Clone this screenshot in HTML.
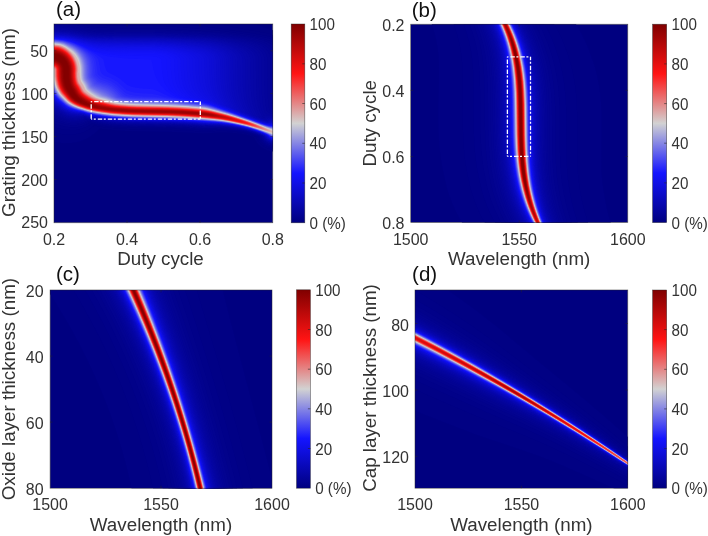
<!DOCTYPE html>
<html><head><meta charset="utf-8"><style>
html,body{margin:0;padding:0;background:#fff;}
body{width:708px;height:536px;overflow:hidden;}
svg{display:block;will-change:transform;font-family:"Liberation Sans", sans-serif;}
</style></head><body>
<svg width="708" height="536" viewBox="0 0 708 536">
<defs><clipPath id="clipa"><rect x="54.0" y="24.0" width="218.80" height="198.80"/></clipPath><linearGradient id="cga" x1="0" y1="1" x2="0" y2="0"><stop offset="0.0" stop-color="rgb(0, 0, 128)"/><stop offset="0.25" stop-color="rgb(20, 20, 255)"/><stop offset="0.5" stop-color="rgb(210, 210, 210)"/><stop offset="0.75" stop-color="rgb(255, 20, 20)"/><stop offset="1.0" stop-color="rgb(128, 0, 0)"/></linearGradient><clipPath id="clipb"><rect x="410.7" y="24.2" width="217.10" height="198.40"/></clipPath><linearGradient id="cgb" x1="0" y1="1" x2="0" y2="0"><stop offset="0.0" stop-color="rgb(0, 0, 128)"/><stop offset="0.25" stop-color="rgb(20, 20, 255)"/><stop offset="0.5" stop-color="rgb(210, 210, 210)"/><stop offset="0.75" stop-color="rgb(255, 20, 20)"/><stop offset="1.0" stop-color="rgb(128, 0, 0)"/></linearGradient><clipPath id="clipc"><rect x="50.1" y="290.0" width="221.90" height="198.20"/></clipPath><linearGradient id="cgc" x1="0" y1="1" x2="0" y2="0"><stop offset="0.0" stop-color="rgb(0, 0, 128)"/><stop offset="0.25" stop-color="rgb(20, 20, 255)"/><stop offset="0.5" stop-color="rgb(210, 210, 210)"/><stop offset="0.75" stop-color="rgb(255, 20, 20)"/><stop offset="1.0" stop-color="rgb(128, 0, 0)"/></linearGradient><clipPath id="clipd"><rect x="415.0" y="290.0" width="212.80" height="198.20"/></clipPath><linearGradient id="cgd" x1="0" y1="1" x2="0" y2="0"><stop offset="0.0" stop-color="rgb(0, 0, 128)"/><stop offset="0.25" stop-color="rgb(20, 20, 255)"/><stop offset="0.5" stop-color="rgb(210, 210, 210)"/><stop offset="0.75" stop-color="rgb(255, 20, 20)"/><stop offset="1.0" stop-color="rgb(128, 0, 0)"/></linearGradient></defs>
<g clip-path="url(#clipa)">
<rect x="54.0" y="24.0" width="218.80" height="198.80" fill="rgb(0, 0, 128)"/>
<path fill="rgb(1,1,132)" fill-rule="evenodd" d="M275.5 151.8 271.5 151.5 268.5 150.8 265.5 149.8 262.5 148.1 260 146.2 257.9 144 255.7 141 253.8 137.5 253.2 137 250.4 136 246.9 135 242 134 233.9 133 226.5 132.5 220 132.4 207.5 133.3 202.5 133.4 186.1 132.5 173.7 132 138 131.3 125.5 130.9 112 130.1 100 128.8 99.5 128.8 99.3 129 96.5 131.8 94 134 91.5 135.8 89.5 137.1 87 138.4 84 139.8 81 140.9 78 141.7 75 142.4 71.5 142.9 68 143.1 64.5 143.2 61 142.9 58 142.6 54.5 141.9 51 141.1 50.6 113 50.5 93.5 50.5 42 50.7 21 51 20.7 52 20.7 247.5 21 247.9 21.5 248.7 22 251 23 275.5 31 275.8 48.5 275.8 107.5 276 133 275.9 143.5 275.5 151.8Z"/><path fill="rgb(1,1,134)" fill-rule="evenodd" d="M275.5 149.7 271.5 149.3 269 148.7 266.5 147.8 264 146.5 261.5 144.6 259.5 142.5 257.7 140 256.1 137 255.3 136.5 254.1 136 249.7 134.5 245.9 133.5 243.6 133 237.1 132 230.5 131.3 226 131 220 130.8 207 131.5 203 131.5 185.7 130.5 173.5 130 138.5 129.3 127.5 129 116 128.3 108.5 127.7 101 126.8 94.5 125.5 94 125.6 91.5 127.6 89 129.3 85 131.4 82.5 132.4 80 133.2 77.5 133.7 75 134.2 72 134.5 69 134.5 66 134.5 63 134.2 60 133.7 57 133.1 54 132.2 51 131.2 50.7 110 50.5 89.5 50.5 41.5 50.8 21 51 20.8 52 20.8 208.7 21 209.5 21.5 210.8 22 216.9 23.5 238.1 28 264.5 32.8 270.5 34.2 275.5 35.6 275.8 50 275.8 107.5 276 133 275.9 143 275.5 149.7Z"/><path fill="rgb(1,1,137)" fill-rule="evenodd" d="M275.5 148.4 271.5 147.9 269 147.3 266.5 146.4 264.5 145.2 262.5 143.7 260.8 142 259.3 140 257.7 137 257.1 136.5 254.8 135.5 250.6 134 244.9 132.5 239.3 131.5 231.1 130.5 224.7 130 220 129.8 206.5 130.3 203 130.3 189.6 129.5 174.5 128.8 163.5 128.5 140 128.1 126.5 127.7 113.5 126.9 106.5 126.2 100 125.4 92.5 123.8 91.5 123.7 89 125.3 86.5 126.7 84 127.8 81.5 128.7 79 129.3 76 129.9 73 130.1 70.5 130.1 66.5 129.8 62.5 129.2 60 128.7 55.5 127.4 51 125.7 50.7 106.5 50.5 85 50.5 41 50.8 21 51 20.8 52 20.8 108.6 21 113.2 21.5 115.5 21.6 129.5 21.9 153 22 158.5 22.2 165.5 22.7 182 24.2 201 26.1 213.5 27.7 231.9 30.5 248 32.7 255 33.8 268 36.3 272 37.3 275.5 38.3 275.7 51.5 275.7 107.5 276 133 275.9 142.5 275.5 148.4Z"/><path fill="rgb(2,2,139)" fill-rule="evenodd" d="M275.5 147.5 271.5 146.9 269.5 146.5 267.5 145.8 265.5 144.7 263.5 143.3 261.7 141.5 260.2 139.5 258.8 137 258.4 136.5 255 135 250.7 133.5 245.1 132 239.7 131 232.3 130 227 129.5 220.5 129.1 203.5 129.5 187.3 128.5 176 128 163.5 127.6 138 127.2 124 126.7 112 125.9 105 125.2 99 124.2 90 122.4 89.5 122.5 87.5 123.6 85 124.8 82.5 125.8 80.5 126.3 78 126.9 75.5 127.2 71 127.3 68.5 127.1 66 126.7 60 125.3 55.5 123.9 51 121.9 50.6 99.5 50.5 62 50.6 38 50.9 21 52 20.9 78.7 21 80 21.5 83.7 22.5 91.3 24 98.5 24.9 106 25.5 120 25.8 152 26 161 26.2 177 27.1 203.5 29.3 227 31.8 241.5 33.7 249 34.8 260.5 36.7 266.5 37.9 271.5 39.3 273.4 40 275.5 41 275.7 54.5 275.7 108.5 276 133 275.9 141.5 275.5 147.5Z"/><path fill="rgb(2,2,142)" fill-rule="evenodd" d="M275.5 146.7 272 146.2 270 145.8 268 145.1 266 144.1 264 142.7 262.3 141 260.8 139 259.4 136.5 257.3 135.5 254.9 134.5 250.5 133 244.8 131.5 239.4 130.5 232.1 129.5 227.2 129 220.5 128.5 217.5 128.5 207.5 128.8 203.5 128.8 190.8 128 174.5 127.2 165.5 127 136 126.4 121.5 125.8 112 125.2 103 124.2 98 123.3 89 121.3 88.5 121.3 88 121.5 85.5 122.7 83 123.7 79.5 124.6 75.5 125.2 71.5 125.2 67 124.7 63 123.7 56 121.4 53.5 120.3 51 119 50.6 97.5 50.5 58 50.6 37.5 51 21 60.8 21 61.5 21.1 67 21.8 72 22.7 85.5 25.5 90.8 26.5 96 27.2 102 27.7 107.5 28 116.5 28.2 153 28.4 164.5 28.7 176.5 29.3 201.5 30.9 217 32.2 226 33.1 234 34.2 249.5 36.3 258 37.7 262.5 38.6 266 39.5 270 41 273.1 42.5 275.5 44 275.6 57 275.6 108 276 133 275.9 141.5 275.5 146.7Z"/><path fill="rgb(3,3,145)" fill-rule="evenodd" d="M275.5 146.1 272 145.6 270 145.2 268.5 144.7 266.5 143.7 264.5 142.3 262.7 140.5 261.2 138.5 260.1 136.5 258.2 135.5 255.9 134.5 251.7 133 246.4 131.5 241.6 130.5 235.3 129.5 226.5 128.5 220 128.1 203.5 128.2 189 127.3 174.5 126.7 165.5 126.4 136 125.9 120.5 125.2 110 124.4 102 123.4 95.5 122.2 87.5 120.4 83 122.2 79.5 123.1 75.5 123.6 71.5 123.6 67.5 123.1 63.5 122.1 57 119.7 52.5 117.6 51 116.7 50.7 104.5 50.6 87.5 50.5 45.5 50.6 34.5 51 23.1 60.5 23.2 66.5 23.7 73 24.8 83.5 27 89 28.1 95.5 28.9 102 29.5 117.5 29.9 153 30 164 30.2 177.5 30.8 201 32.1 214.5 33.1 224.5 34.2 244 36.7 254.5 38.3 259 39.3 262.5 40.3 266.5 41.8 270 43.4 271.7 44.5 273 45.5 275.5 47.8 275.6 107.5 276 133 275.9 141 275.5 146.1Z"/><path fill="rgb(3,3,147)" fill-rule="evenodd" d="M275.5 145.6 270.5 144.7 269 144.3 267 143.3 265 142 263.4 140.5 261.9 138.5 260.8 136.5 258.9 135.5 256.7 134.5 251.1 132.5 245.6 131 240.6 130 234.1 129 225.5 128.1 220 127.7 203.5 127.8 189 126.8 174.5 126.2 165.5 125.9 136 125.4 120 124.6 110 123.9 102 122.9 95.5 121.7 86.5 119.6 83 121 79.5 121.9 76 122.3 72 122.3 68 121.8 64 120.7 57 117.9 53.5 116.3 51 114.8 50.9 111.5 50.6 92 50.5 50.5 50.6 36.5 51 24.8 55 24.6 59.5 24.6 66 25.1 72.5 26.2 83.5 28.5 89 29.5 94 30.1 100 30.6 115 31 153 31.1 164.5 31.3 187 32.3 202.5 33.2 211 33.8 219.5 34.7 236.5 36.7 244.5 37.8 250 38.7 254.5 39.6 259.3 41 263.4 42.5 266.6 44 269.6 46 271 47.1 272.4 48.5 273.2 49.5 274.2 51 275.5 53.7 275.5 107.5 276 133 275.9 140.5 275.5 145.6Z"/><path fill="rgb(3,3,150)" fill-rule="evenodd" d="M275.5 145.1 270.5 144.2 269 143.8 267 142.8 265.2 141.5 263.6 140 262.5 138.5 261.3 136.5 259.6 135.5 256.2 134 250.3 132 244.6 130.5 239.3 129.5 232.6 128.5 226.5 127.8 220 127.3 204 127.4 190.7 126.5 176.5 125.8 165.5 125.5 134.5 124.9 119.5 124.2 109.5 123.4 101.5 122.4 93.5 120.8 86 119 82 120.3 79 120.9 75.5 121.3 72.5 121.2 68.5 120.7 64.5 119.6 61 118.2 54.5 115.3 51 113.1 50.6 94 50.5 56 50.6 38 51 26 55 25.8 59 25.8 65.5 26.3 71.5 27.2 82.5 29.5 87.5 30.4 92.3 31 98.8 31.5 115 31.9 153 32 165 32.2 187.5 33.2 201.5 34 209.5 34.6 230 36.8 240 38.1 245.7 39 250.5 40 255.8 41.5 260 43 263.2 44.5 265.7 46 267.5 47.3 268.8 48.5 270.1 50 271.4 52 272.4 54 272.9 56 273.4 58.5 273.4 60 273.5 87.5 273.8 98.5 274.3 106 274.7 107.5 275.5 109.1 275.9 125 276 133 275.9 140 275.5 145.1Z"/><path fill="rgb(4,4,152)" fill-rule="evenodd" d="M275.5 144.7 270.5 143.8 269 143.3 267.5 142.6 265.8 141.5 264.2 140 263 138.5 261.8 136.5 260.1 135.5 256.8 134 251.1 132 245.6 130.5 240.7 129.5 234.5 128.5 226.1 127.5 220 127 203.5 127 188.6 126 178.5 125.5 164 125.1 136 124.5 127.5 124.2 118 123.7 108.5 122.9 101 121.9 93 120.3 85.5 118.4 85 118.5 81 119.7 78.5 120.1 75.5 120.4 72.5 120.3 68.5 119.7 65 118.7 62 117.5 55.5 114.5 53.5 113.3 51 111.7 50.6 93.5 50.5 56 50.6 38.5 51 27 55 26.8 59 26.8 65.5 27.3 71.5 28.2 80.1 30 85.6 31 92 31.8 99 32.3 115 32.6 153 32.8 164 33 184.5 33.8 200.5 34.7 208.5 35.3 218.5 36.2 227.5 37.2 236 38.4 242.8 39.5 248 40.7 252.7 42 256.9 43.5 260 44.9 262 46.1 264.1 47.5 265.5 48.7 266.7 50 268.2 52 269 53.5 269.5 55 270.2 58 270.4 60 270.6 91.5 270.8 98.5 271.2 104 271.6 107.5 272.1 108.5 272.7 109.5 273.4 110.5 275.5 112.4 275.9 124.5 275.9 133 275.8 140 275.5 144.7Z"/><path fill="rgb(4,4,155)" fill-rule="evenodd" d="M275.5 144.3 270.5 143.4 269 142.9 267.5 142.2 266 141.2 264.5 139.8 263.1 138 262.2 136.5 261.6 136 259.6 135 256.1 133.5 251.8 132 246.5 130.5 239.1 129 232.6 128 225 127.1 220 126.7 204 126.6 187.5 125.6 176.5 125.1 165.5 124.7 134 124.1 124 123.7 112.5 122.9 106 122.2 99.5 121.3 92 119.7 85 117.9 84.5 118 80.5 119 77.5 119.5 74 119.5 70.5 119.2 67.5 118.6 64.5 117.6 61.5 116.3 56.5 113.8 53.5 112.1 51 110.4 50.6 92.5 50.5 56 50.6 38.5 51 27.9 55 27.7 59 27.7 65 28.1 70 28.9 81 31 86 31.8 92 32.5 99 33 115 33.3 153 33.5 165 33.7 185 34.6 203.5 35.7 211.5 36.3 220.5 37.1 227.5 37.9 234.6 39 240 40 245.5 41.3 249.8 42.5 254 44 257 45.4 259 46.5 261.2 48 262.9 49.5 264 50.7 265.3 52.5 266.1 54 266.6 55.5 267.2 58 267.4 60 267.6 90.5 267.8 97 268.2 102.5 268.8 107.5 269.1 109 269.3 109.5 270.1 110.5 271.1 111.5 272.6 112.5 275.5 114.2 275.9 124.5 275.9 133 275.8 139.5 275.5 144.3Z"/><path fill="rgb(5,5,157)" fill-rule="evenodd" d="M275.5 144 271 143.2 269.5 142.7 268 142 266.5 141.1 265 139.8 263.9 138.5 262.6 136.5 262 136 259.1 134.5 255.3 133 250.9 131.5 245.2 130 237.4 128.5 230.5 127.5 226.1 127 219.5 126.5 204 126.3 191.4 125.5 176.5 124.8 166 124.4 134 123.8 124.5 123.4 115.5 122.8 108.5 122.2 101 121.2 91.5 119.3 84.5 117.4 80.5 118.3 77.5 118.8 74.5 118.8 71.5 118.6 69 118.1 66.5 117.5 64 116.6 61.5 115.4 55 112 53 110.7 51 109.2 50.7 92 50.5 56 50.6 39 51 28.7 55 28.5 59 28.5 65 28.9 70.5 29.7 79.9 31.5 86 32.5 92 33.2 98.5 33.6 115 34 153 34.1 164 34.3 184 35.2 202.5 36.2 211 36.8 217.5 37.4 224.5 38.2 229.7 39 235.2 40 241.8 41.5 246.5 42.8 250.5 44.2 254 45.8 256.2 47 258.5 48.5 259.6 49.5 261 51 262.2 52.5 263.1 54 263.5 55 264.1 57.5 264.4 60 264.5 80.5 264.7 91.5 265 98.5 265.5 104 266.5 109.5 266.9 111 267.3 111.5 268.5 112.4 269.6 113 275.5 115.4 275.9 125 275.9 133 275.8 139.5 275.5 144Z"/><path fill="rgb(5,5,160)" fill-rule="evenodd" d="M275.5 143.7 270.5 142.7 268 141.7 266.5 140.7 265.2 139.5 263.9 138 263 136.5 262.4 136 259.5 134.5 255.8 133 251.4 131.5 246 130 238.5 128.5 232.1 127.5 223.5 126.5 219.5 126.2 204 126.1 187.7 125 171.5 124.3 131.5 123.4 121 122.9 113.5 122.4 107 121.7 100 120.7 91 118.9 84 117 80 117.8 77 118.2 74.5 118.2 71.5 117.9 69 117.4 66.5 116.7 64 115.8 62 114.8 55.5 111.3 53 109.7 51 108.1 50.7 91.5 50.5 56 50.6 39.5 51 29.4 55 29.2 59 29.2 65 29.6 70 30.3 85.5 33 92 33.8 98.5 34.2 115 34.6 152.5 34.7 162.5 34.9 184.5 35.8 202 36.7 210 37.3 217 38 223 38.7 228.1 39.5 233 40.5 239.4 42 244 43.3 247.5 44.5 251.5 46.3 253.6 47.5 255.5 48.8 256.9 50 258.3 51.5 259.5 53 260.1 54 260.5 55 261.2 57.5 261.6 60 261.6 81 261.8 92 262.2 99 263 105 264.1 110 265 113 265.4 113.5 267 114.2 272.5 115.4 275.5 116.3 275.8 125 275.9 133 275.8 139.5 275.5 143.7Z"/><path fill="rgb(5,5,162)" fill-rule="evenodd" d="M275.5 143.4 270.5 142.4 269 141.9 268 141.3 266.5 140.3 265.5 139.4 264.3 138 263.4 136.5 262.8 136 259.9 134.5 256.3 133 252 131.5 246.7 130 239.5 128.5 233.4 127.5 225.3 126.5 219.3 126 203.5 125.8 186 124.6 171 124 132.5 123.2 123 122.8 114 122.1 105.5 121.3 99.5 120.4 91.5 118.7 84 116.7 79 117.4 76.5 117.6 74 117.6 71.5 117.3 69 116.8 67 116.2 64.5 115.3 62.5 114.4 55.5 110.5 53.5 109.2 51 107.2 50.7 91 50.5 56 50.6 39.5 51 30 55 29.8 58.5 29.8 64.5 30.2 70 30.9 81.5 32.9 86.5 33.7 92.5 34.4 98.5 34.8 114.5 35.2 152.5 35.3 162.5 35.4 184 36.3 201 37.2 208.5 37.7 215 38.3 220.4 39 225.5 39.8 230.5 40.8 236 42.2 241 43.6 245 45 248.5 46.6 251 47.9 252.6 49 254 50.2 255.7 52 256.8 53.5 257.4 54.5 258.5 58 258.7 60 258.9 86.5 259.3 96.5 259.8 101.5 260.4 105.5 261.3 109 262.5 112.5 263.7 115.5 264 115.8 271 116.1 273.5 116.6 275.5 117.1 275.8 125 275.9 133 275.8 139 275.5 143.4Z"/><path fill="rgb(6,6,165)" fill-rule="evenodd" d="M275.5 143.1 271 142.3 269.5 141.8 268.5 141.3 267 140.4 266 139.5 264.6 138 263.7 136.5 263.1 136 260.3 134.5 255.4 132.5 250.9 131 245.3 129.5 237.6 128 231.1 127 222.1 126 218.5 125.8 204 125.6 188 124.5 173 123.8 131.5 122.9 121 122.4 113.5 121.9 107 121.2 100 120.2 91 118.3 84 116.4 82.5 116.5 79.5 116.9 76.5 117.1 74 117.1 71.5 116.8 67.5 115.8 65 114.9 63 114 55.5 109.7 53.5 108.3 51 106.3 50.7 90.5 50.5 56 50.6 40 51 30.5 55 30.3 58.5 30.4 64.5 30.7 71 31.6 81.7 33.5 86.5 34.2 93 35 98.5 35.3 114 35.7 152.5 35.8 163 35.9 184 36.7 200.5 37.6 207 38.1 213.5 38.7 219.3 39.5 224 40.3 229 41.4 234 42.6 238.6 44 242.5 45.4 246 47 247.9 48 249.5 49 251 50.3 252.8 52 253.9 53.5 254.5 54.5 255.7 58 255.9 60 256.1 86.5 256.6 96.5 257.1 101 257.8 105 258.9 109 260.1 112.5 262.3 117 262.7 117.5 263 117.7 263.5 117.8 264 117.8 267 117.2 270 117 273 117.2 275.5 117.8 275.8 125.5 275.9 133 275.8 139 275.5 143.1Z"/><path fill="rgb(6,6,167)" fill-rule="evenodd" d="M275.5 142.9 271 142 270 141.7 268.5 141 267 140 266 139.2 265 138 264 136.5 263.4 136 260.7 134.5 255.8 132.5 251.4 131 245.9 129.5 238.5 128 232.3 127 224 126 218.5 125.6 203.5 125.3 186 124.2 171.5 123.5 132 122.7 123 122.3 114 121.7 105.5 120.8 99.5 119.9 91.5 118.2 87.5 117.2 83.5 116.1 76.5 116.6 74.5 116.6 72 116.4 69.5 115.9 67.5 115.3 63.5 113.6 55.5 109 53 107.2 51 105.4 50.7 90 50.5 56 50.6 40 51 31 55 30.9 58.5 30.9 64.5 31.2 71 32.1 81.6 34 87.5 34.9 93 35.5 98 35.8 113.5 36.1 152.5 36.2 163.5 36.4 184 37.2 205.6 38.5 211.5 39.1 217 39.8 222.5 40.8 227.5 41.9 232 43 236.6 44.5 240.5 46 243.7 47.5 245.5 48.5 247 49.5 248.8 51 250.3 52.5 251.1 53.5 251.7 54.5 252.5 56.5 252.9 58 253.2 60 253.4 86 253.6 91.5 253.9 96 254.4 100.5 255.2 104.5 256.3 108.5 257.7 112 258.9 114.5 260.2 117 262.1 118 264 118.8 264.5 118.9 267.5 118.1 270.5 117.7 273 117.8 275.5 118.4 275.8 125.5 275.9 133 275.8 139 275.5 142.9Z"/><path fill="rgb(7,7,170)" fill-rule="evenodd" d="M275.5 142.7 271 141.8 269.5 141.2 268.5 140.7 267.3 140 266.2 139 265.3 138 264.3 136.5 263.7 136 262 135 259.9 134 254.8 132 250.1 130.5 244.3 129 236.5 127.5 229.8 126.5 219.5 125.4 204 125.1 188 124.1 177 123.5 164 123.1 134.5 122.5 125 122.1 113.5 121.4 107 120.7 100 119.7 90.5 117.7 83.5 115.8 76 116.2 74 116.1 72 115.9 70 115.5 68 114.9 66 114.2 64 113.3 62 112.3 55.5 108.3 53.1 106.5 51 104.6 50.7 89.5 50.5 56 50.6 40.5 51 31.5 55 31.3 58.5 31.3 64.5 31.7 71 32.6 86 35.2 91.5 35.8 97.5 36.2 113 36.5 152.5 36.6 163.5 36.8 183 37.6 204 38.9 210 39.5 214.5 40.1 220 41.1 225 42.1 229.5 43.3 233.3 44.5 237.2 46 240.6 47.5 242.5 48.5 244 49.5 245.9 51 247.4 52.5 248.3 53.5 248.9 54.5 249.7 56.5 250.3 58.5 250.5 60 250.6 83.5 251.1 93.5 251.5 98 252.2 102 253 105.5 254 108.5 255.5 112 257.6 116 258 116.5 260.8 118 263.2 119 265 119.6 265.5 119.6 268 118.7 270.5 118.4 273 118.4 275.5 118.9 275.8 126 275.9 133 275.8 138.5 275.5 142.7Z"/><path fill="rgb(7,7,172)" fill-rule="evenodd" d="M275.5 142.4 271.5 141.7 270 141.2 269 140.8 267.5 139.8 266.5 139 265.6 138 264.5 136.5 264 136 262.3 135 260.2 134 255.2 132 250.6 130.5 244.9 129 237.3 127.5 230.8 126.5 225 125.8 219.5 125.3 203.5 124.9 190.6 124 181.3 123.5 167.5 123 134 122.3 123 121.8 113.5 121.2 105.5 120.3 99 119.3 91 117.7 87.5 116.8 83.5 115.6 76 115.8 74 115.7 72 115.5 70 115 68 114.5 66 113.7 64 112.8 62 111.7 55.5 107.7 53 105.7 51 103.9 50.7 89.5 50.5 56 50.6 40.5 51 31.9 55 31.7 58.5 31.7 64.5 32.1 70.5 32.9 85.1 35.5 90.5 36.1 97 36.6 113 36.9 152.5 37 163.5 37.2 182 37.9 202 39.2 207.5 39.8 212.8 40.5 218 41.4 223 42.5 227 43.5 230.2 44.5 234.1 46 237.5 47.5 241.1 49.5 243 51 244.6 52.5 245.5 53.5 246.2 54.5 247 56.5 247.6 58.5 247.8 60 248 83 248.5 93 248.9 97.5 249.6 101.5 250.5 105 251.7 108.5 253.3 112 255.3 115.5 255.9 116 256.8 116.5 259.7 118 263.3 119.5 265.5 120.2 266 120.2 267.5 119.6 269 119.2 271 118.9 273 118.9 275.5 119.4 275.8 126 275.9 133 275.8 138.5 275.5 142.4Z"/><path fill="rgb(7,7,175)" fill-rule="evenodd" d="M275.5 142.2 271 141.3 269 140.5 267.5 139.6 266.5 138.7 264.3 136 262.6 135 260.5 134 255.5 132 251 130.5 245.4 129 238 127.5 231.8 126.5 223.8 125.5 219.5 125.1 204 124.7 193.5 124 182.5 123.4 167.5 122.8 134 122.1 123.5 121.7 113 120.9 106 120.2 99.5 119.2 90.5 117.3 86.5 116.3 83.5 115.4 75.5 115.4 72 115.1 68.5 114.2 66.5 113.5 64.5 112.6 62 111.2 56 107.4 53.5 105.5 51 103.2 50.7 89 50.5 56 50.6 41 51 32.2 59 32.1 64.5 32.5 70.5 33.3 81.5 35.3 85.5 36 90.5 36.5 97 36.9 113 37.3 152.5 37.4 162.5 37.5 180.5 38.3 198.9 39.5 204.3 40 210 40.7 215 41.5 219.8 42.5 223.8 43.5 227.2 44.5 231.2 46 234.6 47.5 236.5 48.5 238.5 49.7 240.8 51.5 242.3 53 243.1 54 243.7 55 244.6 57 245 58.5 245.2 60 245.4 82.5 245.6 88.5 245.9 93 246.5 97.5 247.3 101.5 248.2 105 249.6 108.5 251.5 112.5 252.7 114.5 253.1 115 256.7 117 259.9 118.5 263.7 120 266 120.6 266.5 120.6 269 119.7 271 119.4 273 119.3 275.5 119.8 275.8 126 275.9 133 275.8 138.5 275.5 142.2Z"/><path fill="rgb(8,8,178)" fill-rule="evenodd" d="M275.5 142 271.5 141.2 270 140.8 269 140.3 267 138.9 266 137.9 265 136.5 264.5 136 263.8 135.5 259.7 133.5 254.5 131.5 249.7 130 243.7 128.5 235.8 127 229.2 126 219.5 125 204 124.5 188.6 123.5 178.7 123 166 122.6 132.5 121.9 122.5 121.4 113.5 120.8 105 119.9 98.5 118.8 91 117.3 83 115.1 76 115.1 74 115 72 114.7 68.5 113.8 65 112.4 62 110.7 56 106.9 53.5 104.9 51 102.5 50.7 88.5 50.6 56 50.6 41 51 32.6 59 32.5 64.5 32.9 70.5 33.7 80.1 35.5 84.5 36.2 90.5 36.9 97 37.3 113.5 37.6 152 37.7 161 37.9 177 38.5 192.7 39.5 201 40.2 206 40.8 211.5 41.6 216.3 42.5 220.7 43.5 224.2 44.5 228.4 46 231.8 47.5 235.4 49.5 238 51.5 239.6 53 240.5 54 241.1 55 241.9 57 242.4 58.5 242.6 60 242.8 82.5 243 88 243.4 92.5 244 97 244.8 101 246 105 247.5 108.5 249 111.5 250.5 114 252 115 254.8 116.5 260.2 119 264.3 120.5 266.5 121.1 267 121 269 120.2 271 119.8 273.5 119.8 275.5 120.2 275.8 126.5 275.9 133 275.8 138 275.5 142Z"/><path fill="rgb(8,8,180)" fill-rule="evenodd" d="M275.5 141.8 272 141.1 270.5 140.7 269.5 140.3 268.1 139.5 267 138.6 266 137.5 265 136.2 264 135.5 260 133.5 254.8 131.5 250.1 130 244.2 128.5 236.5 127 230.1 126 225 125.4 219.5 124.8 203.5 124.4 191.5 123.5 182.5 123 168 122.4 134 121.8 123.5 121.3 113.5 120.6 105.5 119.8 99 118.7 90 116.8 83 114.9 76 114.8 72 114.3 69 113.6 65.5 112.2 62 110.3 56 106.4 53.5 104.3 51 101.9 50.7 88.5 50.6 56 50.6 41.5 51 32.9 59 32.9 64.5 33.2 70.5 34.1 78 35.5 84.2 36.5 90.5 37.2 97 37.7 114 38 152 38.1 160 38.2 175 38.8 189.5 39.7 204 41.1 209.5 41.9 214 42.7 218.5 43.8 222.5 44.9 226.9 46.5 230 47.9 232 49 233.5 50 235.4 51.5 237 53 237.9 54 238.5 55 239.3 57 239.8 58.5 240 60 240.1 73.5 240.3 82 240.5 87.5 240.9 92 241.5 96.5 242.4 100.5 243.7 104.5 245.2 108 247.7 112.5 248 113 248.5 113.5 253.9 116.5 259.4 119 263.4 120.5 265.1 121 267 121.4 269 120.7 271 120.2 273.5 120.2 275.5 120.5 275.8 126.5 275.9 133 275.8 138 275.5 141.8Z"/><path fill="rgb(9,9,183)" fill-rule="evenodd" d="M275.5 141.7 271.5 140.8 269.5 140.1 267.5 138.8 266.5 137.8 265 136 264.2 135.5 260.3 133.5 255.1 131.5 250.4 130 244.7 128.5 237.2 127 231 126 223.5 125.1 219.5 124.7 204 124.2 194.1 123.5 182.5 122.8 167.5 122.3 134 121.6 123.5 121.1 112.5 120.3 103.5 119.3 97 118.2 88.5 116.3 83 114.7 76 114.5 72.5 114.1 69 113.2 65.5 111.8 62.5 110.2 56 105.9 53.5 103.8 51 101.3 50.7 88 50.6 56 50.7 41.5 51 33.2 59.5 33.2 64.5 33.6 70 34.3 78.9 36 84.5 36.9 90.5 37.6 97 38 114 38.4 159 38.6 173 39.1 186.7 40 202.5 41.6 207.5 42.2 211.8 43 216.3 44 219.9 45 224.2 46.5 227.6 48 229.5 49 231 50 233 51.5 234.6 53 235.4 54 236 55 236.9 57 237.4 58.5 237.5 60 237.6 73 237.8 81.5 238 87 238.4 91.5 239.1 96 240.1 100 241.4 104 243 107.5 244.4 110 245.9 112.5 248.4 114 251.2 115.5 255.3 117.5 258.7 119 262.6 120.5 265 121.2 267 121.7 267.5 121.7 270 120.8 271.5 120.5 273.5 120.5 275.5 120.8 275.8 126.5 275.9 133 275.8 138 275.5 141.7Z"/><path fill="rgb(9,9,185)" fill-rule="evenodd" d="M275.5 141.5 271.5 140.6 269.5 139.9 268.5 139.3 267.5 138.6 266.5 137.6 265.2 136 264.5 135.5 260.5 133.5 255.4 131.5 250.8 130 245.1 128.5 237.8 127 231.5 126 224.1 125 219.5 124.6 204 124 190 123.1 180.5 122.6 166 122.1 132.5 121.4 121.5 120.8 113 120.2 103.5 119.1 96 117.8 89 116.3 83 114.5 76.5 114.2 72.5 113.8 69.5 113.1 66 111.7 62.5 109.8 56.5 105.8 53.7 103.5 51 100.7 50.7 88 50.6 56 50.6 42 51 33.5 59.5 33.5 64 33.9 69 34.5 79 36.3 84.5 37.2 91 37.9 97.5 38.4 114.5 38.7 158 38.9 171 39.4 183 40.2 201 42 209 43.1 213.1 44 217 45 221.5 46.5 225.1 48 227 49 228.6 50 230.6 51.5 232.2 53 233 54 233.6 55 234.9 58 235.2 60 235.3 73.5 235.5 82 235.7 87 236.2 91.5 236.9 96 237.9 100 239.4 104 241.1 107.5 243.5 111.5 244.1 112 246.6 113.5 250.4 115.5 254.6 117.5 259.3 119.5 263.4 121 265.1 121.5 267.5 122 270 121.1 271.5 120.9 273.5 120.8 275.5 121.1 275.8 126.5 275.9 133 275.8 138 275.5 141.5Z"/><path fill="rgb(9,9,188)" fill-rule="evenodd" d="M275.5 141.3 271.5 140.5 269.5 139.7 268.5 139.1 267.5 138.4 265.5 136 263.9 135 259.6 133 254.2 131 249.4 129.5 243.3 128 235.5 126.5 229.1 125.5 219.5 124.4 203.5 123.9 191.2 123 182.2 122.5 168 122 133 121.2 123 120.8 113.5 120.1 104.5 119.1 96.5 117.8 89.5 116.2 83 114.4 76 113.9 72.5 113.5 69.5 112.8 66 111.4 63 109.7 56.5 105.3 53.7 103 51 100.1 50.7 87.5 50.6 56 50.7 42 51 33.8 59.5 33.9 64 34.2 68.5 34.8 79 36.7 85 37.6 91 38.3 97.5 38.7 115 39.1 158 39.3 170 39.8 182 40.6 200 42.4 208 43.6 212 44.5 216.5 45.8 220.1 47 223.5 48.4 226.5 50.2 228.2 51.5 229.9 53 230.8 54 231.4 55 232.3 57 232.7 58.5 232.9 60 233 73 233.2 81 233.5 86.5 233.9 91 234.7 95.5 235.7 99.5 237.3 103.5 239 107 241.1 110.5 241.6 111 242.4 111.5 245.8 113.5 248.7 115 254 117.5 258.7 119.5 264.4 121.5 267.5 122.2 268 122.2 270.5 121.3 272 121.1 274 121.2 275.5 121.4 275.8 127 275.9 133 275.8 137.5 275.5 141.3Z"/><path fill="rgb(10,10,190)" fill-rule="evenodd" d="M275.5 141.2 272 140.4 270 139.8 269 139.3 268 138.6 266.9 137.5 265.7 136 264.1 135 259.9 133 254.5 131 249.7 129.5 243.8 128 236.1 126.5 229.8 125.5 219.5 124.3 204 123.8 193.5 123 182.5 122.4 168 121.8 133 121.1 123.5 120.6 112 119.8 103.5 118.8 97 117.7 88.5 115.8 83 114.2 76 113.7 72.5 113.2 69 112.3 66 111.1 63 109.4 56.5 104.9 53.7 102.5 51 99.5 50.7 87.5 50.6 56 50.7 42 51 34.1 59.5 34.2 64 34.5 69 35.2 79.2 37 85 37.9 91 38.6 97.5 39.1 114.5 39.5 157 39.7 168.5 40.1 180.5 41 195.6 42.5 202 43.3 206.2 44 210.5 44.9 214.4 46 218 47.2 221.1 48.5 223 49.5 224.5 50.5 226.5 52 227.6 53 228.5 54 229.1 55 230.4 58 230.7 60 230.8 73 231 81.5 231.3 86.5 231.8 91 232.6 95.5 233.8 99.5 235.4 103.5 237.3 107 239.2 110 242.3 112 246 114 249 115.5 254.6 118 259.4 120 264 121.6 266 122.1 268 122.5 270.5 121.7 272 121.4 273.5 121.4 275.5 121.7 275.8 127 275.9 133 275.8 137.5 275.5 141.2Z"/><path fill="rgb(10,10,193)" fill-rule="evenodd" d="M275.5 141 272 140.3 270 139.6 269 139.1 268 138.4 267.1 137.5 265.9 136 264.3 135 260.1 133 254.8 131 250 129.5 244.2 128 236.7 126.5 230.5 125.5 223.5 124.6 219.5 124.2 204 123.6 192 122.8 181 122.2 166 121.6 132.5 120.9 121.5 120.4 112.5 119.7 103.5 118.7 96 117.4 88.5 115.7 83 114.1 75.5 113.4 72 112.9 69 112 66 110.7 62.5 108.7 56.5 104.5 53.7 102 51 99 50.7 87 50.6 56 50.7 42.5 51 34.3 54 34.5 59.5 34.5 64 34.8 70 35.6 80 37.4 85.5 38.3 91 39 97.5 39.5 105 39.7 115 39.9 156.5 40.1 167.5 40.5 179 41.3 192.5 42.7 200.5 43.7 204.5 44.4 208.5 45.2 212.5 46.3 216.2 47.5 219 48.7 220.6 49.5 222.2 50.5 224.3 52 225.4 53 226.3 54 227 55 228.3 58 228.5 59 228.6 60 228.7 73 228.9 81.5 229.3 86.5 229.8 91 230.7 95.5 231.9 99.5 233.4 103 235.6 107 236.9 109 237.4 109.5 242.4 112.5 246.3 114.5 250.6 116.5 256.4 119 260.2 120.5 264.8 122 268 122.7 268.5 122.7 270.5 121.9 272 121.7 274 121.7 275.5 122 275.8 127 275.9 133 275.8 137.5 275.5 141Z"/><path fill="rgb(11,11,195)" fill-rule="evenodd" d="M275.5 140.9 272 140.1 270 139.4 269 138.9 268 138.2 266.1 136 264.5 135 260.3 133 255 131 250.3 129.5 244.6 128 237.2 126.5 231.2 125.5 223.7 124.5 219 124.1 203.5 123.5 190 122.5 181 122 166.9 121.5 132.5 120.8 121.5 120.2 112.5 119.6 104 118.6 96 117.2 89 115.7 83 113.9 76 113.2 72.5 112.7 69.5 111.9 66.5 110.7 63 108.7 56.5 104.1 53.6 101.5 51 98.5 50.8 86.5 50.6 56 50.7 42.5 51 34.6 59.5 34.7 65 35.2 69.5 35.8 81 37.9 86 38.7 91.5 39.4 97.5 39.9 105 40.1 115 40.3 156.5 40.5 167 40.9 178 41.7 190.4 43 197.9 44 203 44.8 207 45.7 211 46.7 214.5 47.9 217.2 49 219.1 50 221 51.3 222.6 52.5 223.7 53.5 224.8 55 225.8 57 226.3 58.5 226.5 60 226.6 72.5 226.8 80.5 227.2 86 227.7 90.5 228.6 95 229.9 99 231.4 102.5 233.7 106.5 235 108.5 237.3 110 240.8 112 244.7 114 249 116 254.7 118.5 259.8 120.5 264.2 122 266.1 122.5 268 122.9 268.5 122.9 270.5 122.2 272 121.9 273.5 121.9 275.5 122.2 275.8 127.5 275.9 133 275.8 137.5 275.5 140.9Z"/><path fill="rgb(11,11,198)" fill-rule="evenodd" d="M275.5 140.7 271.5 139.8 270 139.3 269 138.7 268 138 266.2 136 263.8 134.5 259.3 132.5 253.8 130.5 248.8 129 242.7 127.5 234.9 126 228.4 125 219.5 124 203.5 123.3 192.1 122.5 183 122 168 121.4 133 120.7 123 120.2 112 119.4 103 118.3 96.5 117.2 88.5 115.4 83 113.8 75.5 113 72 112.4 69.5 111.7 67 110.7 65 109.6 63 108.4 56.5 103.7 53.5 101 51 98 50.8 86.5 50.6 56 50.7 43 51 34.8 54.5 35 60 35 65 35.5 70 36.2 86.5 39.1 92 39.8 97.5 40.3 105 40.6 115 40.7 156 40.9 166 41.3 176.5 42.1 189.9 43.5 201.5 45.3 205.1 46 209.1 47 212.2 48 215 49.1 216.7 50 219 51.5 220.4 52.5 221.5 53.5 222.7 55 224.1 58 224.3 59 224.4 60 224.5 73 224.8 81 225.1 86 225.7 90.5 226.5 94.5 227.9 98.5 229.7 102.5 232.1 106.5 233.3 108 236.5 110 241.1 112.5 245.1 114.5 249.6 116.5 255.5 119 260.7 121 265.4 122.5 268.5 123.1 269 123 271 122.4 272 122.2 274 122.2 275.5 122.4 275.8 127.5 275.9 133 275.8 137.5 275.5 140.7Z"/><path fill="rgb(11,11,200)" fill-rule="evenodd" d="M275.5 140.6 272 139.8 270 139.1 269 138.6 268 137.8 266.4 136 264 134.5 259.5 132.5 254 130.5 249.1 129 243.1 127.5 235.4 126 229.1 125 219.5 123.9 204 123.2 194 122.5 183 121.9 168 121.3 134.5 120.6 124 120.1 112.5 119.3 103.5 118.3 95.5 116.9 88.5 115.3 83 113.6 75.5 112.8 72 112.1 69.5 111.4 67 110.4 65 109.3 63 108.1 56.6 103.5 53.9 101 51 97.5 50.8 86.5 50.6 56 50.7 43 51 35.1 60 35.3 65 35.7 71 36.6 82 38.7 87.5 39.6 92.5 40.2 98 40.7 105.5 41 115.5 41.2 156 41.3 166 41.8 176 42.5 182.5 43.2 189.2 44 201 45.9 204.5 46.6 207.8 47.5 210.9 48.5 213.2 49.5 216.7 51.5 218.2 52.5 219.3 53.5 220.5 55 221.6 57 222.1 58.5 222.3 60 222.4 72 222.7 80 223.1 85.5 223.7 90 224.7 94.5 226.1 98.5 227.8 102 230.3 106 231 107 232.4 108 235.7 110 240.5 112.5 248 116 255.1 119 260.2 121 264.8 122.5 266.9 123 268.5 123.2 269 123.2 271 122.6 272.5 122.4 274 122.4 275.5 122.7 275.8 127.5 275.9 133 275.8 137 275.5 140.6Z"/><path fill="rgb(12,12,203)" fill-rule="evenodd" d="M275.5 140.4 272 139.7 270 139 269 138.4 268 137.6 266.6 136 264.2 134.5 259.7 132.5 254.3 130.5 249.4 129 243.4 127.5 235.8 126 229.7 125 222 124 219 123.7 204 123.1 192 122.2 181 121.6 166 121.1 132.5 120.4 121.5 119.8 112.5 119.2 104 118.2 95.5 116.7 88.5 115.2 83 113.5 76 112.6 72 111.9 69.5 111.2 67 110.1 65 109.1 63 107.8 57 103.4 55.5 102.2 53.8 100.5 51 97 50.8 86.5 50.6 56 50.7 43.5 51 35.3 55 35.5 60 35.6 65 36 70.5 36.8 87.5 39.9 92.5 40.6 98 41.1 105.5 41.4 115.5 41.6 155.5 41.8 165 42.2 174.5 42.9 180.9 43.5 187.5 44.4 200 46.5 203.5 47.2 206.5 48 209 48.8 211 49.7 214.4 51.5 215.9 52.5 217.1 53.5 218.3 55 219.4 57 220 58.5 220.2 60 220.3 71.5 220.6 79.5 221 85 221.6 89.5 222.5 93.5 223.9 97.5 225.6 101 228.1 105 229.2 106.5 229.9 107 234.1 109.5 237.9 111.5 246.3 115.5 258.5 120.5 264.3 122.5 268 123.3 269 123.4 271 122.8 272.5 122.6 274 122.6 275.5 122.9 275.8 127.5 275.9 133 275.8 137 275.5 140.4Z"/><path fill="rgb(12,12,205)" fill-rule="evenodd" d="M275.5 140.3 271.5 139.4 270 138.8 268.5 137.8 266.8 136 264.4 134.5 260 132.5 254.5 130.5 249.7 129 243.7 127.5 236.3 126 230.3 125 222.7 124 218 123.6 203.5 123 190.1 122 181 121.5 167.1 121 132.5 120.3 122 119.8 112.5 119.1 104.5 118.1 96 116.7 89 115.2 83 113.4 75.5 112.4 72 111.7 70 111.1 67.5 110.1 65.5 109.1 63.5 107.9 57 103.1 55.5 101.8 54 100.3 52.5 98.5 51 96.6 50.8 86 50.6 56 50.7 43.5 51 35.5 60 35.8 66 36.3 72 37.3 88 40.4 93 41.1 98 41.5 105.5 41.8 115.5 42 155 42.2 164 42.5 173 43.2 184.3 44.5 196.3 46.5 203.5 48.1 206.6 49 209.1 50 212.8 52 214.2 53 215.4 54 216.2 55 216.8 56 217.5 57.5 217.9 58.5 218.1 60 218.3 72 218.5 79.5 218.9 84.5 219.5 89 220.6 93.5 222.1 97.5 223.9 101 226.6 105 227.4 106 229 107 233.4 109.5 238.3 112 247.1 116 259.5 121 263.9 122.5 268 123.5 269.5 123.6 271 123 272.5 122.8 274 122.8 275.5 123.1 275.8 127.5 275.9 133 275.8 137 275.5 140.3Z"/><path fill="rgb(13,13,208)" fill-rule="evenodd" d="M275.5 140.2 272 139.4 270.5 138.9 269.5 138.4 268.5 137.7 266.9 136 264.5 134.5 260.2 132.5 253.2 130 248.1 128.5 241.8 127 233.9 125.5 227.4 124.5 218.3 123.5 203.5 122.9 192 122 183 121.5 168 120.9 133 120.2 123 119.7 112 118.9 103 117.8 94.5 116.3 88 114.8 83 113.3 75.5 112.2 72 111.5 69.5 110.7 67.5 109.9 65.5 108.9 63.5 107.6 57 102.8 55.5 101.5 54 99.9 52.4 98 51 96.1 50.8 85.5 50.6 56 50.7 43.5 51 35.7 60.5 36.1 66 36.6 73 37.7 88 40.8 93 41.5 98 42 105.5 42.3 115.5 42.4 155 42.6 163.8 43 172.5 43.7 183.5 45 195 47 202.5 48.7 205 49.5 207.5 50.5 211 52.4 213.1 54 213.9 55 214.6 56 215.4 57.5 215.8 58.5 216 60 216.1 71.5 216.4 79 216.8 84 217.5 88.5 218.6 93 220.1 97 222 100.5 224.7 104.5 225.6 105.5 228.1 107 232.7 109.5 237.8 112 246.6 116 259.1 121 263.5 122.5 265.5 123.1 268 123.6 269.5 123.7 271.5 123.1 273 123 274.5 123.1 275.5 123.3 275.8 128 275.8 133 275.8 137 275.5 140.2Z"/><path fill="rgb(13,13,211)" fill-rule="evenodd" d="M275.5 140.1 272 139.3 270.5 138.8 269.5 138.3 268.5 137.5 267 135.9 264.7 134.5 260.3 132.5 253.4 130 248.4 128.5 242.1 127 234.4 125.5 228 124.5 219.5 123.5 204 122.8 193.6 122 183 121.4 168 120.8 133 120.1 123.5 119.6 112 118.8 103 117.7 94.5 116.2 88.5 114.8 82.5 113.1 76 112.1 72 111.3 70 110.7 67.5 109.7 65.5 108.6 63.5 107.4 57 102.5 55.5 101.1 54 99.5 52.3 97.5 51 95.6 50.8 85.5 50.6 56 50.7 43.5 51 35.9 60.5 36.3 66 36.8 72.5 37.9 88 41.1 93 41.9 98 42.4 105.5 42.7 115.5 42.9 155 43.1 163.5 43.5 171.5 44.1 182 45.4 193 47.3 201 49.2 203.3 50 206 51.1 208.7 52.5 210.7 54 211.6 55 212.3 56 213.2 57.5 213.6 58.5 213.9 60 214 71.5 214.3 79 214.7 84 215.4 88.5 216.5 92.5 218.1 96.5 220 100 222.9 104 223.8 105 226.4 106.5 231.1 109 237.2 112 246.2 116 258.8 121 264.7 123 268.5 123.8 269.5 123.9 271.5 123.3 273 123.2 274.5 123.3 275.5 123.5 275.8 128 275.8 133 275.7 137 275.5 140.1Z"/><path fill="rgb(13,13,213)" fill-rule="evenodd" d="M275.5 139.9 272 139.2 270.5 138.7 269.5 138.1 268.7 137.5 267 135.8 264.9 134.5 260.5 132.5 253.6 130 248.6 128.5 242.4 127 234.8 125.5 228.6 124.5 219 123.4 204 122.7 195.2 122 183 121.3 168 120.7 132.5 119.9 121.5 119.4 112.5 118.7 103.5 117.7 95 116.2 88.5 114.7 82.8 113 75.5 111.9 72.5 111.2 70.5 110.7 68 109.7 66 108.7 64 107.4 57 102.2 55.2 100.5 53.8 99 52.2 97 51 95.2 50.8 85.5 50.6 56 50.7 44 51 36.1 61.5 36.6 67 37.1 73.5 38.3 88 41.5 93 42.3 98 42.8 105.5 43.1 115.5 43.4 154.5 43.5 162.5 43.9 170.5 44.5 181 45.9 190.5 47.6 194.6 48.5 198.4 49.5 201.5 50.5 204.5 51.7 206.9 53 208.8 54.5 210.3 56.5 211.3 58.5 211.6 60 211.8 71 212.1 78.5 212.5 83.5 213.3 88 214.4 92 216 96 218.1 99.5 221 103.5 221.4 104 222.1 104.5 224.6 106 229.5 108.5 235.7 111.5 245.8 116 258.4 121 264.3 123 266.5 123.6 268.5 124 270 124 271.5 123.5 273 123.3 274 123.4 275.5 123.7 275.7 128 275.8 133 275.7 137 275.5 139.9Z"/><path fill="rgb(14,14,216)" fill-rule="evenodd" d="M275.5 139.8 272 139 270.5 138.5 269 137.6 267.4 136 266.8 135.5 264.1 134 259.5 132 253.8 130 248.9 128.5 242.8 127 235.2 125.5 229.1 124.5 222 123.6 218 123.2 204 122.6 190.5 121.6 181 121.1 166 120.5 132.5 119.8 121.5 119.3 112.5 118.6 102.5 117.4 93.5 115.7 87.5 114.3 83 112.9 75.5 111.7 72 110.9 69.5 110.1 67.5 109.3 65.5 108.2 63.5 106.9 57 101.9 55.5 100.5 53.7 98.5 52.2 96.5 51 94.8 50.8 85 50.6 56 50.7 44 51 36.3 61.5 36.8 67 37.4 73.5 38.6 84 41 88 41.9 93 42.7 98.5 43.3 106.5 43.6 116 43.8 154.5 44 162.5 44.4 169.7 45 180 46.3 189 48 195 49.5 199.5 51 202.5 52.2 205 53.5 206.3 54.5 207.9 56.5 209 58.5 209.3 60 209.5 71 209.8 78.5 210.3 83.5 211 87.5 212.2 91.5 212.9 93.5 213.9 95.5 216 99 219.1 103 221.2 104.5 223.8 106 228.8 108.5 236.3 112 245.5 116 259.5 121.5 263.9 123 266.5 123.7 268.5 124.1 270 124.2 271.5 123.7 273 123.5 274.5 123.6 275.5 123.8 275.7 128 275.8 133 275.7 137 275.5 139.8Z"/><path fill="rgb(14,14,218)" fill-rule="evenodd" d="M275.5 139.7 272 138.9 270.5 138.4 269 137.5 267.6 136 266.9 135.5 264.3 134 259.6 132 254 130 249.1 128.5 243.1 127 235.6 125.5 229.6 124.5 222.2 123.5 218 123.1 203.5 122.4 190.8 121.5 183 121.1 168 120.5 132.5 119.7 121.5 119.2 111.5 118.4 102.5 117.3 94 115.7 88 114.4 83 112.8 76 111.6 72.5 110.9 70.5 110.3 68 109.3 66 108.2 64 107 57 101.6 55.3 100 53.6 98 51 94.3 50.8 85 50.6 56 50.7 44 51 36.5 61.5 37 67.5 37.6 74.4 39 83.5 41.3 88 42.3 93 43.1 98.5 43.7 106.5 44.1 116 44.3 154 44.5 162 44.9 169.5 45.6 179.5 46.9 187.7 48.5 191.6 49.5 194 50.3 197.5 51.5 201 52.9 202.9 54 204.1 55 205.7 57 206.3 58 206.8 59 206.9 60 207 70.5 207.4 77.5 207.8 82.5 208.7 87 209.9 91 211.4 94.5 213.6 98 216.7 102 218.8 103.5 222.1 105.5 225 107 231.4 110 243.9 115.5 257.8 121 263.5 123 268 124.1 270 124.3 271.5 123.9 273 123.7 274.5 123.8 275.5 124 275.8 128.5 275.8 133 275.8 136.5 275.5 139.7Z"/><path fill="rgb(15,15,221)" fill-rule="evenodd" d="M275.5 139.6 272 138.8 270.5 138.3 269 137.3 267.7 136 267.1 135.5 264.4 134 262.3 133 258.5 131.5 252.7 129.5 247.5 128 241 126.5 233.2 125 227 124 222.8 123.5 218 123 204 122.4 192.4 121.5 183 121 168 120.4 133 119.6 123.5 119.2 112 118.4 103 117.3 94.5 115.7 88 114.3 82.5 112.6 78.5 112 73 110.8 70.5 110.1 68.5 109.3 66.5 108.3 64 106.8 57.2 101.5 55.5 99.9 53.9 98 52.4 96 51 93.9 50.8 84.5 50.6 56 50.7 44 51 36.6 54 36.7 57 37 62 37.2 67.5 37.9 73.5 39 83.5 41.6 88.5 42.8 93.5 43.6 98.5 44.2 106.5 44.6 116 44.8 154 45 161.5 45.4 169 46.1 178.5 47.4 186 48.9 189 49.7 192.5 50.9 197.9 53 199.9 54 201.2 55 203 57 203.7 58 204.2 59 204.3 60 204.5 70 204.8 77 205.3 82 206 86 207.3 90 208.8 93.5 211 97 214.3 101 215.6 102 218.7 104 221.4 105.5 224.3 107 241.2 114.5 257.5 121 263.2 123 266.5 123.9 268 124.2 270 124.5 272 124 273 123.9 274 123.9 275.5 124.2 275.7 128.5 275.8 133 275.7 136.5 275.5 139.6Z"/><path fill="rgb(15,15,223)" fill-rule="evenodd" d="M275.5 139.5 272 138.7 270.5 138.1 269 137.2 267.9 136 267.2 135.5 264.6 134 260 132 252.9 129.5 247.7 128 241.3 126.5 233.6 125 227.3 124 218.6 123 204 122.3 193.9 121.5 183 120.9 168 120.3 133 119.5 123.5 119.1 112 118.3 103 117.2 93 115.3 88 114.2 82.5 112.5 78.5 111.8 73.5 110.8 70.5 109.9 68.5 109.1 66.5 108.1 64 106.5 58.5 102.3 57 101 55.4 99.5 53.7 97.5 52.3 95.5 51 93.5 50.8 84.5 50.6 56 50.7 44.5 51 36.8 62 37.4 67.5 38.1 74.4 39.5 83.5 42 88.5 43.1 94 44.1 99 44.7 106.5 45.1 116.5 45.4 154 45.6 161 45.9 168 46.6 175.5 47.6 182.8 49 186.5 50 189.5 51 194.8 53 196.7 54 198 55 200.5 57.5 201.4 59 201.6 60 201.7 70 202.1 76.5 202.6 81.5 203.4 85.5 204.7 89.5 206.4 93 208.7 96.5 211.7 100 213 101 217.1 103.5 220.6 105.5 223.6 107 240.8 114.5 256 120.5 262.9 123 267.5 124.3 270 124.6 272 124.1 273 124 274.5 124.1 275.5 124.3 275.7 128.5 275.8 133 275.7 136.5 275.5 139.5Z"/><path fill="rgb(15,15,226)" fill-rule="evenodd" d="M275.5 139.4 271 138.3 269.5 137.4 267.4 135.5 264.7 134 260.2 132 253.1 129.5 248 128 241.6 126.5 234 125 227.7 124 222 123.3 218 122.9 204 122.2 195.2 121.5 183 120.8 168 120.2 132.5 119.4 121.5 118.9 112.5 118.2 103.5 117.1 93 115.2 87.5 113.9 82.9 112.5 78.5 111.7 73.5 110.6 70.5 109.8 68.5 109 66.5 107.9 64 106.3 57.2 101 55.5 99.3 53.6 97 52.2 95 51 93.1 50.6 56 50.7 44.5 51 37 62 37.6 67.5 38.3 73.4 39.5 84.5 42.6 89 43.7 94 44.6 99 45.2 106.5 45.7 116 45.9 153.5 46.1 160.5 46.5 167 47.1 174 48 181 49.4 186.5 51 191.6 53 193.6 54 195 55 197.4 57.5 198.3 59 198.5 60 198.7 69.5 199 76 199.5 80.5 200.3 84.5 201.6 88.5 203.3 92 205.4 95 208.4 98.5 209.4 99.5 212.7 101.5 219 105 223 107 240.5 114.5 254.4 120 262.6 123 267.5 124.4 270 124.7 273 124.2 274.5 124.3 275.5 124.5 275.7 128.5 275.8 133 275.7 136.5 275.5 139.4Z"/><path fill="rgb(16,16,228)" fill-rule="evenodd" d="M275.5 139.3 271 138.1 269.5 137.3 267.5 135.5 264.9 134 259 131.5 253.3 129.5 248.2 128 241.9 126.5 234.3 125 228.2 124 222 123.2 218 122.8 204 122.1 196 121.5 183 120.7 166 120 132.5 119.3 122 118.8 112.5 118.1 102.5 116.9 93.5 115.2 87.5 113.8 83 112.4 79 111.7 74 110.6 71 109.8 68.5 108.8 66.5 107.8 64 106.1 58.5 101.8 57 100.5 55.5 99 53.8 97 52.4 95 51 92.7 50.6 56 50.7 44.5 51 37.1 63 37.9 68.5 38.7 74 39.9 84 42.8 89 44.1 93.5 45 98 45.7 104 46.1 112.5 46.4 126.5 46.6 152 46.7 157 46.8 161.5 47.1 169.5 48 176.5 49.2 179.7 50 183.1 51 186.1 52 188.6 53 190.5 54 191.9 55 194.4 57.5 195.3 59 195.5 60 195.7 69.5 196 76 196.5 80.5 197.3 84.5 198.5 88 200 91 202.2 94 204.9 97 207 99 220.3 106 224.7 108 245.1 116.5 259.4 122 265.6 124 267.6 124.5 270 124.8 270.5 124.8 273 124.3 274 124.4 275.5 124.6 275.7 128.5 275.8 133 275.7 136.5 275.5 139.3Z"/><path fill="rgb(16,16,231)" fill-rule="evenodd" d="M275.5 139.2 271 138 269.5 137.2 267.7 135.5 265.1 134 260.5 132 253.4 129.5 248.4 128 242.2 126.5 234.7 125 228.7 124 221.1 123 218 122.7 203.5 122 190.5 121 183 120.6 168 120 132.5 119.2 122 118.7 111.5 117.9 102.5 116.8 93.5 115.2 88 113.9 82.5 112.2 79 111.6 73.5 110.4 71 109.6 69 108.9 66.5 107.6 64.5 106.3 57.2 100.5 55.3 98.5 53.7 96.5 52.3 94.5 51 92.2 50.6 56 50.7 44.5 51 37.3 54.5 37.4 57.5 37.7 63 38.1 68.5 38.9 74 40.2 84.5 43.3 89.5 44.6 94 45.6 98.5 46.2 104.5 46.7 113.5 47 127.5 47.2 151.5 47.2 160 47.6 167.5 48.4 173.9 49.5 180 51.1 182.8 52 185.5 53 187.5 54 188.9 55 191.4 57.5 192.4 59 192.6 60 192.7 69 193 75.5 193.5 80 194.2 83.5 195.2 87 196.6 90 197.5 91.5 198.6 93 200.9 95.5 204.3 98.5 209 100.7 219.6 106 224.1 108 244.8 116.5 259.2 122 265.5 124.1 267.5 124.6 270 124.9 270.5 125 273 124.5 274.5 124.6 275.5 124.8 275.7 128.5 275.8 133 275.7 136.5 275.5 139.2Z"/><path fill="rgb(17,17,233)" fill-rule="evenodd" d="M275.5 139.1 272.5 138.4 271 137.9 269.5 137 267.8 135.5 265.2 134 260.6 132 253.6 129.5 248.6 128 242.5 126.5 235 125 229 124 222 123 218 122.7 204 121.9 192.5 121 183.3 120.5 168 119.9 133 119.2 123.5 118.7 112 117.9 102.5 116.7 92.5 114.9 88 113.8 82.5 112.1 78.5 111.4 74 110.4 71 109.5 69 108.7 66.5 107.4 64.5 106.1 57.5 100.5 55.6 98.5 53.9 96.5 52.2 94 51 91.8 50.6 56 50.7 45 51 37.4 54.5 37.6 58 38 63 38.2 68.5 39.1 74 40.4 85 43.8 90 45.2 94 46.1 98.5 46.8 105 47.3 114 47.6 127.5 47.8 151.5 47.8 159.5 48.2 166.6 49 172.1 50 178.5 51.7 181 52.5 183.4 53.5 185.2 54.5 187 56 188.5 57.5 189.4 59 189.6 60 189.8 69 190.1 75.5 190.6 80 191.3 83.5 192.3 87 193.7 90 194.7 91.5 195.8 93 198.2 95.5 201.3 98 202.2 98.5 208 100.7 221.2 107 242 115.5 256.3 121 263.3 123.5 267.5 124.7 270.5 125.1 273 124.6 274.5 124.7 275.5 124.9 275.7 129 275.8 133 275.7 136.5 275.5 139.1Z"/><path fill="rgb(17,17,236)" fill-rule="evenodd" d="M275.5 139 272.5 138.3 271 137.8 269.6 137 268.5 136 267.2 135 264.3 133.5 259.5 131.5 252.2 129 246.9 127.5 240.4 126 232.6 124.5 226.2 123.5 221 122.9 216.9 122.5 204 121.8 184.9 120.5 168 119.8 133 119.1 123.5 118.6 112 117.8 103 116.7 92.5 114.8 88 113.7 82.5 112 78.5 111.3 74 110.2 71 109.3 69 108.5 66.5 107.2 64.5 105.9 58.9 101.5 57.2 100 55.4 98 53.8 96 52.1 93.5 51 91.4 50.6 56 50.7 45 51 37.6 54.5 37.7 58 38.1 63 38.4 68.5 39.3 71.5 40 75 41 86.5 44.6 90 45.7 94.5 46.7 99 47.4 105.5 47.9 115 48.2 128.5 48.4 151.5 48.5 158 48.8 164.6 49.5 170 50.5 176 52 180.2 53.5 182.1 54.5 184 56 185.5 57.5 186.5 59 186.7 60 186.9 69 187.2 75.5 187.7 80 188.4 83.5 189.5 87 190.9 90 191.9 91.5 193 93 195.5 95.5 198.7 98 207 100.8 223 108 243 116 258.7 122 264.6 124 268.5 125 270.5 125.2 272.5 124.8 273.5 124.7 275.5 125.1 275.7 129 275.8 133 275.7 136 275.5 139Z"/><path fill="rgb(17,17,238)" fill-rule="evenodd" d="M275.5 138.9 272.5 138.2 271 137.7 269.8 137 268.1 135.5 267.3 135 264.5 133.5 259.7 131.5 252.4 129 247.1 127.5 240.7 126 232.9 124.5 226.6 123.5 217.9 122.5 204 121.7 194.4 121 183 120.3 168 119.7 132.5 119 121.5 118.4 112.5 117.7 103.5 116.7 93 114.8 88 113.6 82.7 112 78.5 111.2 74.5 110.2 71 109.2 69 108.4 67 107.4 64.5 105.7 57.5 100 55.6 98 53.6 95.5 52.3 93.5 51 91 50.6 56 50.7 45 51 37.7 54.5 37.9 58.5 38.3 63 38.6 68.5 39.5 71.5 40.2 75 41.2 87 45.2 90.5 46.3 95 47.3 100 48.1 107 48.6 115.5 48.9 129 49.1 151 49.2 157.5 49.5 163 50.1 169 51.2 174 52.5 178 54 179.7 55 181.5 56.5 182.9 58 183.5 59 183.8 60 183.9 69 184.3 75.5 184.8 80 185.5 83.5 186.6 87 188.1 90 189.1 91.5 190.3 93 192.8 95.5 194.7 97 196.2 98 204 100.3 208 101.7 222.5 108 244 116.5 259.9 122.5 264.3 124 268.5 125.1 270.5 125.3 273.5 124.9 275.5 125.2 275.7 129 275.8 133 275.7 136 275.5 138.9Z"/><path fill="rgb(18,18,241)" fill-rule="evenodd" d="M275.5 138.8 272.5 138.1 271 137.6 269.9 137 268.2 135.5 267.5 135 264.6 133.5 258.5 131 252.6 129 247.3 127.5 240.9 126 233.2 124.5 227.1 123.5 218 122.4 204 121.7 194.5 120.9 183 120.2 168 119.6 132.5 118.9 122 118.4 112.5 117.7 102.5 116.4 93 114.7 87.5 113.4 83 112 79 111.2 74.5 110.1 71.5 109.2 69 108.2 66.5 106.9 64.4 105.5 59 101.1 57.2 99.5 55.4 97.5 53.9 95.5 52.3 93 51 90.6 50.6 56 50.7 45 51 37.9 55 38.1 58.5 38.5 63 38.8 66 39.2 69 39.8 72.5 40.7 76 41.8 87 45.6 90.5 46.7 95 47.9 100.5 48.8 108 49.4 117.5 49.7 130.5 49.9 151 50 155.5 50.2 161 50.7 166 51.6 170.5 52.6 174.5 54 176.4 55 178.3 56.5 179.9 58 180.5 59 180.7 60 180.9 69 181.2 75 181.8 79.5 182.6 83.5 183.8 87 185.3 90 186.3 91.5 187.6 93 190.2 95.5 192.8 97.5 193.9 98 197.3 99 204 100.7 208.5 102.2 222 108 243.7 116.5 261 123 265.8 124.5 269 125.2 271 125.4 272.5 125.1 273.5 125 274.5 125.1 275.5 125.4 275.7 129 275.8 133 275.7 136 275.5 138.8Z"/><path fill="rgb(18,18,244)" fill-rule="evenodd" d="M275.5 138.7 272 137.9 271 137.5 270 136.9 268.3 135.5 267.6 135 264.7 133.5 260 131.5 252.7 129 247.5 127.5 241.2 126 233.6 124.5 227.5 123.5 222 122.8 218 122.4 205 121.6 194.5 120.8 183 120.2 166 119.5 133 118.8 122 118.3 112.5 117.6 102.5 116.3 93.5 114.7 87.5 113.3 83 111.9 75 110.1 72 109.2 69.5 108.3 67 107 64.7 105.5 59.1 101 57.4 99.5 55.6 97.5 53.7 95 52.2 92.5 51 90.2 50.6 56 50.7 45 51 38 55 38.2 58.5 38.7 63 39 66 39.4 69 40 72.5 40.9 75.9 42 86.5 45.9 90.5 47.2 95.5 48.6 100.5 49.5 108 50.2 117.5 50.6 130.5 50.8 151 50.9 155 51 160 51.5 165 52.4 169.4 53.5 171.9 54.5 173.6 55.5 175.6 57 176.6 58 177.3 59 177.6 60 177.8 69 178.2 75.5 178.8 80 179.5 83.5 180.8 87 182.4 90 183.5 91.5 184.8 93 187.5 95.5 190.2 97.5 195.2 99 204 101.2 207.5 102.2 211.5 103.8 222.8 108.5 243.5 116.5 262.3 123.5 266.5 124.8 269.5 125.4 271 125.5 272.5 125.2 273.5 125.1 274.5 125.2 275.5 125.5 275.8 133 275.7 136 275.5 138.7Z"/><path fill="rgb(19,19,246)" fill-rule="evenodd" d="M275.5 138.6 272 137.8 271 137.4 270 136.8 268.5 135.5 267.7 135 264.9 133.5 260.1 131.5 252.9 129 247.7 127.5 241.4 126 233.9 124.5 227.9 123.5 222 122.7 218 122.3 205 121.6 192.5 120.6 183 120.1 168 119.5 132.5 118.7 122 118.2 111 117.3 102 116.2 96.5 115.2 91.5 114.2 87.5 113.2 82.5 111.7 78.5 110.9 74.5 109.9 72 109.1 69.5 108.2 67 106.9 64.5 105.2 59 100.7 57.5 99.4 55.8 97.5 53.9 95 52.4 92.5 51 89.8 50.6 56 50.7 45.5 51 38.2 55 38.4 59 38.9 63 39.2 66 39.6 69 40.2 73 41.3 76.6 42.5 86.5 46.3 91 47.9 96 49.3 101 50.4 108.5 51.1 117.5 51.5 130.5 51.7 150.5 51.8 154 51.9 158 52.3 162 52.9 164.8 53.5 167.9 54.5 170 55.6 172.1 57 173.2 58 174 59.1 174.3 60 174.4 68.5 174.8 75 175.4 79.5 176.4 83.5 177.7 87 179.5 90 180.6 91.5 182 93 184.8 95.5 186.8 97 187.7 97.5 195 99.5 204.5 101.7 208.5 102.9 222.4 108.5 244.6 117 262 123.5 266.5 124.9 269.5 125.5 271 125.6 273.5 125.3 274.5 125.4 275.5 125.6 275.8 133 275.7 136 275.5 138.6Z"/><path fill="rgb(19,19,249)" fill-rule="evenodd" d="M275.5 138.5 272.5 137.8 271 137.3 270 136.7 268.6 135.5 267.9 135 265 133.5 260.3 131.5 253 129 247.9 127.5 241.6 126 234.2 124.5 228.3 123.5 221 122.5 218 122.2 204 121.4 192.5 120.5 183.2 120 168 119.4 133 118.7 122 118.1 111.5 117.3 102.5 116.2 96.5 115.1 92 114.2 88 113.3 82.5 111.6 78.5 110.8 74.5 109.8 71.5 108.8 69.5 108 67 106.7 65 105.4 59 100.5 57.4 99 55.6 97 53.8 94.5 52.3 92 51 89.4 50.6 56 50.7 45.5 51 38.3 55 38.5 59 39 63 39.3 66.5 39.9 70 40.7 73 41.6 76.5 42.7 87.5 47.2 92 48.8 97 50.3 101.5 51.3 109 52 118 52.4 129 52.7 150.5 52.8 153.5 52.9 156.5 53.2 159.5 53.6 162.5 54.3 164.4 55 167 56.3 168.9 57.5 170 58.5 170.6 59.5 170.9 69 171.3 74.5 171.9 79 172.8 83 174.2 86.5 175.3 88.5 176.4 90 177.6 91.5 179 93 182 95.5 184.2 97 185.3 97.5 193 99.5 204 101.9 208.5 103.2 212.5 104.7 221.9 108.5 229.5 111.3 243 116.5 259 122.5 263.3 124 266.7 125 269.5 125.6 271 125.7 273.5 125.4 274.5 125.5 275.5 125.7 275.8 133 275.7 136 275.5 138.5Z"/><path fill="rgb(19,19,251)" fill-rule="evenodd" d="M275.5 138.4 272.5 137.7 271 137.2 270 136.6 268.7 135.5 267.1 134.5 262.9 132.5 257.7 130.5 251.6 128.5 246.2 127 239.5 125.5 231.7 124 225.5 123 221 122.5 216 122 204 121.3 193 120.5 184.7 120 168 119.3 133 118.6 123.5 118.1 112 117.3 103 116.2 97 115.2 92 114.2 88 113.2 82.5 111.5 78.5 110.7 74.5 109.6 71.5 108.7 69.5 107.9 67.5 106.9 65 105.2 59.2 100.5 57.5 98.9 55.4 96.5 53.6 94 52.2 91.5 51 88.9 50.6 56 50.7 45.5 51 38.4 55.5 38.7 59 39.2 63.5 39.6 67 40.2 70 40.9 74 42.1 77.5 43.4 88.5 48 94.5 50.3 98 51.4 102 52.3 110.5 53.2 120 53.7 130.5 53.9 152.5 54.2 155.7 54.5 158 55 160.5 55.7 162.4 56.5 164 57.3 165.1 58 166 58.8 166.4 59.5 166.6 60 166.9 69.5 167.3 75 168.2 80 168.8 82 169.5 84 171 87 173.1 90 175.4 92.5 178.4 95 181.4 97 182.9 97.5 190.9 99.5 204 102.2 209 103.6 221.5 108.5 229 111.2 257.5 122 263.1 124 266.5 125 269.5 125.7 271 125.8 273.5 125.5 274.5 125.6 275.5 125.9 275.8 133 275.5 138.4Z"/><path fill="rgb(20,20,254)" fill-rule="evenodd" d="M275.5 138.3 272.5 137.6 271 137.1 270 136.5 268.9 135.5 267.3 134.5 263 132.5 257.8 130.5 251.7 128.5 246.4 127 239.8 125.5 232 124 225.7 123 221 122.4 216.5 122 204 121.3 194.1 120.5 183 119.8 168 119.2 132.5 118.5 121.5 117.9 112.5 117.3 103.5 116.2 97.5 115.2 92.5 114.2 88 113.1 82.7 111.5 79 110.7 75 109.7 72 108.7 69.5 107.8 67 106.4 64.5 104.7 59 100.1 57.3 98.5 55.6 96.5 53.8 94 52.4 91.5 51 88.5 50.6 56 50.7 45.5 51 38.6 55.5 38.8 58.5 39.3 63 39.7 67.5 40.5 71 41.4 75 42.7 78.3 44 94 50.9 98 52.3 102.5 53.5 112 54.7 121.5 55.5 132 55.8 152 56.2 155.5 56.7 157.5 57.2 159 57.8 160.4 58.5 161 59 161.4 59.5 161.5 60 161.8 68 162.4 74 162.8 76.5 163.4 79 164 81 164.8 83 165.8 85 166.7 86.5 169 89.5 170.4 91 172.1 92.5 175.4 95 178.6 97 180.4 97.5 188.9 99.5 203.5 102.3 208.5 103.7 257.3 122 264.4 124.5 267.5 125.3 270 125.8 271.5 125.9 273.5 125.6 274.5 125.7 275.5 126 275.8 133 275.5 138.3Z"/><path fill="rgb(23,23,254)" fill-rule="evenodd" d="M275.5 138.2 272 137.4 271 137 270 136.4 269 135.5 267.4 134.5 263.2 132.5 258 130.5 251.9 128.5 246.6 127 240 125.5 232.3 124 226.1 123 217.4 122 183 119.8 168 119.2 132.5 118.4 122 117.9 112.5 117.2 102.5 115.9 92.5 114.1 87.5 112.9 82.9 111.5 79 110.6 75 109.6 72.5 108.8 70 107.9 67.5 106.6 65 104.9 59.5 100.4 57.5 98.5 55.4 96 53.7 93.5 52.3 91 51 88.1 50.6 56 50.7 45.5 51 38.7 55.5 39 58.5 39.4 63 39.8 67.5 40.7 71.5 41.8 75 43 78.8 44.5 92 50.8 95.5 52.3 103 55.1 106.5 55.9 110.5 56.7 114.5 57.3 124 58.2 133.5 58.8 150 59.4 151 59.6 151.7 60 152.2 63.5 152.9 67 153.7 70.5 154.6 73.5 156.1 77.5 157.9 81 159.2 83 160.6 85 162.3 87 163.7 88.5 167.1 91.5 171.3 94.5 174.6 96.5 175.8 97 184.4 99 191.9 100.5 203.5 102.6 207.5 103.6 212.5 105.4 220.7 108.5 230 111.8 262.7 124 266 125 269.5 125.8 271.5 126 273.5 125.7 274.5 125.8 275.5 126.1 275.8 133 275.5 138.2Z"/><path fill="rgb(29,29,253)" fill-rule="evenodd" d="M275.5 138.1 272 137.2 271 136.8 269.2 135.5 267.6 134.5 263.4 132.5 258.2 130.5 252.1 128.5 246.8 127 240.4 125.5 232.8 124 226.7 123 218 122 183 119.6 166.5 119 132.5 118.3 121.5 117.7 111 116.9 102 115.7 96 114.7 91.5 113.8 87.5 112.8 83 111.4 78.5 110.4 75 109.4 72.5 108.6 70 107.7 67.5 106.4 65 104.7 59.4 100 57.5 98.2 55.3 95.5 53.6 93 52.3 90.5 51 87.4 50.6 56 50.7 46 51 38.9 55.5 39.2 58.5 39.6 63 40.1 68.5 41.2 72.5 42.4 77 44.2 81.5 46.3 86.7 49 96.6 54.5 101.7 58 102.9 59 103.3 59.5 103.5 60 104.7 65.5 105.4 68 106.2 70 107.1 71.5 108.3 72.5 109.1 73 114.5 75.4 118.5 77.8 121.5 80 127 84.7 128 85.3 129 85.8 132.5 87 136.5 87.8 142.5 88.4 150.5 88.9 152.5 89.2 154.5 89.7 157 90.7 169.2 96.5 170.9 97 183.3 99.5 202 102.7 206.5 103.7 212.5 105.7 221.4 109 232 112.7 259.5 123 263.8 124.5 267.3 125.5 269.5 126 271.5 126.1 273 125.9 274 126 275.5 126.3 275.7 133 275.5 138.1Z"/><path fill="rgb(35,35,251)" fill-rule="evenodd" d="M275.5 138 271.5 136.9 270.5 136.4 269.4 135.5 267.8 134.5 264.8 133 258.4 130.5 252.4 128.5 247.1 127 240.7 125.5 233.2 124 227.3 123 222.5 122.3 218 121.9 183 119.5 168 118.9 133 118.2 122 117.6 111 116.8 102.5 115.7 96.5 114.7 91.5 113.7 87.5 112.7 82.5 111.2 78.5 110.2 75 109.3 72 108.3 70 107.5 67.5 106.2 65 104.5 59.5 99.8 57.5 97.9 55.2 95 53.6 92.5 52.1 89.5 51 86.6 50.6 56 50.7 46 51 39.1 54 39.2 63 40.3 67.5 41.3 71.5 42.4 75.6 44 80.8 46.5 85.4 49 91.6 53 93.7 54.5 95.9 56.5 97.3 58 98.3 59.5 98.9 62 100.4 70.5 101.1 72.5 101.3 73 101.7 73.5 105 76 111 78.3 113.5 79.5 116 81 117.5 82.1 119.5 83.7 125.1 89 126.5 90 127.5 90.6 131 91.8 135.5 92.7 141.5 93.3 151 93.8 154 94.2 158 95.1 162.4 96.5 182.7 100 203 103.3 205.5 103.8 209 104.8 230 112.2 263.5 124.5 266.9 125.5 269.5 126.1 271.5 126.3 274 126.1 275.5 126.5 275.7 133 275.5 138Z"/><path fill="rgb(41,41,250)" fill-rule="evenodd" d="M275.5 137.8 271.5 136.8 270.5 136.2 269.6 135.5 268 134.5 265 133 260 131 252.6 128.5 247.4 127 241.1 125.5 233.6 124 227.5 123 221 122.1 217.5 121.7 184.5 119.5 168 118.8 133 118.1 122.5 117.6 111.5 116.7 106.5 116.1 101 115.3 95 114.3 90.5 113.3 86.5 112.3 82.5 111 79 110.2 75.5 109.3 72.5 108.3 70 107.3 67.5 106 65 104.2 59.5 99.5 57.4 97.5 55.5 95 53.6 92 52.1 89 51 85.9 50.6 56 50.7 46 51 39.3 54 39.4 62.5 40.4 65 40.9 71 42.6 75 44.1 79.5 46.3 84.2 49 87.8 51.5 89.8 53 91.6 54.5 93.8 57 95.2 59 95.6 60 96.2 63 97.5 72.3 97.9 74 98.2 74.5 100.4 76.5 102.5 78.1 107 79.6 109.5 80.6 112 81.7 114.5 83.2 116.3 84.5 118 86 122 90 124 91.8 125.5 92.9 126.5 93.5 130 94.7 134.5 95.5 138.7 96 144 96.4 154.5 96.8 163.5 97.7 174.5 99.3 201 103.3 204.5 103.9 208 104.8 212.5 106.2 231 112.7 263.2 124.5 266.4 125.5 269.5 126.2 271.5 126.4 274 126.3 275.5 126.7 275.7 133 275.5 137.8Z"/><path fill="rgb(47,47,249)" fill-rule="evenodd" d="M275.5 137.7 271.5 136.6 268.2 134.5 266.3 133.5 262.8 132 257.4 130 251.2 128 245.7 126.5 239.1 125 231.3 123.5 225 122.5 221 122 216 121.5 183.5 119.3 168 118.7 132.5 117.9 122 117.4 112.5 116.7 107.5 116.2 101.5 115.3 95.5 114.3 91 113.3 87 112.3 82.8 111 77.5 109.7 74 108.6 70.5 107.3 68 106.1 65.5 104.4 59.8 99.5 57.7 97.5 55.7 95 53.8 92 52.4 89 51.1 85.5 51 85.1 50.9 71.5 50.6 59.5 50.7 47 51 39.5 54 39.6 62.5 40.6 65 41.2 70 42.6 74 44.1 78 46 82.3 48.5 85.2 50.5 88.4 53 90 54.5 91.9 57 93.1 59 93.6 60.5 94.2 63 94.6 66 95.4 73.5 95.7 75 96 75.4 98.5 77.9 100.5 79.6 106 81.4 108.5 82.4 111.5 83.8 114 85.4 117 87.8 121 91.9 122.7 93.5 124.5 94.9 126 95.8 126.6 96 129.2 96.5 133.7 97 140 97.3 154 97.8 159.5 98.1 165.5 98.8 177 100.2 199 103.3 204 104.1 207.5 104.9 212 106.3 229.5 112.3 260.1 123.5 264.4 125 267.9 126 270 126.4 271.5 126.6 274 126.5 275.5 126.8 275.7 133 275.5 137.7Z"/><path fill="rgb(53,53,247)" fill-rule="evenodd" d="M275.5 137.6 271.5 136.5 270.6 136 269.3 135 267.5 134 263 132 257.6 130 251.4 128 246 126.5 239.4 125 231.7 123.5 225.6 122.5 221 121.9 216.9 121.5 183.5 119.2 166.5 118.6 133 117.9 122 117.3 112.5 116.6 108 116.1 102 115.3 96 114.3 91 113.2 87 112.2 83 111 77.5 109.6 73.5 108.3 70.5 107.2 68 105.9 65.5 104.2 60 99.5 58 97.5 56 95 54.1 92 52.6 89 51.3 85.5 51 84.3 50.9 71.5 50.7 61.5 50.7 48 51 39.7 54 39.8 62 40.8 64.5 41.3 69.5 42.7 73 44 76.5 45.6 80.6 48 83.5 50 86.6 52.5 88.1 54 90.1 56.5 91.5 59 92.2 61.5 92.8 64.5 93.8 75 94 75.6 95 76.8 97.5 79.6 99 80.9 105 82.9 107.5 83.8 110.5 85.2 113 86.8 115.8 89 120.5 93.8 123.1 96 124.5 96.5 127 97 133 97.7 138 98 156 98.6 168.5 99.7 181.5 101.2 200 103.7 204 104.4 207.5 105.2 212.5 106.7 230.5 112.8 264.1 125 267.5 126 269.5 126.5 271.5 126.7 274 126.6 275.5 127 275.7 133 275.5 137.6Z"/><path fill="rgb(60,60,246)" fill-rule="evenodd" d="M275.5 137.5 271.5 136.4 269.5 135 267.7 134 263.2 132 257.8 130 251.6 128 246.2 126.5 239.7 125 232.1 123.5 226.1 122.5 217.5 121.5 193 119.7 183.5 119.1 168 118.5 133 117.8 122 117.2 111 116.4 102 115.2 96 114.2 91 113.1 87.5 112.3 82.5 110.7 78 109.6 74 108.4 71 107.2 68 105.7 65.5 104 59.8 99 58 97.2 56.2 95 54.3 92 52.8 89 51.7 86 51 83.5 50.9 71.5 50.7 64.5 50.7 49 51 39.9 54 40 62 41 64.5 41.5 69 42.9 72.5 44.2 76.4 46 79.8 48 82.6 50 85.5 52.5 87.4 54.5 89.2 57 90.2 59 91 62 91.6 65 92.3 74 92.5 75.6 92.6 76 92.9 76.5 95 79.1 97 81.4 97.7 82 106.5 85 109 86.1 111.5 87.6 113 88.6 114.7 90 119.5 94.8 121.4 96.5 126 97.5 129 98 133 98.4 139.5 98.7 156 99.2 163 99.7 170 100.3 182.5 101.8 198 103.7 204 104.6 207 105.3 212 106.7 230 112.8 264.5 125.2 267.1 126 269.5 126.6 271.5 126.8 274 126.8 275.5 127.2 275.7 133 275.5 137.5Z"/><path fill="rgb(66,66,244)" fill-rule="evenodd" d="M275.5 137.3 271.5 136.2 269.7 135 267.9 134 263.4 132 258 130 251.8 128 246.5 126.5 240 125 232.5 123.5 226.6 122.5 221 121.7 216.5 121.3 193 119.6 183.5 119 168 118.4 133 117.7 122.5 117.1 111.5 116.3 106.5 115.7 101 114.9 95 113.9 90 112.8 86.5 111.9 82.5 110.6 77.5 109.3 74 108.2 70.5 106.8 68 105.5 65.5 103.8 60 99 58 97 56.1 94.5 54.2 91.5 52.8 88.5 51.8 85.5 51 82.6 50.9 71.5 50.7 65 50.7 56 50.7 46.5 51 40.1 54 40.2 61.5 41.1 63.5 41.5 66 42.2 70.5 43.7 74.5 45.4 78.2 47.5 81.8 50 84.6 52.5 86 54 87.8 56.5 88.9 58.5 89.3 59.5 89.8 61.5 90.5 65 90.8 68.5 91.2 75 91.5 76.5 96 82.3 96.5 82.8 97 83.1 105.5 86.1 108 87.1 110 88.2 112 89.5 113.5 90.7 115.5 92.5 119 96.1 119.5 96.5 120 96.8 122.5 97.5 125 98 128.5 98.5 133 99 139.5 99.3 157.5 99.8 165.5 100.4 174.5 101.2 187.5 102.7 200 104.3 204 104.9 207.5 105.6 213 107.3 231 113.2 249 119.7 260.7 124 265.1 125.5 268.5 126.5 270 126.8 272 127 274 127 275.5 127.4 275.7 133 275.5 137.3Z"/><path fill="rgb(72,72,243)" fill-rule="evenodd" d="M275.5 137.2 272.5 136.5 271.5 136.1 269.9 135 268.1 134 265.9 133 262.3 131.5 256.7 129.5 250.4 127.5 244.7 126 238 124.5 230.1 123 224 122 219.5 121.5 214.5 121.1 192.9 119.5 183.5 118.9 168 118.3 133 117.6 122.5 117 111.5 116.2 106.5 115.6 101 114.8 95 113.8 90.5 112.8 87 111.9 82.5 110.5 77.5 109.2 74.5 108.3 71.5 107.1 68.5 105.6 66 104 60.3 99 58.3 97 56.3 94.5 54.7 92 53.2 89 52.1 86 51 81.7 50.9 71.5 50.7 65 50.7 56 50.7 46.5 51 40.3 54 40.4 60.5 41.1 63 41.6 65.5 42.2 70.5 44 74 45.5 78 47.8 79.7 49 81.5 50.4 83.7 52.5 85.5 54.5 87.1 57 88.1 59 88.9 61.5 89.5 65 89.9 68.5 90.2 75 90.5 76.6 90.6 77 95 83 95.5 83.6 96.5 84.1 105 87.2 107.5 88.3 109.5 89.3 111.5 90.7 113 91.8 118.4 97 120.5 97.6 123.5 98.3 129.5 99.1 137.5 99.7 157.5 100.3 170 101.2 181 102.2 194 103.8 203 104.9 207.5 105.9 212.5 107.3 230.5 113.2 264.8 125.5 268 126.4 270 126.9 272 127.1 274 127.1 275.5 127.5 275.7 133 275.5 137.2Z"/><path fill="rgb(78,78,241)" fill-rule="evenodd" d="M275.5 137.1 272 136.2 268.3 134 266.1 133 262.5 131.5 256.9 129.5 250.6 127.5 245 126 238.3 124.5 230.5 123 224.2 122 220.4 121.5 214.8 121 194.3 119.5 183.5 118.8 168 118.2 132.5 117.4 122 116.9 112 116.1 107 115.6 101.5 114.8 95.5 113.8 91 112.8 88 112.1 82.8 110.5 78 109.3 74.5 108.1 71.5 107 68.5 105.5 66 103.8 60.5 98.9 58.5 97 56.5 94.5 54.7 91.5 53.4 89 52.3 86 51 80.7 51 71.5 50.7 65 50.7 56 50.7 47 51 40.5 54 40.6 60.5 41.3 63 41.8 65 42.3 70.5 44.3 74 45.9 77.6 48 80.3 50 83 52.5 84.7 54.5 86.3 57 87.3 59 88.2 62.5 88.8 65.5 89 68.5 89.3 75 89.7 77 89.9 77.5 94.4 84 95 84.4 96.5 85.1 104.5 88.1 108.5 90 112 92.4 114 94.1 116.9 97 117.5 97.3 119 97.8 122.1 98.5 125 99 129.5 99.6 137 100.1 159 100.8 172 101.7 187 103.2 200 104.7 204 105.3 208 106.2 213.5 107.8 231.5 113.6 249 119.8 264.5 125.5 267.8 126.5 270 127 272 127.3 274 127.3 275.5 127.7 275.7 133 275.5 137.1Z"/><path fill="rgb(84,84,240)" fill-rule="evenodd" d="M275.5 137 272 136.1 268.5 134 266.3 133 262.7 131.5 257.1 129.5 250.8 127.5 245.2 126 238.6 124.5 231 123 224.7 122 221 121.5 215.9 121 195 119.5 183.5 118.7 166.5 118.1 133 117.4 122 116.8 112 116.1 102 114.8 96 113.8 91 112.7 87.5 111.9 83 110.5 78 109.1 74 107.8 71.5 106.8 68.5 105.3 66 103.6 60.5 98.7 58.7 97 56.8 94.5 55.2 92 53.6 89 52.5 86 51.6 82.5 51 79.6 51 71.5 50.7 65 50.7 56 50.7 47 51 40.6 54 40.8 60 41.4 62.5 41.8 65 42.5 70.5 44.6 73.5 46 77 48 80 50.3 82.3 52.5 84 54.5 85.2 56.5 86.5 59 87.4 62 88 65.5 88.3 68.5 88.6 75 89 77.5 91.4 81 93.6 84.5 94.3 85 96.3 86 104.5 89.2 108 90.9 111.1 93 113 94.5 115.6 97 116.6 97.5 118.5 98.2 122.3 99 125.3 99.5 129.5 100 137.2 100.5 159 101.2 170 101.8 180.5 102.8 194 104.2 203 105.4 207.5 106.3 213 107.8 231.5 113.8 248.5 119.7 260 124 265.8 126 270.5 127.2 272 127.4 274 127.4 275.5 127.9 275.7 133 275.5 137Z"/><path fill="rgb(90,90,238)" fill-rule="evenodd" d="M275.5 136.8 272 135.9 269.6 134.5 267.6 133.5 262.8 131.5 257.3 129.5 251 127.5 245.5 126 238.9 124.5 231.3 123 225.2 122 221 121.4 216 120.9 196.5 119.5 183.5 118.7 166.5 118 133 117.3 122 116.7 111.5 115.9 102 114.7 96 113.7 91 112.7 87.5 111.8 83 110.4 78.5 109.2 74.5 107.9 72 106.9 69 105.4 66.5 103.8 64.4 102 59 97 57.3 95 55.4 92 53.8 89 52.7 86 51.7 82 51 78.2 51 71.5 50.7 65 50.7 56 50.7 47 51 40.8 54 40.9 60.5 41.7 63 42.1 65 42.7 70.8 45 73.5 46.3 77.1 48.5 79.6 50.5 81.6 52.5 83.3 54.5 84.8 57 85.8 59 86.7 62 87.3 65.5 87.6 68.5 87.9 75 88.3 77.5 88.5 78 90.8 81.5 92.9 85 94 85.7 96 86.8 103.5 89.8 107.5 91.8 110.9 94 114.5 97 116.5 98 118.5 98.6 122.5 99.4 129.5 100.4 139 100.9 159.5 101.5 171.5 102.3 182.5 103.2 193 104.3 203 105.6 207 106.3 212.5 107.8 231 113.7 248.5 119.8 261.1 124.5 265.5 126 268.5 126.9 270.5 127.3 272 127.5 274 127.6 275.5 128 275.7 133 275.5 136.8Z"/><path fill="rgb(96,96,237)" fill-rule="evenodd" d="M275.5 136.7 272 135.8 269.8 134.5 267.8 133.5 263 131.5 257.5 129.5 251.2 127.5 245.7 126 239.2 124.5 231.7 123 225.7 122 221 121.4 216 120.9 193 119.1 183.5 118.6 168.5 118 133 117.2 122.5 116.7 111.5 115.8 106.5 115.2 100.5 114.3 94.5 113.3 90 112.3 77.5 108.8 72 106.8 69 105.3 66.5 103.6 64.6 102 59.2 97 57.2 94.5 55.3 91.5 53.8 88.5 52.9 86 51.6 81 51.2 78.5 51 76.3 51 71.5 50.7 64 50.7 56 50.7 47 51 41 54.5 41.2 60 41.8 62.5 42.2 64.5 42.8 70 45 72.5 46.1 75.7 48 78.5 50.1 80.5 52 82.7 54.5 84.2 57 85.1 59 86.1 62 86.7 65.5 87 68.5 87.3 75.5 87.7 78 90.4 82 92.4 85.5 93.9 86.5 95.8 87.5 103.5 90.8 106.5 92.2 110 94.4 112.6 96.5 115.5 98 118 98.9 120.7 99.5 124.5 100.1 129 100.6 137 101.2 159.5 101.8 173.5 102.7 185 103.7 195.5 104.8 203 105.7 207.5 106.6 213.5 108.3 231 113.8 248 119.7 260.9 124.5 265.5 126.1 268.5 127 270.5 127.4 272 127.6 274 127.7 275.5 128.2 275.7 133 275.5 136.7Z"/><path fill="rgb(102,102,236)" fill-rule="evenodd" d="M275.5 136.6 272 135.7 270 134.5 268 133.5 263.2 131.5 257.6 129.5 251.4 127.5 245.9 126 239.5 124.5 232 123 226 122 221 121.3 216 120.8 193 119 183.5 118.5 168.5 117.9 133 117.1 122.5 116.6 111.5 115.7 106.5 115.1 101 114.3 95 113.3 90.5 112.4 88 111.7 82.5 110 78 108.8 72.5 106.8 69.5 105.4 66.6 103.5 64.8 102 59.4 97 57.7 95 55.7 92 54.2 89 53.3 86.5 52.4 83.5 51.7 80.5 51.3 78 51.1 75 50.8 66 50.7 59 50.7 48 51 41.1 54.5 41.3 60 41.9 62 42.3 64.5 43 70.5 45.5 73 46.7 75.9 48.5 78.4 50.5 80.4 52.5 82.1 54.5 83.6 57 84.7 59.5 85.6 62.5 86.2 65.5 86.4 68.5 86.7 75.5 87.1 78 87.3 78.5 89.7 82 91.9 86 93.5 87 95.5 88.1 103 91.4 106 92.9 109 94.7 111.5 96.5 115.5 98.5 118 99.3 121.5 100 124.8 100.5 129.5 101 137.8 101.5 161 102.2 172 102.8 182.5 103.7 193.5 104.8 202.5 105.9 207.5 106.8 213 108.3 230.5 113.7 248 119.8 262.1 125 266.5 126.5 270.5 127.5 272 127.8 274 127.9 275.5 128.3 275.7 133 275.5 136.6Z"/><path fill="rgb(108,108,234)" fill-rule="evenodd" d="M275.5 136.5 272 135.6 270.2 134.5 268.2 133.5 262.1 131 256.3 129 249.8 127 244.1 125.5 237.4 124 229.6 122.5 223.2 121.5 219.5 121 214.5 120.6 193.6 119 183.5 118.4 168.5 117.8 133.5 117 122 116.4 112 115.7 107 115.1 101.5 114.3 95.5 113.3 90.5 112.3 87 111.4 82.7 110 78 108.7 72.5 106.7 69.5 105.3 66.8 103.5 64.5 101.6 59.5 96.9 57.6 94.5 55.6 91.5 54.2 88.5 53.3 86 52.3 82.5 51.6 79 51.3 75.5 51.2 71.5 51 71.3 50.9 70 50.7 63.5 50.7 53.5 50.8 46.5 51 41.3 54.5 41.5 60 42.1 62 42.5 64.5 43.2 70.5 45.7 73 47 75.5 48.6 77.9 50.5 79.9 52.5 81.5 54.5 83 57 84.2 59.5 85.1 62.5 85.6 65.5 85.9 68.5 86.2 75.5 86.7 78.5 88.7 81.5 91.5 86.4 93 87.4 94.9 88.5 105 93.2 107 94.3 110.5 96.5 114.6 98.5 117 99.4 119.7 100 124 100.7 129 101.2 137 101.7 161 102.5 174 103.2 185 104.1 195.5 105.2 203 106.1 207 106.8 214 108.7 230.5 113.8 249 120.2 261.9 125 266.5 126.6 270.5 127.6 272.5 127.9 274 128 275 128.3 275.5 128.5 275.5 129 275.7 133 275.5 136.5Z"/><path fill="rgb(114,114,233)" fill-rule="evenodd" d="M275.5 136.4 272 135.4 268.4 133.5 262.2 131 256.5 129 250 127 244.4 125.5 237.7 124 229.9 122.5 223.7 121.5 219.8 121 214.5 120.5 195 119 183.5 118.3 166.5 117.6 133 116.9 122 116.4 112 115.6 102 114.3 96 113.3 91 112.3 87 111.3 83 110 78.5 108.8 73 106.8 69.5 105.1 67 103.5 65 101.8 59.8 97 58.1 95 56.1 92 54.8 89.5 53.6 86.5 52.6 83 51.9 79.5 51.5 76 51.4 71.5 51 71.1 50.7 64.5 50.7 56 50.8 47.5 51 41.5 54.5 41.7 59.5 42.2 62 42.6 64 43.2 65.5 43.8 72 46.8 74.8 48.5 77.5 50.6 79.4 52.5 81 54.5 82.8 57.5 83.7 59.5 84.6 62.5 85.2 66 85.5 69 85.7 75.5 86.2 78.5 88.7 82.5 90.8 86.5 92.9 88 95.5 89.5 104.5 93.8 108.4 96 114.8 99 117.5 99.9 120.5 100.5 124.2 101 128.8 101.5 137 102 161.5 102.7 173.5 103.4 184.5 104.3 195 105.3 203 106.3 207.5 107.1 213.5 108.7 231.5 114.3 249 120.3 261.6 125 266.5 126.7 270.5 127.7 272.5 128.1 274 128.1 275 128.4 275.5 128.6 275.5 129 275.6 133 275.5 136.4Z"/><path fill="rgb(120,120,231)" fill-rule="evenodd" d="M275.5 136.3 272 135.3 268.6 133.5 262.4 131 256.7 129 250.2 127 244.6 125.5 238 124 230.3 122.5 224.2 121.5 220 121 214.5 120.4 195 118.9 183.5 118.2 166.5 117.5 133 116.8 122 116.3 111.5 115.5 102 114.2 96 113.2 91 112.2 87.5 111.3 83 109.9 78.5 108.7 73 106.7 69.5 105 67 103.3 64.8 101.5 59.6 96.5 57.9 94.5 56.3 92 54.8 89 53.8 86.5 52.7 82.5 52 79 51.7 75.5 51.5 71 51 70.9 50.8 64.5 50.7 56 50.8 47.5 51 41.6 54.5 41.8 59.5 42.4 61.5 42.7 64 43.4 70 46.1 72.5 47.4 75 49 77.4 51 79.4 53 80.5 54.5 82.1 57 83.2 59.5 84.1 62.5 84.8 66 85 69 85.2 75.5 85.7 78.5 85.9 79 88.4 83 90.5 86.9 92.7 88.5 95.5 90.1 103 93.7 107.2 96 113.9 99 116.5 99.9 119 100.5 123.5 101.2 128.5 101.7 137 102.2 161 102.9 174.5 103.7 186.5 104.7 197 105.7 203 106.4 207.5 107.3 213.5 108.9 231 114.2 248.5 120.2 261.4 125 266.5 126.8 270.5 127.9 272.5 128.2 274 128.3 275 128.6 275.5 128.8 275.6 133 275.5 136.3Z"/><path fill="rgb(126,126,230)" fill-rule="evenodd" d="M275.5 136.1 272 135.2 268.8 133.5 262.6 131 256.9 129 250.4 127 244.8 125.5 238.2 124 230.6 122.5 224.5 121.5 220 120.9 214.5 120.4 197 119 183.5 118.1 168.5 117.5 133 116.8 122.5 116.2 111.5 115.4 102.5 114.2 96.5 113.2 91.5 112.2 87.5 111.3 83 109.8 79 108.7 73.5 106.8 70 105.1 67.5 103.5 65 101.5 60.3 97 58.5 95 56.8 92.5 55.2 89.5 54.1 87 53 83 52.2 79 51.8 75.5 51.7 71 51.5 70.8 51 70.7 50.8 64.5 50.7 56 50.8 47.5 51 41.8 54 41.9 60 42.6 62 43 64 43.6 70 46.3 72.5 47.6 75 49.3 77 51 78.5 52.5 80.1 54.5 81.6 57 82.8 59.5 83.8 63 84.3 66 84.6 69 84.8 75.5 85.4 79 87.9 83 90 87.1 91 87.9 92.5 89 97 91.5 106 96 108 96.7 113.1 99 115.7 100 118 100.6 123.5 101.4 128.5 102 137 102.5 161 103.2 173.5 103.8 184.5 104.7 195 105.7 203 106.6 207 107.3 214 109.1 226 112.7 232 114.6 248.5 120.3 262.5 125.5 267 127 270.5 128 272.5 128.3 274 128.4 275 128.7 275.5 129 275.6 133 275.5 136.1Z"/><path fill="rgb(132,132,228)" fill-rule="evenodd" d="M275.5 136 272.5 135.3 267.9 133 261.4 130.5 255.5 128.5 250.6 127 245 125.5 238.5 124 231 122.5 224.5 121.4 219.5 120.8 214.5 120.3 197 118.9 183.5 118.1 168.5 117.4 133 116.7 122.5 116.1 112 115.3 102.5 114.1 96.5 113.1 91.5 112.2 87.5 111.2 79 108.6 73.5 106.7 70 105 67.5 103.4 65.2 101.5 60 96.5 58.3 94.5 56.7 92 55.3 89.5 54.1 86.5 53.1 83 52.3 79 52 75.5 51.9 71 51.5 70.6 51 70.6 50.8 64.5 50.7 56 50.8 47.5 51 41.9 54 42.1 59.5 42.7 61.5 43 64 43.8 65.7 44.5 67.5 45.5 70 46.6 72.5 47.9 75 49.7 77.5 51.9 78.9 53.5 80.3 55.5 81.7 58 82.7 60.5 83.4 63 83.9 66 84.2 69 84.4 75.5 85 79 87.7 83.5 89.5 87.1 89.8 87.5 90.5 88.1 93.5 90.1 97.5 92.3 104.8 96 107 96.7 113.5 99.5 116 100.4 118.9 101 125 101.8 130 102.3 135 102.6 161 103.4 176 104.2 188.5 105.2 199 106.3 204 106.9 208 107.7 214 109.3 226 112.8 232 114.7 249.5 120.7 261 125 266.5 126.9 270.5 128.1 272.5 128.4 274 128.6 275 128.9 275.5 129.1 275.6 133 275.5 136Z"/><path fill="rgb(139,139,227)" fill-rule="evenodd" d="M275.5 135.9 272.5 135.1 268.1 133 261.6 130.5 255.7 128.5 249 126.5 243.2 125 236.4 123.5 228.5 122 223 121.1 218 120.5 212.5 120.1 195 118.7 183.5 118 168.5 117.4 133 116.6 122.5 116.1 112 115.3 103 114.1 96.5 113.1 91.5 112.1 87.5 111.1 78.5 108.4 74 106.8 70 104.9 67.5 103.3 65.4 101.5 60.5 96.8 58.9 95 56.8 92 55.3 89 54.3 86.5 53.2 82.5 52.5 79 52.1 75.5 52 70.5 51 70.4 50.8 64.5 50.7 56 50.8 48 51 42.1 54 42.2 59.5 42.8 61.5 43.2 64 44 70 46.9 72.1 48 74.5 49.6 77.1 52 78.9 54 80.2 56 81.3 58 82.3 60.5 83.1 63.5 83.5 66 83.8 69 84 75.5 84.5 79 84.7 79.5 87.3 83.5 89.2 87.5 91 89 93.5 90.6 97 92.6 103.6 96 107 97.1 112.7 99.5 115.5 100.5 118 101.1 124.4 102 129.7 102.5 135 102.8 161.5 103.6 176 104.3 186.5 105.2 197.5 106.2 203.5 106.9 208 107.8 215 109.7 225.5 112.8 232 114.8 249.5 120.8 266.5 127 270.5 128.2 272.5 128.6 274 128.7 274.9 129 275.5 129.3 275.6 133 275.5 135.9Z"/><path fill="rgb(145,145,225)" fill-rule="evenodd" d="M275.5 135.8 272.5 135 268.3 133 261.8 130.5 255.8 128.5 249.2 126.5 243.4 125 236.5 123.5 228.8 122 222.5 121 218 120.5 212.6 120 195 118.6 185.5 118 168.5 117.3 141.5 116.8 131.5 116.4 120.5 115.9 112 115.2 107 114.6 101 113.7 95 112.7 90.5 111.8 87 110.9 78.5 108.3 74 106.7 70 104.7 67.5 103.1 65.5 101.4 60.5 96.6 59.1 95 57.3 92.5 55.9 90 54.6 87 53.4 83 52.6 79 52.3 75.5 52.2 70.5 52 70.3 51 70.3 50.8 64 50.7 56 50.8 48 51 42.3 54 42.4 59.5 43 61.5 43.4 64 44.1 70.5 47.4 72 48.2 74.5 50 77 52.3 78.5 54 79.8 56 81.1 58.5 81.9 60.5 82.6 63 83.2 66 83.4 69 83.6 75.5 84.2 79 84.5 79.8 87.1 84 89 87.9 91 89.5 93.5 91.1 97 93.1 102.6 96 106.5 97.3 113.3 100 115.5 100.7 118.5 101.4 123.5 102.1 128.5 102.6 135 103 161.5 103.8 178 104.7 186.5 105.3 197 106.3 203.5 107.1 207.5 107.8 213 109.2 230 114.2 248 120.3 266.5 127.1 270.5 128.3 274.6 129 275.5 129.4 275.6 133 275.5 135.8Z"/><path fill="rgb(151,151,224)" fill-rule="evenodd" d="M275.5 135.7 272.5 134.9 268.5 133 261.9 130.5 256 128.5 249.4 126.5 243.6 125 236.5 123.4 229.2 122 222.9 121 213.4 120 195 118.5 183.5 117.8 166.5 117.1 133 116.4 122.5 115.9 112 115.1 102 113.8 95.5 112.7 91 111.8 87 110.8 79 108.4 74 106.5 70 104.6 67.6 103 65.5 101.3 60.5 96.5 58.8 94.5 57.2 92 55.8 89.5 54.8 87 53.6 83 52.8 79 52.5 75.5 52.3 70.5 52 70.2 51 70.1 50.8 64 50.7 56 50.8 48 51 42.4 54.5 42.6 59.5 43.1 62 43.7 64 44.3 70.3 47.5 72 48.5 74.7 50.5 76.8 52.5 78.1 54 79.4 56 80.8 58.5 81.5 60.5 82.3 63 82.8 66 83.1 69 83.3 75.5 83.8 79 84.2 80 86.7 84 88.6 88 90.5 89.6 93.3 91.5 97 93.6 102 96.2 106.5 97.6 112.5 100 115.5 101 118 101.5 125 102.5 135 103.2 161 103.9 177.5 104.8 189 105.7 200.5 106.8 204.5 107.4 208.5 108.2 214.5 109.8 230 114.3 249 120.7 266.5 127.2 270.5 128.4 274.5 129.1 275.5 129.6 275.6 133 275.5 135.7Z"/><path fill="rgb(157,157,223)" fill-rule="evenodd" d="M275.5 135.5 272.5 134.8 268.7 133 262 130.5 256 128.4 249.6 126.5 243.8 125 236.5 123.4 229.5 122 223 121 214.3 120 195.6 118.5 183.5 117.7 166.5 117.1 133 116.4 122.5 115.8 112.5 115.1 102.5 113.8 96 112.7 91 111.7 87 110.7 79 108.3 74.5 106.6 70.5 104.8 68 103.2 65.5 101.1 61 96.8 59.4 95 57.6 92.5 56.2 90 54.9 87 53.8 83 53 79 52.6 75.5 52.5 70.5 52 70 51 69.9 50.8 64 50.7 56 50.8 48 51 42.6 54.5 42.7 59.5 43.3 61.5 43.7 63.5 44.3 65.5 45.2 71.6 48.5 74 50.2 76.4 52.5 78.1 54.5 79.6 57 80.6 59 81.4 61 82.2 64 82.5 66 82.8 69 83 75.5 83.5 79.1 83.8 80 85.4 82.5 86.6 84.5 88.2 88 88.6 88.5 89.5 89.3 92.5 91.4 96.5 93.8 101.6 96.5 106 97.8 111.8 100 115 101.1 118 101.8 123.5 102.5 128.7 103 135 103.4 163 104.2 176 104.8 188 105.8 198.5 106.8 203.5 107.3 208 108.2 214 109.7 231 114.7 249 120.8 266.5 127.3 270.5 128.5 274.5 129.3 275.5 129.7 275.6 133 275.5 135.5Z"/><path fill="rgb(163,163,221)" fill-rule="evenodd" d="M275.5 135.4 272.5 134.6 267.7 132.5 260.5 129.9 254.5 127.9 248 126 241.9 124.5 235 123 229.8 122 223 120.9 214.5 120 197 118.5 183.5 117.7 166.5 117 133 116.3 122.5 115.7 112 114.9 102.5 113.7 96.5 112.8 91 111.7 87.5 110.8 79 108.2 74 106.3 70.5 104.6 67.9 103 65.5 101 60.9 96.5 59.2 94.5 57.8 92.5 56.4 90 55.1 87 53.9 83 53.1 79 52.8 75.5 52.6 70 52.5 69.9 51 69.8 50.8 64 50.7 56 50.8 48 51 42.7 53.5 42.8 59.5 43.4 61.5 43.9 63.5 44.5 65.5 45.4 71.5 48.7 73.9 50.5 76.1 52.5 77.7 54.5 79 56.5 80.1 58.5 81 61 81.8 64 82.2 66 82.4 69 82.7 75.5 83.3 79.5 83.5 80.1 85.1 82.5 86.2 84.5 88 88.3 89.2 89.5 92 91.5 96.5 94.2 100.7 96.5 106 98.1 112.5 100.5 115.5 101.4 118 102 123 102.6 128 103.1 135 103.6 163 104.3 178 105.1 190.5 106.1 201 107.2 204.5 107.6 208 108.3 214 109.8 226 113.3 231 114.8 249 120.8 267.5 127.7 270.5 128.6 274.5 129.4 275.5 129.9 275.6 133 275.5 135.4Z"/><path fill="rgb(169,169,220)" fill-rule="evenodd" d="M275.5 135.3 272.5 134.5 267.9 132.5 260.5 129.8 254.5 127.9 248.1 126 242 124.5 235 122.9 230 122 223 120.8 216 120 199 118.6 182 117.5 168.5 117 133 116.2 122.5 115.7 112 114.9 102.5 113.6 96.5 112.7 91 111.6 87.5 110.7 79 108.1 74.5 106.4 71 104.8 68 102.9 65.7 101 61.1 96.5 59.3 94.5 57.6 92 56.3 89.5 55.2 87 54.2 83.5 53.3 79 52.9 75.5 52.8 70 52.5 69.7 51 69.6 50.8 64 50.7 56 50.8 48.5 51 42.8 53.5 42.9 59.5 43.6 61.5 44 63.5 44.7 65.3 45.5 71.5 49 74.2 51 76.2 53 77.7 55 79 57 80 59 80.7 61 81.4 63.5 81.9 66 82.1 69 82.4 76 83 79.5 83.4 80.5 85.9 84.5 87.8 88.5 88.2 89 89.4 90 92 91.9 96.2 94.5 100 96.5 105.5 98.2 111.8 100.5 114.9 101.5 118 102.1 124.5 103 130 103.4 135 103.7 161 104.4 177.5 105.2 186 105.9 196.5 106.8 203.5 107.6 207.5 108.3 215 110.2 226 113.3 231 114.9 249 120.9 267.5 127.8 270.5 128.7 274.5 129.6 275.5 130.1 275.6 133 275.5 135.3Z"/><path fill="rgb(178,178,218)" fill-rule="evenodd" d="M275.5 135.1 272.5 134.4 268 132.5 259.5 129.4 253.5 127.5 248.3 126 242.3 124.5 235.5 123 230 121.9 223 120.8 216.4 120 199 118.5 183.5 117.5 168.5 116.9 133 116.1 122.5 115.6 112 114.8 107 114.2 101 113.3 95 112.3 90.5 111.4 87.5 110.6 79.5 108.2 74.5 106.4 71 104.7 68 102.8 65.9 101 61.3 96.5 59.5 94.5 57.8 92 56.4 89.5 55.4 87 54.2 83 53.4 79 53.1 75.5 52.9 70 52.5 69.6 51 69.5 50.8 63.5 50.7 56 50.8 48.5 51 43 53.5 43.1 59.5 43.7 61.5 44.2 63.5 44.8 65 45.6 71.5 49.2 73.8 51 75.9 53 77.1 54.5 78.4 56.5 79.7 59 80.4 61 81.2 64 81.7 66.5 81.9 69.5 82.1 75.5 82.7 79.5 83 80.5 84.7 83 85.8 85 87.4 88.5 87.8 89 88.9 90 91.6 92 96.4 95 100 96.9 105 98.3 114.5 101.6 117.5 102.3 123.2 103 129.5 103.6 136.5 104 163 104.7 177.5 105.4 188.5 106.2 199 107.2 203.5 107.7 207.5 108.4 214.5 110.2 225.5 113.3 232 115.3 248.5 120.8 267.5 127.9 270.5 128.8 274.5 129.8 275.5 130.2 275.5 135.1Z"/><path fill="rgb(189,189,215)" fill-rule="evenodd" d="M275.5 134.9 273 134.3 266.5 131.7 258 128.8 252 127 246.8 125.5 240.5 124 233.5 122.5 228 121.5 221.8 120.5 214.5 119.7 200.1 118.5 184 117.4 168.5 116.8 133 116 122.5 115.5 112.5 114.7 107.5 114.1 101.5 113.3 95.5 112.3 91 111.4 87 110.3 79 107.9 75 106.4 72.5 105.3 69.5 103.6 67.3 102 65.1 100 61.1 96 59.4 94 57.2 90.5 55.8 87.5 54.7 84 53.7 79 53.3 75.5 53.2 70 53 69.5 52.5 69.3 51 69.2 50.8 63.5 50.7 56 50.8 48.5 51 43.2 53.5 43.3 59 43.9 61 44.3 63 45 66.5 46.7 71 49.4 73.5 51.3 75.5 53.3 77.2 55.5 78.6 58 79.7 60.5 80.6 63.5 81 65.5 81.2 67.5 81.6 76.5 82 79 82.5 80.5 84.7 84 85.7 86 86.8 88.5 87.5 89.5 89.5 91.2 92 93 96 95.5 98.7 97 105 98.8 111.4 101 114.7 102 117.5 102.6 124 103.4 129.5 103.9 135 104.2 163 104.9 178 105.7 188 106.4 198.5 107.4 203.5 107.9 207.5 108.6 212 109.7 223.5 112.9 233 115.7 249.5 121.3 267.5 128 271.5 129.3 274.3 130 275.5 130.6 275.5 134.9Z"/><path fill="rgb(200,200,212)" fill-rule="evenodd" d="M275.5 134.6 273 134 267 131.8 256.5 128.2 247 125.5 240.5 123.9 234 122.5 228.5 121.4 222.6 120.5 214.5 119.6 200.5 118.4 184 117.3 168.5 116.6 133 115.9 122.5 115.3 112.5 114.6 102.5 113.3 96 112.2 91 111.2 87.5 110.4 79.5 107.9 75 106.2 72 104.8 69.5 103.4 67.5 101.9 65.4 100 61.4 96 59.7 94 57.8 91 56.1 87.5 54.9 83.5 53.9 79 53.6 75.5 53.5 70 53.3 69.5 53 69.2 51 68.9 50.8 63.5 50.7 56 50.8 48.5 51 43.5 53.5 43.6 59 44.2 61.5 44.7 63 45.3 66.5 47.1 68.5 48.4 69.5 48.9 71 49.8 73.1 51.5 75.1 53.5 76.6 55.5 78.4 58.5 79.2 60.5 80.1 63.5 80.5 65.5 80.8 68 81.2 76.5 81.6 79.5 82.2 81 84.4 84.5 86.5 89 87 89.7 89 91.4 91.1 93 95.5 95.8 98 97.2 105 99.2 114 102.2 117.5 102.9 122.5 103.5 129.5 104.1 136.2 104.5 163 105.2 177.5 105.9 188 106.6 196.5 107.4 203.5 108.1 207.5 108.8 213.5 110.3 224 113.2 234 116.2 250 121.6 269 128.7 274 130.2 275.5 130.9 275.5 134.6Z"/><path fill="rgb(210,208,208)" fill-rule="evenodd" d="M275.5 134.3 273 133.7 258.5 128.8 252 126.8 247 125.4 240.5 123.8 233.5 122.3 226.5 121 221.5 120.2 214.5 119.5 199 118.1 182 117 168.5 116.5 133.5 115.7 123 115.2 112.5 114.4 103 113.2 97 112.3 92 111.3 87.5 110.2 79.5 107.7 77 106.9 73.5 105.4 70.5 103.8 68.5 102.4 66.5 100.8 61.7 96 60 94 58.1 91 56.6 88 55.4 84.5 54.3 79.5 53.9 76 53.7 70.5 53.6 69.5 53 68.9 51 68.7 50.8 63.5 50.8 56 50.8 49 51 43.7 53.5 43.8 58.5 44.4 60.5 44.7 62.5 45.4 64 46.1 66.5 47.4 70 50 70.5 50 71 50.3 73 51.9 74.6 53.5 76.1 55.5 77.6 58 78.7 60.5 79.6 63.5 80.1 65.5 80.4 68 80.7 76.5 81.2 79.5 81.7 81 83.9 84.5 84.9 86.5 86 89 86.6 90 88.5 91.6 91 93.5 95.5 96.4 97.5 97.5 105 99.6 114.1 102.5 117 103.1 122.5 103.8 129 104.4 134.5 104.7 163 105.4 179.5 106.2 188 106.8 198.5 107.8 203.5 108.3 208 109.1 213 110.3 225.5 113.7 235.5 116.8 250 121.7 268.5 128.8 274 130.6 275.5 131.3 275.5 134.3Z"/><path fill="rgb(213,197,197)" fill-rule="evenodd" d="M275.5 133.8 273 133.4 255 127.6 245.5 124.9 239 123.4 232 121.9 221.5 120.1 214.5 119.4 199 118 184 117 168.5 116.4 133.5 115.6 123 115.1 112.5 114.3 103.5 113.2 97 112.2 92 111.2 86.5 109.8 77 106.7 73.5 105.2 70.5 103.6 68.5 102.2 66.5 100.5 61.6 95.5 60.3 94 58.3 91 56.8 88 55.6 84.5 54.5 79.5 54.1 76 53.9 69.5 53.6 69 53 68.6 51 68.4 50.8 63 50.8 56 50.8 49 51 44 53.5 44.1 58.5 44.6 61 45.1 62.5 45.7 66.5 47.8 68.9 49.5 71 51.2 71.5 51.6 72 51.5 73.1 52.5 74.5 54 76.3 56.5 77.7 59 78.6 61.5 79.3 64 79.7 65.5 79.9 68 80.3 76.5 80.8 79.5 81.2 81 83.4 84.5 84.4 86.5 85.8 89.5 86.5 90.5 88.2 92 90.5 93.7 96.5 97.5 113.5 102.7 117 103.4 122.1 104 129 104.6 136.4 105 163 105.7 177.5 106.3 186 106.9 196.5 107.8 203 108.5 207.5 109.2 214 110.8 228.5 114.7 237 117.4 250 121.8 268 128.8 274 131 275.5 131.9 275.5 133.8Z"/><path fill="rgb(216,185,185)" fill-rule="evenodd" d="M275 133 273.5 133 271 132.4 253.5 127 244 124.4 232 121.8 221.5 120 214.5 119.3 200.2 118 184 116.9 168.5 116.2 133 115.5 123 115 113 114.2 104 113.1 97.5 112.1 92.5 111.2 87 109.8 77.5 106.7 74 105.3 71 103.7 69 102.4 67 100.7 62 95.7 60.6 94 58.6 91 57.1 88 55.9 84.5 54.8 79.5 54.4 76 54.2 69.5 53.9 69 53.5 68.6 53 68.3 51 68.2 50.8 63 50.8 56 50.8 49 51 44.2 53.5 44.3 58.5 44.9 60.5 45.3 62.5 46 66 47.8 68.5 49.5 70.7 51.5 72.2 53 73 54 74 54 74.3 54.5 75.5 56 77 58.6 78 61 78.8 63.5 79.3 65.5 79.5 68 80 77 80.5 80 81 81.5 83.2 85 85.3 89.5 86 90.5 87.6 92 90.2 94 94.7 97 96 97.7 99 98.7 113.7 103 117 103.6 122 104.2 127.5 104.7 134.5 105.1 163 105.9 179.5 106.6 188 107.2 198.5 108.2 203.5 108.7 207 109.3 213 110.7 226.5 114.3 235 116.9 248 121.2 255.6 124 271.7 130.5 273.8 131.5 274.5 132 275 132.5 275.1 133 275 133Z"/><path fill="rgb(219,174,174)" fill-rule="evenodd" d="M272.5 132 272 132.1 271 132.1 268.5 131.5 252 126.5 242.5 124 232 121.7 221.5 119.9 214.5 119.1 201 117.9 184 116.8 168.5 116.1 133.5 115.4 123 114.8 113 114.1 103 112.8 96 111.7 91.5 110.8 87 109.7 77.5 106.6 74 105.1 71.5 103.8 69 102.1 67 100.5 62.1 95.5 60.8 94 58.8 91 57.3 88 56.1 84.5 55 79.5 54.6 76 54.4 69.5 54 68.7 53.5 68.3 53 68.1 51 67.9 50.8 63 50.8 56 50.8 49.5 51 44.4 53.5 44.6 58.5 45.1 60.5 45.5 62 46.1 65.5 47.8 68 49.5 70.3 51.5 72 53.3 73.6 55.5 75.2 58 76.4 60.5 76.5 61.2 76.8 61.5 77 62.9 77.3 63.5 77.5 64.9 77.8 65.5 77.9 66 78 69.5 78.3 70 78.3 70.5 78.3 71 78 71.6 78 72.9 79 71.9 79.2 75.5 79.5 76.3 79.7 79 80 79.6 80.3 81 83 85.4 84 87.5 84.8 89.5 85.9 91 87.6 92.5 90.2 94.5 94 97.1 95.5 97.8 99 99 112.6 103 117 103.9 122 104.5 129 105.1 136 105.4 164.5 106.1 177.5 106.7 186 107.3 196 108.1 202.5 108.8 206.5 109.4 212.5 110.7 226.5 114.4 235.5 117.1 248 121.3 256 124.3 267.5 129 271.7 131 272.4 131.5 272.6 132 272.5 132Z"/><path fill="rgb(221,162,162)" fill-rule="evenodd" d="M270 131.3 268 131.1 265.6 130.5 250.5 126 242.5 123.9 230.5 121.3 225 120.4 220 119.6 199.5 117.7 182 116.5 168.5 116 133.5 115.2 123 114.7 112.5 113.9 103.5 112.8 96 111.6 91.5 110.7 86.5 109.4 77.5 106.4 74.5 105.2 71.5 103.6 69.5 102.3 67.3 100.5 62.4 95.5 61 93.9 59.1 91 57.6 88 56.4 84.5 55.3 79.5 54.9 76 54.7 69.5 54.5 69 54.1 68.5 53.5 68 53 67.8 51 67.7 50.8 62.5 50.8 56 50.8 49.5 51 44.7 53.5 44.8 58.5 45.3 60.5 45.8 62 46.3 65.5 48.1 68 49.9 70.4 52 72 53.8 73.9 56.5 75.2 59 76.3 61.5 77.1 64.5 77.6 67.5 77.7 70 77.7 72 77.4 73.5 77.5 76.7 78 79.8 78.9 82.5 81.2 86 83 89.4 84.5 91.5 87 93.5 87.5 93.7 88.4 94.5 89 94.6 90 95.5 90.5 95.5 90.9 96 91.5 96.1 91.8 96.5 92.5 96.7 92.7 97 93.5 97.3 94 97.6 99.5 99.5 111.6 103 115.5 103.9 120.2 104.5 127 105.1 134.5 105.6 165 106.4 179.5 107 190 107.8 200 108.7 204 109.1 207.5 109.7 214 111.2 227.5 114.8 237 117.7 248 121.4 257.5 125 265.9 128.5 269.8 130.5 270.4 131 270 131.3Z"/><path fill="rgb(224,151,151)" fill-rule="evenodd" d="M268 130.6 266.5 130.5 264.5 130 249 125.5 240.5 123.4 230.5 121.2 225 120.3 220 119.5 199.5 117.6 184 116.5 168.5 115.9 133.5 115.1 123 114.6 112.5 113.8 103.5 112.7 96.5 111.6 92 110.7 86.5 109.3 77.5 106.3 74.5 105 72 103.7 69.5 102.1 67.6 100.5 62.5 95.3 61 93.5 59.3 91 57.8 88 56.6 84.5 55.5 79.5 55.2 76.5 55 70 54.8 69 54.5 68.5 54 68 53.5 67.7 53 67.6 51 67.4 50.8 62.5 50.8 56 50.8 49.5 51 44.9 53.5 45 58.5 45.6 60.5 46.1 62 46.6 65 48.1 67.7 50 70 52 71.8 54 73.2 56 74.7 58.5 75.8 61 76.7 64 77.2 66.5 77.4 68.5 77.4 71 77.2 73.5 77.3 77 77.8 80 78.6 82.5 80.8 86 83 90 84.5 91.9 87.2 94 90.2 96 92 97 94.5 98.1 99.5 99.8 112.6 103.5 116.5 104.3 121.5 104.9 129 105.5 134.5 105.8 165 106.6 179.5 107.2 188 107.8 198 108.6 203 109.2 207 109.8 213.5 111.2 226.5 114.7 235 117.2 246.5 121 255.5 124.3 264.3 128 268.1 130 268.5 130.5 268 130.6Z"/><path fill="rgb(227,140,140)" fill-rule="evenodd" d="M266.5 130 265.5 130 263.4 129.5 249 125.4 239 122.9 228.5 120.8 220 119.4 199.5 117.5 184 116.4 168.5 115.8 133.5 115 123 114.5 113 113.7 104 112.6 96 111.4 92 110.6 87 109.3 78 106.4 75 105.1 72.5 103.8 70 102.2 67.8 100.5 62.5 95 61.2 93.5 59.6 91 58.1 88 56.8 84.5 55.7 79.5 55.4 76.5 55.2 70 55 69 54.3 68 53.5 67.5 53 67.3 51 67.2 50.8 62.5 50.8 56 51 45.1 53.5 45.3 58 45.7 60 46.2 62 46.9 65 48.4 67.3 50 69.6 52 71.4 54 72.9 56 74.3 58.5 75.7 61.5 76.4 64 77 67 77.2 69.5 77.2 71 76.9 73.5 77 77 77.5 80 78.3 82.5 80.5 86 83 90.5 84.2 92 86.5 93.8 89.7 96 91.5 97 94.5 98.4 99.2 100 111.6 103.5 115.5 104.3 120.9 105 127 105.5 136 106 164.5 106.7 177.5 107.3 186 107.8 196 108.6 202.5 109.3 206.5 109.9 213 111.3 226.5 114.8 235 117.3 246 120.9 254 123.8 261.6 127 265.7 129 266.5 129.5 266.5 130Z"/><path fill="rgb(229,128,128)" fill-rule="evenodd" d="M264.5 129.3 262.2 129 247.5 124.9 237.5 122.5 228.5 120.7 220 119.3 199.5 117.3 184 116.3 168.5 115.6 133.5 114.9 123 114.3 113 113.6 103.5 112.4 96.5 111.3 92 110.5 87 109.2 78 106.2 75 104.9 72.5 103.6 70 102 68 100.4 62.8 95 61.5 93.5 59.8 91 58.3 88 57.1 84.5 56 79.5 55.6 76.5 55.4 70 55.3 69 54.6 68 54 67.5 53 67.1 51 67 50.8 56 51 45.4 53.5 45.5 58 46 60 46.4 62 47.2 64.6 48.5 67 50.1 69.5 52.3 71.5 54.5 73.2 57 74.3 59 75.4 61.5 76.3 64.5 76.7 67 76.9 69.5 76.9 71 76.7 73.5 76.8 77 77.4 80.5 78.2 83 80.2 86 82.6 90.5 84 92.2 86.3 94 89.5 96.2 91.5 97.3 94 98.5 99.9 100.5 110.6 103.5 115.2 104.5 119.5 105.1 127 105.7 134.5 106.2 165 106.9 179.5 107.6 196 108.8 202.5 109.4 207 110.1 214 111.7 226 114.8 234.5 117.3 245.9 121 254 123.9 261.2 127 263.2 128 264.9 129 264.5 129.3Z"/><path fill="rgb(232,117,117)" fill-rule="evenodd" d="M263 128.7 261 128.5 247.5 124.8 237.5 122.4 229 120.7 220 119.2 199.5 117.2 184 116.2 168.5 115.5 133.5 114.7 123 114.2 113 113.5 104 112.4 96.5 111.2 92 110.3 87 109.1 78 106.1 75 104.8 72.5 103.5 70 101.8 68 100.2 61.7 93.5 60.1 91 58.8 88.5 57.9 86.5 57.3 84.5 56.2 79.5 55.8 76 55.7 70 55.5 69 55 68 54 67.2 53 66.9 51 66.7 50.8 56 51 45.6 53.5 45.7 58 46.2 60 46.7 61.5 47.2 64.5 48.7 67 50.4 69.4 52.5 71.1 54.5 72.9 57 74 59 75.1 61.5 76 64.5 76.4 67 76.6 69.5 76.4 73.5 76.5 77 77.1 80.5 77.9 83 79.9 86 82.3 90.5 83 91.5 83.9 92.5 86.5 94.5 89.5 96.5 92 97.9 94.5 99 100 100.8 111.7 104 116 104.8 121.5 105.5 128.5 106 136 106.4 165 107.1 179 107.7 187.5 108.3 198 109.1 203 109.6 207 110.2 213.5 111.7 226 114.9 233 116.9 242.6 120 249.9 122.5 256.3 125 261.7 127.5 263.3 128.5 263 128.7Z"/><path fill="rgb(235,105,105)" fill-rule="evenodd" d="M261.5 128.2 259.8 128 246 124.3 236 122 227 120.2 218.5 118.9 199.5 117.1 182 115.9 166.5 115.3 133.5 114.6 123 114.1 113 113.4 104 112.2 96.5 111.1 92 110.2 87 109 78.2 106 75 104.6 72.5 103.3 70 101.7 68 100 62 93.5 60.6 91.5 59 88.5 58.2 86.5 57.5 84.5 56.4 79.5 56.1 76 55.9 70 55.7 69 55.5 68.4 55 67.7 54 66.9 53 66.6 51 66.5 50.8 56 51 45.8 53.5 45.9 58 46.4 60 46.9 61.5 47.5 64.5 49 66.7 50.5 69 52.5 70.8 54.5 72.3 56.5 73.7 59 75 62 75.7 64.5 76.2 67 76.4 69.5 76.2 73 76.3 77 76.8 80.5 77.7 83 79.9 86.5 82 90.5 83.5 92.5 86.1 94.5 89.5 96.8 91.7 98 94.5 99.2 99.7 101 110.8 104 115 104.9 120.1 105.5 127 106.1 134 106.5 165 107.3 179 107.9 187.5 108.4 197.5 109.2 202.5 109.7 206.5 110.3 213 111.7 224 114.5 231 116.4 239.2 119 248.5 122.1 254.7 124.5 260.3 127 261.8 128 261.5 128.2Z"/><path fill="rgb(237,94,94)" fill-rule="evenodd" d="M260 127.6 258.5 127.5 246 124.2 236 121.9 227 120.1 218.5 118.8 199.5 117 184 115.9 168.5 115.3 133.5 114.5 123 114 113 113.2 104 112.1 96.5 111 92 110.1 87 108.8 78.5 106 75.5 104.7 73 103.4 70.5 101.8 68.5 100.2 66.8 98.5 62.3 93.5 60.8 91.5 59.2 88.5 58.4 86.5 57.8 84.5 56.7 79.5 56.3 76 56.1 70 56 69 55.5 68 55.1 67.5 54 66.7 53 66.4 51 66.3 50.8 56 51 46 53.5 46.2 57.5 46.6 59.5 47 61 47.5 64 49 66.3 50.5 68.6 52.5 70.5 54.5 71.9 56.5 73.2 58.5 74.6 61.5 75.2 63.5 75.9 66.5 76.1 69 76.1 70.5 75.9 73 76 77 76.6 80.5 77.5 83.3 79.6 86.5 82 91 83.5 92.8 86 94.8 89.4 97 92 98.4 94.5 99.5 99.5 101.2 109.9 104 114.5 105 119.5 105.6 126.5 106.2 134 106.7 165 107.4 179.5 108.1 196 109.3 202 109.8 206.5 110.5 213 111.8 224 114.6 230.9 116.5 237.3 118.5 247 121.7 253.2 124 258.8 126.5 260.3 127.5 260 127.6Z"/><path fill="rgb(240,83,83)" fill-rule="evenodd" d="M258.5 127.1 257.2 127 244.5 123.7 234 121.4 225.5 119.8 218.5 118.7 199.5 116.9 182.5 115.7 167 115.1 133.5 114.4 123 113.9 113 113.1 104.5 112.1 96.5 110.8 92.5 110.1 87 108.7 78.5 105.9 75.4 104.5 73 103.2 70.5 101.6 68.5 100 66.6 98 62.1 93 60.8 91 59.5 88.5 58.1 85 57 80 56.5 76 56.3 69.5 56.1 68.5 55.4 67.5 54.9 67 54.1 66.5 53 66.2 51 66.1 50.8 56 51 46.3 53.5 46.4 57.5 46.8 59.5 47.3 61 47.8 63.5 49 66 50.6 68.5 52.7 70.5 54.9 72 57 73.1 59 74.5 62 75 63.5 75.6 66.5 75.8 69 75.9 70.5 75.7 73 75.7 76 75.8 77.5 76.5 81 77.3 83.5 79.3 86.5 81.7 91 82.4 92 83.3 93 85.9 95 89 97 91.5 98.4 94.5 99.8 100 101.6 110.5 104.4 115 105.3 121 106 128.5 106.5 136 106.9 165 107.6 179 108.2 195.5 109.4 202 110 206.5 110.6 213 112 223.5 114.6 230.5 116.5 237 118.5 246.1 121.5 251.6 123.5 257.3 126 258.2 126.5 258.7 127 258.5 127.1Z"/><path fill="rgb(243,71,71)" fill-rule="evenodd" d="M257 126.5 255.9 126.5 245 123.8 232.5 121 225.5 119.7 218.5 118.6 199.5 116.8 182.5 115.6 167 115 133.5 114.3 123 113.8 113 113 104.5 112 96.5 110.7 92.5 110 87 108.6 78.5 105.7 75.5 104.4 73 103.1 70.6 101.5 68.8 100 66.8 98 62.4 93 61 91 59.7 88.5 58.4 85 57.2 80 56.7 76 56.5 69.5 56.3 68.5 55.5 67.2 54.5 66.4 53.5 66 51 65.8 50.8 56 51 46.5 53.5 46.6 57.5 47.1 59.5 47.5 61 48.1 63.5 49.3 66 50.9 68.4 53 70.2 55 71.7 57 72.8 59 74.2 62 74.8 64 75.3 66.5 75.6 69 75.6 70.5 75.4 73 75.5 76 75.6 77.5 76.2 81 77 83.5 79 86.6 81.4 91 83 93 85.5 95 89 97.3 91.5 98.7 94.5 100 100 101.9 110.1 104.5 114.5 105.4 119.5 106 126.5 106.6 134 107 165 107.8 179 108.4 195.5 109.5 202 110.1 206 110.7 212.5 112 223.5 114.7 228.5 116 235 118 244 120.9 250 123 255.8 125.5 256.7 126 257.1 126.5 257 126.5Z"/><path fill="rgb(246,60,60)" fill-rule="evenodd" d="M255 126 252.4 125.5 241.5 122.8 232.5 120.9 224 119.3 217 118.4 199.5 116.7 182.5 115.5 167 114.9 133.5 114.2 123 113.6 113 112.9 104.5 111.8 97 110.7 92.5 109.9 87.5 108.6 79 105.8 76 104.5 73.5 103.2 70.9 101.5 69 100 67 98 62.6 93 61.2 91 59.9 88.5 59.1 86.5 58.5 84.7 57.4 80 57 77 56.8 70 56.5 68.5 56 67.5 55.6 67 54.5 66.2 53.5 65.8 51 65.6 50.8 56 51 46.7 53.5 46.9 57.5 47.3 59 47.6 60.5 48.1 63.4 49.5 65.7 51 68.1 53 69.9 55 71.4 57 72.6 59 74 62.1 74.6 64 75.1 66.5 75.4 69 75.2 73.5 75.4 77.5 76 81 76.8 83.5 79 87 81.1 91 82 92.3 83 93.4 85.5 95.3 89 97.6 91.6 99 94.5 100.3 100 102.1 110 104.7 114.5 105.6 121 106.3 128.5 106.9 136 107.2 164.5 107.9 177 108.4 185.5 108.9 195.5 109.7 202 110.3 206 110.8 212.5 112.1 222 114.4 227 115.7 234 117.8 243.9 121 249.6 123 253.2 124.5 255.2 125.5 255.4 126 255 126Z"/><path fill="rgb(248,48,48)" fill-rule="evenodd" d="M253.5 125.4 251 125 243.5 123.2 234.5 121.2 224 119.2 217 118.3 201.5 116.7 188 115.7 174.5 115 163 114.7 140 114.2 129.5 113.9 119 113.2 110.5 112.5 98.5 110.8 92 109.6 87 108.4 79 105.6 76 104.3 73.5 103 71.1 101.5 69.2 100 67.3 98 62.9 93 61.5 91 60.2 88.5 59.3 86.5 58.7 84.5 57.6 79.5 57.2 76 57 69.5 56.8 68.5 56.5 67.8 55.9 67 55.4 66.5 54.5 65.9 53.5 65.6 51 65.4 50.9 56 51 47 53.5 47.1 57.5 47.5 59 47.9 60.5 48.4 63 49.6 65.5 51.2 67.7 53 69.6 55 71.1 57 72.3 59 73.9 62.5 74.3 64 74.8 66.5 75.1 69 75 73.5 75.1 77.5 75.7 81 76.2 82.5 76.8 84 78.7 87 81 91.3 81.8 92.5 82.8 93.5 85.4 95.5 89 97.9 91.5 99.2 94.5 100.5 97.2 101.5 100.5 102.5 110 104.9 114.5 105.7 121 106.5 128.5 107 136 107.4 164.5 108.1 179 108.7 195.5 109.8 202 110.4 206 110.9 210.5 111.8 216 113.1 225 115.3 232.5 117.5 240.6 120 247.9 122.5 252.7 124.5 253.6 125 253.5 125.4Z"/><path fill="rgb(251,37,37)" fill-rule="evenodd" d="M252 124.5 251.5 124.8 249.6 124.5 233 120.8 222.5 118.9 215 117.9 199.5 116.4 188 115.6 174.5 114.9 163 114.6 140 114.1 129.5 113.8 119 113.1 111 112.4 106.5 111.9 97.5 110.5 92 109.5 86.5 108.1 79 105.5 76 104.2 73.7 103 71.4 101.5 69.5 100 67.5 98 63.1 93 61.7 91 60.5 88.7 59 85 57.9 80 57.4 76 57.2 69.5 56.8 68 56 66.7 55.5 66.3 54.5 65.7 53.5 65.3 51 65.1 50.9 56 51 47.2 54 47.4 57.5 47.8 59 48.1 60.5 48.7 63 49.9 65.5 51.5 67.5 53.1 69.5 55.3 70.8 57 72 59 73.6 62.5 74.1 64 74.6 66.5 74.9 69 74.7 73.5 74.9 77.5 75.5 81 76.5 84 78.4 87 80.8 91.5 82.5 93.6 85 95.5 88.8 98 91.5 99.5 94.5 100.8 99.5 102.4 108 104.6 114 105.8 119 106.5 126.5 107.1 134 107.5 164.5 108.2 179 108.8 195 109.9 201.5 110.5 205.5 111 210 111.8 214.5 112.8 223.3 115 230.5 117 238.7 119.5 246.1 122 249.9 123.5 252 124.5Z"/><path fill="rgb(254,26,26)" fill-rule="evenodd" d="M250 124.1 248.2 124 233 120.7 222.5 118.8 215 117.8 200 116.3 186.5 115.4 174.5 114.8 163 114.4 140 114 129.5 113.6 119 113 111 112.3 98.5 110.6 92.5 109.5 87 108.1 79.3 105.5 77 104.5 74 103 71.7 101.5 69.7 100 67.7 98 63.4 93 62 91.1 60.9 89 60 87 59.3 85 58.1 80 57.7 76 57.5 69.5 57.1 68 56.5 67 56.1 66.5 54.7 65.5 53.5 65.1 51 64.9 50.9 56 51 47.4 54 47.6 57.4 48 59 48.4 60.5 48.9 62.7 50 65.1 51.5 67.5 53.5 69.4 55.5 70.8 57.5 72 59.5 73.3 62.5 73.8 64 74.4 66.5 74.6 69 74.5 73.5 74.6 77.5 75.2 81 76.2 84 78.1 87 80.5 91.5 81.5 92.9 82.5 93.9 85.3 96 89 98.4 91.5 99.7 94.5 101 100 102.8 108 104.8 114 106 119 106.6 126.5 107.2 134 107.6 164.5 108.4 179 109 195 110.1 201.5 110.6 205.5 111.1 210 112 214.5 113 224.8 115.5 230.2 117 238.3 119.5 245.6 122 248.2 123 250.3 124 250 124.1Z"/><path fill="rgb(251,19,19)" fill-rule="evenodd" d="M248 123.6 246.9 123.5 231.5 120.2 222.5 118.7 215 117.7 200 116.2 186.5 115.3 174.5 114.7 163 114.3 140 113.9 129.5 113.5 119.5 112.9 111 112.2 98.9 110.5 92.5 109.4 87 108 79.7 105.5 77.3 104.5 74.3 103 71.9 101.5 70 100 68 98 63.5 92.8 62.2 91 61.1 89 60.2 87 59.5 85 58.5 80.5 57.9 76.5 57.7 69.5 57.4 68 56.4 66.5 55 65.4 53.5 64.8 51 64.7 50.9 56 51 47.7 53.5 47.8 57 48.2 58.5 48.5 60 49 62.5 50.2 65 51.7 67.2 53.5 69 55.5 70.5 57.5 71.7 59.5 73.3 63 73.7 64.5 74.1 66.5 74.4 69 74.3 74 74.4 77.5 75.1 81.5 76 84.2 78 87.4 80.2 91.5 81 92.6 82.2 94 84.8 96 88.7 98.5 91.5 100 94.5 101.3 100 103.1 109 105.3 114 106.2 120.5 106.9 128 107.5 136 107.9 164.5 108.5 177 109 193 110 201.5 110.8 205.5 111.3 210 112.1 214 113 224.3 115.5 229.7 117 236.3 119 243.7 121.5 247.6 123 248 123.4 248.4 123.5 248 123.6Z"/><path fill="rgb(244,18,18)" fill-rule="evenodd" d="M245.5 122.8 242.9 122.5 229.5 119.7 221 118.3 211.5 117.3 196 115.8 182.5 114.9 172.5 114.5 131.5 113.5 121.5 112.9 111 112.1 97.5 110.2 91.5 109 87 107.9 80 105.5 77.6 104.5 74.6 103 72.2 101.5 70 99.8 67.8 97.5 63.5 92.5 62.4 91 61.3 89 60.4 87 59.7 85 58.6 80 58.2 76.5 58 69.5 57.6 68 57.1 67 56.5 66.2 55.6 65.5 55 65.1 53.5 64.6 51 64.4 50.9 56 51 47.9 54 48.1 57.5 48.5 59.3 49 61.5 49.9 64 51.4 65.5 52.4 67.3 54 69 55.9 70.5 58 71.9 60.5 73 63 73.4 64.5 73.9 66.5 74.1 69 74 74 74.2 77.5 74.8 81.5 75.3 83 75.9 84.5 77.8 87.5 80.2 92 82 94.1 84.4 96 88.3 98.5 91 100 94 101.3 99.5 103.2 107.5 105.1 114 106.4 120.5 107.1 128 107.6 136 108 164.5 108.7 179 109.3 195 110.3 201.5 110.9 205.5 111.4 209.5 112.1 213.6 113 227.5 116.5 234.3 118.5 240.3 120.5 245.6 122.5 245.5 122.8Z"/><path fill="rgb(236,17,17)" fill-rule="evenodd" d="M243.5 122 243 122.1 241.4 122 230 119.7 221 118.2 203.5 116.3 196 115.7 184.5 114.9 172.5 114.3 140 113.6 131.5 113.4 121.5 112.8 111.5 112 107 111.5 97.5 110 91.9 109 87 107.7 80 105.3 77.5 104.3 74.5 102.8 72 101.2 70 99.6 68 97.5 63.7 92.5 62.7 91 61.6 89 60.7 87 60 85 58.9 80.5 58.4 76.5 58.2 69 57.7 67.5 57 66.5 56.5 65.9 55 64.8 53.5 64.4 51 64.2 50.9 56 51 48.2 54 48.3 57.5 48.8 59 49.2 61 50 62.5 50.7 65 52.4 66.9 54 68.8 56 70.2 58 71.4 60 72.3 62 73.2 64.5 73.6 66.5 73.9 69 73.8 74 73.9 77.5 74.6 81.5 75.6 84.5 77.5 87.5 79.9 92 81 93.4 82 94.5 84.5 96.4 88.5 98.9 91.5 100.5 94.5 101.7 99.5 103.4 104 104.5 109 105.7 115 106.7 120.5 107.3 128 107.8 135.5 108.2 164.5 108.8 177 109.3 193 110.3 201 111 205 111.5 208.1 112 212.5 112.9 226.5 116.4 236.8 119.5 241.2 121 242.5 121.5 243 121.9 243.5 122Z"/><path fill="rgb(228,16,16)" fill-rule="evenodd" d="M240 121.4 228 119.2 221 118.1 203.5 116.2 194 115.4 182.5 114.7 171 114.2 140 113.5 132 113.3 121.5 112.7 113 112 104.7 111 97.5 109.9 92.5 109 89.5 108.3 86.7 107.5 79.5 105 77.2 104 74.3 102.5 72 101 70.2 99.5 68.2 97.5 64 92.5 62.9 91 62 89.3 61.1 87.5 60.4 85.5 59.8 83.5 59.2 80.5 58.7 76.5 58.4 69 57.9 67.5 57.3 66.5 56.5 65.6 55 64.6 53.5 64.1 51 63.9 50.9 56 51 48.4 54 48.6 57.4 49 59 49.4 61 50.3 62.5 51.1 64.7 52.5 66.6 54 68.5 56.1 69.9 58 71.1 60 72 61.9 72.9 64.5 73.3 66.5 73.6 69 73.5 74 73.7 77.5 74.3 81.5 75.3 84.5 77.5 88 79.6 92 80.7 93.5 81.7 94.5 84 96.3 88 98.9 91 100.5 94 101.8 99.5 103.6 107 105.4 113.5 106.7 120.5 107.4 128 108 135.5 108.3 164.5 109 177 109.5 193 110.5 204 111.5 207.5 112 212 112.9 226.5 116.5 231.6 118 237.8 120 239.1 120.5 239.5 120.8 240.3 121 240 121.4Z M240.5 121.5 240.3 121.5 240.5 121.4 240.7 121.5 240.5 121.5Z"/><path fill="rgb(221,15,15)" fill-rule="evenodd" d="M237.5 120.6 236 120.5 226.5 118.8 219 117.7 201.5 115.9 192.5 115.2 180.5 114.4 171 114 132 113.1 121.5 112.6 113.5 111.9 105.5 111 97.5 109.8 93.1 109 89.5 108.2 87.1 107.5 79.9 105 77.5 104 74.6 102.5 72.3 101 70.4 99.5 68.5 97.5 64.3 92.5 63.2 91 62.3 89.5 61.4 87.5 60.6 85.5 60.1 83.5 59.5 80.9 58.9 76.5 58.7 69 58.2 67.5 57.7 66.5 57 65.7 55.5 64.5 54.5 64.1 53.5 63.8 51 63.7 50.9 56 51 48.7 54 48.8 57 49.2 58.5 49.6 61 50.6 63.6 52 65.5 53.4 67.2 55 68.5 56.5 69.9 58.5 71 60.4 71.8 62 72.7 64.5 73.1 66.5 73.4 69 73.3 74 73.4 77.5 74.2 82 74.8 84 75.3 85 77 87.7 79.3 92 80.4 93.5 81.5 94.7 84 96.6 88 99.2 91 100.8 94 102 99 103.7 107 105.7 113.5 106.8 120.5 107.6 128 108.1 135.5 108.5 164.5 109.1 176.5 109.6 191 110.5 203.5 111.6 207.5 112.2 211.7 113 224.1 116 229.5 117.5 234.2 119 237 120 237.9 120.5 237.5 120.6Z"/><path fill="rgb(213,13,13)" fill-rule="evenodd" d="M234.5 119.6 234 119.8 233.5 119.7 231.4 119.5 224.5 118.3 215.5 117.2 200 115.6 188.5 114.8 178.5 114.2 169 113.8 132 113 123.5 112.6 113.5 111.8 106.6 111 93.8 109 90 108.2 87.6 107.5 80.3 105 77.9 104 74.9 102.5 72.6 101 70.7 99.5 68.7 97.5 64.6 92.5 63.5 91 62.5 89.3 61.5 87.1 60.9 85.5 60.3 83.5 59.7 80.5 59.2 76.5 58.9 69 58.5 67.5 58 66.5 57.2 65.5 56.5 64.9 55.5 64.2 54.5 63.8 53.5 63.6 51 63.4 50.9 56 51 48.9 54 49.1 57.1 49.5 58.9 50 61 50.9 63.5 52.3 65.2 53.5 66.5 54.7 68.2 56.5 69.6 58.5 70.8 60.5 71.5 62 72.5 65 72.9 67 73.1 69 73 74 73.1 77.5 73.8 81.5 74.4 83.5 75 85 76.8 88 79.3 92.5 80.5 94 81.5 95 84 96.9 88 99.5 91 101 94 102.3 99 104 106.5 105.8 113.5 107 120.5 107.8 128 108.3 135.5 108.7 164.5 109.3 176.5 109.7 189 110.5 203.5 111.7 207.5 112.3 211.1 113 223.5 116 232 118.5 234.5 119.5 234.5 119.6Z M235 120 234.9 120 235.1 120 235 120Z"/><path fill="rgb(205,12,12)" fill-rule="evenodd" d="M232 119.1 229.9 119 221 117.7 202 115.7 188.5 114.6 180.5 114.2 169 113.7 134 112.9 124 112.4 113.5 111.7 104.2 110.5 97.5 109.5 92.1 108.5 88 107.5 80.7 105 78.2 104 75.3 102.5 72.9 101 71 99.5 69 97.5 64.9 92.5 63.8 91 63 89.7 62 87.7 61.2 85.5 60.6 83.5 60 81 59.4 76.5 59.2 69 59 68 58.6 67 57.5 65.4 56.5 64.5 55.5 63.9 54.5 63.5 53.5 63.3 51 63.1 50.9 56 51 49.2 54 49.4 57 49.8 58.5 50.2 60.6 51 63 52.3 65 53.7 66.5 55.1 68.2 57 69.6 59 71 61.5 72 64 72.2 65 72.6 67 72.8 69 72.7 74 72.9 77.5 73.6 82 74.7 85 76.5 88 78.9 92.5 80 93.9 81.1 95 83.5 96.9 87.5 99.5 90.5 101.1 93.5 102.4 99 104.2 105 105.7 113 107.1 118.5 107.8 126 108.3 135.5 108.8 164.5 109.5 178.5 110 193 110.9 203 111.8 209.5 112.8 216.9 114.5 226.4 117 231 118.5 231.5 118.8 232.1 119 232 119.1Z"/><path fill="rgb(198,11,11)" fill-rule="evenodd" d="M228.5 118 228 118.3 226 118.1 219.5 117.3 200 115.3 184.5 114.2 169 113.6 134 112.8 123.5 112.3 113.5 111.5 105.1 110.5 98 109.4 92.8 108.5 90.5 108 87 107 79.8 104.5 77.5 103.5 74.7 102 72.5 100.5 71 99.3 69 97.2 65 92.3 64 90.9 63.2 89.5 62.2 87.5 61.4 85.5 60.9 83.5 60.3 81 59.7 76.5 59.5 69 59.3 68 58.9 67 58.3 66 57.5 65 56 63.9 55 63.4 54 63.1 51 62.9 51 49.5 54 49.7 57 50.1 58.5 50.5 61 51.5 63 52.6 64.9 54 66.5 55.5 67.8 57 69.3 59 70.4 61 71.1 62.5 71.9 65 72.5 69 72.5 75 72.7 78 73.3 82 74.1 84.5 74.6 85.5 76.2 88 78.6 92.5 79.7 94 81 95.3 83.5 97.2 87.5 99.8 90.5 101.3 93.5 102.6 98.5 104.3 106 106.1 113 107.3 120 108.1 128 108.6 137.5 109.1 162.5 109.6 174.9 110 191 110.9 203 112 209 112.9 214.1 114 223.9 116.5 227.1 117.5 227.5 117.7 228.5 118Z"/><path fill="rgb(190,10,10)" fill-rule="evenodd" d="M225 117.6 222.6 117.5 200 115.2 184.5 114.1 167 113.3 144 112.9 132 112.6 121.7 112 115.1 111.5 106.3 110.5 93.5 108.5 90 107.7 87.4 107 80.3 104.5 77.9 103.5 75.1 102 72.8 100.5 71 99 69.1 97 65.1 92 63.4 89.5 62.5 87.5 61.6 85 60.5 80.5 60 76.5 59.8 69 59.2 67 58.7 66 57.9 65 57 64.2 56 63.5 55 63.1 54 62.8 51 62.6 51 49.8 54 50 57 50.4 58.5 50.8 60.2 51.5 62.5 52.7 64.4 54 66.1 55.5 67.5 57 68.9 59 70 60.8 70.8 62.5 71.6 65 72 67 72.2 69 72.2 75 72.4 78 73.2 82.5 73.8 84.5 74.2 85.5 76 88.3 78.2 92.5 79.3 94 80.8 95.5 83 97.2 87 99.8 90 101.4 93 102.7 98.5 104.6 105.5 106.2 113 107.5 120 108.3 128 108.8 135.5 109.2 164.5 109.8 176.5 110.3 189 111 202.5 112.1 208.7 113 213.4 114 222.9 116.5 224.5 117 225.5 117.5 225 117.6Z"/><path fill="rgb(183,9,9)" fill-rule="evenodd" d="M222 117 220.5 117 214.5 116.5 196.5 114.7 182.5 113.8 167 113.2 134 112.5 124 112 114 111.2 107.5 110.5 103.9 110 97.3 109 92 108 88 107 80.7 104.5 78.3 103.5 75.5 102 73.9 101 71.9 99.5 70.3 98 69 96.5 65 91.5 64 89.9 63 88 62 85.5 61 81.4 60.4 77 60.1 69 59.7 67.5 59.3 66.5 58.7 65.5 58 64.7 57 63.8 56 63.2 55 62.8 54 62.5 51 62.2 51 50.1 54 50.3 57 50.7 58.1 51 60.5 52 62.5 53.1 64.5 54.5 66.1 56 67.5 57.5 68.9 59.5 70 61.5 70.8 63.5 71.4 65.5 71.9 69 71.9 75 72.1 78 72.7 82 73.3 84 73.9 85.5 75.5 88.1 78.2 93 79.4 94.5 80.3 95.5 82.5 97.2 86.5 99.8 89 101.2 92.5 102.8 96.5 104.3 102 105.7 109 107.1 114.5 107.9 122 108.6 131.5 109.2 143.5 109.6 164.5 110 174.5 110.3 186.8 111 198.5 111.9 204.5 112.5 210.5 113.5 214.7 114.5 220.2 116 221.7 116.5 222 117Z"/><path fill="rgb(175,7,7)" fill-rule="evenodd" d="M219 116.5 217 116.5 211 116 198.5 114.7 183 113.7 169 113.1 134 112.3 126 111.9 113.5 111 105.2 110 98.4 109 92.8 108 90.5 107.5 86.9 106.5 79.9 104 77.7 103 75 101.5 73.5 100.5 71.5 98.9 70.2 97.5 68.9 96 65.4 91.5 64.1 89.5 62.5 85.9 61.4 82 61 79.5 60.7 77 60.4 69 60.1 67.5 59.7 66.5 59.1 65.5 58.3 64.5 57.1 63.5 56 62.8 54 62.2 51 61.9 51 50.5 54 50.6 56.8 51 58 51.3 60 52.1 62 53.2 64 54.5 66 56.3 67.4 58 68.5 59.5 69.5 61.3 70.1 62.5 71 65 71.6 69 71.6 75 71.7 78 72.5 82.5 73.3 85 73.8 86 75.5 88.8 77.8 93 78.9 94.5 80.4 96 82.5 97.6 86.5 100.2 89.5 101.8 92.5 103.1 97.5 104.9 102.5 106.1 109 107.4 114.5 108.2 122 108.8 131.5 109.4 141.5 109.7 172.5 110.5 184.5 111.1 196.5 111.9 202.8 112.5 206.6 113 209.4 113.5 213.8 114.5 217.4 115.5 218.8 116 219.1 116.5 219 116.5Z"/><path fill="rgb(167,6,6)" fill-rule="evenodd" d="M216 116 213.5 116 209 115.6 200.5 114.7 194.5 114.2 179 113.2 167 112.8 146 112.4 132 112 122.4 111.5 115.6 111 106.6 110 93.8 108 91 107.4 87.6 106.5 80.5 104 78.2 103 75.4 101.5 73.9 100.5 72 99 70.9 98 69.6 96.5 65.5 91.2 64.5 89.6 63.5 87.6 62.7 85.5 62 83 61.6 81 61 76.5 60.8 69 60.5 67.5 60.1 66.5 59.5 65.5 58.5 64.2 57.5 63.3 56.5 62.7 55.5 62.2 54 61.8 51 61.6 51 50.8 54 51 56.5 51.3 57.5 51.6 60 52.5 62 53.6 64 55 65.7 56.5 67 58 68.1 59.5 69.2 61.5 70 63.2 70.7 65.5 71.2 69 71.2 75 71.4 78 72.2 82.5 72.7 84.5 73.4 86 75 88.7 77.7 93.5 78.9 95 80 96.1 83 98.4 87 100.8 90 102.4 93 103.7 97.5 105.2 103.5 106.7 110.5 107.9 116 108.6 125.5 109.3 133.5 109.7 168.5 110.5 180.5 111 194.5 112 200.7 112.5 208.4 113.5 210.8 114 214.6 115 216.1 115.5 216.2 116 216 116Z"/><path fill="rgb(160,5,5)" fill-rule="evenodd" d="M213.5 115.5 211 115.5 198.5 114.3 183 113.2 169 112.6 138 112 126.3 111.5 114 110.6 104.9 109.5 98 108.5 92.4 107.5 90.2 107 86.7 106 81.1 104 78.7 103 75.8 101.5 74.3 100.5 72.4 99 71.3 98 70 96.5 66 91.3 65 89.8 64 87.8 63.1 85.5 62.5 83.4 62 81.1 61.4 77 61.2 69 60.7 67 60.3 66 59.3 64.5 58.3 63.5 57 62.5 55.5 61.8 54 61.4 51 61.1 51 51.3 54 51.4 56.5 51.7 57.5 52 60 53 61.9 54 64 55.5 65.5 56.9 66.9 58.5 68 60.1 69 61.9 69.9 64 70.5 66 70.8 68.5 70.9 76 71.1 78.5 71.9 83 72.7 85.5 73.2 86.5 74.5 88.6 77.2 93.5 78.4 95 79.9 96.5 82 98.1 86 100.7 89 102.3 92.5 103.9 98 105.7 103 106.9 110.5 108.2 116 108.9 121.5 109.3 131.5 109.9 141.5 110.2 156.5 110.5 172.5 110.9 184 111.5 190.5 111.9 202.5 112.9 206.9 113.5 211.6 114.5 213.1 115 213.8 115.5 213.5 115.5Z"/><path fill="rgb(152,4,4)" fill-rule="evenodd" d="M210 115 209 115 208.5 114.9 203.9 114.5 202.5 114.3 197 113.8 181 112.7 167 112.2 134 111.5 124 111 116.4 110.5 107.2 109.5 93.9 107.5 91.4 107 87.5 106 80.5 103.5 78.2 102.5 75.5 101 73.4 99.5 72.3 98.5 70 96 66 90.6 65.3 89.5 64.5 88 63.5 85.4 62.5 81.4 61.9 77 61.6 69 61.2 67 60.8 66 59.9 64.5 59 63.5 57.5 62.3 56.5 61.7 55 61.2 54 60.9 51 60.7 51 51.7 54 51.9 56.5 52.2 59.5 53.2 61.5 54.3 63.3 55.5 65 57 66.5 58.7 67.5 60.1 68.5 61.9 69.4 64 70 65.9 70.4 68.5 70.5 76 70.7 78.5 71.4 83 72.2 85.5 72.7 86.5 74.5 89.5 76.7 93.5 78 95.2 79.5 96.7 82 98.6 86 101.1 89 102.8 92.5 104.3 98 106.2 102.5 107.3 108 108.3 115.5 109.2 123.5 109.8 131.5 110.3 145.5 110.7 164.1 111 178 111.5 186.5 112 199.5 113 204.4 113.5 207.7 114 209.8 114.5 210.1 115 210 115Z"/><path fill="rgb(145,3,3)" fill-rule="evenodd" d="M99 107.5 96.8 107.5 93.3 107 90.8 106.5 87 105.5 81.3 103.5 77.9 102 75.3 100.5 72.8 98.5 71.3 97 70 95.4 66 89.8 65 87.9 64 85.4 63.2 82.5 62.6 78.5 62.3 75.5 62.2 69 61.9 67.5 61.4 66 60.8 65 59.7 63.5 58.7 62.5 57.5 61.7 56.5 61.1 55 60.6 54 60.4 51 60.2 51 52.2 54 52.4 56.5 52.7 58.8 53.5 60.9 54.5 63 55.9 64.8 57.5 66.1 59 67.5 61.1 68.7 63.5 69.6 66.5 69.9 69 70.1 77.5 70.7 82 71.2 84 71.9 86 72.4 87 74 89.6 76.1 93.5 77.6 95.5 79 96.9 80.5 98.2 83 99.9 87 102.3 89.5 103.6 92 104.8 97 106.7 98 107 98.5 107.4 99.2 107.5 99 107.5Z"/><path fill="rgb(137,1,1)" fill-rule="evenodd" d="M89.5 105.2 89 105.3 87.5 105 85.5 104.5 82.5 103.5 78.8 102 76 100.5 74.6 99.5 72.5 97.7 71 95.9 66.5 89.5 65.5 87.6 64.5 84.9 63.6 81 63.1 77.5 62.8 68.5 62.4 67 61.9 65.5 61 64 60 62.8 59 61.9 57.5 60.9 56 60.2 54.5 59.8 51 59.5 51 52.9 54 53 56 53.3 58.3 54 59.4 54.5 61.3 55.5 63 56.7 64.5 58.1 66 59.9 67 61.5 68 63.4 69 66.5 69.3 68.5 69.4 76.5 69.6 79 70.3 83 71.2 86 71.7 87 75.7 94 76.8 95.5 78 96.8 79.5 98.2 81.5 99.6 89.1 104.5 89.7 105 89.5 105.2Z"/><path fill="rgb(131,0,0)" fill-rule="evenodd" d="M82 102 80.9 102 78.2 101 76.4 100 74.4 98.5 72.8 97 71.5 95.5 67.5 89.6 66.9 88.5 66 86.4 65 83 64.5 80.4 64.1 77 63.8 68.5 63.4 66.5 62.8 65 61.9 63.5 60.5 61.9 59 60.6 57.5 59.7 56 59.1 54.5 58.8 51 58.5 51 53.8 54 54 55.5 54.2 58 54.9 59.3 55.5 61.1 56.5 63 57.9 64.5 59.5 66 61.5 67.5 64.5 68.2 67 68.4 68.5 68.5 76 68.7 78.5 69.3 82.5 69.8 84.5 70.4 86.5 70.9 87.5 74.3 93.5 75.3 95 77.5 97.5 81.9 101.5 82 102Z"/>
</g>
<rect x="54.0" y="24.0" width="218.80" height="198.80" fill="none" stroke="#262626" stroke-width="0.6" stroke-opacity="0.8"/>
<rect x="291.2" y="24.0" width="13.60" height="198.80" fill="url(#cga)" stroke="#262626" stroke-width="0.6" stroke-opacity="0.7"/>
<text transform="translate(309.6,228.9) scale(1,1.07)" text-anchor="start" font-size="15.2" fill="#333333">0 (%)</text>
<text transform="translate(309.6,189.2) scale(1,1.07)" text-anchor="start" font-size="15.2" fill="#333333">20</text>
<line x1="302.3" y1="183.0" x2="304.8" y2="183.0" stroke="#262626" stroke-width="0.6"/>
<text transform="translate(309.6,149.4) scale(1,1.07)" text-anchor="start" font-size="15.2" fill="#333333">40</text>
<line x1="302.3" y1="143.3" x2="304.8" y2="143.3" stroke="#262626" stroke-width="0.6"/>
<text transform="translate(309.6,109.6) scale(1,1.07)" text-anchor="start" font-size="15.2" fill="#333333">60</text>
<line x1="302.3" y1="103.5" x2="304.8" y2="103.5" stroke="#262626" stroke-width="0.6"/>
<text transform="translate(309.6,69.9) scale(1,1.07)" text-anchor="start" font-size="15.2" fill="#333333">80</text>
<line x1="302.3" y1="63.8" x2="304.8" y2="63.8" stroke="#262626" stroke-width="0.6"/>
<text transform="translate(309.6,30.1) scale(1,1.07)" text-anchor="start" font-size="15.2" fill="#333333">100</text>
<g clip-path="url(#clipb)">
<rect x="410.7" y="24.2" width="217.10" height="198.40" fill="rgb(0, 0, 128)"/>
<path fill="rgb(1,1,132)" fill-rule="evenodd" d="M611.2 225.2 539.2 225.7 463.4 225.2 459.4 218.2 455.5 210.7 452.4 203.7 449.5 196.2 447.4 189.7 445.5 182.2 442.7 169.2 441.3 161.7 440.2 153.7 439.3 145.2 438.7 136.2 438.3 125.7 438.2 116.7 438.2 108.7 438.8 81.7 438.9 72.2 438.8 63.2 438.5 56.2 438.1 52.2 437.6 47.7 436.8 43.2 435.9 38.7 433.7 30.2 432.2 25.7 430.7 21.2 503.7 20.7 574.2 21.2 578.3 27.7 581.9 34.2 585.5 41.7 588.9 49.7 592.3 59.2 594.8 66.7 596.9 74.7 598.5 82.7 599.6 89.2 600.5 96.2 601.1 103.2 601.5 110.7 601.6 121.2 601.4 162.2 601.5 171.7 602 178.2 602.5 183.2 603.3 188.7 605.7 203 606.9 208.7 608.2 214.2 609.8 219.7 611.6 225.2 611.2 225.2Z"/><path fill="rgb(1,1,134)" fill-rule="evenodd" d="M588.7 225.2 539.2 225.7 486.1 225.2 482.5 218.7 479.1 211.7 476.1 204.7 473.5 197.7 471.4 191.2 469.5 183.7 467.8 175.7 466 165.7 464.9 158.7 464.1 151.2 463.5 143.2 463.1 134.7 462.6 115.2 462.8 87.7 462.7 77.7 462.4 67.7 461.8 58.7 461.3 54.2 460.6 49.7 459.7 44.8 458.7 40.2 457.3 35.2 455.9 30.7 454.2 25.7 452.4 21.2 503.7 20.7 552.6 21.2 556.1 27.2 559.5 33.7 562.4 40.2 565.4 47.7 568 55.2 570.6 63.7 572.5 71.2 574 78.7 575 85.2 575.9 92.2 576.5 99.2 576.9 106.7 577.2 118.2 577.2 145.7 577.3 157.7 577.7 170.2 578.2 177.2 578.9 182.7 579.7 188.7 581 195.7 582.4 202.7 584.9 212.7 586.7 218.8 588.9 225.2 588.7 225.2Z"/><path fill="rgb(1,1,137)" fill-rule="evenodd" d="M578.7 225.2 539.2 225.7 496.4 225.2 492.9 218.7 489.5 211.7 486.6 204.7 484 197.7 482 191.2 480.4 184.7 478.8 177.2 477 167.7 476 160.7 475.1 153.2 474.5 145.7 474.1 137.7 473.8 129.2 473.6 117.7 473.6 90.7 473.4 80.2 473 69.7 472.2 59.7 471.6 54.7 470.8 49.7 469.8 44.7 468.7 40.1 467.2 34.8 465.7 30.2 464.2 26.1 462.2 21.2 503.7 20.7 542.8 21.2 544.9 24.7 547.9 30.2 551 36.7 553.5 42.7 556 49.7 558.4 57.2 560.4 64.2 562 71.2 563.3 78.2 564.3 84.7 565 91.2 565.6 97.7 566 105.2 566.3 117.2 566.4 143.7 566.5 156.2 567 168.7 567.6 177.2 568.4 183.2 569.4 189.7 570.7 196.7 572.2 203.7 573.7 209.7 575.2 214.9 576.7 219.6 578.7 225.2Z"/><path fill="rgb(2,2,139)" fill-rule="evenodd" d="M572.2 225.2 539.2 225.7 502.6 225.2 499.4 219.2 496.5 213.2 493.9 207.2 491.4 200.7 489.6 195.2 487.9 189.2 486.3 182.7 484.9 175.7 483.4 167.2 482.5 160.7 481.8 154.2 481.2 146.7 480.7 139.2 480.4 130.7 480.2 119.7 480.1 92.2 479.9 82.2 479.5 71.2 478.7 61.5 478.1 56.2 477.2 50.8 476.2 45.9 475.1 41.2 473.7 36.3 472.2 31.6 470.2 26.1 468.2 21.2 503.7 20.7 537 21.2 539.3 25.2 541.5 29.2 544.1 34.7 546.5 40.2 548.9 46.7 550.9 52.7 553 59.7 554.5 65.7 555.9 72.2 556.9 78.2 557.9 84.7 558.5 90.7 559 97.2 559.5 104.7 559.8 116.7 559.9 142.7 560 155.2 560.5 167.7 561.2 176.5 561.8 181.7 562.7 187.7 563.9 194.2 565.4 201.2 566.8 207.2 568.7 213.9 570.7 220.1 572.6 225.2 572.2 225.2Z"/><path fill="rgb(2,2,142)" fill-rule="evenodd" d="M568.2 225.2 539.2 225.7 506.9 225.2 504 219.7 501.5 214.7 499.1 209.2 496.9 203.7 495 198.2 493.4 193.2 491.9 187.7 490.4 181.2 489 173.7 487.8 166.7 487 160.7 486.3 154.2 485.7 146.7 485.3 139.7 484.8 121.2 484.6 93.7 484.4 83.2 483.9 72.2 483.1 62.2 482.4 56.7 481.6 51.7 480.6 46.7 479.2 40.9 477.7 35.7 476.2 31.2 474.2 25.8 472.3 21.2 503.7 20.7 533 21.2 536.1 26.7 538.9 32.2 541.1 37.2 543.3 42.7 545.3 48.2 547 53.7 548.9 60.2 550.3 66.2 551.5 71.7 552.6 78.2 553.4 84.2 554.1 90.2 554.6 96.7 555 104.2 555.3 116.2 555.4 142.2 555.6 154.2 556.1 167.2 556.8 176.2 557.6 182.7 558.6 188.7 559.7 194.9 561.2 201.9 562.7 207.9 564.2 213.2 566.2 219.5 568.3 225.2 568.2 225.2Z"/><path fill="rgb(3,3,145)" fill-rule="evenodd" d="M564.7 225.2 539.2 225.7 510.2 225.2 506.5 218.2 503.5 211.7 501.4 206.7 499.3 201.2 497.5 195.7 496 190.7 494.6 185.2 493.4 179.7 492 172.2 491 165.7 490.1 159.2 489.5 153.2 489 146.2 488.6 139.2 488.1 121.7 488 94.7 487.8 84.2 487.2 72.7 486.4 62.7 485.7 57.2 484.8 51.7 483.7 46.4 482.6 41.7 481.1 36.7 479.2 30.9 477.2 25.6 475.3 21.2 503.7 20.7 530.1 21.2 533.9 28.2 537.4 35.7 539.5 40.7 541.5 46.2 543.3 51.7 544.9 57.2 546.3 62.7 547.5 67.7 548.5 73.2 549.5 79.2 550.3 85.2 550.9 91.2 551.7 103.7 552 115.7 552.1 141.7 552.3 153.7 552.8 166.2 553.6 176.2 554.2 181.7 555.2 188 556.2 193.5 557.7 200.6 559.2 206.8 561.1 213.7 563.2 220 565.1 225.2 564.7 225.2Z"/><path fill="rgb(3,3,147)" fill-rule="evenodd" d="M562.2 225.2 539.2 225.7 512.8 225.2 508.4 216.7 504.6 208.2 502.4 202.7 500.5 197.2 498.9 191.7 497.5 186.2 495.9 179.2 494.5 171.2 493.4 164.7 492.6 157.7 491.6 146.2 491 133.7 490.7 118.7 490.5 92.2 490.2 79.8 489.4 67.7 488.2 57.2 486.6 48.2 485.5 43.7 484.2 38.8 482.7 34 481.2 29.7 477.7 21.2 503.7 20.7 527.7 21.2 530 25.2 532.1 29.2 534 33.2 535.9 37.7 537.9 42.7 539.5 47.2 541.3 53.2 542.9 58.7 545.1 68.2 546 73.2 547 79.2 547.8 85.7 548.3 91.2 549.1 103.2 549.4 115.7 549.5 141.2 549.7 153.2 550.2 165.2 551 175.7 551.7 181.6 552.7 188.1 553.7 193.5 555.2 200.7 556.7 206.8 558.7 213.9 560.7 220 562.6 225.2 562.2 225.2Z"/><path fill="rgb(3,3,150)" fill-rule="evenodd" d="M560.2 225.2 539.2 225.7 514.9 225.2 512.5 220.7 510 215.7 507.9 211.2 505.9 206.2 503.8 200.7 502 195.2 500.5 189.7 499 183.7 497.6 176.7 496.3 169.7 495.4 163.2 494.6 156.7 493.8 146.2 493.2 133.2 492.9 118.7 492.7 93.2 492.3 80.7 491.6 69.2 491.1 63.7 490.4 58.2 489.7 53.7 488.7 48.6 487.7 44.2 486.2 38.8 484.7 34 483.2 29.8 481.7 25.9 479.7 21.2 503.7 20.7 525.9 21.2 528.4 25.7 530.4 29.7 532.5 34.2 534.6 39.2 536.5 44.2 538 48.7 539.5 53.7 541 59.2 542.4 64.7 543.3 69.2 544.9 79.2 545.6 84.7 546.3 91.2 547 103.2 547.3 115.2 547.5 141.2 547.7 153.7 548.2 166.1 549 175.7 549.7 181.8 550.7 188.3 551.7 193.7 553.2 200.8 554.7 206.9 556.7 214 558.7 220.1 560.6 225.2 560.2 225.2Z"/><path fill="rgb(4,4,152)" fill-rule="evenodd" d="M558.7 225.2 539.2 225.7 516.7 225.2 514 220.2 511.5 215.2 509.1 209.7 506.9 204.2 505.1 199.2 503.5 194.2 502 188.7 500.5 182.7 499.3 176.7 497.9 168.7 497.1 162.7 496.4 156.7 495.5 145.7 495 133.7 494.7 119.2 494.5 93.7 494.1 81.7 493.4 69.7 492.2 58.9 490.6 49.7 489.6 45.2 488.2 39.9 486.7 35 485.2 30.7 483.2 25.6 481.3 21.2 503.7 20.7 524.3 21.2 526.8 25.7 529.3 30.7 531.6 35.7 533.6 40.7 535.4 45.7 537.3 51.7 539 57.7 540.4 63.2 541.5 68.7 542.5 74.2 543.4 80.2 544.1 86.2 544.9 96.7 545.4 108.2 545.6 117.7 545.8 144.2 546.2 159.2 546.8 171.2 547.9 181.2 549.7 192.1 552.2 203.7 554.7 212.9 556.7 219.2 558.9 225.2 558.7 225.2Z"/><path fill="rgb(4,4,155)" fill-rule="evenodd" d="M557.2 225.2 539.2 225.7 518.3 225.2 515.3 219.7 512.6 214.2 510 208.2 507.8 202.7 506.1 197.7 504.6 192.7 503.3 188.2 501.9 182.2 500.6 175.2 499.4 168.7 498.5 162.2 497.8 156.2 497 145.7 496.5 133.7 496.2 119.7 496 94.2 495.7 82.2 494.9 70.2 493.7 59.2 492.2 50.2 491.2 45.7 489.7 40.2 488.2 35.3 486.7 30.9 484.7 25.8 482.7 21.2 503.7 20.7 523 21.2 526 26.7 528.5 31.7 530.9 37.2 533 42.7 534.9 48.2 536.5 53.7 538 59.2 539.4 65.2 540.5 70.7 541.4 76.2 542.1 81.2 542.8 87.7 543.5 97.7 544 108.7 544.3 143.7 544.7 158.2 545.4 170.7 546.4 180.7 547.2 186 548.2 191.7 550.7 203.4 553.2 212.7 555.2 219 557.4 225.2 557.2 225.2Z"/><path fill="rgb(5,5,157)" fill-rule="evenodd" d="M555.7 225.2 539.2 225.7 519.6 225.2 516.4 219.2 513.5 213.2 510.9 207.2 508.4 200.7 506.9 196.2 505.4 191.2 504 185.7 502.8 180.2 501.5 173.2 500.5 167.2 499.8 161.7 499.1 155.2 498.3 145.2 497.8 133.2 497.5 119.2 497.3 94.7 497 82.7 496.2 70.3 495.1 60.2 494.2 54.4 493.2 49.2 492.2 44.9 490.8 39.7 489.2 34.6 487.7 30.4 485.7 25.3 483.9 21.2 503.7 20.7 521.9 21.2 524.9 26.7 527.5 32.2 529.9 37.7 532.3 44.2 534 49.2 535.5 54.2 536.9 59.7 538.1 64.7 539.1 69.7 540 75.2 540.8 81.2 541.5 87.2 542.3 97.7 542.7 108.7 543 143.7 543.4 157.7 544.2 171.2 545.2 180.7 546.7 190.3 547.7 195.5 549.2 202.3 550.7 208.2 552.2 213.5 554.2 219.7 556.2 225.2 555.7 225.2Z"/><path fill="rgb(5,5,160)" fill-rule="evenodd" d="M554.7 225.2 539.2 225.7 520.8 225.2 517.5 219.2 514.4 212.7 511.4 205.7 509 199.2 507.5 194.2 506.1 189.2 504.8 184.2 503.6 178.2 501.5 166.2 500.8 160.7 500.1 154.2 499.4 144.2 498.9 132.7 498.7 119.2 498.5 95.7 498.1 83.7 497.4 71.2 496.2 60.2 495.5 55.7 494.6 50.7 493.6 46.2 492.2 40.7 490.7 35.9 488.7 30.2 486.7 25.1 485 21.2 503.7 20.7 520.9 21.2 523.9 26.7 526.5 32.2 529.1 38.2 531.5 44.7 533.4 50.7 534.9 55.7 536.4 61.7 537.4 66.2 539.1 76.2 539.9 82.2 540.5 87.7 541.2 97.2 541.6 108.2 541.9 143.2 542.3 157.2 543 170.7 544 180.2 545.7 190.7 548.2 202.6 549.7 208.5 551.2 213.7 553.2 219.9 555.1 225.2 554.7 225.2Z"/><path fill="rgb(5,5,162)" fill-rule="evenodd" d="M553.7 225.2 539.2 225.7 521.9 225.2 518.3 218.7 515.4 212.7 512.5 205.7 509.9 198.7 508.5 194.2 507 188.7 505.5 182.7 504.5 177.7 502.5 165.7 501.1 154.2 500.4 144.2 499.9 132.7 499.7 120.2 499.5 95.7 499.2 83.7 498.4 71.2 497.2 60.3 495.7 51.2 494.7 46.7 493.2 41 491.7 36 490.2 31.7 488.2 26.5 485.9 21.2 503.7 20.7 520 21.2 523 26.7 525.9 32.7 528.4 38.7 530.9 45.7 532.5 50.7 534 55.7 535.3 61.2 536.4 66.2 537.4 71.7 538.3 77.2 539.5 87.7 540.2 97.7 540.6 108.2 541 143.2 541.3 156.7 542.1 170.2 543 179.7 544.7 190.4 545.7 195.6 547.2 202.4 548.7 208.3 550.2 213.5 552.2 219.8 554.1 225.2 553.7 225.2Z"/><path fill="rgb(6,6,165)" fill-rule="evenodd" d="M553.2 225.2 539.2 225.7 522.8 225.2 519 218.2 515.9 211.7 513 204.7 510.5 197.7 507.9 188.7 506.5 183.2 505.4 177.7 503.4 166.2 502.6 159.7 502 154.2 501.4 144.7 500.9 133.2 500.6 119.7 500.4 95.7 500.1 84.2 499.3 71.7 498.2 61.3 497.5 56.7 496.6 51.7 495.7 47.2 494.1 41.2 492.7 36.5 490.7 30.7 488.7 25.6 486.8 21.2 503.7 20.7 509.7 20.8 519.3 21.2 522.5 27.2 525.5 33.7 528 39.7 530.5 46.7 532 51.7 533.4 56.7 535.6 66.2 536.5 71.2 537.4 76.7 538.6 87.7 539.4 97.7 539.8 108.2 540.1 143.2 540.4 156.7 541.2 170.2 542.2 179.8 543.2 186.7 544.2 192.3 546.7 203.8 548.2 209.5 549.7 214.6 551.2 219.3 553.3 225.2 553.2 225.2Z"/><path fill="rgb(6,6,167)" fill-rule="evenodd" d="M552.2 225.2 539.2 225.7 523.7 225.2 519.9 218.2 516.5 211.2 513.5 203.7 511 196.7 508.4 187.7 507 181.7 506 176.7 504.1 165.2 502.9 154.2 502.2 144.2 501.7 133.7 501.5 120.7 501.2 95.7 500.9 83.7 500.2 72.2 499 61.2 498.2 56 497.2 50.7 496.2 46.2 494.7 40.6 493.2 35.7 491.7 31.4 489.7 26.2 487.5 21.2 503.7 20.7 509.7 20.9 518.6 21.2 522 27.7 525.1 34.2 527.9 41.2 530.1 47.7 531.4 52.2 532.9 57.7 535.1 67.2 536 72.7 536.8 78.2 538 88.7 538.6 97.7 539 108.7 539.3 142.2 539.7 156.2 540.3 168.2 541.2 178.2 542.7 188.2 543.7 193.6 545.2 200.6 546.7 206.8 548.7 213.8 550.7 220 552.5 225.2 552.2 225.2Z"/><path fill="rgb(7,7,170)" fill-rule="evenodd" d="M551.7 225.2 539.2 225.6 524.5 225.2 520.4 217.7 517.1 210.7 514 203.2 511.4 195.7 510 190.7 508.8 186.2 507.6 180.7 506.5 175.2 504.8 164.7 503.5 153.2 502.9 143.7 502.4 132.7 502 96.7 501.6 84.7 500.9 72.2 499.7 61.2 498.7 54.8 497.7 49.7 496.7 45.4 495.2 39.9 493.7 35.1 492.2 30.9 490.2 25.8 488.2 21.2 503.7 20.7 509.2 20.8 518 21.2 521.4 27.7 524.4 34.2 527 40.7 529.6 48.2 530.9 52.7 532.4 58.2 534.5 67.7 536.1 77.7 537.3 89.2 537.9 98.7 538.3 108.7 538.6 142.7 538.9 155.7 539.7 169.5 540.7 179.4 541.7 186.3 542.7 192 545.2 203.5 547.7 212.8 549.7 219.1 551.9 225.2 551.7 225.2Z"/><path fill="rgb(7,7,172)" fill-rule="evenodd" d="M551.2 225.2 539.2 225.6 525.2 225.2 521.4 218.2 517.6 210.2 514.5 202.7 512 195.2 509.5 186.2 507.4 176.2 505.5 164.7 504.3 153.7 503.5 143.7 503.1 132.7 502.6 96.7 502.3 84.2 501.6 72.7 500.4 61.7 499.7 56.8 498.7 51.4 497.7 46.9 496.2 41.1 494.7 36.2 492.7 30.5 490.7 25.5 488.8 21.2 503.7 20.8 509.2 20.9 517.4 21.2 520.8 27.7 524.1 34.7 527 42.2 529.5 49.7 531.9 58.7 534 68.2 535.5 78.2 536.6 88.7 537.3 98.2 537.6 108.2 538 142.2 538.3 155.2 539 168.7 540 178.7 540.7 183.9 541.7 189.9 542.7 195.1 544.2 201.9 545.7 207.9 547.2 213.1 548.7 217.9 551.2 225.2Z"/><path fill="rgb(7,7,175)" fill-rule="evenodd" d="M550.2 225.2 539.2 225.6 525.9 225.2 521.5 217.2 518 209.7 514.6 201.2 512 193.2 509.5 183.7 507.5 173.7 506 163.7 504.8 152.7 504.1 143.2 503.8 133.2 503.5 121.2 503.3 96.7 502.9 85.2 502.2 72.8 501.1 62.7 500.2 56.3 499.2 51 498.2 46.5 496.7 40.8 495.2 36 493.2 30.3 491.2 25.3 489.4 21.2 498.2 20.8 503.7 20.8 509.2 20.9 516.9 21.2 520.3 27.7 523.5 34.7 526.5 42.2 528.9 49.7 531.5 59.2 533.5 68.7 535 78.2 536.1 88.7 536.6 97.2 537.1 108.2 537.4 141.7 537.7 155 538.3 166.7 539.2 177.2 540.7 187.4 541.7 192.9 543.2 200 544.7 206.2 546.7 213.3 548.7 219.6 550.7 225.2 550.2 225.2Z"/><path fill="rgb(8,8,178)" fill-rule="evenodd" d="M549.7 225.2 539.2 225.6 526.5 225.2 522.4 217.7 520.4 213.7 518.4 209.2 515 200.7 512.4 192.7 510 183.2 508 173.2 506.5 163.2 505.4 152.7 504.8 143.7 504.3 132.7 503.8 97.2 503.5 85.7 502.8 73.2 501.7 62.7 500.7 56 499.7 50.8 498.7 46.4 497.2 40.7 495.7 35.9 493.7 30.2 491.7 25.3 489.9 21.2 498.2 20.9 503.7 20.8 508.7 20.9 516.4 21.2 520.1 28.2 523.5 35.7 526.5 43.7 528.9 51.2 531.3 60.7 533.1 69.2 534.5 78.7 535.6 89.2 536.1 97.7 536.5 108.2 536.8 141.7 537.2 155.2 537.8 166.7 538.7 177 540.2 187.5 541.2 193 542.7 200.1 544.2 206.3 546.2 213.4 548.2 219.6 550.2 225.2 549.7 225.2Z"/><path fill="rgb(8,8,180)" fill-rule="evenodd" d="M549.7 225.2 539.2 225.6 527 225.2 522.9 217.7 520.9 213.7 518.9 209.2 515.5 200.7 513 192.7 510.5 183.2 508.5 173.2 507 163.2 505.9 152.7 505.3 143.7 504.8 132.7 504.4 97.2 504.1 85.7 503.3 73.2 502.2 62.6 501.2 56 500.2 50.8 499.2 46.4 497.7 40.7 496.2 35.9 494.2 30.3 492.2 25.3 490.4 21.2 498.7 20.8 503.7 20.8 508.7 20.9 516 21.2 519.9 28.7 523 35.7 525.9 43.2 528.4 51.2 530.9 60.7 532.5 68.7 534 78.7 535.1 89.2 535.6 97.7 536 108.2 536.4 141.7 536.7 155.2 537.3 167.2 538.3 177.7 539.2 184.3 540.2 190.3 541.2 195.4 542.7 202.1 544.2 208 545.7 213.3 547.7 219.5 549.7 225.2Z"/><path fill="rgb(9,9,183)" fill-rule="evenodd" d="M549.2 225.2 539.2 225.6 527.6 225.2 523.4 217.7 521.4 213.7 519.4 209.2 516 200.7 513.5 192.7 511 183.2 509 173.2 507.5 163.2 506.4 152.7 505.8 143.7 505.4 133.2 504.9 97.2 504.5 85.7 503.8 73.2 502.7 62.8 501.7 56.2 500.7 50.9 499.7 46.5 498.2 40.9 496.7 36 494.7 30.4 492.7 25.4 490.8 21.2 498.7 20.9 503.7 20.8 508.7 20.9 515.6 21.2 519 27.7 522.4 35.2 525.4 43.2 528 51.2 530.4 60.7 532.1 68.7 533.5 78.2 534.6 89.2 535.2 97.7 535.6 108.2 535.9 141.2 536.2 154.5 536.9 167.2 537.9 177.7 538.7 183.9 539.7 189.9 540.7 195.1 542.2 201.9 543.7 207.8 545.2 213 547.2 219.3 549.3 225.2 549.2 225.2Z"/><path fill="rgb(9,9,185)" fill-rule="evenodd" d="M548.7 225.2 539.2 225.6 528 225.2 525.5 220.7 523.4 216.7 521.4 212.7 519.4 208.2 517.4 203.2 516 199.2 513.5 191.2 511.4 182.7 509.4 172.7 507.9 162.7 506.8 152.2 506.2 143.7 505.8 132.7 505.3 97.7 505 86.2 504.3 73.7 503.2 63.3 502.2 56.5 501.2 51.2 500.2 46.8 498.7 41.1 497.2 36.3 495.2 30.6 493.2 25.6 491.2 21.2 498.7 20.9 503.7 20.8 508.7 20.9 515.2 21.2 518.9 28.2 522.4 36.2 525.4 44.2 527.9 52.2 530.4 62.2 532 70.7 533.4 80.7 534.3 90.7 534.8 99.7 535.1 108.7 535.5 140.7 535.7 153.7 536.4 166.7 537.4 177.7 538.2 183.4 539.2 189.4 540.2 194.6 541.7 201.5 543.2 207.4 544.7 212.7 546.7 219 548.9 225.2 548.7 225.2Z"/><path fill="rgb(9,9,188)" fill-rule="evenodd" d="M548.2 225.2 539.2 225.6 528.5 225.2 526.5 221.7 524.1 217.2 521.9 212.7 520.1 208.7 518.4 204.7 516.6 199.7 513.9 191.2 511.9 183.2 509.9 173.2 508.4 163.2 507.3 152.7 506.6 143.2 506.3 133.2 505.8 97.7 505.4 86.2 504.7 73.7 503.7 63.7 502.7 57.1 501.7 51.7 500.7 47.2 499.2 41.5 497.7 36.6 495.7 30.9 493.7 25.9 491.6 21.2 498.7 20.9 503.7 20.8 508.2 20.9 514.9 21.2 518.5 28.2 521.9 35.7 524.9 43.7 527.5 52.2 529.9 61.7 531.5 70.2 532.9 80.2 533.9 90.2 534.4 99.2 534.7 109.2 535.1 141.2 535.4 154.2 536.1 168.2 537.1 178.2 538.7 188.8 539.7 194.1 541.2 201 542.7 206.9 544.7 213.9 546.7 220.1 548.5 225.2 548.2 225.2Z"/><path fill="rgb(10,10,190)" fill-rule="evenodd" d="M547.7 225.2 539.2 225.6 528.9 225.2 526.9 221.7 524.5 217.2 522.5 213.2 520.5 208.7 518.5 203.7 517 199.7 515.5 195.2 514 190.2 511.9 181.2 510 171.2 508.5 161.2 507.6 151.2 507 141.7 506.6 131.7 506.2 98.7 505.8 86.2 505.2 75.1 504 63.7 503.2 57.8 502.2 52.3 501.2 47.7 499.7 41.9 498.2 37 496.2 31.2 494.2 26.2 492 21.2 499.2 20.9 503.7 20.8 508.2 20.9 514.5 21.2 518.4 28.7 521.9 36.7 524.9 44.7 527.4 53.2 529.5 61.7 531.3 71.2 532.6 80.2 533.5 90.2 534 98.7 534.4 108.7 534.7 141.7 535 154.2 535.7 167.3 536.7 177.8 538.2 188 539.2 193.3 540.7 200.3 542.2 206.4 544.2 213.4 546.2 219.6 548.2 225.2 547.7 225.2Z"/><path fill="rgb(10,10,193)" fill-rule="evenodd" d="M547.7 225.2 539.2 225.6 529.3 225.2 527 221.2 524.9 217.2 522.9 213.2 520.9 208.7 519 204.2 517.4 199.7 515.9 195.2 514.4 190.2 512.3 181.7 510.4 171.7 509 161.7 508 151.7 507.4 142.7 507 132.2 506.5 98.2 506.2 85.8 505.4 73.2 504.2 62.2 503.2 55.7 502.2 50.6 501.2 46.3 499.7 40.7 498.2 35.9 496.2 30.3 494.2 25.4 492.3 21.2 499.2 20.9 503.7 20.8 508.2 20.9 514.2 21.2 517.9 28.2 521.4 36.2 524.4 44.2 527 52.7 529.1 61.2 530.9 70.7 532.1 79.2 533.1 89.2 533.6 97.7 534 108.2 534.3 140.7 534.7 154.2 535.2 165.7 536.2 176.7 537.2 183.9 538.2 189.8 539.2 195 540.7 201.7 542.2 207.6 543.7 212.8 545.7 219.1 547.9 225.2 547.7 225.2Z"/><path fill="rgb(11,11,195)" fill-rule="evenodd" d="M547.2 225.2 539.2 225.6 529.7 225.2 527.3 221.2 525 216.7 523 212.7 521 208.2 519 203.2 517.4 198.7 515.9 194.2 514.5 189.2 512.4 180.2 510.5 170.2 509.3 161.7 508.3 151.7 507.8 143.2 507.4 132.7 506.9 98.2 506.6 86.7 505.8 73.7 504.7 63.3 503.7 56.7 502.7 51.4 501.7 47 500.2 41.3 498.7 36.5 496.7 30.8 494.7 25.8 492.6 21.2 499.2 20.9 503.7 20.8 508.2 20.9 514 21.2 516.1 25.2 518.1 29.2 521.5 37.2 524.4 45.2 526.9 53.7 529 62.2 530.6 70.7 531.9 80.2 532.9 90.7 533.4 99.2 533.7 108.2 534 140.2 534.3 152.7 534.9 165.7 535.9 176.7 536.7 182.6 537.7 188.8 538.7 194 540.2 200.9 541.7 206.9 543.7 213.8 545.7 219.9 547.6 225.2 547.2 225.2Z"/><path fill="rgb(11,11,198)" fill-rule="evenodd" d="M547.2 225.2 539.2 225.6 530 225.2 528 221.7 525.5 217.2 523.3 212.7 521.3 208.2 519.5 203.7 517.9 199.2 516.4 194.7 515 189.7 512.9 181.2 510.9 170.7 509.5 160.7 508.6 150.7 508 141.7 507.7 132.7 507.2 98.2 506.9 87.2 506.2 74.7 505.2 64.7 504.2 57.7 503.2 52.3 502.2 47.8 500.7 42 499.2 37.1 497.2 31.3 495.2 26.3 492.9 21.2 499.2 20.9 503.7 20.8 508.2 20.9 513.7 21.2 517.6 28.7 521.1 36.7 524 44.7 526.5 53.2 528.6 61.7 530.4 71.2 531.5 79.7 532.5 89.7 533 98.2 533.4 108.2 533.7 141.2 534 153.7 534.7 166.8 535.7 177.4 536.7 184.6 537.7 190.4 538.7 195.5 540.2 202.1 541.7 207.9 543.2 213.1 545.2 219.3 547.3 225.2 547.2 225.2Z"/><path fill="rgb(11,11,200)" fill-rule="evenodd" d="M546.7 225.2 539.2 225.6 530.3 225.2 528 221.2 525.3 216.2 523.4 212.2 521.4 207.7 519.5 202.7 517.8 198.2 516.4 193.7 515 188.7 512.9 179.7 511 169.2 509.9 160.7 508.9 151.2 508.4 142.2 508 132.2 507.6 98.7 507.2 85.9 506.4 73.7 505.2 62.7 504.2 56 503.2 50.9 502.2 46.6 500.7 41 499.2 36.2 497.2 30.6 495.2 25.6 493.2 21.2 499.2 20.9 503.7 20.8 507.7 20.9 513.4 21.2 515.6 25.2 517.5 29.2 521 37.2 524 45.7 526.5 54.2 528.5 62.7 530.1 71.2 531.4 81.2 532.3 91.2 532.8 100.2 533.1 108.7 533.4 140.2 533.7 153.2 534.3 164.7 535.2 175.7 536.7 186.3 537.7 191.9 539.2 199 540.7 205.2 542.7 212.3 544.7 218.5 547.1 225.2 546.7 225.2Z"/><path fill="rgb(12,12,203)" fill-rule="evenodd" d="M546.7 225.2 539.2 225.6 530.6 225.2 528 220.7 525.9 216.7 523.9 212.7 521.9 208.2 519.9 203.2 518.5 199.2 516.9 194.2 515.4 189.2 513.4 180.7 511.5 170.2 510.3 162.2 509.3 152.2 508.8 143.7 508.3 133.2 507.9 98.7 507.5 87.2 506.8 74.2 505.7 64 504.7 57.3 503.7 52 502.7 47.5 501.2 41.8 499.7 36.9 497.7 31.2 495.7 26.2 493.5 21.2 499.7 20.9 503.7 20.8 507.7 20.9 513.2 21.2 515.3 25.2 517.5 29.7 520.9 37.7 523.9 46.2 526.4 54.7 528.4 63.2 529.9 71.7 531 80.2 532 90.2 532.5 99.2 532.8 108.7 533.1 140.7 533.4 153.7 534.2 167.6 535.2 177.8 536.2 184.8 537.2 190.6 538.2 195.6 539.7 202.2 541.2 208 542.7 213.1 544.7 219.3 546.9 225.2 546.7 225.2Z"/><path fill="rgb(12,12,205)" fill-rule="evenodd" d="M546.2 225.2 539.2 225.6 530.9 225.2 528 220.2 525.9 216.2 524 212.2 522 207.7 520 202.7 518.4 198.2 517 193.7 515.5 188.2 513.4 179.2 511.5 168.7 510.4 160.2 509.5 150.7 508.9 141.7 508.6 132.2 508.2 99.2 507.8 86.7 507.2 75.7 506.7 70.4 506 64.2 505.2 58.7 504.2 53.1 503.2 48.5 501.7 42.6 500.2 37.6 498.2 31.8 496.2 26.8 493.7 21.2 499.7 20.9 503.7 20.8 507.7 20.9 513 21.2 515.4 25.7 517.1 29.2 520.5 37.2 523.4 45.2 526 54.2 528 62.7 529.6 71.2 530.9 81.2 531.8 91.2 532.3 100.2 532.5 108.7 532.8 139.7 533.2 153.2 533.7 164.2 534.7 175.7 536.2 186.4 537.2 191.9 538.7 199 540.2 205.1 542.2 212.2 544.2 218.5 546.6 225.2 546.2 225.2Z"/><path fill="rgb(13,13,208)" fill-rule="evenodd" d="M546.2 225.2 539.2 225.6 531.1 225.2 528.5 220.7 525.9 215.7 524 211.7 521.9 206.7 519.9 201.7 518.4 197.2 517 192.7 515.5 187.2 513.5 178.2 511.9 169.7 510.8 161.7 509.8 151.2 509.3 143.2 508.9 132.7 508.4 99.2 508.1 87.7 507.3 74.7 506.2 63.8 505.2 57.1 504.2 51.9 503.2 47.4 501.7 41.8 500.2 36.9 498.2 31.2 496.2 26.2 494 21.2 499.7 20.9 503.7 20.8 507.7 20.9 512.8 21.2 514.9 25.2 516.8 29.2 518.9 33.7 520.5 37.7 523.5 46.2 525.9 54.7 527.9 63.2 529.4 71.7 530.5 80.2 531.5 90.2 532 99.2 532.3 108.7 532.6 140.7 532.9 153.2 533.7 167.5 534.7 177.7 535.7 184.8 536.7 190.5 537.7 195.5 539.2 202.1 541.7 211.3 543.7 217.6 546.4 225.2 546.2 225.2Z"/><path fill="rgb(13,13,211)" fill-rule="evenodd" d="M546.2 225.2 539.2 225.6 531.3 225.2 528.5 220.2 526.4 216.2 524.5 212.2 522.5 207.7 520.5 202.7 518.9 198.2 517.4 193.2 515.8 187.7 513.9 179.2 512 168.7 510.9 160.2 510 150.7 509.5 141.7 509.1 131.7 508.7 99.5 508.4 87.2 507.7 75.9 506.6 64.7 505.7 58.7 504.7 53.1 503.7 48.5 502.2 42.7 500.7 37.7 498.7 31.9 496.7 26.9 494.2 21.2 499.7 20.9 503.7 20.8 507.7 20.9 512.6 21.2 514.9 25.7 516.9 29.7 518.9 34.2 520.5 38.2 523.4 46.7 525.9 55.7 528 64.7 529.4 73.2 530.5 81.7 531.3 91.7 531.8 100.2 532 108.7 532.3 139.7 532.7 152.7 533.2 164.2 534.2 175.7 535.2 183 536.2 189 537.2 194.2 538.7 200.9 540.2 206.8 542.2 213.6 544.2 219.7 546.2 225.2Z"/><path fill="rgb(13,13,213)" fill-rule="evenodd" d="M545.7 225.2 539.2 225.6 531.6 225.2 529 220.7 526.9 216.7 524.5 211.7 522.5 207.2 521 203.2 519 197.7 517.4 192.7 516 187.2 513.9 178.2 512.4 169.7 511.3 161.7 510.3 151.2 509.8 143.2 509.4 132.7 508.9 99.7 508.6 87.7 507.8 74.7 506.7 63.9 505.7 57.3 504.7 52 503.7 47.6 502.2 41.9 500.7 37 498.7 31.3 496.7 26.3 494.4 21.2 499.7 20.9 503.7 20.8 507.7 20.9 512.4 21.2 514.5 25.2 516.4 29.2 519.9 37.2 522.9 45.7 525.5 54.7 527.4 63.2 529 71.7 530.1 80.2 531 90.2 531.5 98.7 531.8 108.7 532.1 140.2 532.4 152.7 533.2 166.9 534.2 177.2 535.2 184.4 536.2 190.2 537.2 195.2 538.7 201.8 540.2 207.5 542.2 214.3 544.2 220.2 546 225.2 545.7 225.2Z"/><path fill="rgb(14,14,216)" fill-rule="evenodd" d="M545.7 225.2 539.2 225.6 531.8 225.2 529.5 221.2 526.9 216.2 524.5 211.2 522.6 206.7 520.4 201.2 518.9 196.7 517.4 191.7 516.1 186.7 514.1 177.7 512.5 168.7 511.4 160.2 510.5 150.2 509.9 141.2 509.6 131.7 509.2 100.2 508.8 87.7 508.2 76.3 507.1 65.2 506.2 59 505.2 53.4 504.2 48.8 502.7 42.9 501.2 37.9 499.2 32.1 497.2 27 494.6 21.2 499.7 20.9 503.7 20.8 507.2 20.9 512.2 21.2 514.6 25.7 516.5 29.7 519.9 37.7 522.9 46.2 525.4 55.2 527.4 64.2 528.9 72.7 530 81.2 530.8 91.2 531.3 99.7 531.6 108.2 531.9 139.7 532.2 152.4 532.8 164.7 533.9 176.2 534.7 182.4 535.7 188.5 536.7 193.7 538.2 200.5 539.7 206.4 541.2 211.6 543.2 217.9 545.9 225.2 545.7 225.2Z"/><path fill="rgb(14,14,218)" fill-rule="evenodd" d="M545.2 225.2 539.2 225.6 532 225.2 529.4 220.7 527.1 216.2 524.9 211.7 523 207.2 521 202.2 519.4 197.7 517.9 192.7 516.4 187.2 514.5 178.7 512.9 169.7 511.6 160.2 510.8 151.7 510.3 143.7 509.9 133.2 509.4 99.7 509.1 88.2 508.3 75.2 507.2 64.4 506.2 57.7 505.2 52.4 504.2 47.9 502.7 42.2 501.2 37.3 499.2 31.6 497.2 26.6 494.8 21.2 499.7 20.9 503.7 20.8 507.2 20.9 512 21.2 513.9 24.7 516.1 29.2 518.1 33.7 519.9 38.2 521.5 42.7 523 47.2 525.5 56.2 527 63.2 528.6 71.7 529.8 81.2 530.6 90.2 531 98.2 531.4 108.2 531.7 140.2 532 152.7 532.7 165.7 533.7 176.4 535.2 186.8 536.2 192.2 537.7 199.2 539.2 205.2 541.2 212.2 543.2 218.4 545.7 225.2 545.2 225.2Z"/><path fill="rgb(15,15,221)" fill-rule="evenodd" d="M545.2 225.2 539.2 225.6 532.2 225.2 529.3 220.2 527 215.7 524.9 211.2 523 206.7 521 201.7 519.5 197.2 517.9 192.2 516.5 186.7 514.5 177.7 512.9 168.7 511.9 160.7 510.9 150.7 510.4 142.2 510.1 132.2 509.6 100.2 509.3 87.2 508.6 75.7 507.4 64.2 506.2 56.7 505.2 51.5 504.2 47.1 502.7 41.5 501.2 36.7 499.2 31.1 497.2 26.1 495 21.2 500.2 20.9 503.7 20.8 507.2 20.9 511.8 21.2 514 25.2 515.9 29.2 517.9 33.7 519.5 37.7 522.5 46.2 524 51.2 525.4 56.7 527.1 64.2 528.5 72.7 529.6 81.2 530.4 91.2 530.9 99.2 531.1 107.7 531.5 139.7 531.8 151.7 532.5 165.2 533.6 176.7 534.2 181.6 535.2 187.8 536.2 193.1 537.7 200 539.2 205.9 541.2 212.8 543.2 218.8 545.6 225.2 545.2 225.2Z"/><path fill="rgb(15,15,223)" fill-rule="evenodd" d="M545.2 225.2 539.2 225.6 532.3 225.2 529.5 220.2 527.4 216.2 524.9 210.7 523 206.2 521 201.2 519.4 196.2 517.9 191.2 516.4 185.7 514.5 176.7 513 167.7 511.9 159.2 511.1 149.7 510.6 141.2 510.3 132.7 509.8 99.7 509.5 88.7 508.8 75.7 507.7 65.2 506.7 58.4 505.7 53 504.7 48.4 503.2 42.6 501.7 37.7 499.7 31.9 497.7 26.9 495.2 21.2 500.2 20.9 503.7 20.8 507.2 20.9 511.7 21.2 514 25.7 516 29.7 519.3 37.7 521 42.2 522.5 46.7 525 55.7 526.9 64.2 528.1 71.2 529.3 80.7 530.1 89.7 530.6 97.7 531 107.7 531.3 139.2 531.6 152.7 532.2 164 533.2 175.3 534.2 182.8 535.2 188.8 536.2 194 537.7 200.7 539.2 206.5 540.7 211.7 543.2 219.3 545.4 225.2 545.2 225.2Z"/><path fill="rgb(15,15,226)" fill-rule="evenodd" d="M545.2 225.2 539.2 225.6 532.5 225.2 529.9 220.7 527.4 215.7 525.5 211.7 523.3 206.7 521.4 201.7 519.9 197.2 518.3 192.2 516.9 186.7 515 178.2 513.4 169.2 512.3 161.2 511.4 151.2 510.8 142.7 510.5 132.7 510 100.2 509.7 88 508.9 75.2 507.7 63.8 506.7 57.3 505.7 52.1 504.7 47.7 503.2 42 501.7 37.1 499.7 31.5 497.7 26.5 495.3 21.2 500.2 20.9 503.7 20.8 507.2 20.9 511.5 21.2 513.4 24.7 515.6 29.2 517.6 33.7 519.4 38.2 521 42.7 522.5 47.2 524.9 56.2 526.5 63.2 528 71.7 529.1 79.7 530 90.2 530.5 98.7 530.8 108.2 531.1 139.7 531.4 152.2 532.2 166.4 533.2 176.8 534.2 183.9 535.2 189.8 536.2 194.8 537.7 201.3 539.2 207.1 540.7 212.2 542.7 218.3 545.2 225.2Z"/><path fill="rgb(16,16,228)" fill-rule="evenodd" d="M544.7 225.2 539.2 225.6 532.7 225.2 529.8 220.2 527.5 215.7 525.4 211.2 523.5 206.7 521.4 201.2 519.9 196.7 518.4 191.7 516.9 186.2 515 177.2 513.4 168.2 512.3 159.7 511.5 150.2 511 141.2 510.7 131.7 510.2 99.7 509.9 88.7 509.2 76.3 508.2 66.2 507.2 59.2 506.2 53.7 505.2 49 503.7 43.2 502.2 38.2 500.2 32.4 497.7 26.1 495.5 21.2 500.2 20.9 503.7 20.8 507.2 20.9 511.4 21.2 513.5 25.2 515.4 29.2 517.4 33.7 519 37.7 522 46.2 523.5 51.2 524.9 56.7 526.5 64.2 528 72.7 529 81.2 529.9 91.2 530.3 99.7 530.6 108.2 530.9 138.7 531.2 151 531.8 163.7 532.3 169.2 532.9 175.7 533.7 181.7 534.7 187.9 535.7 193.1 537.2 199.9 538.7 205.8 540.7 212.7 542.7 218.7 545.1 225.2 544.7 225.2Z"/><path fill="rgb(16,16,231)" fill-rule="evenodd" d="M544.7 225.2 539.2 225.6 532.8 225.2 530 220.2 527.9 216.2 525.4 210.7 523.5 206.2 521.4 200.7 519.9 196.2 518.4 191.2 517 185.7 515.1 176.7 513.5 167.7 512.5 159.2 511.6 149.7 511.2 141.2 510.9 132.7 510.4 100.2 510.1 88.7 509.3 75.7 508.2 64.9 507.2 58.2 506.2 52.8 505.2 48.3 503.7 42.6 502.2 37.7 500.2 31.9 498.2 26.9 495.6 21.2 500.2 20.9 503.7 20.8 507.2 20.9 511.2 21.2 513.3 25.2 515.5 29.7 517.5 34.2 519.1 38.2 522 46.7 523.5 51.7 524.9 57.2 526.5 64.7 528 73.7 529 82.2 529.7 91.7 530.1 98.7 530.4 108.2 530.7 138.7 531.1 151.7 531.7 164.2 532.7 175.3 533.7 182.8 534.7 188.8 535.7 193.9 537.2 200.5 538.7 206.3 540.2 211.5 542.7 219.1 545 225.2 544.7 225.2Z"/><path fill="rgb(17,17,233)" fill-rule="evenodd" d="M544.7 225.2 539.2 225.6 532.9 225.2 530.4 220.7 527.8 215.7 525.5 210.7 523.4 205.7 521.4 200.2 519.9 195.7 518.4 190.7 517 185.2 515.4 177.7 513.9 168.7 512.8 160.7 511.9 150.7 511.4 142.2 511 132.7 510.6 100.2 510.2 87 509.4 74.7 508.2 63.7 507.2 57.2 506.2 52.1 505.2 47.7 503.7 42.1 502.2 37.2 500.2 31.5 498.2 26.6 495.8 21.2 500.2 20.9 503.7 20.8 507.2 20.9 511.1 21.2 513.5 25.7 515.4 29.7 517.3 34.2 518.9 38.2 520.6 42.7 522 47.2 524.5 56.2 526 63.2 527.5 71.7 528.6 79.7 529.5 90.2 530 98.7 530.3 108.2 530.6 139.7 530.9 152.2 531.7 166.3 532.7 176.6 533.7 183.8 534.7 189.6 535.7 194.6 537.2 201.1 538.7 206.9 540.2 211.9 542.2 218 544.9 225.2 544.7 225.2Z"/><path fill="rgb(17,17,236)" fill-rule="evenodd" d="M544.7 225.2 539.2 225.6 533.1 225.2 530.6 220.7 528 215.7 525.9 211.2 524 206.7 521.9 201.2 520.4 196.7 518.9 191.7 517.4 186.2 515.5 177.2 513.9 168.2 512.9 159.7 512 150.2 511.5 141.7 511.2 133.2 510.7 99.7 510.4 88.7 509.7 76.2 508.7 66.2 507.7 59.3 506.7 53.8 505.7 49.1 504.2 43.3 502.7 38.3 500.7 32.5 498.2 26.2 495.9 21.2 500.2 20.9 503.7 20.8 507.2 20.9 511 21.2 513.3 25.7 515.5 30.2 517.4 34.7 519 38.7 520.4 42.7 522 47.7 524.5 56.7 526.1 64.2 527.5 72.7 528.5 80.7 529.4 90.7 529.8 99.2 530.1 107.7 530.4 138.7 530.7 151.7 531.5 166.2 532.7 177.7 533.7 184.7 534.7 190.3 535.7 195.2 537.2 201.7 538.7 207.3 540.7 213.9 544.7 225.2Z"/><path fill="rgb(17,17,238)" fill-rule="evenodd" d="M544.2 225.2 539.2 225.6 533.2 225.2 531 221.2 528.4 216.2 526 211.2 523.9 206.2 522 201.2 520.4 196.2 518.9 191.2 517.5 185.7 515.5 176.7 514 167.7 513 159.2 512.2 151.2 511.8 143.7 511.4 133.2 510.9 100.2 510.6 88.7 509.8 75.7 508.7 65.1 507.7 58.4 506.7 53 505.7 48.5 504.2 42.8 502.7 37.8 500.7 32.1 498.7 27.1 496.1 21.2 500.2 20.9 503.7 20.8 506.7 20.9 510.8 21.2 512.9 25.2 514.9 29.2 516.9 33.7 518.5 37.7 520.4 43.2 521.9 47.7 524.4 57.2 526 64.7 527.4 73.2 528.5 82.2 529.3 91.7 529.6 98.7 530 108.2 530.3 138.2 530.6 151.7 531.2 163.5 532.2 174.8 533.2 182.4 534.2 188.4 535.2 193.5 536.7 200.2 538.2 206 540.2 212.8 542.2 218.7 544.6 225.2 544.2 225.2Z"/><path fill="rgb(18,18,241)" fill-rule="evenodd" d="M544.2 225.2 539.2 225.6 533.3 225.2 530.6 220.2 528 215.2 526 210.7 523.9 205.7 522 200.7 520.3 195.7 518.9 190.7 517.5 185.2 515.9 177.7 514.3 168.7 513.3 160.7 512.4 150.7 511.9 142.7 511.5 132.7 511.1 100.7 510.7 87.4 509.9 75.2 508.7 64.2 507.7 57.5 506.7 52.3 505.7 47.9 504.2 42.3 502.7 37.4 500.7 31.7 498.7 26.7 496.2 21.2 500.2 20.9 503.7 20.8 506.7 20.9 510.7 21.2 512.8 25.2 515 29.7 516.9 34.2 518.5 38.2 520.5 43.7 521.9 48.2 524.4 57.7 526 65.2 527.4 73.7 528.4 82.2 529.1 90.7 529.5 98.7 529.8 108.2 530.1 139.7 530.5 151.7 531.2 165.5 532.2 176 533.2 183.3 534.2 189.1 535.2 194.2 536.7 200.7 538.2 206.5 540.2 213.1 542.2 219 544.5 225.2 544.2 225.2Z"/><path fill="rgb(18,18,244)" fill-rule="evenodd" d="M544.2 225.2 539.2 225.6 533.5 225.2 530.9 220.7 528.4 215.7 525.9 210.2 524 205.7 522 200.2 520.5 195.7 518.9 190.2 517.5 184.7 515.9 177.2 514.4 168.2 513.4 160.2 512.5 150.2 512 141.2 511.7 131.7 511.2 100.2 510.9 89.2 510.2 76.7 509.2 66.7 508.2 59.7 507.2 54.1 506.2 49.5 504.7 43.6 503.2 38.5 501.2 32.7 498.7 26.4 496.3 21.2 500.2 20.9 503.7 20.8 506.7 20.9 510.6 21.2 513 25.7 514.9 29.7 516.4 33.2 518.4 38.2 520 42.7 521.5 47.2 522.9 52.2 524 56.7 525.6 63.7 527 72.2 528.1 80.7 528.9 90.7 529.4 98.7 529.6 107.2 530 139.2 530.3 151.7 530.7 160.1 531.1 166.2 532.2 177.1 533.2 184.1 534.2 189.8 535.2 194.7 536.7 201.2 538.2 206.9 539.7 211.9 542.2 219.3 544.4 225.2 544.2 225.2Z"/><path fill="rgb(19,19,246)" fill-rule="evenodd" d="M544.2 225.2 539.2 225.6 533.6 225.2 531.1 220.7 528.5 215.7 526 210.2 523.9 205.2 521.9 199.7 520.5 195.2 518.9 189.7 517.5 184.2 515.9 176.2 514.4 167.2 513.4 158.7 512.6 149.2 512.1 140.7 511.8 132.7 511.4 100.7 511.1 89.7 510.7 81.8 510.3 76.2 509.2 65.6 508.2 58.8 507.2 53.4 506.2 48.9 504.7 43.1 503.2 38.1 501.2 32.4 498.7 26.2 496.4 21.2 500.7 20.9 503.7 20.8 506.7 20.9 510.5 21.2 512.8 25.7 515 30.2 516.9 34.7 518.5 38.7 519.9 42.7 521.5 47.7 524 57.2 525.5 64.2 527 73.2 528 81.7 528.8 91.2 529.3 99.7 529.5 107.7 529.9 138.7 530.2 152.2 530.8 164.2 531.9 175.7 532.7 181.7 533.7 187.8 535.2 195.3 536.7 201.7 538.2 207.3 539.7 212.3 541.7 218.2 544.3 225.2 544.2 225.2Z"/><path fill="rgb(19,19,249)" fill-rule="evenodd" d="M544.2 225.2 539.2 225.6 533.7 225.2 531.4 221.2 528.9 216.2 526.6 211.2 524.5 206.2 522.4 200.7 520.9 196.2 519.4 191.2 517.9 185.2 516.4 178.2 514.8 169.2 513.6 159.7 512.8 151.2 512.4 143.2 512 133.2 511.5 101.2 511.2 88.9 510.4 75.7 509.2 64.6 508.2 58.1 507.2 52.8 506.2 48.4 504.7 42.7 503.2 37.7 501.2 32.1 499.2 27 496.6 21.2 500.7 20.9 503.7 20.8 506.7 20.9 510.4 21.2 512.5 25.2 514.4 29.2 516.4 33.7 518.4 38.7 520 43.2 521.4 47.7 523.9 57.2 525.5 64.7 526.9 73.2 527.9 81.7 528.6 89.7 529 97.7 529.4 107.2 529.7 138.2 530 151.7 530.7 164.1 531.7 175 532.7 182.5 533.7 188.4 534.7 193.5 536.2 200.2 537.7 205.9 539.7 212.6 541.7 218.5 544.2 225.2Z"/><path fill="rgb(19,19,251)" fill-rule="evenodd" d="M543.7 225.2 540.7 225.5 538.7 225.6 533.8 225.2 531 220.2 528.5 215.2 526.5 210.7 524.4 205.7 522.5 200.7 520.9 195.7 519.4 190.7 517.9 184.7 516.4 177.7 514.9 168.7 513.8 160.7 512.9 150.2 512.4 141.7 512.1 132.2 511.7 101.7 511.3 88.7 510.7 77.7 510.2 72.1 509.5 66.2 508.7 60.3 507.7 54.7 506.2 47.8 504.7 42.2 503.2 37.4 501.2 31.7 499.2 26.8 496.7 21.2 500.7 20.9 503.7 20.8 506.7 20.9 510.3 21.2 512.4 25.2 514.5 29.7 516.5 34.2 518.4 39.2 520 43.7 521.4 48.2 523.9 57.7 525.5 65.2 526.8 73.7 527.8 82.2 528.5 90.2 529 98.7 529.3 108.2 529.6 139.2 529.9 151.2 530.2 158.1 530.7 165.7 531.7 176 532.7 183.2 533.7 189.1 534.7 194.1 536.2 200.6 537.7 206.3 539.7 212.9 541.7 218.8 544.1 225.2 543.7 225.2Z"/><path fill="rgb(20,20,254)" fill-rule="evenodd" d="M543.7 225.2 539.2 225.6 533.9 225.2 531.4 220.7 528.9 215.7 526.6 210.7 524.5 205.7 522.5 200.2 521 195.7 519.4 190.2 517.9 184.2 516.4 176.7 514.9 167.7 513.9 159.7 513 149.7 512.5 141.2 512.3 133.2 511.8 100.7 511.5 89.7 511.2 83.4 510.7 76.2 509.7 66.5 508.7 59.5 507.7 54 506.7 49.4 505.2 43.6 503.7 38.6 501.7 32.8 499.2 26.5 496.8 21.2 500.7 20.9 503.7 20.8 506.7 20.9 510.2 21.2 512.5 25.7 514.4 29.7 516.4 34.2 518 38.2 519.4 42.2 521 47.2 522.4 52.2 523.9 58.2 525.5 65.7 526.6 72.7 527.6 80.7 528.4 90.7 528.9 99.2 529.1 107.2 529.5 138.2 529.8 150.7 530.5 165.2 531.7 176.7 532.7 183.9 533.7 189.7 534.7 194.6 536.2 201 537.7 206.7 539.7 213.3 541.7 219.1 544.1 225.2 543.7 225.2Z"/><path fill="rgb(23,23,254)" fill-rule="evenodd" d="M543.7 225.2 539.2 225.6 534 225.2 531.5 220.7 529 215.7 526.5 210.2 524.4 205.2 522.4 199.7 521 195.2 519.4 189.7 517.9 183.7 516.4 176.2 514.9 167.2 513.9 158.7 513.1 149.2 512.6 140.7 512.4 132.7 511.9 101.2 511.6 89.7 511.2 81.7 510.8 76.2 509.7 65.5 508.7 58.8 507.7 53.5 506.7 48.9 505.2 43.2 503.7 38.2 501.7 32.5 499.2 26.2 496.9 21.2 500.7 20.9 503.7 20.8 506.7 20.9 510.1 21.2 512.4 25.7 514.5 30.2 516.5 34.7 518 38.7 520 44.2 521.3 48.7 522.5 52.7 523.9 58.7 525.4 66.2 526.6 73.7 527.6 81.7 528.4 91.7 528.8 100.2 529 107.7 529.3 138.2 529.7 151.2 530.2 162.2 531.3 174.2 532.2 181.4 533.2 187.5 534.2 192.7 535.7 199.4 537.2 205.2 538.7 210.4 541.2 217.9 544 225.2 543.7 225.2Z"/><path fill="rgb(29,29,253)" fill-rule="evenodd" d="M543.7 225.2 539.2 225.5 534.1 225.2 531.9 221.2 529.4 216.2 527.1 211.2 525 206.2 522.9 200.7 521.4 196.2 519.8 190.7 518.3 184.7 516.9 177.7 515.3 168.7 514.3 160.7 513.4 150.7 512.9 142.2 512.6 132.7 512.1 101.2 511.7 87.7 510.9 75.2 509.7 64.2 508.7 57.8 507.7 52.6 506.7 48.2 505.2 42.6 503.7 37.7 501.7 32 499.7 27 497.1 21.2 500.7 20.9 503.7 20.8 509.9 21.2 512 25.2 514.4 30.2 515.9 33.7 517.9 38.7 519.5 43.2 520.9 47.7 522.4 53.2 523.5 57.7 525.1 65.2 526.4 73.7 527.4 82.2 528.1 90.2 528.5 98.2 528.8 107.7 529.2 139.2 529.5 151.2 530.2 164.6 531.2 175.2 532.2 182.6 533.2 188.5 534.2 193.5 535.7 200.1 537.2 205.8 539.2 212.5 541.7 219.7 543.8 225.2 543.7 225.2Z"/><path fill="rgb(35,35,251)" fill-rule="evenodd" d="M543.7 225.2 539.2 225.5 534.3 225.2 531.5 220.2 529.5 216.2 527 210.7 524.9 205.7 522.9 200.2 521.5 195.7 519.9 190.2 518.4 184.2 516.8 176.7 515.4 167.7 514.4 159.7 513.5 149.7 513 141.2 512.8 133.2 512.3 101.2 512 90.2 511.7 83.3 511.2 76.7 510.2 66.6 509.2 59.7 508.2 54.2 507.2 49.6 505.7 43.7 503.7 37.2 501.7 31.6 499.7 26.6 497.2 21.2 500.7 20.9 503.7 20.8 509.8 21.2 511.9 25.2 514 29.7 516 34.2 517.9 39.2 519.5 43.7 521 48.7 523.5 58.2 525 65.7 526.3 74.2 527.3 83.2 527.9 90.7 528.4 99.2 528.6 107.2 529 138.2 529.3 150.7 529.7 159.7 530.1 165.2 531.2 176.6 532.2 183.6 533.2 189.3 534.7 196.5 536.2 202.7 537.7 208.1 539.7 214.4 541.7 220.1 543.7 225.2Z"/><path fill="rgb(41,41,250)" fill-rule="evenodd" d="M543.2 225.2 540.7 225.5 538.7 225.5 534.4 225.2 531.9 220.7 529.4 215.7 526.9 210.2 524.9 205.2 522.9 199.7 521.5 195.2 519.9 189.7 518.5 183.7 516.9 176.2 515.5 167.2 514.5 159.2 513.8 151.2 513.3 143.2 513 133.2 512.5 101.7 512.2 89.7 511.4 76.7 510.2 65.3 509.2 58.7 508.2 53.4 506.7 46.9 505.2 41.4 503.7 36.7 501.7 31.2 499.7 26.3 497.4 21.2 500.7 20.9 503.7 20.9 509.6 21.2 512 25.7 514.1 30.2 516 34.7 517.9 39.7 519.5 44.2 521 49.2 523.4 58.7 524.9 66.2 526.1 73.7 527 81.7 527.8 91.7 528.5 107.7 528.8 137.7 529.1 150.7 529.7 162.3 530.7 173.7 531.7 181.4 532.7 187.4 533.7 192.6 535.2 199.3 536.7 205.1 538.7 211.8 541.2 219.1 543.6 225.2 543.2 225.2Z"/><path fill="rgb(47,47,249)" fill-rule="evenodd" d="M543.2 225.2 539.2 225.5 534.5 225.2 531.5 219.7 529.3 215.2 526.9 209.7 524.9 204.7 522.9 199.2 521.5 194.7 519.9 189.2 518.5 183.2 516.9 175.2 515.6 166.7 514.6 158.2 513.9 150.2 513.4 141.7 513.1 132.2 512.7 101.9 512.4 89.7 511.7 78.1 510.7 67.7 509.7 60.7 508.7 55.1 507.2 48.3 505.7 42.6 504.2 37.8 502.2 32.1 500.2 27.1 497.5 21.2 500.7 20.9 503.7 20.9 509.5 21.2 511.8 25.7 513.9 30.2 515.9 34.7 517.4 38.7 519 43.2 520.9 49.2 522.1 53.7 523.4 59.2 524.9 67.2 526 74.2 526.9 82.2 527.6 90.7 528 98.7 528.3 107.7 528.6 138.7 528.9 150.7 529.7 164.5 530.7 175 531.7 182.3 532.7 188.2 533.7 193.3 535.2 199.8 536.7 205.5 538.2 210.6 540.7 218 543.5 225.2 543.2 225.2Z"/><path fill="rgb(53,53,247)" fill-rule="evenodd" d="M543.2 225.2 539.2 225.5 534.6 225.2 531.9 220.2 529.5 215.2 527.4 210.7 525.4 205.7 523.4 200.2 521.9 195.7 520.4 190.2 518.9 184.2 517.3 176.7 515.9 167.7 514.9 159.7 514 149.7 513.6 141.2 513.3 133.2 512.9 101.7 512.5 90.2 512.2 83.1 511.7 76.7 510.7 66.6 509.7 59.8 508.7 54.3 507.2 47.7 505.7 42.1 504.2 37.3 502.2 31.7 500.2 26.8 497.7 21.2 500.7 20.9 503.7 20.9 509.4 21.2 511.4 25.2 513.6 29.7 515.5 34.2 517.5 39.2 519 43.7 520.4 48.2 521.9 53.7 523 58.2 524.5 65.7 525.9 74.2 526.8 82.7 527.4 90.7 527.9 98.7 528.1 106.7 528.5 137.7 528.8 150.2 529.2 159.2 529.6 164.7 530.7 176.2 531.7 183.2 532.7 189 533.7 193.9 535.2 200.4 536.7 206 538.7 212.6 541.2 219.7 543.4 225.2 543.2 225.2Z"/><path fill="rgb(60,60,246)" fill-rule="evenodd" d="M543.2 225.2 539.2 225.5 534.8 225.2 532 220.2 529.8 215.7 527.3 210.2 525.3 205.2 523.5 200.2 521.9 195.2 520.4 189.7 518.9 183.7 517.4 176.2 516 167.7 515 159.2 514.3 151.2 513.8 143.2 513.5 133.2 513 102.2 512.7 90 511.9 76.7 510.7 65.5 509.7 58.9 508.7 53.6 507.2 47.1 505.7 41.6 504.2 36.9 502.2 31.4 500.2 26.5 497.8 21.2 501.2 20.9 503.7 20.9 509.2 21.2 511.6 25.7 513.5 29.7 515.4 34.2 517.3 39.2 518.9 43.7 520.4 48.7 521.9 54.2 523 58.7 524.5 66.2 525.6 73.2 526.5 81.2 527.3 91.2 528 107.2 528.3 138.2 528.7 152.3 529.5 166.2 530.7 177.2 531.7 184.1 532.7 189.7 534.2 196.8 535.7 202.8 537.2 208.1 539.2 214.4 543.2 225.2Z"/><path fill="rgb(66,66,244)" fill-rule="evenodd" d="M542.7 225.3 538.7 225.5 534.9 225.2 532.4 220.7 529.9 215.7 527.5 210.2 525.5 205.2 523.5 199.7 521.9 194.7 520.4 189.2 518.9 183.2 517.4 175.7 516 166.7 515 158.2 514.4 150.2 513.9 142.2 513.6 132.7 513.2 102.7 512.8 89.7 512.2 78.6 511.1 67.2 510.2 61.1 509.2 55.4 507.7 48.6 506.2 42.9 504.7 38 502.7 32.3 500.2 26.2 497.9 21.2 501.2 20.9 503.7 20.9 509.1 21.2 511.4 25.7 513.6 30.2 515.5 34.7 517.4 39.7 518.9 44.2 520.5 49.2 521.9 54.7 523 59.2 524.4 66.7 525.5 73.7 526.4 81.7 527.1 90.2 527.5 97.7 527.8 107.2 528.2 138.7 528.5 150.2 529.2 163.6 530.2 174.3 531.2 181.8 532.2 187.7 533.2 192.8 534.7 199.4 536.2 205.1 538.2 211.7 540.7 218.9 543.2 225.2 542.7 225.3Z"/><path fill="rgb(72,72,243)" fill-rule="evenodd" d="M542.7 225.2 538.7 225.5 535 225.2 534.4 224.2 532 219.7 529.4 214.2 527.4 209.7 525.4 204.7 523.4 199.2 521.9 194.2 520.4 188.7 519 182.7 517.4 174.7 516 165.7 515.1 157.2 514.5 149.7 514.1 141.7 513.8 133.7 513.3 101.7 513 90.7 512.7 83.9 512.2 77.2 511.2 67.2 510.2 60.3 509.2 54.7 507.7 48 506.2 42.5 504.7 37.6 502.7 32 500.7 27.1 498 21.2 501.2 20.9 503.7 20.9 509 21.2 511.3 25.7 513.4 30.2 515.6 35.2 517.5 40.2 519 44.7 520.5 49.7 521.9 55.2 522.9 59.7 524.4 67.2 525.4 74.2 526.4 82.7 527 90.7 527.4 98.2 527.6 106.2 528 138.2 528.3 150.2 528.7 158 529.2 164.7 530.2 175.4 531.2 182.6 532.2 188.4 533.2 193.4 534.7 199.9 536.2 205.5 538.2 212.1 540.7 219.2 543.1 225.2 542.7 225.2Z"/><path fill="rgb(78,78,241)" fill-rule="evenodd" d="M542.7 225.2 539.2 225.5 535.1 225.2 534.5 224.2 531.9 219.2 529.5 214.2 526.9 208.2 525 203.2 522.9 197.2 521.4 192.2 520 186.7 519 182.2 517.4 174.2 516.4 167.2 515.4 158.7 514.6 149.2 514.2 140.7 513.9 132.7 513.5 102.7 513.2 90.7 512.4 77.2 511.2 66.1 510.2 59.5 509.2 54.1 507.7 47.5 506.2 42 504.7 37.3 502.7 31.7 500.7 26.8 498.1 21.2 501.2 20.9 503.7 20.9 508.9 21.2 511 25.2 513.3 30.2 515.4 35.2 517 39.2 518.5 43.7 519.9 48.2 521.4 53.7 522.5 58.2 524 65.7 525.3 74.2 526.1 81.2 526.9 90.7 527.3 99.2 527.5 106.7 527.9 137.2 528.2 150.2 529 164.2 529.7 171.7 530.2 176.4 531.2 183.3 532.2 189 533.2 193.9 534.7 200.3 536.2 205.9 537.7 210.8 540.2 218.1 543 225.2 542.7 225.2Z"/><path fill="rgb(84,84,240)" fill-rule="evenodd" d="M542.7 225.2 540.2 225.5 537.7 225.5 535.2 225.2 534.9 224.7 532.5 220.2 530 215.2 527.4 209.2 525.4 204.2 523.5 198.7 522 193.7 520.5 188.2 519.4 183.7 517.9 176.2 516.5 167.2 515.5 158.7 514.9 151.2 514.4 143.2 514.1 133.7 513.6 102.2 513.2 88.3 512.4 75.7 511.2 65.2 510.2 58.7 509.2 53.5 507.7 47 506.2 41.6 504.7 36.9 502.7 31.4 500.7 26.5 498.3 21.2 501.2 21 503.7 20.9 508.8 21.2 510.9 25.2 513 29.7 514.9 34.2 516.9 39.2 518.4 43.7 520 48.7 521.4 54.2 522.5 58.7 524 66.2 525 73.2 526 81.7 526.8 91.7 527.4 107.7 527.7 136.7 528.1 150.2 528.7 162.1 529.8 173.7 530.7 180.9 531.7 186.9 533.2 194.4 534.7 200.7 536.2 206.3 538.2 212.7 540.7 219.7 542.9 225.2 542.7 225.2Z"/><path fill="rgb(90,90,238)" fill-rule="evenodd" d="M542.7 225.2 540.2 225.5 537.7 225.5 535.2 225.2 535 224.7 532.3 219.7 529.9 214.7 527.9 210.2 525.9 205.2 524 199.7 522.4 194.7 520.9 189.2 519.4 183.2 517.9 175.2 516.6 166.7 515.6 158.2 514.9 150.2 514.5 141.7 514.2 132.7 513.7 101.7 513.4 90.7 512.7 78 511.7 68.1 510.7 61 509.7 55.4 508.2 48.6 506.7 42.9 505.2 38.1 503.2 32.4 500.7 26.2 498.4 21.2 501.2 21 503.7 20.9 508.7 21.2 511 25.7 512.9 29.7 515 34.7 516.9 39.7 518.5 44.2 520 49.2 521.4 54.7 522.5 59.2 523.9 66.7 525 73.7 525.9 81.7 526.6 90.2 527 98.2 527.3 107.2 527.6 138.2 527.9 149.7 528.7 163.7 529.7 174.2 530.7 181.6 531.7 187.6 533.2 194.9 534.7 201.2 536.2 206.6 538.2 213 540.2 218.6 542.8 225.2 542.7 225.2Z"/><path fill="rgb(96,96,237)" fill-rule="evenodd" d="M542.7 225.2 539.2 225.5 535.3 225.2 534.5 223.7 531.9 218.7 529.5 213.7 527.4 208.7 525.5 203.7 523.4 197.7 521.9 192.7 520.5 187.2 519.5 182.7 517.9 174.7 516.5 165.7 515.6 157.2 515 149.7 514.6 141.7 514.3 133.7 513.9 102.2 513.6 91.2 513.2 83.4 512.8 77.7 511.7 67.1 510.7 60.3 509.7 54.8 508.2 48.1 506.7 42.5 505.2 37.7 503.2 32.1 501.2 27.2 498.5 21.2 503.7 20.9 508.6 21.2 510.9 25.7 513 30.2 514.9 34.7 517 40.2 518.5 44.7 520 49.7 521.5 55.2 522.5 59.7 523.9 67.2 524.9 74.2 525.9 82.7 526.5 90.7 526.9 98.2 527.1 106.2 527.5 137.7 527.8 149.7 528.2 158 528.6 164.2 529.7 175.2 530.7 182.3 531.7 188.1 533.2 195.4 534.7 201.5 536.2 206.9 538.2 213.3 540.2 218.9 542.7 225.2Z"/><path fill="rgb(102,102,236)" fill-rule="evenodd" d="M542.2 225.3 538.7 225.5 535.4 225.2 533.5 221.7 531 216.7 529 212.2 526.9 207.2 525.4 203.2 523.5 197.7 522 192.7 520.5 186.7 519.5 182.2 518 174.7 516.9 167.2 515.9 158.7 515.1 149.2 514.4 133.2 514 103.2 513.7 91.1 512.9 77.7 511.7 66.2 510.7 59.6 509.7 54.2 508.2 47.7 506.7 42.2 505.2 37.4 503.2 31.8 500.7 25.8 498.6 21.2 503.7 20.9 508.5 21.2 510.5 25.2 512.9 30.2 515 35.2 516.5 39.2 518.4 44.7 519.9 49.7 521.3 55.2 522.4 59.7 523.9 67.7 524.9 74.7 525.8 83.2 526.4 90.7 526.8 99.2 527 106.7 527.4 136.7 527.7 149.9 528.5 164.2 529.7 176.1 530.7 183 531.7 188.7 532.7 193.6 534.2 200 536.2 207.3 538.2 213.5 540.2 219.1 542.6 225.2 542.2 225.3Z"/><path fill="rgb(108,108,234)" fill-rule="evenodd" d="M542.2 225.3 538.7 225.5 535.5 225.2 533.9 222.2 531.4 217.2 529.5 213.2 527.4 208.2 525.5 203.2 523.5 197.2 522 192.2 520.5 186.2 519.5 181.7 518 173.7 516.9 166.7 516 158.7 515.3 150.7 514.9 142.7 514.6 133.7 514.1 102.2 513.7 88.7 512.9 76.2 511.7 65.4 510.7 59 509.7 53.7 508.2 47.3 506.7 41.8 505.2 37.1 503.2 31.6 501.2 26.7 498.7 21.2 503.7 20.9 508.4 21.2 510.5 25.2 512.6 29.7 514.5 34.2 516.4 39.2 518.5 45.2 519.9 50.2 521.4 55.7 522.4 60.2 523.8 68.2 524.9 75.7 525.8 84.2 526.3 91.7 526.9 107.2 527.2 136.2 527.6 149.2 528.2 161.5 529.2 172.7 530.2 180.4 531.2 186.5 532.2 191.7 533.7 198.4 535.2 204.1 536.7 209.2 539.2 216.6 542.6 225.2 542.2 225.3Z"/><path fill="rgb(114,114,233)" fill-rule="evenodd" d="M542.2 225.2 539.2 225.5 535.6 225.2 534.5 223.2 532.4 219.2 530 214.2 527.9 209.2 526 204.2 524.1 198.7 522.5 193.7 521.1 188.2 519.9 183.2 518.4 175.7 517 166.7 516.1 158.2 515.4 150.7 515 142.2 514.7 132.7 514.2 101.7 513.9 90.7 513.2 78.4 512.2 68.2 511.2 61.3 510.2 55.7 508.7 48.8 507.2 43.2 505.2 36.8 503.2 31.3 501.2 26.5 498.8 21.2 503.7 20.9 508.3 21.2 510.8 26.2 512.9 30.7 515 35.7 516.5 39.7 517.9 43.7 519.4 48.7 520.9 54.2 522 59.2 523.4 66.2 524.5 73.2 525.4 81.2 526.1 89.7 526.5 97.7 526.8 106.7 527.2 137.7 527.5 149.7 528.2 163 529.2 173.6 530.2 181.1 531.2 187.1 532.2 192.2 533.7 198.7 535.2 204.4 537.2 211 539.7 218.2 542.5 225.2 542.2 225.2Z"/><path fill="rgb(120,120,231)" fill-rule="evenodd" d="M542.2 225.2 539.2 225.5 535.6 225.2 534 222.2 531.5 217.2 529.5 212.7 527.4 207.7 525.5 202.7 524 198.2 522.5 193.2 521 187.7 519.9 182.7 518.4 175.2 517.1 166.2 516.1 157.7 515.5 150.2 515.1 142.2 514.8 134.2 514.4 102.2 514 91.2 513.7 84 513.3 77.7 512.2 67.5 511.2 60.7 510.2 55.2 508.7 48.4 507.2 42.8 505.7 38 503.7 32.4 501.2 26.2 498.9 21.2 503.7 20.9 508.2 21.2 510.5 25.7 512.4 29.7 514.5 34.7 516.4 39.7 518 44.2 519.5 49.2 520.9 54.7 522 59.2 523.4 66.7 524.4 73.7 525.4 82.2 526 90.2 526.4 97.7 526.7 105.7 527 137.2 527.3 149.2 527.7 157 528.2 163.7 529.2 174.5 530.2 181.7 531.2 187.6 532.7 194.9 534.2 201.1 535.7 206.5 537.2 211.3 539.7 218.4 542.4 225.2 542.2 225.2Z"/><path fill="rgb(126,126,230)" fill-rule="evenodd" d="M542.2 225.2 539.2 225.5 535.7 225.2 534.4 222.7 531.8 217.7 530 213.7 527.9 208.7 526 203.7 523.9 197.7 522.4 192.7 521 187.2 520 182.7 518.5 175.2 517.4 167.7 516.4 159.2 515.6 149.7 515.2 141.2 514.9 133.2 514.5 103.7 514.2 91.7 513.4 78.2 512.2 66.7 511.2 60.1 510.2 54.7 508.7 48 507.2 42.5 505.7 37.7 503.7 32.1 501.7 27.2 498.9 21.2 503.7 20.9 508.1 21.2 510.4 25.7 512.5 30.2 514.4 34.7 516.3 39.7 518 44.7 519.5 49.7 520.9 55.2 522 59.7 523.4 67.2 524.5 74.7 525.4 83.2 525.9 90.7 526.6 106.2 526.9 136.7 527.2 149.2 528.1 163.7 529.2 175.3 530.2 182.3 531.2 188.1 532.7 195.3 534.2 201.4 535.7 206.7 537.7 213 539.7 218.6 542.4 225.2 542.2 225.2Z"/><path fill="rgb(132,132,228)" fill-rule="evenodd" d="M542.2 225.2 539.2 225.5 535.8 225.2 533.9 221.7 531.4 216.7 529.4 212.2 527.4 207.2 525.5 202.2 523.9 197.2 522.4 192.2 521 186.7 520 182.2 518.5 174.2 517.4 167.2 516.5 159.2 515.8 151.2 515.3 143.2 515 133.7 514.6 102.7 514.2 89.6 513.4 76.7 512.2 66 511.2 59.5 510.2 54.2 508.7 47.7 507.2 42.2 505.7 37.4 503.7 31.9 501.2 25.8 499 21.2 503.7 20.9 508 21.2 510.3 25.7 512.4 30.2 514.6 35.2 516.4 40.2 517.9 44.7 519.4 49.7 520.9 55.2 522 60.2 523.4 68.2 524.4 75.2 525.3 83.7 525.8 90.7 526.5 106.7 526.8 136.7 527.2 150.8 528 164.7 529.2 176 530.2 182.9 531.2 188.6 532.7 195.7 534.2 201.7 535.7 207 537.7 213.3 539.7 218.8 542.3 225.2 542.2 225.2Z"/><path fill="rgb(139,139,227)" fill-rule="evenodd" d="M542.2 225.2 539.2 225.5 535.9 225.2 533.5 220.7 531.1 215.7 529.1 211.2 527.4 207.2 525.4 201.7 523.9 197.2 522.5 192.2 521 186.2 520 181.7 518.5 173.7 517.4 166.7 516.5 158.7 515.9 150.7 515.4 142.7 515.1 133.2 514.7 103.1 514.3 90.7 513.7 79.4 512.6 68.2 511.7 61.9 510.7 56.2 509.2 49.3 507.7 43.6 505.7 37.2 503.7 31.7 501.7 26.8 499.1 21.2 503.7 20.9 507.9 21.2 510 25.2 512.4 30.2 514.5 35.2 516 39.2 517.9 44.7 519.3 49.7 520.5 54.2 521.9 60.2 523 66.2 524.1 73.2 524.9 80.7 525.6 89.2 526 96.7 526.4 106.2 526.7 137.2 527.1 151.7 527.9 164.7 529.2 176.7 530.2 183.4 531.2 189 532.7 196 534.2 202 535.7 207.3 537.7 213.5 539.7 219 542.2 225.2Z"/><path fill="rgb(145,145,225)" fill-rule="evenodd" d="M541.7 225.3 538.7 225.5 535.9 225.2 533 219.7 530.9 215.2 528.9 210.7 526.9 205.7 525.3 201.2 523.9 196.7 522.4 191.7 521 186.2 519.9 181.2 518.5 173.2 517.5 166.2 516.5 157.7 515.9 149.7 515.5 142.2 515.2 134.2 514.8 102.7 514.5 91.7 513.7 78.2 512.7 68.4 511.7 61.4 510.7 55.8 509.2 49 507.7 43.3 506.2 38.4 504.2 32.7 501.7 26.6 499.2 21.2 503.7 20.9 507.9 21.2 510.4 26.2 512.5 30.7 514.4 35.2 516.4 40.7 517.9 45.2 519.4 50.2 520.9 56.2 521.9 60.7 523 66.7 524 73.7 524.9 81.7 525.6 90.2 526 98.2 526.3 107.2 526.6 137.2 527 149.2 527.7 162.9 528.7 173.4 529.7 180.8 530.7 186.8 531.7 191.9 533.2 198.5 535.2 205.9 537.2 212.2 539.7 219.2 542.2 225.2 541.7 225.3Z"/><path fill="rgb(151,151,224)" fill-rule="evenodd" d="M541.7 225.3 538.7 225.5 536 225.2 532.9 219.2 529 210.7 527 205.7 525.4 201.2 524 196.7 522.4 191.2 521 185.7 520 181.2 518.5 172.7 517.5 165.7 516.6 157.2 516 149.7 515.6 141.7 515.3 133.7 514.9 103.2 514.6 91.7 514.2 83.8 513.8 78.2 512.7 67.6 511.7 60.8 510.7 55.3 509.2 48.6 507.7 43 505.7 36.7 503.7 31.2 501.7 26.4 499.3 21.2 503.7 20.9 507.8 21.2 510.3 26.2 512.4 30.7 514.5 35.7 516 39.7 517.5 44.2 519 49.2 520.5 54.7 521.5 59.2 522.9 66.7 524 73.7 524.9 82.2 525.5 90.2 525.9 97.7 526.1 105.7 526.5 136.7 526.8 148.7 527.2 156.7 527.6 163.2 528.7 174.1 529.7 181.4 530.7 187.3 531.7 192.3 533.2 198.8 535.2 206.1 537.2 212.4 539.7 219.3 542.1 225.2 541.7 225.3Z"/><path fill="rgb(157,157,223)" fill-rule="evenodd" d="M541.7 225.3 538.7 225.5 536 225.2 533.4 220.2 531 215.2 528.9 210.2 526.9 205.2 525.5 201.2 523.9 196.2 522.5 191.2 520.3 182.2 519 175.2 517.8 167.7 516.9 159.2 516.1 149.7 515.4 133.7 515 103.7 514.7 91.7 513.9 78.2 512.7 66.9 511.7 60.3 510.7 54.9 509.2 48.3 507.7 42.7 506.2 37.9 504.2 32.3 501.7 26.2 499.4 21.2 503.7 20.9 507.7 21.2 510 25.7 511.9 29.7 514 34.7 515.9 39.7 517.4 44.2 518.9 49.2 520.4 54.7 521.5 59.7 522.9 67.2 523.9 74.2 524.9 82.7 525.4 90.2 525.8 98.2 526.1 106.2 526.4 136.2 526.7 148.7 527.6 163.2 528.7 174.8 529.7 181.9 530.7 187.7 531.7 192.7 533.2 199.1 534.7 204.7 536.7 211.1 539.2 218.2 542 225.2 541.7 225.3Z"/><path fill="rgb(163,163,221)" fill-rule="evenodd" d="M541.7 225.2 539.2 225.5 536.1 225.2 533.5 220.2 531.3 215.7 529.4 211.2 525.9 202.2 524.4 197.7 523 192.7 521.5 187.2 520.4 182.2 519 174.7 517.9 167.7 517 159.7 516.3 151.7 515.9 143.7 515.5 134.2 515.1 103.2 514.7 89.8 513.9 77.2 512.7 66.3 511.7 59.8 510.7 54.5 509.2 47.9 507.7 42.4 506.2 37.7 504.2 32.1 502.2 27.2 499.4 21.2 503.7 20.9 507.6 21.2 509.9 25.7 512 30.2 513.9 34.7 515.8 39.7 517.5 44.7 519 49.7 520.4 55.2 521.4 59.7 522.9 67.7 523.9 74.7 524.8 83.2 525.4 90.7 526 106.2 526.3 136.2 526.7 150 527.5 163.7 528.7 175.5 529.7 182.4 530.7 188.1 532.2 195.3 533.7 201.3 535.2 206.6 536.7 211.4 539.2 218.4 542 225.2 541.7 225.2Z"/><path fill="rgb(169,169,220)" fill-rule="evenodd" d="M541.7 225.2 539.2 225.4 536.2 225.2 533.1 219.2 531 214.7 529 210.2 527.4 206.2 525.5 200.7 523.9 195.7 522.5 190.7 520.4 181.7 519 174.2 517.9 167.2 517 158.7 516.3 150.7 515.9 142.7 515.6 133.7 515.2 103.7 514.8 90.2 514.1 78.7 513.7 73.7 512.8 66.7 511.7 59.3 510.7 54.1 509.2 47.6 507.7 42.2 506.2 37.4 504.2 31.9 501.7 25.9 499.5 21.2 503.7 20.9 507.6 21.2 509.9 25.7 512 30.2 514.1 35.2 515.9 40.2 517.4 44.7 518.9 49.7 520.3 55.2 521.5 60.2 522.9 68.2 523.9 75.2 524.6 81.7 525.3 90.7 525.9 106.2 526.3 136.7 526.7 151.2 527.5 164.7 528.7 176.1 529.7 182.9 530.7 188.5 532.2 195.6 533.7 201.6 535.2 206.8 536.7 211.6 539.2 218.5 541.9 225.2 541.7 225.2Z"/><path fill="rgb(178,178,218)" fill-rule="evenodd" d="M541.7 225.2 539.2 225.4 536.2 225.2 532.9 218.7 531 214.7 528.9 209.7 527 204.7 525.4 200.2 522.8 191.7 521.5 186.2 520.5 181.7 519 173.7 518 166.7 517 158.2 516.4 150.2 516 142.7 515.7 134.7 515.3 102.7 515 91.7 514.2 78.7 513.2 68.8 512.2 61.8 511.2 56.2 509.7 49.3 508.2 43.6 506.2 37.2 504.2 31.7 501.7 25.7 499.6 21.2 503.7 20.9 507.5 21.2 509.5 25.2 511.9 30.2 514 35.2 515.9 40.2 517.5 45.2 519 50.2 520.4 55.7 521.4 60.2 522.5 66.2 523.5 73.2 524.5 81.2 525.1 89.7 525.5 97.2 525.8 106.7 526.2 137.2 526.5 148.7 527.2 161.9 528.2 172.7 529.2 180.2 530.2 186.2 531.7 193.7 533.2 199.9 534.7 205.4 536.7 211.8 539.2 218.7 541.9 225.2 541.7 225.2Z"/><path fill="rgb(189,189,215)" fill-rule="evenodd" d="M541.7 225.2 539.2 225.4 536.3 225.2 533 218.7 530.9 214.2 529 209.7 527.5 205.7 525.5 200.2 522.8 191.2 521.5 185.7 520.5 181.2 519 172.7 518 165.7 517.1 157.2 516.5 149.7 515.9 133.7 515.4 103.7 515.1 92.2 514.3 78.7 513.2 67.6 512.2 60.9 511.2 55.4 509.7 48.7 508.2 43.1 506.2 36.8 504.2 31.3 502.2 26.5 499.7 21.2 503.7 21 507.4 21.2 509.9 26.2 512 30.7 513.9 35.2 515.6 39.7 517.4 45.2 518.8 50.2 520 54.7 521.3 60.7 522.5 67.2 523.5 74.2 524.4 82.2 525 90.2 525.4 97.7 525.6 105.7 526 136.2 526.3 148.2 526.7 156.7 527.1 162.7 528.2 173.9 529.2 181.1 530.2 187 531.7 194.3 533.2 200.4 534.7 205.8 536.7 212.1 538.7 217.7 541.7 225.2Z"/><path fill="rgb(200,200,212)" fill-rule="evenodd" d="M541.2 225.3 538.7 225.4 536.4 225.2 534.3 221.2 531.9 216.2 528.5 208.2 525.5 199.7 522.8 190.7 521.5 185.2 520.5 180.7 519.4 174.7 518.3 167.2 517.4 159.2 516.8 151.2 516.4 143.7 516 134.2 515.6 103.7 515.2 89.9 514.4 77.2 513.2 66.5 512.2 60 511.2 54.7 509.7 48.2 508.2 42.7 506.7 37.9 504.7 32.3 502.2 26.2 499.9 21.2 503.7 21 507.2 21.2 509.5 25.7 511.4 29.7 513.5 34.7 515.4 39.7 516.9 44.2 518.4 49.2 519.9 54.7 521 59.7 522.4 67.2 523.4 74.2 524.3 82.7 524.8 90.2 525.5 105.7 525.9 136.2 526.2 149.4 527 163.2 528.2 175 529.2 182 530.2 187.7 531.2 192.6 532.7 199 534.7 206.2 536.7 212.4 539.2 219.2 541.7 225.2 541.2 225.3Z"/><path fill="rgb(210,208,208)" fill-rule="evenodd" d="M541.2 225.3 538.7 225.4 536.5 225.2 532.5 217.2 529 209.2 525.9 200.7 524.4 195.7 523 190.7 520.9 181.7 519.5 174.2 518.5 167.2 517.5 158.7 516.9 150.7 516.4 142.2 516.2 133.2 515.7 103.2 515.4 92.2 514.7 79.3 513.7 69.2 512.7 62.2 511.7 56.5 510.2 49.7 508.7 43.9 506.7 37.5 504.7 32 502.7 27.1 500 21.2 502.7 21 505.2 21 507.1 21.2 507.4 21.7 509.9 26.7 511.9 31.2 514 36.2 515.5 40.2 517 44.7 518.4 49.7 519.9 55.2 521 60.2 522.4 68.2 523.3 74.7 524 81.2 524.6 89.2 525 96.7 525.3 105.7 525.7 136.2 526.1 150.2 526.8 162.2 527.2 167.2 528 174.7 529.2 182.8 530.2 188.4 531.2 193.2 532.7 199.5 534.7 206.6 536.7 212.8 539.2 219.5 541.6 225.2 541.2 225.3Z"/><path fill="rgb(213,197,197)" fill-rule="evenodd" d="M541.2 225.2 538.7 225.4 536.6 225.2 532.4 216.7 529 208.7 525.9 200.2 524.5 195.7 523 190.2 520.9 181.2 519.5 173.2 518.5 166.2 517.6 157.7 517 150.2 516.6 142.2 516.3 134.2 515.9 103.7 515.6 92.2 515.2 84.4 514.8 78.7 513.7 68.2 512.7 61.4 511.7 55.9 510.2 49.1 508.7 43.5 506.7 37.1 504.7 31.6 502.7 26.8 500.1 21.2 503.7 21 507 21.2 507.5 22.2 510 27.2 512 31.7 513.9 36.2 515.5 40.7 517 45.2 518.5 50.2 519.8 55.7 520.9 60.7 522 66.7 523 73.7 523.9 81.7 524.6 90.2 525.2 105.2 525.6 136.2 525.9 148.2 526.7 162.2 527.7 173 528.7 180.4 529.7 186.4 531.2 193.7 532.7 199.9 534.2 205.3 536.2 211.6 538.7 218.5 541.5 225.2 541.2 225.2Z"/><path fill="rgb(216,185,185)" fill-rule="evenodd" d="M541.2 225.2 539.2 225.4 536.7 225.2 534.4 220.7 532 215.7 528.5 207.2 525.5 198.7 523 189.7 520.9 180.7 519.5 172.7 518.5 165.2 517.8 158.7 517.1 149.7 516.5 133.7 516.1 104.2 515.7 91.5 514.9 78.2 513.7 67.2 512.7 60.6 511.7 55.3 510.2 48.6 508.7 43.1 506.7 36.8 504.7 31.3 502.7 26.5 500.2 21.2 503.7 21 506.9 21.2 507.9 23.2 509.9 27.2 511.9 31.7 513.9 36.7 515.4 40.7 517 45.7 518.5 50.7 519.8 56.2 520.9 61.2 522 67.2 523 74.7 523.9 82.7 524.4 90.2 525 105.7 525.4 135.2 525.7 147.7 526.5 161.7 527.7 174 528.7 181.2 529.7 187 531.2 194.2 532.7 200.3 534.2 205.7 536.2 211.9 538.7 218.7 541.4 225.2 541.2 225.2Z"/><path fill="rgb(219,174,174)" fill-rule="evenodd" d="M541.2 225.2 539.2 225.4 536.8 225.2 534.5 220.7 532.4 216.2 529 208.2 526 199.7 523.3 190.7 522 185.2 521.1 180.7 519.9 174.2 518.9 167.2 518 159.2 517.3 151.2 516.9 143.2 516.6 134.2 516.2 104.2 515.8 91.2 515.1 79.7 514.7 74.7 513.9 67.7 512.7 59.9 511.7 54.7 510.2 48.1 508.7 42.7 506.7 36.4 504.7 31 502.7 26.3 500.3 21.2 503.7 21 506.8 21.2 507.6 22.7 510 27.7 512 32.2 513.8 36.7 515.5 41.2 516.9 45.7 518.4 50.7 519.5 55.2 520.6 60.2 521.9 67.7 522.9 74.7 523.8 83.2 524.3 90.2 524.9 105.7 525.3 136.2 525.7 150.2 526.5 163.7 527.7 175 528.7 181.9 529.7 187.6 531.2 194.7 532.7 200.7 534.2 206 536.2 212.2 538.7 219 541.3 225.2 541.2 225.2Z"/><path fill="rgb(221,162,162)" fill-rule="evenodd" d="M541.2 225.2 539.2 225.4 536.9 225.2 534.6 220.7 532.4 216.2 528.9 207.7 525.9 199.2 523.5 190.7 521.4 181.7 520 174.2 518.9 166.7 518.1 158.7 517.4 150.7 516.8 135.2 516.3 103.7 516 92.7 515.2 79.2 514.2 69.1 513.2 62.1 512.2 56.6 510.7 49.7 509.2 44 507.2 37.6 505.2 32 503.2 27.1 500.4 21.2 503.7 21 506.7 21.2 507.4 22.7 509.4 26.7 511.5 31.2 513.3 35.7 515 40.2 516.5 44.7 518 49.7 519.4 55.2 520.5 60.2 521.6 66.2 522.6 73.2 523.4 80.7 524.1 88.7 524.5 96.2 524.8 105.2 525.2 137.2 525.6 150.2 526.3 162.7 526.9 168.7 527.7 175.7 528.7 182.6 529.7 188.2 531.2 195.2 532.7 201.1 534.7 208 536.7 213.9 538.7 219.2 541.2 225.2Z"/><path fill="rgb(224,151,151)" fill-rule="evenodd" d="M540.7 225.3 538.7 225.4 537 225.2 534.4 220.2 531.9 214.7 528.4 206.2 525.9 198.7 523.4 190.2 521.4 181.2 520 173.7 519 166.2 518.1 157.7 517.5 150.2 516.9 134.2 516.5 104.7 516.1 92.7 515.3 79.2 514.2 68.2 513.2 61.4 512.2 56 510.7 49.2 509.2 43.6 507.2 37.2 505.2 31.7 502.7 25.8 500.6 21.2 503.7 21 506.5 21.2 507.9 23.7 510 28.2 512 32.7 514 37.7 515.4 41.7 517 46.7 518.4 51.7 520.4 60.7 521.5 66.7 522.5 73.7 523.4 81.7 524 89.7 524.4 97.2 524.6 105.2 525 135.7 525.3 147.7 526.1 161.7 527.2 172.8 528.2 180.1 529.2 186.1 530.7 193.5 532.2 199.6 534.2 206.7 536.2 212.7 538.7 219.4 541.1 225.2 540.7 225.3Z"/><path fill="rgb(227,140,140)" fill-rule="evenodd" d="M540.7 225.3 538.7 225.4 537.1 225.2 534 219.2 531.5 213.7 528.3 205.7 525.5 197.2 523.4 189.7 521.4 180.7 520 172.7 519 165.7 518.3 158.7 517.6 149.7 517 134.2 516.6 104.2 516.2 91.2 515.4 78.2 514.2 67.3 513.2 60.8 512.2 55.4 510.7 48.8 509.2 43.2 507.2 36.9 505.2 31.5 503.2 26.7 500.7 21.2 503.7 21 506.4 21.2 508.5 25.2 510.4 29.2 512.3 33.7 515.5 42.2 517 47.2 518.4 52.2 520.4 61.2 521.5 67.2 522.6 74.7 523.4 82.7 523.9 90.2 524.5 105.7 524.9 135.2 525.2 147.7 526 161.7 527.2 173.7 528.2 180.8 529.2 186.7 530.7 193.9 532.2 200 534.2 207 536.2 213 538.7 219.6 541.1 225.2 540.7 225.3Z"/><path fill="rgb(229,128,128)" fill-rule="evenodd" d="M540.7 225.2 538.7 225.4 537.1 225.2 534.4 219.7 531.4 213.2 528.4 205.7 525.4 196.7 523.4 189.2 521.4 180.2 520.3 174.2 519.3 167.2 518.5 159.2 517.8 151.2 517.4 143.2 517.1 134.2 516.7 103.9 516.3 91.7 515.7 80.2 515.2 74.9 514.4 68.2 513.2 60.2 512.2 54.9 510.7 48.4 509.2 42.9 507.2 36.6 505.2 31.2 503.2 26.4 500.8 21.2 503.7 21 506.3 21.2 508.9 26.2 512.4 34.2 514.3 39.2 515.9 43.7 518.4 52.7 520.4 61.7 521.5 68.2 522.5 75.2 523.3 83.2 523.8 90.7 524.4 105.7 524.8 135.2 525.2 149.2 526 162.7 527.2 174.5 528.2 181.5 529.2 187.2 530.7 194.4 532.2 200.4 533.7 205.7 535.7 211.8 538.2 218.6 541 225.2 540.7 225.2Z"/><path fill="rgb(232,117,117)" fill-rule="evenodd" d="M540.7 225.2 539.2 225.3 537.2 225.2 534.4 219.7 531.5 213.2 528.4 205.2 525.6 196.7 523.4 188.7 521.5 180.2 520.4 173.7 519.4 166.7 518.5 158.7 517.9 150.7 517.3 135.2 516.8 104.2 516.5 92.7 515.7 79.7 514.7 69.4 513.7 62.4 512.7 56.8 511.2 50 509.7 44.2 507.7 37.8 505.7 32.2 503.2 26.2 500.9 21.2 503.7 21 506.2 21.2 509 26.7 511.1 31.2 512.9 35.7 515.9 44.2 518.5 53.2 520.3 61.7 521.4 68.2 522.4 75.2 523.1 81.7 523.6 89.2 524 96.7 524.3 105.2 524.7 136.7 525.1 149.2 525.8 161.7 526.3 167.7 527.1 174.7 528.2 182.1 529.2 187.7 530.7 194.8 532.2 200.7 533.7 206 535.7 212.1 538.2 218.8 540.9 225.2 540.7 225.2Z"/><path fill="rgb(235,105,105)" fill-rule="evenodd" d="M540.7 225.2 539.2 225.3 537.3 225.2 534 218.7 531.4 212.7 528.4 205.2 525.5 196.2 523.4 188.2 521.5 179.7 520.4 173.2 519.4 166.2 518.6 157.7 518 150.2 517.4 134.7 516.9 104.7 516.6 93.2 515.9 79.7 514.7 68.5 513.7 61.8 512.7 56.3 511.2 49.5 509.7 43.9 507.7 37.5 505.7 32 503.7 27.1 501 21.2 503.7 21 506.1 21.2 508.4 25.7 512 33.7 513.9 38.7 515.3 42.7 516.9 47.7 518 51.7 520 60.7 521.1 66.7 522.1 73.7 522.9 81.7 523.5 89.7 524.1 104.7 524.6 135.7 524.9 147.7 525.7 161.7 526.8 173.2 527.7 179.6 528.7 185.6 530.2 193 531.7 199.2 533.7 206.3 535.7 212.3 538.2 219 540.8 225.2 540.7 225.2Z"/><path fill="rgb(237,94,94)" fill-rule="evenodd" d="M540.7 225.2 539.2 225.3 537.4 225.2 534.4 219.2 531.5 212.7 528.5 205.2 525.9 197.2 523.6 188.7 521.8 180.7 520.5 173.2 519.5 166.2 518.8 159.2 518.1 150.2 517.5 134.7 517.1 104.7 516.7 91.8 515.9 78.7 514.7 67.7 513.7 61.2 512.7 55.8 511.2 49.1 509.7 43.5 507.7 37.2 505.7 31.7 503.2 25.7 501.1 21.2 503.7 21 506 21.2 508.8 26.7 512.3 34.7 515.4 43.2 518 52.2 520 61.2 521.1 67.2 522 74.2 522.9 82.2 523.4 89.7 524 105.2 524.4 134.7 524.7 147.2 525.5 161.2 526.7 173 527.7 180.2 528.7 186.1 530.2 193.5 531.7 199.6 533.7 206.5 535.7 212.6 537.7 217.9 540.7 225.2Z"/><path fill="rgb(240,83,83)" fill-rule="evenodd" d="M540.2 225.3 538.7 225.3 537.4 225.2 534 218.2 530.9 211.2 527.9 203.2 525.5 195.7 523.4 187.7 521.8 180.2 520.5 172.7 519.6 165.7 518.9 158.7 518.3 151.2 517.9 143.7 517.6 134.7 517.2 104.7 516.8 91.7 516.1 79.7 514.9 68.2 513.7 60.7 512.7 55.3 511.2 48.7 509.7 43.2 507.7 36.9 505.7 31.5 503.7 26.6 501.2 21.2 503.7 21.1 506 21.2 509 27.2 512.4 35.2 515.5 43.7 517.9 52.2 519.9 61.2 521 67.7 522 74.7 522.8 82.7 523.4 90.2 523.9 105.2 524.3 135.2 524.7 148.7 525.5 162.2 526.7 173.8 527.7 180.9 528.7 186.6 530.2 193.9 531.6 199.7 533.7 206.7 535.7 212.7 538.1 219.2 540.7 225.2 540.2 225.3Z"/><path fill="rgb(243,71,71)" fill-rule="evenodd" d="M540.2 225.3 538.7 225.3 537.5 225.2 534.1 218.2 531 211.2 528.4 204.2 525.9 196.7 523.9 189.2 521.9 180.2 520.9 174.2 519.8 166.7 519 158.7 518.4 150.7 517.7 135.2 517.3 104.2 517 92.7 516.2 79.9 515.1 69.2 514.2 62.7 512.7 54.8 511.2 48.3 509.8 43.2 508.2 38.1 506.2 32.5 503.7 26.4 501.3 21.2 503.7 21.1 505.9 21.2 509.3 28.2 512.5 35.7 515.5 44.2 517.9 52.7 519.9 61.7 521 68.2 522 75.2 522.7 82.2 523.2 90.2 523.8 105.2 524.2 135.2 524.6 148.7 525.4 161.7 526.7 174.2 527.7 181.5 528.7 187.1 530.2 194.2 531.7 200.2 533.7 207.1 535.7 213.1 538 219.2 540.6 225.2 540.2 225.3Z"/><path fill="rgb(246,60,60)" fill-rule="evenodd" d="M540.2 225.2 538.7 225.3 537.6 225.2 534.1 218.2 530.9 210.7 527.9 202.7 525.6 195.2 523.5 187.2 521.9 179.7 520.9 173.7 519.8 166.2 519.1 158.7 518.5 150.7 517.8 135.2 517.4 104.7 517.1 93.2 516.3 80.2 515.2 69.2 514.2 62.3 513.2 56.8 511.7 50 510.2 44.3 508.2 37.8 506.2 32.3 503.7 26.2 501.4 21.2 503.7 21.1 505.8 21.2 509.5 28.7 512.8 36.7 515.4 44.2 517.8 52.7 519.8 61.7 520.9 68.2 521.9 75.2 522.6 82.2 523.1 89.7 523.7 105.2 524.1 135.7 524.5 148.2 525.2 160.9 525.7 166.7 526.5 173.7 527.6 181.2 528.7 187.6 530.2 194.7 531.6 200.2 533.2 205.7 535.1 211.7 537.6 218.2 540.5 225.2 540.2 225.2Z"/><path fill="rgb(248,48,48)" fill-rule="evenodd" d="M540.2 225.2 538.7 225.3 537.7 225.2 534 217.7 531 210.7 528.4 203.7 526 196.2 523.8 188.2 522 179.7 520.9 173.2 519.9 166.2 519.1 158.2 518.6 150.7 517.9 135.2 517.5 105.2 517.2 93.2 516.4 80.2 515.2 68.7 514.2 61.7 513.2 56.3 511.7 49.7 510.2 43.9 508.3 37.7 506.3 32.2 503.8 26.2 501.4 21.2 503.7 21.1 505.7 21.2 508 25.7 509.8 29.7 512.9 37.2 515.8 45.7 518 53.7 519.8 62.2 520.9 68.7 521.8 75.7 522.5 82.2 523 89.7 523.6 104.7 524 134.7 524.3 147.2 525.1 160.7 526.3 172.7 527.2 179.5 528.2 185.7 529.7 192.7 531.2 199.1 532.7 204.4 534.7 210.7 537.5 218.2 540.5 225.2 540.2 225.2Z"/><path fill="rgb(251,37,37)" fill-rule="evenodd" d="M540.2 225.2 539.2 225.3 537.8 225.2 534.1 217.7 530.7 209.7 527.9 202.2 525.6 194.7 523.6 186.7 522 179.2 520.9 172.7 520 165.7 519.3 158.7 518.6 150.2 518 134.7 517.6 105.2 517.3 92.7 516.5 80.2 515.3 68.7 514.3 61.7 513.2 55.8 511.7 49.2 510.2 43.6 508.4 37.7 506.4 32.2 503.9 26.2 501.5 21.2 503.7 21.1 505.6 21.2 507.9 25.7 509.7 29.7 512.8 37.2 515.4 44.7 517.8 53.2 519.5 61.2 520.6 67.2 521.5 74.2 522.3 81.7 522.9 89.7 523.5 104.7 523.9 134.7 524.2 147.2 525 160.7 526.2 172.9 527.1 179.7 528.2 186 529.7 193.2 531.2 199.4 533 205.7 535 211.7 537.6 218.7 540.4 225.2 540.2 225.2Z"/><path fill="rgb(254,26,26)" fill-rule="evenodd" d="M540.2 225.2 537.8 225.2 534.2 217.7 530.7 209.5 528 202.2 525.6 194.2 523.6 186.2 522.1 179.2 521 172.7 520.1 165.7 519.4 158.7 518.8 150.7 518.4 143.2 518.1 134.7 517.7 104.7 517.4 92.7 516.7 80.7 515.5 69.2 514.5 62.2 513.3 55.7 511.8 49.2 510.3 43.7 508.4 37.7 506.5 32.2 504.2 26.7 501.6 21.2 503.7 21.1 505.5 21.2 507.8 25.7 509.9 30.2 512.9 37.7 515.5 45.2 517.5 52.7 519.4 61.2 520.5 67.7 521.5 74.7 522.3 82.2 522.8 89.7 523.4 104.7 523.8 134.7 524.2 148.2 525 161.7 526.2 173.6 527.2 180.6 528.5 188.2 529.9 194.7 531.5 200.7 533.1 206.2 535.1 212.2 537.1 217.7 540.3 225.2 540.2 225.2Z"/><path fill="rgb(251,19,19)" fill-rule="evenodd" d="M540.2 225.2 537.9 225.2 534.2 217.6 531 210.2 528.6 203.7 526.1 195.7 524 187.7 522.3 179.7 521.1 172.7 520.2 166.2 519.5 158.7 518.9 150.7 518.3 135.2 517.8 105.2 517.5 93.2 516.7 80.2 515.6 69.2 514.7 62.7 513.4 55.7 511.9 49.2 510.4 43.7 508.4 37.2 506.4 31.7 504.3 26.7 501.7 21.2 503.7 21.1 505.4 21.2 507.7 25.7 510.2 31.2 513 38.2 515.5 45.7 517.7 53.7 519.4 61.7 520.4 67.7 521.4 74.7 522.1 81.7 522.7 89.7 523.3 104.7 523.7 135.2 524.1 148.2 524.9 161.7 526.1 173.7 527.2 181.2 528.4 188.2 530 195.2 531.5 201.2 533.5 207.7 535.5 213.7 537.4 218.7 540.2 225.2Z"/><path fill="rgb(244,18,18)" fill-rule="evenodd" d="M539.7 225.2 538 225.2 535.7 220.6 533.7 216.3 530.2 207.8 527.7 200.6 525.6 193.7 523.9 186.7 522.3 179.2 521.2 172.7 520.3 166.2 519.6 158.7 519 150.7 518.4 135.2 517.9 105.2 517.6 93.2 516.8 80.2 515.7 69.2 514.7 62.7 513.5 55.7 512 49.2 510.4 43.2 508.5 37.2 506.5 31.7 504.4 26.7 501.8 21.2 503.7 21.1 505.3 21.2 507.7 25.9 510.2 31.4 513.3 39.2 515.7 46.7 517.7 54.2 519.4 62.2 520.4 68.2 521.4 75.2 522 82.2 522.6 89.7 523.2 104.7 523.6 134.7 523.9 147.2 524.7 160.7 525.9 172.7 527 180.2 528.1 186.7 529.4 193.2 530.9 199.2 532.9 206.2 535.1 212.7 537.6 219.2 540.1 225.2 539.7 225.2Z"/><path fill="rgb(236,17,17)" fill-rule="evenodd" d="M539.7 225.2 538.1 225.2 535.7 220.5 533.7 216.1 530.2 207.6 527.7 200.4 525.7 193.6 523.9 186.7 522.4 179.2 521.3 172.7 520.4 166.2 519.7 158.7 519.1 150.7 518.5 135.2 518.1 105.2 517.7 93.2 516.9 80.2 515.8 69.2 514.8 62.2 513.5 55.7 512.1 49.2 510.5 43.2 508.6 37.2 506.6 31.7 504.5 26.7 501.9 21.2 503.7 21.1 505.2 21.2 507.7 26.2 510.2 31.7 513.2 39.3 515.7 46.9 517.8 54.7 519.3 62.2 520.3 68.2 521.3 75.2 521.9 82.2 522.5 89.7 523.1 104.7 523.5 134.7 523.8 147.2 524.6 160.7 525.8 172.7 526.8 179.7 528 186.7 529.4 193.7 530.9 199.7 532.5 205.2 534.5 211.2 537.1 218.2 540.1 225.2 539.7 225.2Z"/><path fill="rgb(228,16,16)" fill-rule="evenodd" d="M539.7 225.2 538.2 225.2 535.7 220.3 533.7 215.9 530.2 207.3 527.7 200.1 525.7 193.3 524 186.7 522.5 179.2 521.5 173.2 520.5 166.2 519.7 158.2 519.2 150.7 518.6 135.2 518.2 105.2 517.8 93.2 517 80.2 515.9 69.2 514.9 62.7 513.8 56.7 512.4 50.2 510.8 44.2 509 38.2 506.8 32.2 504.4 26.2 502 21.2 505.1 21.2 508.2 27.4 510.7 33 513.3 39.7 515.7 47.2 517.7 54.9 519.2 62.2 520.3 68.7 521.2 75.6 521.8 82.2 522.4 89.7 523 104.7 523.4 134.7 523.7 147.2 524.5 160.7 525.7 172.7 526.8 180.2 528 187.2 529.5 194.2 531 200.2 532.6 205.7 534.5 211.7 537 218.2 540 225.2 539.7 225.2Z"/><path fill="rgb(221,15,15)" fill-rule="evenodd" d="M539.7 225.2 538.7 225.2 538.2 225.1 535.7 220.1 533.7 215.7 530.2 207.1 527.7 199.8 525.7 193 524.1 186.7 522.6 179.2 521.5 173.2 520.6 166.2 519.9 158.7 519.3 150.7 518.7 135.2 518.3 105.7 517.9 93.2 517.1 80.2 516 69.2 515 62.2 513.8 56.2 512.4 49.7 510.8 43.7 508.9 37.7 506.9 32.2 504.5 26.2 502.1 21.2 505 21.2 508.2 27.6 510.7 33.3 513.2 39.8 515.7 47.6 517.7 55.3 519.2 62.6 520.2 68.7 521.1 75.7 521.7 82.2 522.3 89.7 522.9 104.7 523.3 134.7 523.6 147.2 524.4 160.7 525.6 172.7 526.6 179.7 528 187.7 529.5 194.7 530.9 200.2 532.5 205.7 534.4 211.7 536.9 218.2 539.9 225.2 539.7 225.2Z"/><path fill="rgb(213,13,13)" fill-rule="evenodd" d="M539.7 225.2 538.4 225.2 538.2 224.9 534.2 216.6 532.2 212 530.2 206.8 527.7 199.5 525.7 192.6 524.2 186.6 522.7 179.2 521.6 173.2 520.7 166.1 520 159.2 519.4 151.2 518.8 135.2 518.4 105.7 518 93.2 517.3 80.7 516.1 69.2 515 62.2 513.9 56.2 512.5 49.7 510.9 43.7 508.9 37.2 506.9 31.7 504.4 25.7 502.2 21.2 504.9 21.2 508.2 27.8 511.2 34.7 513.7 41.5 515.7 47.9 517.7 55.7 519.2 63.1 520.2 69.3 521.1 76.2 521.7 82.8 522.2 90.1 522.8 104.7 523.1 134.2 523.5 147.2 524.3 160.7 525.5 172.7 526.5 179.7 527.6 186.2 528.9 192.7 530.5 199.2 532.5 206.2 534.5 212.2 537 218.7 539.8 225.2 539.7 225.2Z"/><path fill="rgb(205,12,12)" fill-rule="evenodd" d="M539.2 225.2 538.5 225.2 535.7 219.7 532.2 211.7 529.7 205.2 527.7 199.2 525.7 192.3 524.2 186.2 522.7 178.7 521.7 172.7 520.7 165.2 520.1 158.7 519.5 150.7 518.9 135.2 518.5 105.7 518.2 93.7 517.4 81.2 516.3 70.2 515.3 63.2 514 56.2 512.5 49.2 511 43.7 509 37.2 507 31.7 504.9 26.7 502.4 21.2 504.8 21.2 508.2 28 511.2 35 513.7 41.8 515.7 48.2 517.7 56.1 519.2 63.7 520.2 70 521 76.2 521.7 83.7 522.1 90.2 522.7 105.2 523 134.2 523.4 147.2 524.1 159.7 524.7 165.7 525.4 172.7 526.4 179.7 527.5 186.2 528.9 193.2 530.4 199.2 532.4 206.2 534.4 212.2 537.5 220.2 539.7 225.2 539.2 225.2Z"/><path fill="rgb(198,11,11)" fill-rule="evenodd" d="M539.2 225.2 538.6 225.2 535.2 218.4 532.2 211.5 529.7 204.9 527.7 198.8 525.7 191.9 524.2 185.8 522.7 178.4 521.7 172.2 520.7 164.7 520.2 158.7 519.6 151.2 519 135.7 518.6 105.7 518.3 94.2 517.5 80.7 516.4 69.7 515.3 62.7 514 55.7 512.4 48.7 510.9 43.2 508.9 36.7 506.9 31.2 505 26.7 502.5 21.2 504.7 21.2 508.2 28.3 511.2 35.2 513.7 42.1 515.7 48.6 517.2 54.3 518.7 61.7 519.7 67.3 520.7 74.8 521.3 81.2 521.9 88.7 522.3 95.7 522.5 104.2 522.9 134.7 523.3 147.7 524.1 160.7 525.4 173.2 526.5 180.7 527.5 186.7 529 193.7 530.4 199.7 532 205.2 534 211.2 537 219.2 539.5 225.2 539.2 225.2Z"/><path fill="rgb(190,10,10)" fill-rule="evenodd" d="M539.2 225.2 538.7 225.2 535.2 218.1 532.2 211.2 529.7 204.6 527.7 198.5 525.7 191.5 524.2 185.4 522.7 177.9 521.7 171.6 520.9 165.2 520.2 157.9 519.7 150.6 519.1 135.7 518.7 106.7 518.4 93.7 517.6 80.2 516.5 69.7 515.4 62.7 514.3 56.7 512.9 50.2 511.3 44.2 509.5 38.2 507.4 32.2 504.9 26.2 502.6 21.2 504.5 21.2 508.2 28.5 511.2 35.5 513.7 42.4 515.7 48.9 517.2 54.8 518.7 62 519.7 68 520.7 75.7 521.3 81.7 521.8 89.2 522.4 104.2 522.8 134.2 523.1 145.7 523.9 159.7 525.1 171.2 526 178.2 527 184.7 528.4 191.7 529.9 198.2 531.5 203.7 533.5 210.2 536.4 218.2 538.5 223.2 539.2 224.7 539.3 225.2 539.2 225.2Z"/><path fill="rgb(183,9,9)" fill-rule="evenodd" d="M537.7 222.8 537.5 222.2 537.2 221.9 535.2 217.8 532.7 212.1 530.7 207 528.7 201.3 526.7 194.8 525.2 189.2 523.7 182.6 522.7 177.4 521.7 170.9 520.7 162.3 519.7 149.2 519.2 134.3 518.8 106.2 518.5 93.2 517.8 81.7 517.3 76.2 516.5 69.2 515.5 62.2 514.4 56.7 513 50.2 511.4 44.2 509.4 37.7 507.5 32.2 505.5 27.2 502.7 21.2 504.4 21.2 504.7 21.7 508.2 28.8 510.2 33.3 511.7 37.1 513.7 42.7 515.7 49.3 517.2 55.2 518.7 62.5 519.7 68.7 520.7 76.7 521.7 88.8 522.3 103.7 522.7 132.2 523 145.7 523.8 159.7 524.9 170.7 526 178.7 526.9 184.7 528 190.2 529.5 196.7 531.1 202.7 533 209.2 535.5 216.2 537.4 221.2 537.7 221.7 538 222.7 537.7 222.8Z M538.2 223.8 538.1 223.2 538.2 222.9 538.3 223.7 538.2 223.8Z M538.7 224.6 538.7 224.1 538.7 224.6Z"/><path fill="rgb(175,7,7)" fill-rule="evenodd" d="M535.7 218.4 535.5 217.7 535.2 217.4 535 216.7 534.2 215.2 531.7 209.3 529.7 203.9 528.2 199.4 526.7 194.4 525.2 188.7 523.7 182.1 522.7 176.8 521.7 170.2 521.1 165.2 520.4 157.2 519.9 149.7 519.3 134.7 518.9 105.7 518.6 93.7 517.9 81.7 516.9 71.2 515.9 64.2 514.4 56.2 513 49.7 511.4 43.7 509.4 37.2 507.4 31.7 505.4 26.7 502.9 21.2 504.2 21.2 504.7 22 506.7 25.9 508.7 30.2 510.7 34.8 512.2 38.7 514.2 44.6 516.2 51.5 517.7 57.9 519.2 66.1 520.2 73.2 520.7 77.7 521.2 83.3 521.7 90.8 522.2 104.4 522.6 132.2 522.9 144.7 523.5 156.7 524.5 167.7 525.4 175.7 526.4 182.2 527.5 188.2 528.5 193.2 530 199.2 531.5 204.7 533.9 212.2 535.2 215.7 535.5 216.7 535.7 217.1 535.9 218.2 535.7 218.4Z M536.2 219.3 536.1 218.7 536.2 218.5 536.3 219.2 536.2 219.3Z M536.7 220.2 536.7 220.1 536.7 220.2Z"/><path fill="rgb(167,6,6)" fill-rule="evenodd" d="M533.7 213.5 533.4 212.7 533.2 212.4 531.7 208.8 529.7 203.5 527.7 197.4 526.2 192.2 524.7 186.2 523.7 181.6 522.7 176.2 521.7 169.2 520.5 157.7 519.7 143.5 519.4 131.2 519 102.2 518.5 88.2 518 81.2 517.4 75.2 516.9 70.2 515.9 63.7 513.9 53.2 512.5 47.2 510.9 41.7 509.4 36.7 507.4 31.2 504.9 25.2 503.1 21.2 504 21.2 504.2 21.5 506.7 26.2 509.7 32.7 512.7 40.4 514.7 46.5 516.7 54 518.2 61 519.2 66.8 520.2 74.2 520.7 78.9 521.2 84.8 521.7 93.2 522.1 107.7 522.6 141.2 523.1 152.2 524 164.7 525.5 176.7 526.5 183.2 527.5 188.7 528.5 193.7 530 199.7 531.9 206.7 533.5 211.7 533.7 212.1 533.9 213.2 533.7 213.5Z M534.2 214.6 534 213.7 534.2 213.6 534.3 214.2 534.2 214.6Z"/><path fill="rgb(160,5,5)" fill-rule="evenodd" d="M503.7 21.8 503.7 21.2 503.8 21.7 503.7 21.8Z M504.2 23 504 22.2 504.2 22 504.5 22.7 504.2 23Z M532.2 209.4 532 208.7 531.7 208.2 530.7 205.7 528.7 200 526.7 193.5 525.2 187.8 523.7 181 522.7 175.5 521.7 168.5 521.2 164 520.2 151.4 519.7 139.8 519.1 103.7 518.8 92.2 518.4 85.2 517.9 78.7 517.3 73.2 516.4 66.2 515.4 60.2 514.5 55.2 513.5 50.7 511.9 44.7 510.5 39.7 508.5 33.7 506.4 28.2 504.3 23.2 504.7 22.9 507.2 27.6 509.7 33.1 511.7 38.1 513.7 43.7 515.2 48.7 516.7 54.4 518.2 61.6 519.2 67.6 520.2 75.2 520.7 80.2 521.2 86.5 521.6 93.7 522 106.7 522.5 142.2 523 153.2 523.9 164.2 525.4 177.2 527 186.7 527.9 191.7 529.4 198.2 531.4 205.7 531.7 206.4 532 207.7 532.2 208.1 532.3 209.2 532.2 209.4Z M532.7 210.3 532.7 210.1 532.7 210.3Z"/><path fill="rgb(152,4,4)" fill-rule="evenodd" d="M506.2 27 506.2 26.5 506.2 27Z M530.2 203.6 530 202.7 529.7 202.3 528.7 199.4 527.2 194.7 525.7 189.3 524.7 185.1 523.7 180.4 522.7 174.8 521.7 167.5 521.2 162.8 520.7 157 520.2 149.2 519.9 140.7 519.7 131.7 519.3 105.7 518.9 92.2 518.5 84.7 518 78.7 517 69.2 515.4 59.2 514.4 54.2 513 48.2 511.5 42.7 510 37.7 508 31.7 506.7 28.4 506.5 27.7 506.7 27.3 506.8 27.7 507.2 28.2 508.7 31.3 511.2 37.2 513.2 42.6 514.7 47.4 516.2 52.9 517.7 59.6 518.7 65.2 519.7 72.1 520.7 81.6 521.2 88.6 521.5 95.7 521.8 106.2 522.4 141.2 522.8 152.2 523.4 160.2 524.5 170.7 526 181.7 528 192.7 529.5 199.2 530.2 201.9 530.4 203.2 530.2 203.6Z M530.7 204.8 530.7 204 530.7 204.8Z"/><path fill="rgb(145,3,3)" fill-rule="evenodd" d="M508.2 31.3 508.2 31.2 508.2 31.3Z M528.2 197.1 526.7 192.3 525.7 188.7 523.7 179.8 522.2 170.5 521.2 161.4 520.6 153.7 520 141.7 519.7 128.2 519.5 104.7 519.1 92.2 518.4 81.7 517.4 71.7 516 61.7 514.4 53.7 511.9 43.7 509 33.7 508.7 33.2 508.6 32.2 508.7 32 508.9 32.7 509.2 33 509.4 33.7 510.2 35.2 512.2 40.2 514.2 46.2 515.7 51.4 516.7 55.5 517.7 60.3 518.7 66 519.7 73.2 520.7 83.3 521.4 94.7 521.7 105.5 522.1 136.7 522.4 147.2 523 156.2 523.9 167.2 525 175.7 526.5 185.7 528.5 196.2 528.7 196.7 528.2 197.1Z M528.7 198.5 528.5 197.7 528.3 197.2 528.7 196.8 528.8 198.2 528.7 198.5Z"/><path fill="rgb(137,1,1)" fill-rule="evenodd" d="M510.2 36.8 510.2 36.2 510.2 36.8Z M527.2 193.1 527 192.2 526.7 191.5 526.2 189.8 525.2 186 524.2 181.6 523.2 176.3 522.2 169.5 521.2 159.8 520.7 152.9 520.2 142.1 519.6 104.7 519.4 95.7 518.9 85.7 517.9 74.7 516.9 66.7 515.5 58.2 513.4 48.7 510.9 39.2 510.7 38.7 510.6 37.7 510.7 37.2 510.8 37.7 511.2 38.3 512.2 40.8 513.7 45.1 515.2 50.1 516.2 54 517.2 58.5 518.2 63.8 519.7 74.5 520.7 85.4 521.2 94.4 521.6 109.7 522 137.2 522.5 152.2 523 159.2 524 168.7 525.5 180.2 527.2 190.4 527.4 192.7 527.2 193.1Z M527.7 194.2 527.7 193.5 527.7 194.2Z"/><path fill="rgb(131,0,0)" fill-rule="evenodd" d="M512.2 43 512.2 41.9 512.3 42.7 512.2 43Z M526.2 188.7 526 187.7 525.7 187 524.7 183 523.2 175.4 522.2 168.2 521.2 157.8 520.7 149.8 520.2 135.3 519.9 108.7 519.6 95.2 519 84.7 518.4 77.7 517.5 69.2 516.5 62.7 514.4 52.2 512.9 45.7 512.7 45.1 512.4 43.2 512.7 43 512.9 43.7 513.7 45.8 515.2 50.8 516.2 54.7 517.2 59.3 518.7 68.1 519.7 76.1 520.2 81.3 520.7 88.2 521.2 99.5 521.8 138.2 522.4 152.7 523.5 165.7 525 177.7 526.2 185.9 526.4 188.2 526.2 188.7Z"/>
</g>
<rect x="410.7" y="24.2" width="217.10" height="198.40" fill="none" stroke="#262626" stroke-width="0.6" stroke-opacity="0.8"/>
<rect x="652.6" y="24.2" width="14.10" height="198.40" fill="url(#cgb)" stroke="#262626" stroke-width="0.6" stroke-opacity="0.7"/>
<text transform="translate(671.5,228.7) scale(1,1.07)" text-anchor="start" font-size="15.2" fill="#333333">0 (%)</text>
<text transform="translate(671.5,189.0) scale(1,1.07)" text-anchor="start" font-size="15.2" fill="#333333">20</text>
<line x1="664.2" y1="182.9" x2="666.7" y2="182.9" stroke="#262626" stroke-width="0.6"/>
<text transform="translate(671.5,149.4) scale(1,1.07)" text-anchor="start" font-size="15.2" fill="#333333">40</text>
<line x1="664.2" y1="143.2" x2="666.7" y2="143.2" stroke="#262626" stroke-width="0.6"/>
<text transform="translate(671.5,109.7) scale(1,1.07)" text-anchor="start" font-size="15.2" fill="#333333">60</text>
<line x1="664.2" y1="103.6" x2="666.7" y2="103.6" stroke="#262626" stroke-width="0.6"/>
<text transform="translate(671.5,70.0) scale(1,1.07)" text-anchor="start" font-size="15.2" fill="#333333">80</text>
<line x1="664.2" y1="63.9" x2="666.7" y2="63.9" stroke="#262626" stroke-width="0.6"/>
<text transform="translate(671.5,30.3) scale(1,1.07)" text-anchor="start" font-size="15.2" fill="#333333">100</text>
<g clip-path="url(#clipc)">
<rect x="50.1" y="290.0" width="221.90" height="198.20" fill="rgb(0, 0, 128)"/>
<path fill="rgb(1,1,132)" fill-rule="evenodd" d="M274.6 491 200.6 491.5 132 491 129.1 477.6 126.1 465.3 122.6 452.3 119.1 440.5 115.1 428 110.6 415 106.1 403 101.1 390.6 96.1 378.9 91.1 367.9 85.6 356.4 79.6 344.6 72.1 330.7 64.1 316.8 55.6 302.8 47.1 289.6 47.1 287 132.1 286.5 222.1 287 228.1 311.3 235.1 338.7 258.4 426.5 267.9 463 274.6 489.4 274.6 491Z"/><path fill="rgb(1,1,134)" fill-rule="evenodd" d="M253.1 491 200.6 491.5 153.6 491 150.6 477.6 147.6 465.3 144.1 452.3 140.1 438.6 136.1 426 131.6 412.8 127.1 400.4 122.1 387.6 116.6 374.3 111.1 361.7 105.1 348.8 99.1 336.6 92.6 324 86.1 312 79.1 299.6 71.6 287 132.1 286.5 195.8 287 217.3 359 224.3 383 230.9 406 237.4 429.5 243.9 454 251.8 485 253.3 491 253.1 491Z"/><path fill="rgb(1,1,137)" fill-rule="evenodd" d="M243.1 491 200.6 491.5 163.2 491 160.1 477.1 157.1 465 153.6 451.9 150.1 439.8 146.1 427 141.6 413.5 137.1 400.9 132.1 387.8 127.1 375.3 121.6 362.4 116.1 350.2 110.1 337.4 103.6 324.3 97.1 311.9 90.1 299 83.3 287 132.1 286.5 184 287 194.4 319 203.8 349 212.4 377 219.9 402.5 227.4 429 234.4 455 238.9 472.5 243.5 491 243.1 491Z"/><path fill="rgb(2,2,139)" fill-rule="evenodd" d="M237.1 491 200.6 491.5 169 491 166.1 478.2 163.1 465.9 159.6 452.8 155.6 438.9 151.6 426.1 147.6 414 143.1 401.2 138.1 387.9 133.1 375.3 127.6 362.2 122.1 349.7 116.1 336.8 110.1 324.4 103.6 311.6 97.1 299.4 90.2 287 132.1 286.5 150.6 286.6 176.9 287 186.9 316.5 196.3 345.5 204.8 372.5 212.8 399 220.9 427 228.4 454.5 232.9 472 237.6 491 237.1 491Z"/><path fill="rgb(2,2,142)" fill-rule="evenodd" d="M233.1 491 200.6 491.5 172.9 491 170.1 478.4 166.6 464.2 163.1 451.2 159.6 439.1 155.6 426.1 151.6 414 147.1 401.1 142.1 387.7 137.1 375 132.1 362.9 126.6 350.2 120.6 337.1 114.6 324.6 108.1 311.6 101.6 299.1 95 287 117.6 286.6 132.1 286.5 149.6 286.6 172.1 287 181.9 315.5 191.3 343.5 199.8 370 207.9 396.5 215.9 424 222.9 449.5 227.4 466.5 231.4 482.5 233.4 491 233.1 491Z"/><path fill="rgb(3,3,145)" fill-rule="evenodd" d="M230.1 491 200.6 491.5 175.9 491 173.1 478.7 169.6 464.5 166.1 451.5 162.6 439.3 158.6 426.3 154.6 414.1 150.1 401.2 145.6 389 140.6 376.1 135.6 363.9 130.1 351.1 124.1 337.7 118.1 325 111.6 311.9 105.1 299.2 98.5 287 118.6 286.6 132.1 286.5 148.6 286.7 168.5 287 178.3 315 187.8 343 196.4 369.5 204.3 395 211.9 421 219.3 447.5 226.9 477 230.3 491 230.1 491Z"/><path fill="rgb(3,3,147)" fill-rule="evenodd" d="M227.6 491 200.6 491.5 178.1 491 175.1 477.6 172.1 465.4 168.6 452.3 165.1 440.1 161.1 427 157.1 414.7 152.6 401.7 147.6 388.1 142.6 375.2 137.6 362.9 132.1 350 126.6 337.8 120.6 324.9 114.6 312.6 108.1 299.9 101.3 287 119.6 286.6 132.1 286.5 147.6 286.7 165.6 287 175.8 315.5 184.9 342 193.4 368 201.4 393.5 209.3 420.5 216.8 447.5 220.9 463 224.8 478.5 227.9 491 227.6 491Z"/><path fill="rgb(3,3,150)" fill-rule="evenodd" d="M225.6 491 200.6 491.5 180 491 177.1 478.3 173.6 464.1 170.1 451.1 166.6 438.9 162.6 425.9 158.6 413.7 154.1 400.7 149.6 388.4 144.6 375.4 139.6 363.1 134.1 350.1 128.6 337.7 122.6 324.8 116.6 312.4 110.1 299.5 103.5 287 120.1 286.6 132.1 286.5 146.6 286.7 163.3 287 172.9 313.5 182.4 341 191.3 368 199.3 393.5 207.3 420.5 214.8 447.5 218.9 463 222.8 478.5 225.9 491 225.6 491Z"/><path fill="rgb(4,4,152)" fill-rule="evenodd" d="M224.1 491 200.6 491.5 181.5 491 178.6 478.2 175.6 466 172.1 452.8 168.6 440.6 164.6 427.4 160.6 415.1 156.1 401.9 151.6 389.5 146.6 376.5 141.6 364 136.1 351 130.6 338.5 124.6 325.5 118.6 313 112.1 300 105.4 287 121.1 286.6 132.1 286.5 145.6 286.7 161.4 287 170.9 313 180.3 340 188.9 366 196.8 391 204.3 416 211.8 442.5 218.9 469.5 222.9 485.5 224.2 491 224.1 491Z"/><path fill="rgb(4,4,155)" fill-rule="evenodd" d="M222.6 491 200.6 491.5 182.8 491 179.6 477 176.6 464.9 173.1 451.8 169.6 439.6 165.6 426.5 161.6 414.2 157.1 401.1 152.6 388.7 147.6 375.6 142.6 363.1 137.1 350.1 131.6 337.6 125.6 324.5 119.6 312 113.1 298.9 106.9 287 121.6 286.6 132.1 286.5 145.1 286.7 159.7 287 169.3 313 178.4 339 187.3 365.5 195.4 391 202.9 416 210.3 442.5 217.8 471 222.7 491 222.6 491Z"/><path fill="rgb(5,5,157)" fill-rule="evenodd" d="M221.1 491 200.6 491.5 183.9 491 181.1 478.8 178.1 466.5 174.6 453.3 171.1 441 167.1 427.8 163.1 415.3 158.6 402.2 154.1 389.7 149.1 376.5 144.1 364 139.1 352 133.1 338.2 127.1 325.1 121.1 312.5 114.6 299.3 108.3 287 122.1 286.6 132.1 286.5 144.1 286.7 158.3 287 167.9 313 177.4 340 186.3 366.5 194.4 392 202.9 420.5 210.3 447 214.9 464.5 218.9 480.5 221.5 491 221.1 491Z"/><path fill="rgb(5,5,160)" fill-rule="evenodd" d="M220.1 491 200.6 491.5 184.8 491 182.1 479 179.1 466.7 175.6 453.5 172.1 441.1 168.1 427.9 164.1 415.5 159.6 402.2 155.1 389.7 150.1 376.5 145.1 363.9 139.6 350.7 134.1 338.1 128.1 324.9 122.1 312.2 116.1 300 109.4 287 122.6 286.6 132.1 286.5 143.6 286.7 157 287 166.9 313.5 175.9 339 184.8 365.5 192.9 391 200.9 417.5 208.3 444 212.3 459 216.3 474.5 220.3 491 220.1 491Z"/><path fill="rgb(5,5,162)" fill-rule="evenodd" d="M219.1 491 200.6 491.5 185.7 491 182.6 477.5 179.6 465.4 176.1 452.3 172.6 440 168.6 426.8 164.6 414.4 160.1 401.2 155.6 388.7 150.6 375.5 145.6 363 140.6 350.9 135.1 338.3 129.1 325 123.1 312.3 117.1 300 110.5 287 122.6 286.7 132.1 286.5 143.1 286.7 155.9 287 165.8 313.5 174.9 339 183.8 365.5 191.9 391 199.9 417.5 207.3 444 211.3 459 215.3 474.5 219.3 491 219.1 491Z"/><path fill="rgb(6,6,165)" fill-rule="evenodd" d="M218.1 491 200.6 491.5 186.4 491 183.6 478.6 180.6 466.4 177.1 453.2 173.6 440.9 169.6 427.6 165.6 415.2 161.1 401.9 156.6 389.4 151.6 376.1 146.6 363.5 141.1 350.2 135.6 337.5 129.6 324.3 123.6 311.5 117.6 299.3 111.4 287 123.1 286.6 132.1 286.5 142.6 286.7 154.9 287 164.9 313.5 174.3 340 182.9 365.5 191.3 392 199.4 419 206.8 445.5 211.3 462.5 215.4 478.5 218.4 491 218.1 491Z"/><path fill="rgb(6,6,167)" fill-rule="evenodd" d="M217.6 491 201.1 491.5 196.1 491.4 187.1 491 184.1 478 181.1 465.8 177.6 452.6 174.1 440.3 170.1 427.1 166.1 414.6 161.6 401.4 157.1 388.8 152.1 375.6 147.1 363 142.1 350.9 136.6 338.1 131.1 325.9 125.1 313 118.6 299.6 112.2 287 123.6 286.6 132.1 286.5 142.1 286.7 154 287 163.4 312 172.4 337 181.4 363.5 189.4 388.5 196.8 413 204.4 439.5 211.3 465.5 217.6 491Z"/><path fill="rgb(7,7,170)" fill-rule="evenodd" d="M216.6 491 200.6 491.5 187.7 491 184.6 477.6 181.6 465.5 178.1 452.3 174.6 440 170.6 426.8 166.6 414.3 162.1 401.1 157.6 388.5 152.6 375.3 147.6 362.6 142.6 350.5 137.1 337.7 131.6 325.5 125.6 312.6 119.6 300.2 113 287 123.6 286.7 132.1 286.5 141.6 286.7 153.2 287 162.8 312.5 172.3 339 180.8 364 189.3 390.5 197.4 417.5 204.9 444 208.9 459 212.8 474.5 216.9 491 216.6 491Z"/><path fill="rgb(7,7,172)" fill-rule="evenodd" d="M216.1 491 200.6 491.5 188.2 491 185.1 477.4 182.1 465.3 178.6 452.2 175.1 439.9 171.1 426.6 167.1 414.2 163.1 402.4 158.6 389.7 153.6 376.4 148.6 363.6 143.6 351.5 138.1 338.6 132.6 326.3 126.6 313.4 120.1 299.9 113.6 287 124.1 286.7 132.1 286.5 141.1 286.7 152.5 287 161.9 312 170.9 337 179.4 362 187.8 388 195.8 414.5 203.4 441 210.4 467.5 214.4 483.5 216.1 491Z"/><path fill="rgb(7,7,175)" fill-rule="evenodd" d="M215.1 491 200.6 491.4 188.7 491 185.6 477.5 182.6 465.4 179.1 452.2 175.6 439.9 171.6 426.7 167.6 414.2 163.6 402.4 159.1 389.7 154.1 376.3 149.1 363.6 144.1 351.4 138.6 338.5 132.6 325 126.6 312.1 120.6 299.7 114.3 287 124.1 286.7 132.1 286.5 140.6 286.7 151.8 287 161.8 313.5 171.3 340 179.9 365.5 188.4 392 196.8 420 204.3 447 208.8 464 213.4 482 215.5 491 215.1 491Z"/><path fill="rgb(8,8,178)" fill-rule="evenodd" d="M214.6 491 200.6 491.4 189.1 491 186.1 477.7 183.1 465.6 179.6 452.4 176.1 440.1 172.1 426.8 168.1 414.3 164.1 402.5 159.6 389.8 154.6 376.4 149.6 363.6 144.6 351.4 139.1 338.5 133.1 325 127.1 312 121.1 299.5 114.8 287 124.6 286.7 132.1 286.6 140.6 286.7 151.1 287 160.8 312.5 170.3 339 178.8 364 187.4 390.5 195.3 417 203.4 445.5 207.9 462.5 211.9 478.5 214.9 491 214.6 491Z"/><path fill="rgb(8,8,180)" fill-rule="evenodd" d="M214.1 491 200.6 491.4 189.6 491 186.6 478.1 183.6 465.9 180.1 452.7 176.6 440.4 172.6 427.1 168.6 414.6 164.6 402.7 160.1 390 155.6 377.9 150.6 365 145.1 351.5 139.6 338.5 133.6 325 127.6 312 121.6 299.5 115.4 287 124.6 286.7 132.1 286.6 140.1 286.7 150.5 287 160.4 313 169.4 338 178.3 364 186.3 389 194.4 415.5 202.4 444 206.8 460.5 210.9 476.5 214.4 491 214.1 491Z"/><path fill="rgb(9,9,183)" fill-rule="evenodd" d="M213.6 491 200.6 491.4 189.9 491 187.1 478.6 183.6 464.5 180.1 451.4 176.6 439.1 172.6 425.9 168.6 413.4 164.6 401.6 160.1 388.9 155.1 375.5 150.6 364 145.1 350.5 139.6 337.5 133.6 324 128.1 312.1 122.1 299.6 115.9 287 125.1 286.7 132.1 286.6 140.1 286.7 150 287 159.9 313 168.9 338 177.8 364 185.8 389 193.8 415.5 201.9 444 206.3 460.5 210.4 476.5 213.9 491 213.6 491Z"/><path fill="rgb(9,9,185)" fill-rule="evenodd" d="M213.1 491 200.6 491.4 190.3 491 187.1 477.1 184.1 465.1 180.6 451.9 177.1 439.6 173.1 426.3 169.1 413.8 165.1 402 160.6 389.2 156.1 377.1 151.1 364.2 146.1 351.9 140.6 338.9 135.1 326.4 129.1 313.3 122.6 299.7 116.3 287 125.1 286.7 132.1 286.6 139.6 286.7 149.4 287 159.4 313 168.4 338 177.3 364 185.3 389 193.8 417 201.4 444 205.8 460.5 209.9 476.5 213.4 491 213.1 491Z"/><path fill="rgb(9,9,188)" fill-rule="evenodd" d="M212.6 491 200.6 491.4 190.6 491 187.6 477.9 184.6 465.8 181.1 452.5 177.6 440.2 173.6 426.9 169.6 414.3 165.6 402.4 161.1 389.7 156.6 377.5 151.6 364.6 146.1 351 140.6 338.1 135.1 325.6 129.1 312.5 123.1 299.9 116.8 287 125.1 286.7 132.1 286.6 139.6 286.7 149 287 158.9 313 168.3 339 176.8 364 185.4 390.5 193.4 417 201.4 445.5 205.9 462.5 210.3 480 213 491 212.6 491Z"/><path fill="rgb(10,10,190)" fill-rule="evenodd" d="M212.1 491 200.6 491.4 190.9 491 188.1 478.7 184.6 464.6 181.1 451.5 177.6 439.1 173.6 425.9 169.6 413.4 165.6 401.5 161.1 388.8 156.1 375.3 151.1 362.5 146.1 350.2 141.1 338.4 135.6 325.9 129.6 312.8 123.6 300.1 117.2 287 125.6 286.7 132.1 286.6 139.1 286.7 148.5 287 157.9 311.5 167.3 337.5 176.4 364 184.8 390 193.4 418.5 201.4 447 206.4 466 210.9 484 212.6 491 212.1 491Z"/><path fill="rgb(10,10,193)" fill-rule="evenodd" d="M212.1 491 200.6 491.4 191.2 491 188.1 477.5 185.1 465.4 181.6 452.2 178.1 439.9 174.1 426.6 170.1 414 166.1 402.1 161.6 389.4 156.6 375.9 151.6 363 146.6 350.6 141.1 337.6 135.1 324 129.6 312 123.6 299.3 117.5 287 125.6 286.7 132.1 286.6 139.1 286.7 148.1 287 157.8 312.5 166.9 337.5 175.4 362 183.8 388 191.8 414.5 199.4 441 206.4 467.5 210.4 483.5 212.1 491Z"/><path fill="rgb(11,11,195)" fill-rule="evenodd" d="M211.6 491 200.6 491.4 191.5 491 188.6 478.5 185.6 466.4 182.1 453.1 178.6 440.7 174.6 427.3 170.6 414.7 166.6 402.8 162.1 390 157.1 376.4 152.1 363.5 147.1 351.1 141.6 338.1 136.1 325.5 130.1 312.4 124.1 299.7 117.9 287 125.6 286.7 132.1 286.6 138.6 286.7 147.6 287 157.8 313.5 166.9 338.5 175.8 364.5 183.9 389.5 191.9 416 199.4 442.5 203.4 457.5 207.4 473 211.8 491 211.6 491Z"/><path fill="rgb(11,11,198)" fill-rule="evenodd" d="M211.1 491 200.6 491.4 191.7 491 188.6 477.5 185.6 465.4 182.1 452.2 178.6 439.8 174.6 426.5 170.6 414 166.6 402 162.1 389.2 157.6 377 152.6 364.1 147.6 351.7 142.1 338.6 136.6 326 130.6 312.8 124.6 300 118.2 287 125.6 286.7 132.1 286.6 138.6 286.7 147.3 287 156.9 312 166.4 338 175.3 364 183.8 390.5 191.9 417 199.9 445.5 204.4 462.5 208.8 480 211.5 491 211.1 491Z"/><path fill="rgb(11,11,200)" fill-rule="evenodd" d="M211.1 491 200.6 491.4 191.9 491 189.1 478.6 186.1 466.4 182.6 453.2 179.1 440.8 175.1 427.4 171.1 414.8 167.1 402.8 162.6 389.9 158.1 377.7 153.1 364.7 147.6 351 142.6 339.1 137.1 326.5 131.1 313.2 125.1 300.4 118.5 287 126.1 286.7 132.1 286.6 138.6 286.7 146.9 287 156.4 311.5 165.8 337.5 174.8 363.5 182.9 388.5 190.8 414.5 198.3 441 205.4 467.5 208.9 481.5 211.1 491Z"/><path fill="rgb(12,12,203)" fill-rule="evenodd" d="M210.6 491 200.6 491.4 192.2 491 189.1 477.7 186.1 465.6 182.6 452.4 179.1 440 175.1 426.7 171.1 414.1 167.1 402.1 162.6 389.3 158.1 377 153.1 364 148.1 351.6 142.6 338.5 137.1 325.9 131.1 312.6 125.1 299.8 118.8 287 126.1 286.7 132.1 286.6 138.1 286.7 146.5 287 156.4 312.5 165.9 338.5 174.8 364.5 182.9 389.5 191.4 417.5 198.9 444 202.9 459 206.8 474.5 210.8 491 210.6 491Z"/><path fill="rgb(12,12,205)" fill-rule="evenodd" d="M210.1 491 200.6 491.4 192.4 491 189.6 478.9 186.6 466.7 183.1 453.5 179.6 441 175.6 427.6 171.6 415 167.6 402.9 163.1 390.1 158.1 376.4 153.6 364.7 148.1 351 143.1 339.1 137.6 326.4 131.6 313.1 125.6 300.3 119.1 287 126.1 286.7 132.1 286.6 138.1 286.7 146.2 287 155.9 312 165.4 338 174.3 364 182.9 390.5 191.4 418.5 199.4 447 204.4 466 208.9 484 210.6 491 210.1 491Z"/><path fill="rgb(13,13,208)" fill-rule="evenodd" d="M210.1 491 200.6 491.4 192.6 491 189.6 478.1 186.6 466 183.1 452.7 179.6 440.3 175.6 427 171.6 414.3 167.6 402.3 163.1 389.5 158.6 377.2 153.6 364.2 148.1 350.5 143.1 338.5 137.6 325.9 131.6 312.6 125.6 299.8 119.4 287 126.1 286.7 132.1 286.6 138.1 286.7 145.9 287 155.4 311.5 164.9 337.5 173.4 362 181.9 388 190.4 416 197.9 442.5 201.9 457.5 205.9 473 210.3 491 210.1 491Z"/><path fill="rgb(13,13,211)" fill-rule="evenodd" d="M209.6 491 200.6 491.4 192.8 491 190.1 479.4 186.6 465.2 183.1 452.1 179.6 439.7 175.6 426.3 171.6 413.7 167.6 401.8 163.1 388.9 158.6 376.7 153.6 363.6 148.6 351.2 143.1 338 137.6 325.3 131.6 312 125.6 299.2 119.7 287 126.6 286.7 132.1 286.6 138.1 286.7 145.6 287 155.3 312 164.8 338 173.8 364 182.4 390.5 190.9 418.5 198.9 447 203.4 464 207.9 482 210 491 209.6 491Z"/><path fill="rgb(13,13,213)" fill-rule="evenodd" d="M209.6 491 200.6 491.4 192.9 491 190.1 478.7 187.1 466.5 183.6 453.2 180.1 440.8 176.1 427.4 172.1 414.7 168.1 402.7 163.6 389.8 159.1 377.5 153.6 363.1 148.6 350.7 143.1 337.5 137.6 324.8 131.6 311.5 125.6 298.7 119.9 287 126.6 286.7 132.1 286.6 137.6 286.7 145.3 287 154.8 311.5 164.4 337.5 172.9 362 181.3 388 189.9 416 197.4 442.5 201.3 457 205.4 473 209.8 491 209.6 491Z"/><path fill="rgb(14,14,216)" fill-rule="evenodd" d="M209.1 491 200.6 491.4 193.1 491 190.1 478 187.1 465.8 183.6 452.6 180.1 440.2 176.1 426.8 172.1 414.2 168.1 402.2 163.6 389.3 159.1 377 154.1 363.9 148.6 350.2 143.1 337 138.1 325.5 132.1 312.2 126.1 299.3 120.1 287 126.6 286.7 132.1 286.6 137.6 286.7 145 287 154.9 312.5 164.3 338 173.3 364 181.9 390.5 190.4 418.5 198.4 447 203.4 466 207.9 484 209.6 491 209.1 491Z"/><path fill="rgb(14,14,218)" fill-rule="evenodd" d="M209.1 491 200.6 491.4 193.3 491 190.6 479.4 187.1 465.2 183.6 452 180.1 439.7 176.1 426.3 172.1 413.7 168.1 401.7 163.6 388.8 159.1 376.5 154.1 363.4 149.1 350.9 143.6 337.7 138.1 325 132.6 312.8 126.6 299.9 120.4 287 126.6 286.7 132.1 286.6 137.6 286.7 144.8 287 154.9 313 163.9 337.5 172.9 363.5 181.4 389.5 189.9 417.5 197.4 444 201.4 459 205.3 474.5 209.4 491 209.1 491Z"/><path fill="rgb(15,15,221)" fill-rule="evenodd" d="M209.1 491 203.6 491.3 200.6 491.4 193.4 491 190.6 478.7 187.6 466.6 184.1 453.3 180.6 440.8 176.6 427.4 172.6 414.7 168.6 402.7 164.1 389.7 159.1 376.1 154.1 363 149.1 350.5 144.1 338.5 138.6 325.7 133.1 313.5 127.1 300.5 120.6 287 126.6 286.7 132.1 286.6 137.6 286.7 144.5 287 154.8 313.5 163.8 338 172.3 362.5 180.8 388.5 188.8 414.5 196.4 441 203.4 467.5 207.4 483.5 209.1 491Z"/><path fill="rgb(15,15,223)" fill-rule="evenodd" d="M208.6 491 200.6 491.4 193.6 491 190.6 478.1 187.6 466 184.1 452.8 180.6 440.3 176.6 426.9 172.6 414.3 168.6 402.2 164.1 389.3 159.6 377 154.6 363.9 149.1 350.1 144.1 338 139.1 326.4 133.1 313 126.6 299.1 120.8 287 127.1 286.7 132.1 286.6 137.1 286.7 144.3 287 154.4 313 163.8 338.5 172.8 364.5 181.4 391 189.9 419 197.4 445.5 201.9 462.5 205.8 478 209 491 208.6 491Z"/><path fill="rgb(15,15,226)" fill-rule="evenodd" d="M208.6 491 203.6 491.3 200.6 491.4 193.7 491 190.6 477.5 187.6 465.5 184.1 452.3 180.6 439.9 176.6 426.5 172.6 413.8 168.6 401.8 164.1 388.9 159.6 376.5 154.6 363.4 149.6 350.9 144.1 337.6 138.6 324.9 132.6 311.5 126.6 298.6 121 287 127.1 286.7 132.1 286.6 137.1 286.7 144 287 153.8 312 162.9 336.5 171.9 362.5 180.4 388.5 188.8 416 196.4 442.5 200.4 457.5 203.9 471 208.8 491 208.6 491Z"/><path fill="rgb(16,16,228)" fill-rule="evenodd" d="M208.6 491 201.1 491.4 198.1 491.3 193.8 491 191.1 479.1 187.6 464.9 184.1 451.8 180.6 439.4 176.6 426 172.6 413.4 168.6 401.4 164.1 388.5 159.6 376.1 154.6 363 149.6 350.5 144.6 338.4 139.1 325.7 133.6 313.3 127.6 300.4 121.2 287 127.1 286.7 132.1 286.6 137.1 286.7 143.8 287 153.4 311.5 162.8 337 171.4 361.5 179.9 387.5 187.9 413.5 195.4 439.5 202.3 465.5 208.6 491Z"/><path fill="rgb(16,16,231)" fill-rule="evenodd" d="M208.1 491 200.6 491.4 194 491 191.1 478.5 188.1 466.4 184.6 453.1 181.1 440.7 177.1 427.2 173.1 414.5 169.1 402.4 164.6 389.5 160.1 377.1 155.1 364 150.1 351.4 144.6 338.1 139.6 326.4 133.6 313 127.6 300 121.4 287 127.1 286.7 132.1 286.6 137.1 286.7 143.6 287 153.4 312 162.8 337.5 171.9 363.5 180.4 389.5 188.8 417 192.8 431 196.9 445.5 201.4 462.5 205.3 478 208.4 491 208.1 491Z"/><path fill="rgb(17,17,233)" fill-rule="evenodd" d="M208.1 491 203.6 491.3 200.6 491.4 194.1 491 191.1 478 188.1 465.9 184.6 452.7 181.1 440.2 177.1 426.8 173.1 414.1 169.1 402 164.6 389.1 160.1 376.7 155.1 363.6 150.1 351 145.1 338.9 139.6 326.1 133.6 312.6 127.6 299.6 121.5 287 127.1 286.7 132.1 286.6 137.1 286.7 143.4 287 153.4 312.5 162.8 338 171.4 362.5 179.9 388.5 188.3 416 195.9 442.5 199.8 457 203.4 471 208.3 491 208.1 491Z"/><path fill="rgb(17,17,236)" fill-rule="evenodd" d="M208.1 491 201.1 491.4 198.1 491.3 194.2 491 191.1 477.5 188.1 465.5 184.6 452.2 181.1 439.8 177.1 426.4 173.1 413.7 169.1 401.7 164.6 388.7 160.1 376.4 155.6 364.5 150.6 351.9 145.1 338.5 139.6 325.7 134.1 313.4 128.1 300.3 121.7 287 127.1 286.7 132.1 286.6 137.1 286.7 143.2 287 153.4 313 162.8 338.5 171.4 363 179.9 389 187.9 415 195.3 441 202.4 467.5 208.1 491Z"/><path fill="rgb(17,17,238)" fill-rule="evenodd" d="M207.6 491 200.6 491.4 194.3 491 191.6 479.1 188.6 467 185.1 453.7 181.6 441.2 177.6 427.7 173.6 414.9 169.6 402.8 165.1 389.8 160.1 376 155.6 364.2 150.6 351.5 145.1 338.2 140.1 326.5 134.1 313 128.1 300 121.9 287 127.6 286.7 132.1 286.6 136.6 286.7 143 287 153.4 313.5 162.8 339 171.9 365 180.4 391 184.9 405.5 188.9 419 196.4 445.5 200.8 462 205.3 480 208 491 207.6 491Z"/><path fill="rgb(18,18,241)" fill-rule="evenodd" d="M207.6 491 203.6 491.3 200.6 491.4 194.4 491 191.6 478.7 188.6 466.5 185.1 453.3 181.6 440.8 177.6 427.3 173.6 414.6 169.6 402.5 165.1 389.5 160.6 377 155.6 363.9 151.1 352.5 145.6 339.1 139.6 325.1 134.1 312.7 128.1 299.7 122 287 127.6 286.7 132.1 286.6 136.6 286.7 142.8 287 152.8 312.5 162.3 338 171.4 364 179.9 390 188.3 417.5 195.9 444 199.9 459 203.8 474.5 207.8 491 207.6 491Z"/><path fill="rgb(18,18,244)" fill-rule="evenodd" d="M207.6 491 203.6 491.3 200.6 491.4 194.6 491 191.6 478.2 188.6 466.1 185.1 452.9 181.6 440.4 177.6 427 173.6 414.2 169.6 402.1 165.1 389.1 160.6 376.7 155.6 363.5 150.6 350.9 145.1 337.6 139.6 324.7 134.1 312.4 128.6 300.4 122.2 287 127.6 286.7 132.1 286.6 136.6 286.7 142.6 287 152.8 313 162.3 338.5 170.9 363 179.3 388.5 187.3 414.5 194.9 441 198.8 455.5 202.3 469 206.9 487.5 207.7 491 207.6 491Z"/><path fill="rgb(19,19,246)" fill-rule="evenodd" d="M207.1 491 200.6 491.4 194.7 491 191.6 477.8 188.6 465.7 185.1 452.5 181.6 440 177.6 426.6 173.6 413.9 169.6 401.8 165.1 388.8 160.6 376.4 156.1 364.5 151.1 351.8 145.6 338.5 140.1 325.6 134.1 312.1 128.1 299.1 122.3 287 127.6 286.7 132.1 286.6 142.4 287 152.9 313.5 162.3 339 171.4 365 179.8 390.5 183.8 403.5 188.4 418.5 192.4 432.5 196.4 447 201.3 465.5 205.8 483.5 207.6 491 207.1 491Z"/><path fill="rgb(19,19,249)" fill-rule="evenodd" d="M207.1 491 203.1 491.3 200.6 491.4 194.8 491 192.1 479.5 188.6 465.3 185.1 452.1 181.6 439.7 177.6 426.3 173.6 413.6 169.6 401.5 165.1 388.5 160.6 376.1 155.6 362.9 150.1 349.1 145.1 337 139.1 323 134.1 311.8 128.6 299.8 122.5 287 127.6 286.7 132.1 286.6 142.3 287 152.3 312.5 161.8 338 170.8 363.5 179.3 389.5 183.9 404 187.9 417.5 191.8 431 195.9 445.5 200.4 462.5 204.3 478 207.5 491 207.1 491Z"/><path fill="rgb(19,19,251)" fill-rule="evenodd" d="M207.1 491 203.1 491.3 200.6 491.4 194.8 491 192.1 479.1 189.1 466.9 185.6 453.6 182.1 441.1 178.1 427.6 174.1 414.8 170.1 402.7 165.6 389.6 161.1 377.2 156.1 363.9 151.6 352.5 146.1 339.1 140.1 325 134.6 312.6 128.6 299.5 122.6 287 129.1 286.7 134.6 286.7 142.1 287 142.3 287.5 152.4 313 161.9 338.5 170.8 364 179.4 390 187.4 416 191.3 429.5 195.4 444 199.4 459 203.3 474.5 207.3 491 207.1 491Z"/><path fill="rgb(20,20,254)" fill-rule="evenodd" d="M207.1 491 203.1 491.3 200.6 491.4 194.9 491 192.1 478.7 189.1 466.6 185.6 453.3 182.1 440.8 178.1 427.3 174.1 414.5 170.1 402.4 165.6 389.3 161.1 376.9 156.1 363.7 151.1 351 145.6 337.6 140.1 324.7 134.6 312.3 128.6 299.3 122.8 287 127.6 286.7 132.1 286.6 141.9 287 151.8 312 161.4 337.5 170.3 363 178.9 389 187.4 416.5 194.8 442.5 198.9 457.5 202.4 471 206.9 489.5 207.2 491 207.1 491Z"/><path fill="rgb(23,23,254)" fill-rule="evenodd" d="M207.1 491 201.1 491.4 198.6 491.3 195 491 192.1 478.3 189.1 466.2 185.6 452.9 182.1 440.5 178.1 427 174.1 414.2 170.1 402.1 165.6 389.1 161.1 376.6 156.1 363.4 151.6 352 146.1 338.5 140.1 324.5 134.6 312 128.6 299 122.9 287 127.6 286.7 132.1 286.6 141.8 287 151.9 312.5 160.9 336.5 169.9 362 178.3 387.5 186.4 413.5 193.9 439.5 200.8 465.5 207.1 491Z"/><path fill="rgb(29,29,253)" fill-rule="evenodd" d="M206.6 491 203.1 491.3 200.6 491.4 195.2 491 192.1 477.7 189.1 465.7 185.6 452.4 182.1 440 178.1 426.5 174.6 415.3 170.6 403.1 166.1 390.1 161.6 377.6 156.1 363 151.6 351.6 146.1 338.1 140.6 325.2 135.1 312.7 129.1 299.6 123.1 287 129.1 286.7 134.6 286.7 141.5 287 141.7 287.5 151.9 313 161.4 338.5 170.9 365.5 179.4 391.5 187.9 419 195.4 445.5 199.9 462.5 203.8 478 206.9 491 206.6 491Z"/><path fill="rgb(35,35,251)" fill-rule="evenodd" d="M206.6 491 203.1 491.3 200.6 491.4 195.3 491 192.6 479.3 189.1 465.2 185.6 452 182.1 439.5 178.6 427.7 174.6 414.9 170.6 402.7 166.1 389.7 161.6 377.2 156.6 363.9 151.6 351.2 146.6 338.9 141.1 326 135.6 313.5 129.6 300.3 123.3 287 128.1 286.7 132.1 286.6 141.3 287 150.9 311 160.8 337.5 169.8 363 178.3 388.5 186.4 414.5 190.3 428 194.4 442.5 198.3 457 201.9 471 206.8 491 206.6 491Z"/><path fill="rgb(41,41,250)" fill-rule="evenodd" d="M206.6 491 203.1 491.3 200.6 491.4 195.4 491 192.6 478.8 189.6 466.6 186.1 453.3 182.6 440.8 178.6 427.3 174.6 414.5 170.6 402.3 166.1 389.3 161.1 375.4 156.6 363.5 152.1 352 146.6 338.5 141.1 325.6 135.1 312 129.6 299.9 123.5 287 128.1 286.7 132.1 286.6 141.1 287 141.9 289 151.8 314 161.4 339.5 170.3 365 178.3 389 186.3 415 193.8 441 200.9 467.5 204.4 481.5 206.6 491Z"/><path fill="rgb(47,47,249)" fill-rule="evenodd" d="M206.1 491 200.6 491.4 195.6 491 192.6 478.3 189.6 466.2 186.1 452.9 182.6 440.4 178.6 426.9 174.6 414.1 170.6 402 166.1 388.9 161.6 376.4 156.6 363.1 151.6 350.4 146.1 337 140.6 324.1 135.1 311.6 129.6 299.5 123.7 287 128.1 286.7 132.1 286.6 140.9 287 143.3 293 153.4 318.5 162.8 344 171.4 368.5 179.9 394.5 187.8 420.5 195.3 447 199.8 464 203.9 480 206.5 491 206.1 491Z"/><path fill="rgb(53,53,247)" fill-rule="evenodd" d="M206.1 491 203.1 491.3 200.6 491.3 195.7 491 192.6 477.8 189.6 465.7 186.1 452.5 182.6 440 178.6 426.5 174.6 413.8 170.6 401.6 166.1 388.5 161.6 376.1 157.1 364.1 152.6 352.6 147.1 339 141.6 326 136.1 313.5 130.1 300.3 123.8 287 128.1 286.7 132.1 286.6 140.7 287 144.3 296 154.3 321.5 163.4 346 171.9 370.5 179.9 395 187.8 421 195.3 447.5 199.3 462.5 202.9 476.5 206.4 491 206.1 491Z"/><path fill="rgb(60,60,246)" fill-rule="evenodd" d="M206.1 491 203.1 491.3 200.6 491.3 195.8 491 193.1 479.4 189.6 465.3 186.1 452.1 182.6 439.6 179.1 427.8 175.1 415 171.1 402.7 166.6 389.6 162.1 377.1 156.6 362.5 152.1 351 146.6 337.5 141.1 324.5 135.6 312 130.1 299.9 124 287 128.1 286.7 132.1 286.7 140.5 287 144.4 296.5 153.4 319.5 162.8 345 171.4 369.5 179.3 393.5 186.8 418 194.4 444.5 201.4 471 205.9 489.5 206.2 491 206.1 491Z"/><path fill="rgb(66,66,244)" fill-rule="evenodd" d="M205.6 491.1 200.6 491.3 195.9 491 193.1 479 190.1 466.8 186.6 453.5 183.1 441 179.1 427.4 175.1 414.6 171.1 402.4 166.6 389.3 162.1 376.8 157.1 363.4 152.1 350.7 147.1 338.4 142.1 326.5 136.1 312.8 130.1 299.6 124.2 287 128.1 286.7 132.1 286.7 140.3 287 146.4 302 155.9 326.5 164.8 351 173.3 375.5 180.9 399 188.9 425.5 196.3 452 200.9 469.5 205.4 488 206.1 491 205.6 491.1Z"/><path fill="rgb(72,72,243)" fill-rule="evenodd" d="M205.6 491 200.6 491.3 196 491 193.1 478.5 190.1 466.4 186.6 453.1 183.1 440.6 179.1 427.1 175.1 414.3 171.1 402.1 166.6 389 162.1 376.4 157.1 363.1 152.1 350.3 147.1 338.1 141.6 325 136.1 312.5 130.1 299.3 124.3 287 128.6 286.7 132.1 286.7 140.1 287 146.4 302.5 155.9 327 164.9 351.5 173.3 376 180.9 399.5 188.3 424 195.4 449 199.3 464 203.4 480 206 491 205.6 491Z"/><path fill="rgb(78,78,241)" fill-rule="evenodd" d="M205.6 491 200.6 491.3 196.1 491 193.1 478.1 190.1 466 186.6 452.8 183.1 440.3 179.1 426.8 175.1 414 171.1 401.8 166.6 388.7 162.6 377.5 157.6 364.1 153.1 352.6 147.6 339 142.1 325.9 136.6 313.3 130.6 300 124.5 287 128.6 286.7 132.1 286.7 140 287 146.9 304 155.4 326 164.4 350.5 172.3 373.5 180.3 398 187.9 423 194.9 447.5 198.8 462.5 202.4 476.5 205.9 491 205.6 491Z"/><path fill="rgb(84,84,240)" fill-rule="evenodd" d="M205.6 491 202.6 491.3 200.6 491.3 196.2 491 193.1 477.7 190.1 465.7 186.6 452.4 183.1 439.9 179.1 426.4 175.1 413.7 171.1 401.5 166.6 388.4 161.6 374.5 157.1 362.5 152.6 351 147.1 337.5 141.6 324.4 136.6 313 130.6 299.7 124.6 287 128.6 286.7 132.1 286.7 139.8 287 147.3 305.5 156.4 329 164.8 352 172.9 375.5 180.4 398.5 187.4 421.5 194.3 446 197.8 459 201.4 473 205.8 491 205.6 491Z"/><path fill="rgb(90,90,238)" fill-rule="evenodd" d="M205.6 491 202.6 491.3 200.6 491.3 196.3 491 193.6 479.4 190.1 465.3 186.6 452.1 183.1 439.6 179.6 427.8 175.6 414.9 171.6 402.7 167.1 389.5 162.6 376.9 157.6 363.6 153.1 352 147.6 338.4 142.6 326.5 136.6 312.7 130.6 299.5 124.8 287 128.6 286.8 132.1 286.7 139.6 287 147.3 306 156.4 329.5 164.8 352.5 172.8 375.5 180.4 399 187.9 423.5 194.4 446.5 200.8 471 204.4 485.5 205.6 491Z"/><path fill="rgb(96,96,237)" fill-rule="evenodd" d="M205.1 491 200.6 491.3 196.4 491 193.6 479.1 190.6 466.9 187.1 453.6 183.6 441.1 179.6 427.5 175.6 414.6 171.6 402.4 167.1 389.2 163.1 378 158.1 364.6 152.6 350.5 147.6 338.1 142.1 325 136.6 312.4 130.6 299.2 124.9 287 128.6 286.8 132.1 286.7 139.5 287 149.4 311.5 158.3 335 166.8 358.5 174.3 380.5 181.9 404 189.4 429 196.3 454 200.8 471.5 204.9 488 205.6 491 205.1 491Z"/><path fill="rgb(102,102,236)" fill-rule="evenodd" d="M205.1 491 200.6 491.3 196.4 491 193.6 478.7 190.1 464.6 186.6 451.5 183.1 439 179.1 425.6 175.6 414.4 171.6 402.1 167.1 389 162.1 375 157.6 363 153.1 351.5 147.6 337.9 142.6 325.9 136.6 312.2 131.1 300 125 287 128.6 286.8 132.1 286.7 139.3 287 149.8 313 158.4 335.5 166.9 359 174.9 382.5 181.9 404.5 188.8 427.5 195.8 452.5 199.8 468 203.3 482 205.5 491 205.1 491Z"/><path fill="rgb(108,108,234)" fill-rule="evenodd" d="M205.1 491 200.6 491.3 196.5 491 193.6 478.4 190.6 466.3 187.1 453 183.6 440.5 179.6 426.9 175.6 414.1 171.6 401.8 167.1 388.7 163.1 377.5 158.1 364.1 152.6 349.9 147.6 337.6 142.1 324.5 137.1 313 131.1 299.7 125.2 287 128.6 286.8 132.1 286.7 139.2 287 149.9 313.5 158.3 335.5 166.4 358 174.3 381 181.4 403 188.9 428 195.3 451 198.9 464.5 202.4 478.5 205.4 491 205.1 491Z"/><path fill="rgb(114,114,233)" fill-rule="evenodd" d="M205.1 491 200.6 491.3 196.6 491 193.6 478 190.6 466 187.1 452.7 183.6 440.2 179.6 426.7 175.6 413.8 171.6 401.6 167.1 388.4 162.1 374.5 157.6 362.5 153.1 350.9 148.1 338.6 142.6 325.4 137.1 312.8 131.1 299.5 125.3 287 132.1 286.7 139.1 287 144.4 300 150.4 315 158.9 337.5 166.8 359.5 174.3 381.5 181.9 405 188.9 428.5 195.3 451.5 201.9 477 205.3 491 205.1 491Z"/><path fill="rgb(120,120,231)" fill-rule="evenodd" d="M205.1 491 202.6 491.2 200.6 491.3 196.7 491 193.6 477.7 190.6 465.7 187.1 452.4 183.6 439.9 180.1 428 176.1 415.1 172.1 402.8 167.6 389.6 163.1 377 158.6 364.9 153.6 352 148.6 339.5 143.1 326.4 137.1 312.5 131.1 299.2 125.4 287 132.1 286.7 138.9 287 144.9 301.5 150.4 315.5 158.8 337.5 166.4 358.5 173.9 380.5 181.3 403.5 187.8 425 194.3 448 200.3 471 203.9 485.5 205.2 491 205.1 491Z"/><path fill="rgb(126,126,230)" fill-rule="evenodd" d="M204.6 491.1 200.6 491.3 196.8 491 194.1 479.5 190.6 465.4 187.1 452.1 183.6 439.6 180.1 427.8 176.1 414.9 172.1 402.6 167.6 389.4 162.6 375.4 158.1 363.4 153.1 350.5 148.1 338.1 142.6 325 137.6 313.4 131.6 300.1 125.5 287 132.1 286.7 138.8 287 145.3 303 151.9 319.5 160.4 342 168.4 364.5 175.8 386.5 182.8 408.5 189.9 432.5 196.4 456 200.9 473.5 204.9 490 205.1 491 204.6 491.1Z"/><path fill="rgb(132,132,228)" fill-rule="evenodd" d="M204.6 491 200.6 491.3 196.8 491 194.1 479.2 190.6 465.1 187.1 451.9 183.6 439.4 180.1 427.5 176.1 414.6 172.1 402.4 167.6 389.2 163.1 376.5 158.1 363.1 153.6 351.5 148.1 337.9 143.1 325.9 137.1 312.1 131.6 299.8 125.6 287 132.1 286.7 138.7 287 145.8 304.5 152.3 321 160.8 343.5 168.3 364.5 175.9 387 182.9 409 189.8 432.5 196.3 456 200.3 471.5 204.3 488 205 491 204.6 491Z"/><path fill="rgb(139,139,227)" fill-rule="evenodd" d="M204.6 491 200.6 491.3 196.9 491 194.1 478.9 191.1 466.8 187.6 453.4 184.1 440.9 180.6 429 176.6 416 172.1 402.1 167.6 388.9 162.6 375 158.1 362.9 153.1 350 148.1 337.6 142.6 324.5 137.6 313 131.6 299.6 125.7 287 132.1 286.7 138.5 287 145.3 303.5 152.4 321.5 160.3 342.5 168.4 365 175.3 385.5 182.3 407.5 189.3 431 195.8 454.5 199.8 470 203.4 484.5 204.9 491 204.6 491Z"/><path fill="rgb(145,145,225)" fill-rule="evenodd" d="M204.6 491 200.6 491.3 197 491 194.1 478.6 191.1 466.5 187.6 453.2 184.1 440.6 180.1 427.1 176.1 414.2 172.1 401.9 167.6 388.7 163.6 377.5 158.6 364 153.6 351.1 148.1 337.4 143.1 325.5 137.1 311.6 131.6 299.4 125.9 287 132.1 286.7 138.4 287 145.8 305 152.9 323 161.3 345.5 168.8 366.5 175.9 387.5 182.8 409.5 189.4 431.5 195.3 453 198.9 466.5 202.4 480.5 204.9 491 204.6 491Z"/><path fill="rgb(151,151,224)" fill-rule="evenodd" d="M204.6 491 200.6 491.3 197.1 491 194.1 478.3 191.1 466.2 187.6 452.9 184.1 440.4 180.1 426.8 176.1 414 172.1 401.7 167.6 388.5 162.6 374.5 158.1 362.5 153.6 350.9 148.6 338.4 143.6 326.4 137.6 312.5 131.6 299.2 126 287 132.1 286.7 138.3 287 145.9 305.5 153.4 324.5 160.9 344.5 168.4 365.5 175.3 386 182.3 408 188.9 430 194.9 451.5 201.3 476.5 204.8 491 204.6 491Z"/><path fill="rgb(157,157,223)" fill-rule="evenodd" d="M204.6 491 200.6 491.3 197.1 491 194.1 478 191.1 466 187.6 452.7 184.1 440.2 180.6 428.3 176.6 415.3 172.6 403 168.1 389.7 163.6 377.1 159.1 364.9 154.1 351.9 149.1 339.4 143.6 326.2 138.1 313.5 132.1 300 126.1 287 132.1 286.7 138.2 287 145.4 304.5 152.9 323.5 161.3 346 168.8 367 175.9 388 182.4 408.5 188.8 430 194.8 451.5 200.9 475 204.4 489.5 204.7 491 204.6 491Z"/><path fill="rgb(163,163,221)" fill-rule="evenodd" d="M204.6 491 200.6 491.3 197.2 491 194.1 477.8 191.1 465.7 187.6 452.5 184.1 439.9 180.6 428 176.6 415.1 172.6 402.8 168.1 389.5 163.1 375.5 158.6 363.4 153.6 350.4 148.6 338 143.6 326 137.6 312.1 132.1 299.8 126.2 287 132.1 286.7 138.1 287 145.9 306 153.4 325 160.9 345 168.4 366 175.3 386.5 182.3 408.5 188.9 430.5 194.3 450 199.8 471 204.6 491Z"/><path fill="rgb(169,169,220)" fill-rule="evenodd" d="M204.1 491.1 200.6 491.3 197.2 491 194.1 477.5 191.1 465.5 187.6 452.2 184.1 439.7 180.6 427.8 176.6 414.9 172.6 402.6 168.1 389.3 164.1 378 159.1 364.5 154.1 351.5 149.1 339 144.1 327 138.1 313 132.1 299.6 126.3 287 132.1 286.7 138 287 146.4 307.5 154.8 329 162.8 350.5 170.4 372 177.3 393 183.9 414 190.4 436 196.9 460 200.9 475.5 204.3 490 204.6 491 204.1 491.1Z"/><path fill="rgb(178,178,218)" fill-rule="evenodd" d="M204.1 491.1 200.6 491.3 197.3 491 194.6 479.3 191.1 465.2 187.6 452 184.1 439.5 180.1 426 176.6 414.7 172.6 402.4 168.1 389.1 163.6 376.5 158.6 363 153.6 350.1 148.6 337.6 143.6 325.6 138.1 312.8 132.6 300.5 126.4 287 132.1 286.7 137.9 287 146.9 309 154.9 329.5 162.9 351 170.3 372 177.4 393.5 183.8 414 190.3 436 196.3 458 200.3 473.5 203.8 488 204.5 491 204.1 491.1Z"/><path fill="rgb(189,189,215)" fill-rule="evenodd" d="M204.1 491 200.6 491.3 197.4 491 194.6 478.9 191.1 464.8 187.6 451.6 184.1 439.1 180.6 427.2 176.6 414.3 172.6 402 168.1 388.8 164.1 377.5 159.1 364 154.1 351 149.1 338.5 144.1 326.4 138.1 312.5 132.1 299 126.5 287 132.1 286.7 137.7 287 146.3 308 155.3 331 162.9 351.5 170.3 372.5 176.8 392 183.4 413 189.9 435 195.8 456.5 199.3 470 202.4 482.5 204.4 491 204.1 491Z"/><path fill="rgb(200,200,212)" fill-rule="evenodd" d="M204.1 491 200.6 491.3 197.5 491 194.6 478.4 191.6 466.3 188.1 453 184.6 440.5 180.6 426.9 176.6 414 172.6 401.7 168.1 388.4 163.1 374.4 158.6 362.3 153.6 349.4 148.6 336.9 143.6 324.9 137.6 311 132.1 298.7 126.7 287 132.1 286.7 137.5 287 147.4 311 155.9 333 163.3 353 170.3 373 176.8 392.5 183.3 413 189.4 433.5 194.9 453.5 200.8 476.5 204.3 491 204.1 491Z"/><path fill="rgb(210,208,208)" fill-rule="evenodd" d="M204.1 491 200.6 491.2 197.6 491 194.6 478 191.6 465.9 188.1 452.7 184.6 440.1 180.6 426.5 177.1 415.2 173.1 402.8 168.6 389.5 164.1 376.8 159.6 364.6 154.6 351.6 149.6 339 144.6 326.9 138.6 312.9 132.6 299.5 126.9 287 132.1 286.8 137.3 287 147.4 311.5 156.3 334.5 163.4 353.5 170.4 373.5 176.9 393 183.3 413.5 188.8 432 194.4 452 199.8 473 202.9 485.5 204.1 491Z"/><path fill="rgb(213,197,197)" fill-rule="evenodd" d="M203.6 491.1 200.6 491.2 197.7 491 194.6 477.6 191.6 465.5 188.1 452.3 184.6 439.8 181.1 427.9 177.1 414.9 173.1 402.5 168.6 389.2 164.1 376.5 159.1 363 154.1 350 149.1 337.5 144.1 325.4 138.1 311.5 132.1 298 127 287 132.1 286.8 137.1 287 142.4 299.5 147.8 313 157.9 339 165.4 359.5 172.3 379.5 178.9 399.5 184.9 419 190.8 439.5 196.9 462 200.3 475.5 203.9 490.5 204.1 491 203.6 491.1Z"/><path fill="rgb(216,185,185)" fill-rule="evenodd" d="M203.6 491 200.6 491.2 197.8 491 195.1 479.3 191.6 465.2 188.1 451.9 184.6 439.4 181.1 427.5 177.1 414.6 173.1 402.2 168.6 388.9 164.1 376.2 159.6 364 154.6 351 149.6 338.4 144.6 326.3 139.1 313.4 133.6 301 127.2 287 132.1 286.8 137 287 142.8 301 147.9 313.5 153.4 327.5 158.3 340.5 164.9 358.5 171.9 378.5 178.4 398.5 184.3 417.5 190.3 438 196.3 460 199.9 474 203.4 488.5 204 491 203.6 491Z"/><path fill="rgb(219,174,174)" fill-rule="evenodd" d="M203.6 491 200.6 491.2 197.9 491 195.1 478.9 191.6 464.8 188.1 451.6 184.6 439.1 181.1 427.2 177.1 414.3 173.1 401.9 168.6 388.6 164.1 375.9 159.6 363.7 155.1 351.9 149.6 338.1 144.6 326 138.6 312 132.6 298.5 127.3 287 132.1 286.8 136.8 287 142.9 301.5 148.3 315 158.4 341 165.3 360 171.9 379 178.3 398.5 184.4 418 190.4 438.5 195.8 458.5 201.8 482.5 203.9 491 203.6 491Z"/><path fill="rgb(221,162,162)" fill-rule="evenodd" d="M203.6 491 200.6 491.2 198 491 195.1 478.5 192.1 466.4 188.6 453.1 185.1 440.5 181.1 426.9 177.1 414 173.1 401.6 168.6 388.3 164.6 377 159.6 363.4 154.6 350.4 149.6 337.8 144.1 324.5 139.1 312.8 133.6 300.4 127.5 287 132.1 286.8 136.7 287 142.3 300.5 147.8 314 153.3 328 158.8 342.5 165.4 360.5 172.3 380.5 178.4 399 184.3 418 189.8 437 195.3 457 200.9 479 203.8 491 203.6 491Z"/><path fill="rgb(224,151,151)" fill-rule="evenodd" d="M203.6 491 200.6 491.2 198.1 491 195.1 478.1 192.1 466.1 188.6 452.8 185.1 440.2 181.6 428.3 177.6 415.2 173.6 402.8 169.1 389.5 164.6 376.7 160.1 364.5 155.1 351.4 149.6 337.5 144.6 325.4 139.1 312.5 133.1 299 127.6 287 132.1 286.8 136.5 287 142.4 301 147.9 314.5 153.4 328.5 158.9 343 165.8 362 171.9 379.5 177.8 397.5 183.9 417 189.3 435.5 194.8 455.5 199.8 475 203.6 491Z"/><path fill="rgb(227,140,140)" fill-rule="evenodd" d="M203.1 491.1 200.6 491.2 198.2 491 195.1 477.8 192.1 465.7 188.6 452.5 185.1 439.9 181.6 428 177.6 415 173.6 402.6 169.1 389.2 164.6 376.5 160.1 364.2 155.1 351.1 150.1 338.5 145.1 326.3 139.6 313.4 134.1 300.9 127.8 287 132.1 286.8 136.4 287 142.9 302.5 148.3 316 153.8 330 159.9 346 166.4 364 173.3 384 179.3 402.5 185.3 422 191.3 443 196.8 463.5 200.3 477.5 203.5 490.5 203.6 491 203.1 491.1Z"/><path fill="rgb(229,128,128)" fill-rule="evenodd" d="M203.1 491 200.6 491.2 198.3 491 195.6 479.5 192.1 465.4 188.6 452.1 185.1 439.6 181.1 426 177.6 414.7 173.6 402.3 169.1 388.9 164.6 376.2 159.6 362.6 154.6 349.6 149.6 337 144.6 324.9 139.1 312 133.6 299.5 127.9 287 132.1 286.8 136.2 287 142.3 301.5 148.8 317.5 154.9 333 160.9 349 167.3 367 173.8 386 179.8 404.5 185.3 422.5 190.8 441.5 196.3 462 199.9 476 203.4 490.5 203.5 491 203.1 491Z"/><path fill="rgb(232,117,117)" fill-rule="evenodd" d="M203.1 491 200.6 491.2 198.4 491 195.6 479.1 192.1 465.1 188.6 451.8 185.1 439.3 181.6 427.4 177.6 414.4 173.6 402 169.1 388.7 164.6 375.9 160.1 363.7 155.1 350.6 150.1 338 145.1 325.8 139.6 312.9 134.1 300.4 128 287 132.1 286.8 136.1 287 142.8 303 149.3 319 155.3 334.5 161.3 350.5 167.8 368.5 173.9 386.5 179.9 405 185.4 423 190.9 442 196.4 462.5 199.8 476 202.8 488.5 203.4 491 203.1 491Z"/><path fill="rgb(235,105,105)" fill-rule="evenodd" d="M203.1 491 200.6 491.2 198.4 491 195.6 478.8 192.1 464.8 188.6 451.5 185.1 439 181.6 427.1 177.6 414.1 173.6 401.8 169.1 388.4 164.6 375.7 160.1 363.4 155.1 350.3 150.1 337.7 145.1 325.5 139.6 312.6 133.6 299 128.1 287 132.1 286.8 135.9 287 142.3 302 148.8 318 154.8 333.5 160.8 349.5 167.3 367.5 173.3 385 179.3 403.5 184.9 421.5 190.4 440.5 195.4 459 201.3 482.5 203.3 491 203.1 491Z"/><path fill="rgb(237,94,94)" fill-rule="evenodd" d="M203.1 491 200.6 491.2 198.5 491 195.6 478.5 192.6 466.4 189.1 453.1 185.6 440.5 182.1 428.5 178.1 415.5 174.1 403 169.6 389.6 165.1 376.8 160.6 364.5 155.6 351.3 150.1 337.4 144.6 324.1 139.6 312.3 134.1 299.8 128.3 287 132.1 286.8 135.8 287 142.3 302.5 148.9 318.5 155.3 335 161.3 351 167.7 369 173.9 387 179.4 404 184.8 421.5 190.3 440.5 195.3 459 200.4 479 203.2 491 203.1 491Z"/><path fill="rgb(240,83,83)" fill-rule="evenodd" d="M203.1 491 200.6 491.2 198.6 491 195.6 478.2 192.6 466.1 189.1 452.8 185.6 440.2 182.1 428.3 178.1 415.2 174.1 402.8 169.6 389.4 165.1 376.6 160.6 364.2 155.6 351.1 150.6 338.4 145.1 325 139.6 312.1 134.1 299.6 128.4 287 132.1 286.8 135.7 287 142.8 304 149.3 320 155.4 335.5 161.4 351.5 167.8 369.5 173.8 387 179.3 404 184.8 422 189.8 439 194.8 457.5 199.3 475 203.1 491Z"/><path fill="rgb(243,71,71)" fill-rule="evenodd" d="M202.6 491.1 200.6 491.2 198.7 491 195.1 475.8 191.6 461.9 187.6 447.1 183.1 431.4 178.6 416.5 174.1 402.5 169.1 387.7 163.6 372.2 155.6 350.8 147.1 329.6 138.1 308.4 128.5 287 132.1 286.8 135.6 287 142.9 304.5 149.8 321.5 156.8 339.5 163.3 357 169.3 374 175.4 392 180.8 409 186.4 427.5 192.3 448.5 197.4 467.5 203.1 491 202.6 491.1Z"/><path fill="rgb(246,60,60)" fill-rule="evenodd" d="M202.6 491 200.6 491.1 198.8 491 195.1 475.5 191.6 461.6 187.6 446.8 183.1 431.1 178.6 416.3 174.1 402.3 169.1 387.4 163.6 371.9 155.6 350.6 147.1 329.3 138.1 308.1 128.6 287 132.1 286.8 135.4 287 142.8 304.5 150.3 323 156.9 340 163.4 357.5 169.4 374.5 175.3 392 180.9 409.5 186.3 427.5 191.8 447 196.8 465.5 199.9 478 203 491 202.6 491Z"/><path fill="rgb(248,48,48)" fill-rule="evenodd" d="M202.6 491 200.6 491.1 198.8 491 195.6 477.2 191.6 461.4 187.6 446.5 183.6 432.5 179.1 417.7 174.1 402 169.1 387.2 164.1 373 156.1 351.7 147.6 330.3 138.6 309 128.8 287 132.1 286.9 135.3 287 142.9 305 149.8 322 156.8 340 163.3 357.5 169.3 374.5 175.4 392.5 180.8 409.5 185.8 426 191.4 445.5 196.3 464 199.8 478 202.9 491 202.6 491Z"/><path fill="rgb(251,37,37)" fill-rule="evenodd" d="M202.6 491 200.6 491.1 198.9 491 195.6 476.9 191.6 461.1 187.6 446.2 183.6 432.3 179.1 417.5 174.6 403.3 169.6 388.4 164.1 372.8 156.1 351.4 147.6 330.1 138.6 308.7 128.9 287 132.1 286.9 135.2 287 142.8 305 150.3 323.5 157.2 341.5 163.7 359 169.7 376 175.3 392.5 180.9 410 185.9 426.5 190.9 444 195.8 462.5 201.3 484.5 202.8 491 202.6 491Z"/><path fill="rgb(254,26,26)" fill-rule="evenodd" d="M202.6 491 200.6 491.1 199 491 195.6 476.6 191.7 461 187.6 446 183.6 432 179.2 417.5 174.6 403.1 169.6 388.2 164.6 374 156.6 352.5 148.1 331 138.6 308.5 129 287 132.1 286.9 135 287 142.3 304 149.8 322.5 156.8 340.5 163.8 359.5 169.8 376.5 175.3 393 180.8 410 185.8 426.5 190.8 444 195.2 460.5 200.3 480.5 202.7 491 202.6 491Z"/><path fill="rgb(251,19,19)" fill-rule="evenodd" d="M202.6 491 200.6 491.1 199.1 491 195.6 476.5 191.7 461 187.7 446 183.7 432 179.1 417 174.7 403 169.6 388 164.7 374 156.7 352.5 148.2 331 138.7 308.5 129.1 287 132.1 286.9 134.9 287 142.8 305.5 150.3 324 157.2 342 164.3 361 170.2 378 175.8 394.5 180.7 410 185.7 426.5 190.3 442.5 194.8 459 199.2 476.5 202.6 491Z"/><path fill="rgb(244,18,18)" fill-rule="evenodd" d="M202.1 491.1 200.6 491.1 199.1 491 195.7 476.5 192.2 462.5 188.2 447.5 184.2 433.5 179.7 418.5 175.2 404.5 170.7 391 165.7 376.5 157.8 355 148.7 332 139.3 309.5 129.2 287 132.1 286.9 134.8 287 143.3 307 150.8 325.5 158.3 345 165.2 364 171.2 381 176.6 397.5 182.2 415 187.2 432 192.7 451.5 197.6 470.5 202.6 491 202.1 491.1Z"/><path fill="rgb(236,17,17)" fill-rule="evenodd" d="M202.1 491 200.6 491.1 199.2 491 195.8 476.5 192.3 462.5 188.2 447.5 184.3 433.5 179.7 418.5 175.3 404.5 170.8 391 165.8 376.5 157.3 353.5 148.8 332 139.4 309.5 129.4 287 132.1 286.9 134.7 287 143.2 307 151.1 326.6 158.6 346.1 165.7 365.5 171.6 382.5 177.2 399.5 182.2 415.5 187.2 432 192.2 450 197.2 469 202.5 491 202.1 491Z"/><path fill="rgb(228,16,16)" fill-rule="evenodd" d="M202.1 491 200.6 491.1 199.3 491 195.7 476 192.2 462 188.3 447.5 184.3 433.5 180.3 420 175.7 405.5 170.7 390.5 165.9 376.5 157.7 354.5 148.9 332 139.3 309 129.5 287 132.1 286.9 134.6 287 143.1 307.1 151.1 326.9 158.6 346.4 165.6 365.5 171.2 381.5 176.6 398 181.6 413.7 186.6 430.5 191.6 448.1 196.6 467 202.4 491 202.1 491Z"/><path fill="rgb(221,15,15)" fill-rule="evenodd" d="M202.1 491 200.6 491.1 199.4 491 195.8 476 192.3 462 188.8 449 184.7 434.5 180.2 419.5 175.8 405.5 171.3 392 166.3 377.5 157.8 354.5 148.8 331.5 139.4 309 129.6 287 132.1 286.9 134.4 287 143.1 307.4 151.1 327.2 159.1 348 166.1 367.2 171.6 383 176.6 398.1 181.6 413.9 186.6 430.6 191.6 448.3 196.1 465.3 201.6 487.7 202.4 491 202.1 491Z"/><path fill="rgb(213,13,13)" fill-rule="evenodd" d="M202.1 491 199.4 491 196.3 477.5 192.8 463.5 188.7 448.5 184.8 434.5 180.3 419.5 175.9 405.5 171.2 391.5 166.4 377.5 158.3 355.5 149.3 332.5 139.9 310 129.7 287 132.1 286.9 134.3 287 142.6 306.5 151.1 327.4 158.6 346.9 166.1 367.4 171.6 383.3 177.1 399.9 182.1 415.8 186.6 430.9 191.1 446.8 195.6 463.7 200.6 483.8 202.3 491 202.1 491Z"/><path fill="rgb(205,12,12)" fill-rule="evenodd" d="M202.1 491 199.5 491 196.3 477.5 192.8 463.5 188.8 448.5 184.9 434.5 180.4 419.5 175.8 405 171.3 391.5 166.3 377 157.8 354 148.8 331 139.8 309.5 129.9 287 132.1 286.9 134.2 287 143.1 308 151.6 329 159.1 348.5 166.6 369.1 172.1 385 177.1 400.2 182.1 416.1 186.6 431.2 191.1 447.1 195.1 462 199.6 480 202.1 490.5 202.2 491 202.1 491Z"/><path fill="rgb(198,11,11)" fill-rule="evenodd" d="M202.1 491 199.6 491 196.3 477 192.8 463 188.8 448 184.8 434 180.8 420.5 176.4 406.5 171.8 392.5 166.7 378 158.3 355 149.3 332 140.4 310.5 130 287 132.6 286.9 134.1 287 134.1 287.1 142.6 307 151.1 328 159.1 348.8 166.6 369.4 172.1 385.3 177.1 400.5 182.1 416.4 186.6 431.4 191.1 447.4 195.1 462.3 199.1 478.2 202.1 491Z"/><path fill="rgb(190,10,10)" fill-rule="evenodd" d="M201.6 491 199.7 491 196.3 476.5 192.9 463 189.3 449.5 185.3 435.5 181.3 422 176.8 407.5 172.3 394 167.4 379.5 158.8 356 149.8 333 139.8 309 130.1 287 133.9 287 134.1 287.4 143.1 308.5 151.6 329.5 159.6 350.4 167.6 372.5 173.1 388.5 178.1 403.8 183.1 419.9 187.6 435.2 192.6 453.2 197.1 470.5 202 491 201.6 491Z"/><path fill="rgb(183,9,9)" fill-rule="evenodd" d="M201.6 491 199.8 491 196.8 478.5 193.3 464.5 189.8 451 185.8 437 181.9 423.5 177.3 409 172.8 395 167.8 380.5 159.3 357 150.3 334 140.8 311 130.2 287 133.8 287 135.1 290 143.6 310 152.6 332.4 160.1 352 168.1 374.2 173.1 388.8 178.1 404.1 183.1 420.2 187.6 435.5 192.6 453.5 196.6 468.8 201.6 489.4 201.9 491 201.6 491Z"/><path fill="rgb(175,7,7)" fill-rule="evenodd" d="M201.6 491 199.9 491 196.8 478 193.3 464 189.9 451 185.8 436.5 181.8 423 177.3 408.5 172.9 395 168.3 381.5 160.3 359.5 155.4 346.5 150.9 335 141.4 312 135.3 298 130.4 287 133.6 287 137.1 295 145.1 314 153.1 333.9 161.1 355 168.1 374.5 173.1 389.1 178.1 404.4 183.1 420.5 187.1 434.1 191.6 450.1 196.1 467.2 201.6 489.8 201.9 491 201.6 491Z"/><path fill="rgb(167,6,6)" fill-rule="evenodd" d="M201.6 491 200 491 196.8 477.5 193.3 463.5 189.8 450.5 185.9 436.5 182.3 424.5 177.9 410 173.3 396 168.4 381.5 164.3 370 159.3 356.5 150.4 333.5 140.9 310.5 130.5 287 133.5 287 139.1 300 146.6 318 154.6 338.1 162.1 358 168.6 376.2 173.6 390.9 178.1 404.7 182.6 419.2 187.1 434.4 191.6 450.4 195.6 465.6 200.6 485.9 201.8 491 201.6 491Z"/><path fill="rgb(160,5,5)" fill-rule="evenodd" d="M201.6 491 200 491 196.9 477.5 193.4 463.5 189.8 450 185.8 436 181.8 422.5 177.8 409.5 173.2 395.5 168.8 382.5 160.4 359 151.3 335.5 141.9 312.5 135.8 298.5 130.7 287 133.3 287 141.1 305 148.1 322 155.6 341 162.6 359.7 169.1 378 174.1 392.8 178.6 406.6 183.1 421.2 187.6 436.5 191.6 450.8 195.6 466 199.6 482.1 201.6 490.6 201.6 491Z"/><path fill="rgb(152,4,4)" fill-rule="evenodd" d="M201.1 491 200.2 491 200.1 490.8 196.9 477 192.8 461 188.8 446 184.4 430.5 177.3 407.5 169.8 385 165.8 373.5 160.9 360 151.9 336.5 146.8 324 141.8 312 136.9 300.5 130.9 287 133.2 287 142.6 309 149.6 326.1 156.6 344 163.1 361.4 169.6 379.8 174.6 394.6 179.1 408.6 184.1 424.9 188.6 440.4 193.1 456.8 197.6 474.4 201.6 491 201.1 491Z"/><path fill="rgb(145,3,3)" fill-rule="evenodd" d="M201.1 491 200.3 491 200.1 490.3 196.9 476.5 192.8 460.5 188.4 444 184.3 430 177.9 409 170.3 386 166.3 374.5 160.8 359.5 151.8 336 146.4 322.5 141.4 310.5 135.3 296.5 131.1 287 132.9 287 133.1 287.3 138.6 300 145.1 315.5 151.6 331.6 157.6 347.1 164.6 366 170.1 381.7 174.6 395 179.1 409 183.6 423.6 188.1 439 192.1 453.5 196.6 470.8 201.1 489.5 201.4 491 201.1 491Z"/><path fill="rgb(137,1,1)" fill-rule="evenodd" d="M201.1 491 200.5 491 196.8 475.5 193.4 462 189.4 447 185.8 434.5 178.9 411.5 174.9 399 170.8 387 162.3 363 157.9 351 152.8 338 142.8 313.5 136.9 299.5 131.3 287 132.7 287 140.1 304 147.6 322.1 154.1 338.4 159.1 351.5 164.6 366.5 170.6 383.6 174.6 395.5 179.1 409.5 183.1 422.5 188.1 439.6 192.1 454.1 196.1 469.4 200.6 488 201.2 491 201.1 491Z"/><path fill="rgb(131,0,0)" fill-rule="evenodd" d="M132.1 288 131.7 287 132.3 287 132.5 287.5 132.1 288Z M135.6 295.9 133.3 290.5 132.1 288 132.6 287.6 133.4 289.5 133.6 289.9 133.8 290.5 134.1 291 134.9 293 136.1 295.5 135.6 295.9Z M139.1 304 138.4 302 137.6 300.5 136.8 298.5 136.6 298.2 135.7 296 136.1 295.5 136.8 297.5 137.1 297.9 137.3 298.5 138.1 300.2 138.3 301 139.1 302.5 139.4 303.5 139.1 304Z M140.1 306.3 139.9 305.5 139.1 304 139.6 303.7 139.8 304.5 140.6 306 140.1 306.3Z M141.6 309.8 141.4 309 140.6 307.5 140.3 306.5 140.6 306 140.9 307 141.1 307.2 141.3 308 141.6 308.4 142 309.5 141.6 309.8Z M143.1 313.4 142.8 312.5 142.1 311 141.8 310 142.1 309.6 142.4 310.5 143.1 312 143.4 313 143.1 313.4Z M144.1 315.8 143.9 315 143.6 314.6 143.2 313.5 143.6 313.2 143.8 314 144.1 314.4 144.5 315.5 144.1 315.8Z M145.6 319.4 145.3 318.5 145.1 318.2 144.9 317.5 144.6 317 144.3 316 144.6 315.6 144.9 316.5 145.1 316.8 145.3 317.5 145.6 318 145.9 319 145.6 319.4Z M146.6 321.8 146.4 321 146.1 320.6 145.7 319.5 146.1 319.2 146.9 321.5 146.6 321.8Z M147.6 324.3 146.8 322 147.1 321.7 147.3 322.5 147.6 322.9 148 324 147.6 324.3Z M148.6 326.7 147.8 324.5 148.1 324.1 148.3 325 148.6 325.4 149 326.5 148.6 326.7Z M149.6 329.2 148.8 327 149.1 326.6 149.3 327.5 149.6 327.9 150 329 149.6 329.2Z M150.6 331.7 150.4 331 150.1 330.5 149.8 329.5 150.1 329.1 150.3 330 150.6 330.4 151 331.5 150.6 331.7Z M151.6 334.2 151.4 333.5 151.1 333 150.8 332 151.1 331.6 151.3 332.5 151.6 332.9 151.9 334 151.6 334.2Z M152.6 336.8 152.4 336 152.1 335.5 151.8 334.5 152.1 334.1 152.3 335 152.6 335.4 152.9 336.5 152.6 336.8Z M153.6 339.3 153.4 338.5 153.1 338.1 152.8 337 153.1 336.7 153.3 337.5 153.6 337.9 153.9 339 153.6 339.3Z M154.6 341.9 154.4 341 154.1 340.6 153.8 339.5 154.1 339.2 154.3 340 154.6 340.5 154.8 341.5 154.6 341.9Z M155.1 343.2 154.8 342 155.1 341.8 155.4 343 155.1 343.2Z M156.1 345.8 155.9 345 155.6 344.5 155.4 343.5 155.6 343.1 155.8 344 156.1 344.4 156.4 345.5 156.1 345.8Z M157.1 348.4 156.9 347.5 156.6 347.1 156.3 346 156.6 345.7 156.8 346.5 157.1 347 157.3 348 157.1 348.4Z M157.6 349.7 157.3 348.5 157.6 348.3 157.9 349.5 157.6 349.7Z M158.6 352.3 158.4 351.5 158.1 351 157.9 350 158.1 349.7 158.3 350.5 158.6 351 158.8 352 158.6 352.3Z M159.1 353.7 158.8 352.5 159.1 352.3 159.4 353.5 159.1 353.7Z M160.1 356.3 159.9 355.5 159.6 355 159.4 354 159.6 353.6 159.8 354.5 160.1 355 160.3 356 160.1 356.3Z M160.6 357.7 160.3 356.5 160.6 356.3 160.9 357.5 160.6 357.7Z M161.6 360.4 161.4 359.5 161.1 359 160.9 358 161.1 357.7 161.3 358.5 161.6 359 161.8 360 161.6 360.4Z M162.1 361.7 161.8 360.5 162.1 360.4 162.3 361.5 162.1 361.7Z M162.6 363.1 162.4 362 162.6 361.8 162.9 363 162.6 363.1Z M163.1 364.5 162.9 363.5 163.1 363.1 163.3 364 163.1 364.5Z M163.6 365.8 163.4 365 163.1 364.5 163.6 364.5 163.8 365.5 163.6 365.8Z M164.1 367.2 163.9 366 164.1 365.9 164.3 367 164.1 367.2Z M164.6 368.6 164.4 367.5 164.6 367.3 164.8 368.5 164.6 368.6Z M165.1 370 164.9 369 165.1 368.7 165.4 370 165.1 370Z M165.6 371.4 165.4 370.5 165.6 370 165.8 371 165.6 371.4Z M166.1 372.8 165.9 371.5 166.1 371.4 166.3 372.5 166.1 372.8Z M166.6 374.2 166.4 373 166.6 372.9 166.8 374 166.6 374.2Z M167.1 375.6 166.9 374.5 167.1 374.3 167.3 375.5 167.1 375.6Z M167.6 377.1 167.4 376 167.6 375.7 167.8 377 167.6 377.1Z M168.1 378.5 167.9 377.5 168.1 377.1 168.3 378 168.1 378.5Z M168.6 379.9 168.4 379 168.6 378.6 168.8 379.5 168.6 379.9Z M169.1 381.3 169 380.5 169 380 169.1 380 169.3 381 169.1 381.3Z M169.6 382.8 169.4 381.5 169.6 381.4 169.8 382.5 169.6 382.8Z M170.1 384.2 169.9 383 170.1 382.9 170.3 384 170.1 384.2Z M170.6 385.7 170.4 384.5 170.6 384.4 170.8 385.5 170.6 385.7Z M171.1 387.2 170.9 386 171.1 385.8 171.3 387 171.1 387.2Z M171.6 388.6 171.4 387.5 171.6 387.3 171.8 388.5 171.6 388.6Z M172.1 390.1 171.9 389 172.1 388.8 172.3 390 172.1 390.1Z M172.6 391.6 172.4 390.5 172.6 390.3 172.8 391.5 172.6 391.6Z M173.1 393.1 172.9 392 173.1 391.8 173.3 393 173.1 393.1Z M173.6 394.6 173.4 393.5 173.6 393.3 173.8 394.5 173.6 394.6Z M174.1 396.1 173.9 395 174.1 394.8 174.3 396 174.1 396.1Z M174.6 397.6 174.4 396.5 174.6 396.3 174.8 397.5 174.6 397.6Z M175.1 399.2 174.9 398 175.1 397.8 175.3 399 175.1 399.2Z M175.6 400.7 175.4 399.5 175.6 399.4 175.8 400.5 175.6 400.7Z M176.1 402.2 176 401 176.1 400.9 176.3 402 176.1 402.2Z M176.6 403.8 176.5 402.5 176.6 402.4 176.7 403.5 176.6 403.8Z M177.1 405.3 177 404.5 177 404 177.1 404 177.2 405 177.1 405.3Z M177.6 406.9 177.5 406 177.6 405.5 177.7 406.5 177.6 406.9Z M178.1 408.5 178 407.5 178.1 407.1 178.2 408 178.1 408.5Z M178.6 410.1 178.5 409 178.6 408.7 178.7 409.5 178.7 410 178.6 410.1Z M179.1 411.6 179 410.5 179.1 410.3 179.2 411.5 179.1 411.6Z M179.6 413.2 179.5 412 179.6 411.9 179.7 413 179.6 413.2Z M180.1 414.8 180 414 180 413.5 180.1 413.5 180.2 414.5 180.1 414.8Z M180.6 416.5 180.5 415.5 180.6 415.1 180.7 416 180.6 416.5Z M181.1 418.1 181 417 181.1 416.7 181.2 417.5 181.2 418 181.1 418.1Z M181.6 419.7 181.5 418.5 181.6 418.3 181.7 419.5 181.6 419.7Z M182.1 421.4 182 420.5 182.1 420 182.2 421 182.1 421.4Z M182.6 423 182.5 422 182.6 421.6 182.7 422.5 182.6 423Z M183.1 424.7 183 423.5 183.1 423.3 183.2 424.5 183.1 424.7Z M183.6 426.3 183.5 425.5 183.5 425 183.6 424.9 183.7 426 183.6 426.3Z M184.1 428 184 427 184.1 426.6 184.2 427.5 184.1 428Z M184.6 429.7 184.5 428.5 184.6 428.3 184.7 429.5 184.6 429.7Z M185.1 431.4 185 430.5 185.1 430 185.2 431 185.1 431.4Z M185.6 433.1 185.5 432 185.6 431.7 185.7 433 185.6 433.1Z M186.1 434.8 186 434 186 433.5 186.1 433.4 186.2 434.5 186.1 434.8Z M186.6 436.6 186.5 435.5 186.6 435.2 186.7 436 186.7 436.5 186.6 436.6Z M187.1 438.3 187 437.5 187 437 187.1 436.9 187.2 438 187.1 438.3Z M187.6 440.1 187.5 439 187.6 438.6 187.7 439.5 187.7 440 187.6 440.1Z M188.1 441.9 188 441 188 440.5 188.1 440.4 188.2 441.5 188.1 441.9Z M188.6 443.6 188.5 442.5 188.6 442.2 188.7 443.5 188.6 443.6Z M189.1 445.5 189 444.5 189.1 443.9 189.2 445 189.1 445.5Z M189.6 447.2 189.5 446 189.6 445.8 189.7 447 189.6 447.2Z M190.1 449.1 190 448 190.1 447.6 190.2 448.5 190.1 449.1Z M190.6 450.9 190.5 450 190.5 449.5 190.6 449.4 190.7 450.5 190.6 450.9Z M191.1 452.7 191 451.5 191.1 451.2 191.2 452.5 191.1 452.7Z M191.6 454.6 191.5 453.5 191.6 453.1 191.7 454 191.6 454.6Z M192.1 456.5 192 455.5 192.1 454.9 192.2 456 192.1 456.5Z M192.6 458.4 192.5 457 192.6 456.8 192.7 458 192.6 458.4Z M193.1 460.2 193 459 193.1 458.7 193.2 460 193.1 460.2Z M193.6 462.2 193.5 461 193.6 460.6 193.7 462 193.6 462.2Z M194.1 464.1 194 463 194.1 462.5 194.2 463.5 194.1 464.1Z M194.6 466.1 194.5 465 194.6 464.4 194.7 465.5 194.6 466.1Z M195.1 468 195 467 195.1 466.4 195.2 467.5 195.1 468Z M195.6 470 195.5 469 195.5 468.5 195.6 468.4 195.7 469.5 195.6 470Z M196.1 472 196 471 196 470.5 196.1 470.4 196.2 471.5 196.1 472Z M196.6 474 196.5 473 196.5 472.5 196.6 472.4 196.7 473.5 196.6 474Z M197.1 476 197 475 197 474.5 197.1 474.4 197.2 475.5 197.1 476Z M197.6 478.1 197.5 477 197.6 476.4 197.7 477.5 197.6 478.1Z M198.1 480.1 198 479 198.1 478.4 198.2 479.5 198.2 480 198.1 480.1Z M198.6 482.2 198.5 481 198.6 480.5 198.7 482 198.6 482.2Z M199.1 484.3 199 483 199.1 482.6 199.2 484 199.1 484.3Z M199.6 486.5 199.5 485 199.6 484.7 199.7 486 199.6 486.5Z M200.1 488.6 200 487.5 200 487 200.1 486.8 200.2 488 200.1 488.6Z M200.6 490.8 200.5 489.5 200.6 489 200.7 490.5 200.6 490.8Z"/>
</g>
<rect x="50.1" y="290.0" width="221.90" height="198.20" fill="none" stroke="#262626" stroke-width="0.6" stroke-opacity="0.8"/>
<rect x="296.5" y="289.8" width="13.90" height="198.40" fill="url(#cgc)" stroke="#262626" stroke-width="0.6" stroke-opacity="0.7"/>
<text transform="translate(315.2,494.3) scale(1,1.07)" text-anchor="start" font-size="15.2" fill="#333333">0 (%)</text>
<text transform="translate(315.2,454.6) scale(1,1.07)" text-anchor="start" font-size="15.2" fill="#333333">20</text>
<line x1="307.9" y1="448.5" x2="310.4" y2="448.5" stroke="#262626" stroke-width="0.6"/>
<text transform="translate(315.2,415.0) scale(1,1.07)" text-anchor="start" font-size="15.2" fill="#333333">40</text>
<line x1="307.9" y1="408.8" x2="310.4" y2="408.8" stroke="#262626" stroke-width="0.6"/>
<text transform="translate(315.2,375.3) scale(1,1.07)" text-anchor="start" font-size="15.2" fill="#333333">60</text>
<line x1="307.9" y1="369.2" x2="310.4" y2="369.2" stroke="#262626" stroke-width="0.6"/>
<text transform="translate(315.2,335.6) scale(1,1.07)" text-anchor="start" font-size="15.2" fill="#333333">80</text>
<line x1="307.9" y1="329.5" x2="310.4" y2="329.5" stroke="#262626" stroke-width="0.6"/>
<text transform="translate(315.2,295.9) scale(1,1.07)" text-anchor="start" font-size="15.2" fill="#333333">100</text>
<g clip-path="url(#clipd)">
<rect x="415.0" y="290.0" width="212.80" height="198.20" fill="rgb(0, 0, 128)"/>
<path fill="rgb(1,1,132)" fill-rule="evenodd" d="M630.5 491.1 619 491 604 484 584 475 560 464.5 549 460 538.6 456 527.4 452 517.2 448.5 489.5 439.3 475 434.2 440 420.8 426 415.3 412 409.5 411.5 337 411.9 287 412 286.9 443.1 287 453.5 294.1 467 303.7 478 311.8 487.5 319.2 499.5 328.8 540.5 363 570 387.2 585 399.7 605 416.8 630.5 439.3 631 465 630.5 491.1Z"/><path fill="rgb(1,1,134)" fill-rule="evenodd" d="M630.5 486.9 613.8 478 592.1 467 563.6 453 547.7 445.5 536.3 440.5 524.5 435.5 488 420.8 474.5 415.2 436 398.7 412 388.3 411.5 336 412 288.3 422 294.2 432 300.2 442.5 306.7 452 312.8 462.5 319.7 473 326.8 481.5 332.7 490.5 339.2 510.5 354.2 565 395.8 580.5 407.7 592.5 417.2 605 427.3 617 437.2 630.5 448.5 631 465 630.5 486.9Z"/><path fill="rgb(1,1,137)" fill-rule="evenodd" d="M630.5 482.1 610.9 471.5 587 459 559.6 445 545.2 438 524.5 428.5 480 409.2 412 378.8 411.6 353 411.5 336 412 297.7 422.5 303.7 432 309.3 442.5 315.7 454 322.9 474 335.8 483.5 342.2 493.5 349.2 507.5 359.3 537.5 381.2 564 400.7 579.5 412.2 592 421.8 605.5 432.3 618.5 442.7 630.5 452.5 631 465 630.5 482.1Z"/><path fill="rgb(2,2,139)" fill-rule="evenodd" d="M630.5 479.1 607.4 466.5 581.1 452.5 558.1 440.5 543 433 521.8 423 481 404.7 412 373 411.6 352 411.5 336 412 303.4 432 314.8 453.5 327.8 474 340.8 483 346.7 492.5 353.2 507.5 363.7 531.5 380.7 559.5 400.8 574 411.3 598 429.3 611.5 439.7 623.5 449.2 630.5 454.9 631 465 630.5 479.1Z"/><path fill="rgb(2,2,142)" fill-rule="evenodd" d="M630.5 476.8 602.4 461.5 574.4 446.5 556.4 437 541.6 429.5 517.5 418 482 401.7 412 369.1 411.7 351 411.5 336 412 307.2 431.5 318.2 451 329.8 472.5 343.2 490 354.7 504 364.3 522 376.8 567.5 408.8 591.5 426.3 603.5 435.3 614.5 443.8 630.5 456.4 631 465 630.5 476.8Z"/><path fill="rgb(3,3,145)" fill-rule="evenodd" d="M630.5 475.1 595.5 456 570.5 442.5 554.5 434 539.8 426.5 515 414.5 484.5 400.3 448 383 412 366.1 411.7 350 411.5 336 412 310.1 431 320.7 450.5 332.2 471 344.8 488 355.7 516 374.7 561.5 406.2 586 423.7 607 439.3 620 449.2 630.5 457.5 631 465 630.5 475.1Z"/><path fill="rgb(3,3,147)" fill-rule="evenodd" d="M630.5 473.8 570.6 441 553.7 432 539.1 424.5 527.1 418.5 513.6 412 446.3 380 412 363.8 411.7 349.5 411.5 336 412 312.3 431.5 323.2 450.5 334.3 471 346.7 487.5 357.3 513 374.3 556 403.7 579.5 420.2 599.5 434.7 615.5 446.7 630.5 458.3 631 465 630.5 473.8Z"/><path fill="rgb(3,3,150)" fill-rule="evenodd" d="M630.5 472.7 568.3 438.5 552.5 430 537.9 422.5 524.9 416 510.5 409 448 379 412 361.9 411.7 348.5 411.5 336 411.6 327 412 314.1 429.5 323.8 448.5 334.7 470 347.7 486 357.8 509.5 373.3 550 400.7 574 417.3 595 432.2 614 446.3 630.5 458.9 631 465 630.5 472.7Z"/><path fill="rgb(4,4,152)" fill-rule="evenodd" d="M630.5 471.9 568.4 437.5 552.7 429 537.3 421 523.4 414 509.1 407 448 377.5 412 360.3 411.7 348 411.5 336 411.7 327.5 412 315.6 430.5 325.8 449.5 336.7 469.5 348.7 485.5 358.7 508.5 373.8 546.5 399.2 570 415.3 590.5 429.7 610.5 444.3 630.5 459.4 631 465 630.5 471.9Z"/><path fill="rgb(4,4,155)" fill-rule="evenodd" d="M630.5 471.3 593.5 450.5 571 438 553.5 428.5 536.4 419.5 522.5 412.5 507.3 405 448.6 376.5 412 359 411.7 347.5 411.5 336 411.7 328 412 316.8 430 326.7 448.5 337.3 468.5 349.2 484.5 359.2 507 373.7 542.5 397.3 566 413.2 587.5 428.2 610.5 444.8 630.5 459.8 631 465 630.5 471.3Z"/><path fill="rgb(5,5,157)" fill-rule="evenodd" d="M630.5 470.8 601 454 571.5 437.5 553.2 427.5 537.1 419 522.4 411.5 506.2 403.5 449.9 376 412 357.8 411.7 346.5 411.5 336 411.7 328.5 412 317.9 430 327.8 447.5 337.7 467 349.3 484 359.8 506.5 374.2 540 396.3 563 411.8 584 426.2 596 434.7 608.5 443.7 630.5 460.1 631 465 630.5 470.8Z"/><path fill="rgb(5,5,160)" fill-rule="evenodd" d="M630.5 470.3 602 454 574.5 438.5 554.6 427.5 536.7 418 522.1 410.5 505 402 449.9 375 412 356.8 411.7 346 411.5 336 411.6 329 412 318.9 430 328.7 448.5 339.2 468 350.7 483.5 360.2 505.5 374.3 537.5 395.3 560 410.3 580.5 424.3 594 433.7 606 442.3 619.5 452.2 630.5 460.4 630.9 465 630.5 470.3Z"/><path fill="rgb(5,5,162)" fill-rule="evenodd" d="M630.5 470 602 453.5 576.5 439 553.9 426.5 536.1 417 520.6 409 502.5 400 449.6 374 412 355.9 411.7 345.5 411.5 336 411.7 329 412 319.7 429.5 329.2 446.5 338.8 466 350.3 482.5 360.3 504.5 374.3 536 394.8 558.5 409.7 578.5 423.3 593.5 433.7 605.5 442.3 618.5 451.7 630.5 460.7 630.9 465 630.5 470Z"/><path fill="rgb(6,6,165)" fill-rule="evenodd" d="M630.5 469.7 601 452.5 576.5 438.5 555 426.5 535.4 416 512 404 464.5 380.5 440 368.5 412 355 411.7 345 411.5 336 411.7 329.5 412 320.4 429 329.6 446 339.2 464 349.7 481.5 360.3 502 373.2 533 393.3 555 407.8 575 421.3 589.5 431.3 603 440.8 617.5 451.3 630.5 460.9 630.9 465 630.9 466.5 630.5 469.7Z"/><path fill="rgb(6,6,167)" fill-rule="evenodd" d="M630.5 469.5 602.5 453 575.5 437.5 555 426 535.6 415.5 512.2 403.5 464.9 380 440.5 368 412 354.3 411.7 344.5 411.6 336 411.7 329.5 412 321.1 428 329.7 445 339.3 463 349.7 480.5 360.3 500.5 372.8 530 391.8 553.5 407.2 573 420.2 589 431.2 602.5 440.7 616.5 450.8 630.5 461.1 630.8 463.5 630.9 465 630.9 466.5 630.5 469.5Z"/><path fill="rgb(7,7,170)" fill-rule="evenodd" d="M630.5 469.2 603 453 574.5 436.5 554.1 425 534.7 414.5 511.4 402.5 465.2 379.5 439.8 367 412 353.6 411.7 344 411.6 336 411.7 330 412 321.7 429.5 331.1 446.5 340.7 465.5 351.7 480.5 360.8 500.5 373.3 528.5 391.2 551.5 406.2 572.5 420.2 586.5 429.8 601.5 440.2 615.5 450.2 630.5 461.3 630.8 463.5 630.9 465 630.9 466.5 630.5 469.2Z"/><path fill="rgb(7,7,172)" fill-rule="evenodd" d="M630.5 469 603.5 453 576 437 553 424 534.6 414 511.4 402 466.4 379.5 440 366.5 412 352.9 411.6 336 411.7 330 412 322.2 429.5 331.7 446.5 341.2 464 351.3 480.5 361.2 500.5 373.7 528 391.2 551 406.2 570 418.8 585.5 429.3 600.5 439.7 616 450.8 630.5 461.4 630.8 463.5 630.9 465 630.9 466.5 630.5 469Z"/><path fill="rgb(7,7,175)" fill-rule="evenodd" d="M630.5 468.9 600.6 451 574 435.5 551 422.5 533.5 413 510.4 401 466.5 379 440.1 366 412 352.4 411.6 336 411.7 330.5 412 322.7 429.5 332.2 447.5 342.2 466.5 353.2 481.5 362.2 500 373.7 527.5 391.2 550 405.8 568 417.7 585 429.2 599.5 439.2 615 450.2 630.5 461.6 630.8 463.5 630.9 465 630.8 466.5 630.5 468.9Z"/><path fill="rgb(8,8,178)" fill-rule="evenodd" d="M630.5 468.7 603.5 452.5 574.5 435.5 552.5 423 532.4 412 509.4 400 466.5 378.5 440.2 365.5 412 351.8 411.6 336 411.7 330.5 412 323.2 428 331.8 445 341.2 462.5 351.3 480 361.7 499.5 373.8 525.5 390.3 548 404.8 567 417.3 584 428.7 598.5 438.7 615.5 450.8 630.5 461.7 630.8 463.5 630.9 465 630.8 466.5 630.5 468.7Z"/><path fill="rgb(8,8,180)" fill-rule="evenodd" d="M630.5 468.6 603 452 575 435.5 554 423.5 533.1 412 520.8 405.5 509.2 399.5 467.4 378.5 440.2 365 412 351.3 411.6 336 411.7 330.5 412 323.6 429 332.7 446 342.2 463.5 352.3 479.5 361.8 499 373.8 523.5 389.3 546 403.7 564.5 415.8 583 428.2 599 439.2 616 451.3 630.5 461.8 630.8 463.5 630.9 465 630.8 466.5 630.5 468.6Z"/><path fill="rgb(9,9,183)" fill-rule="evenodd" d="M630.5 468.5 602.5 451.5 574.5 435 550.9 421.5 530.9 410.5 508 398.5 466.3 377.5 440.1 364.5 412 350.8 411.6 336 411.7 331 412 324 427.5 332.3 444.5 341.7 462 351.7 479 361.8 498.5 373.8 521.5 388.2 545 403.3 564 415.7 582 427.7 598 438.7 615 450.7 630.5 461.9 630.8 463.5 630.9 465 630.8 466.5 630.5 468.5Z"/><path fill="rgb(9,9,185)" fill-rule="evenodd" d="M630.5 468.4 604.4 452.5 577.5 436.5 554.1 423 531.5 410.5 519.3 404 507.7 398 468.1 378 441 364.5 412 350.4 411.6 336 411.7 331 412 324.4 428.5 333.2 444 341.8 461.5 351.8 478.5 361.8 495.5 372.2 518 386.3 541.5 401.2 561.5 414.2 581 427.2 598.5 439.2 617 452.2 630.5 462 630.8 463.5 630.9 465 630.8 466.5 630.5 468.4Z"/><path fill="rgb(9,9,188)" fill-rule="evenodd" d="M630.5 468.3 603 451.5 577 436 551 421 531.1 410 519 403.5 507.4 397.5 467.9 377.5 440.8 364 412 350 411.6 336 411.7 331 412 324.7 428 333.3 445 342.7 461 351.8 478 361.8 496 372.8 516 385.2 540.5 400.8 560.5 413.8 578.5 425.7 595.5 437.3 614 450.2 630.5 462.1 630.8 463.5 630.9 465 630.8 466.5 630.5 468.3Z"/><path fill="rgb(10,10,190)" fill-rule="evenodd" d="M630.5 468.2 602.4 451 576.4 435.5 550.5 420.5 529.8 409 507.1 397 468.6 377.5 440.6 363.5 412 349.6 411.6 336 411.7 331 412 325 427.5 333.3 444.5 342.7 460.5 351.8 477.5 361.8 494 371.8 516.5 385.8 538.5 399.7 559.5 413.3 579 426.2 596 437.7 612.5 449.3 630.5 462.2 630.9 465 630.8 466.5 630.5 468.2Z"/><path fill="rgb(10,10,193)" fill-rule="evenodd" d="M630.5 468.1 601 450 572.5 433 550 420 528.4 408 505.7 396 467.3 376.5 440.3 363 412 349.2 411.6 336 411.7 331.5 412 325.3 429.5 334.7 445 343.2 462.5 353.2 478 362.3 494.5 372.3 514.5 384.7 537.5 399.2 558.5 412.8 578 425.7 596.5 438.2 613 449.7 630.5 462.2 630.9 465 630.8 466.5 630.5 468.1Z"/><path fill="rgb(11,11,195)" fill-rule="evenodd" d="M630.5 468 602 450.5 574.5 434 549.5 419.5 527.9 407.5 504.3 395 468 376.5 441 363 412 348.8 411.6 336 411.7 331.5 412 325.6 429 334.7 444.5 343.2 460.5 352.3 477.5 362.2 494 372.2 515 385.2 538 399.7 557.5 412.3 576.5 424.8 595 437.3 611.5 448.8 630.5 462.3 630.9 465 630.8 466.5 630.5 468Z"/><path fill="rgb(11,11,198)" fill-rule="evenodd" d="M630.5 467.9 603.1 451 573.1 433 548.9 419 527.4 407 503.9 394.5 468.6 376.5 441.6 363 412 348.5 411.6 336 411.7 331.5 412 325.9 428.5 334.7 445 343.8 462.5 353.7 478 362.8 494.5 372.7 515.5 385.7 538.5 400.2 558 412.7 577 425.2 595.5 437.7 613.5 450.3 630.5 462.4 630.9 465 630.8 466.5 630.5 467.9Z"/><path fill="rgb(11,11,200)" fill-rule="evenodd" d="M630.5 467.8 604.1 451.5 575 434 551 420 526.9 406.5 503.4 394 468.2 376 441.2 362.5 412 348.2 411.6 336 411.7 331.5 412 326.1 429 335.2 444.5 343.7 463 354.2 478.5 363.3 495 373.2 516 386.2 537.5 399.7 557 412.2 577.5 425.7 596 438.2 614 450.7 630 462.1 630.5 462.5 630.9 464.5 630.8 466 630.5 467.8Z"/><path fill="rgb(12,12,203)" fill-rule="evenodd" d="M630.5 467.8 605 452 576.1 434.5 553 421 529.1 407.5 506.7 395.5 475.6 379.5 444.8 364 412 347.9 411.6 336 411.7 331.5 412 326.4 428.5 335.1 445 344.2 461 353.3 476.5 362.3 494 372.8 515 385.7 536.5 399.2 556 411.7 576 424.8 594.5 437.3 612.5 449.7 630 462.2 630.5 462.5 630.9 464.5 630.8 466 630.5 467.8Z"/><path fill="rgb(12,12,205)" fill-rule="evenodd" d="M630.5 467.7 606 452.5 575.4 434 551.5 420 528.5 407 506.2 395 475.1 379 444.4 363.5 412 347.6 411.6 336 411.7 332 412 326.6 426.5 334.3 443 343.3 460.5 353.2 477 362.8 494.5 373.3 514 385.3 535.5 398.7 555 411.2 575 424.3 595 437.7 614.5 451.2 630.5 462.6 630.9 465 630.8 466 630.5 467.7Z"/><path fill="rgb(13,13,208)" fill-rule="evenodd" d="M630.5 467.6 604.5 451.5 573.9 433 550.1 419 527 406 503.7 393.5 468.7 375.5 440.9 361.5 412 347.3 411.6 336 411.7 332 412 326.8 427 334.8 443.5 343.8 462 354.2 477.5 363.2 495 373.7 514.5 385.7 534.5 398.2 555 411.3 574 423.7 593.5 436.8 613 450.2 630.5 462.6 630.9 465 630.8 466 630.5 467.6Z"/><path fill="rgb(13,13,211)" fill-rule="evenodd" d="M630.5 467.6 603 450.5 575 433.5 548.6 418 525.5 405 502.2 392.5 468.2 375 441.4 361.5 412 347 411.6 336 411.7 332 412 327 427.5 335.2 444 344.3 460 353.3 478 363.7 494 373.3 513.5 385.2 536 399.3 554 410.7 574 423.8 594 437.2 611.5 449.2 630.5 462.7 630.9 465 630.8 466 630.5 467.6Z"/><path fill="rgb(13,13,213)" fill-rule="evenodd" d="M630.5 467.5 601.5 449.5 573.5 432.5 547.1 417 524 404 501.6 392 467.7 374.5 440.9 361 412 346.8 411.6 336 411.7 332 412 327.2 428 335.7 444.5 344.7 460.5 353.7 477 363.3 494.5 373.7 512.5 384.8 535 398.8 553 410.2 573 423.2 592.5 436.2 613.5 450.7 630.5 462.7 630.9 465 630.8 466 630.5 467.5Z"/><path fill="rgb(14,14,216)" fill-rule="evenodd" d="M630.5 467.5 602.5 450 574.5 433 549 418 526.1 405 515.1 399 501 391.5 470.1 375.5 442.4 361.5 412 346.5 411.6 336 411.7 332 412 327.4 429.5 336.7 445 345.2 462 354.7 477.5 363.7 493.5 373.3 511.5 384.3 534 398.3 552 409.7 573 423.3 593 436.7 612 449.7 630.5 462.8 630.9 465 630.8 466 630.5 467.5Z"/><path fill="rgb(14,14,218)" fill-rule="evenodd" d="M630.5 467.4 601 449 573 432 547.5 417 524.5 404 500.4 391 468.5 374.5 440.8 360.5 412 346.3 411.6 336 411.7 332 412 327.6 427.5 335.8 444 344.8 460 353.8 476.5 363.3 492.5 372.8 512 384.7 533 397.7 552 409.8 573.5 423.7 593 436.7 612 449.8 630.5 462.9 630.9 465 630.8 466 630.5 467.4Z"/><path fill="rgb(15,15,221)" fill-rule="evenodd" d="M630.5 467.4 603.5 450.5 574 432.5 548.5 417.5 526.6 405 503.5 392.5 468.9 374.5 441.2 360.5 412 346.1 411.6 336 411.7 332.5 412 327.8 428 336.2 444.5 345.2 461.5 354.8 477 363.7 493 373.2 511 384.2 532 397.2 551 409.2 571 422.2 591.5 435.8 612.5 450.2 630.5 462.9 630.9 465 630.8 466 630.5 467.4Z"/><path fill="rgb(15,15,223)" fill-rule="evenodd" d="M630.5 467.3 602 449.5 575 433 547 416.5 525 404 501 391 468.3 374 440.7 360 412 345.9 411.6 336 411.7 332.5 412 327.9 427 335.8 443.5 344.8 459.5 353.8 476 363.3 492 372.8 512.5 385.2 533.5 398.2 551 409.3 572.5 423.2 592 436.2 611 449.2 629.5 462.2 630.5 463 630.8 464 630.8 465.5 630.5 467.3Z"/><path fill="rgb(15,15,226)" fill-rule="evenodd" d="M630.5 467.3 600.5 448.5 575.9 433.5 551.5 419 527 405 504.1 392.5 472.5 376 443 361 412 345.7 411.6 336 411.7 332.5 412 328.1 427.5 336.3 444 345.2 461 354.8 476.5 363.7 493.5 373.8 511.5 384.7 532.5 397.7 550 408.8 572.5 423.3 592 436.3 611 449.3 630 462.6 630.5 463 630.8 464.5 630.8 466 630.5 467.3Z"/><path fill="rgb(16,16,228)" fill-rule="evenodd" d="M630.5 467.2 603 450 573.6 432 546.5 416 524.5 403.5 501.5 391 468 373.5 440.4 359.5 412 345.5 411.6 336 411.7 332.5 412 328.2 428 336.7 443 344.8 459 353.8 475.5 363.2 491.5 372.7 510.5 384.2 530 396.2 549 408.2 570 421.7 591 435.7 609.5 448.3 630 462.7 630.5 463 630.8 464.5 630.8 466 630.5 467.2Z"/><path fill="rgb(16,16,231)" fill-rule="evenodd" d="M630.5 467.2 601.5 449 574.5 432.5 547.5 416.5 526.5 404.5 512.9 397 500.9 390.5 470.3 374.5 441.8 360 412 345.3 411.6 336 411.7 332.5 412 328.4 427 336.3 443.5 345.2 460.5 354.7 477 364.2 493 373.7 512 385.2 531.5 397.3 549 408.3 570 421.8 591 435.7 611.5 449.7 630 462.7 630.5 463.1 630.8 464.5 630.8 466 630.5 467.2Z"/><path fill="rgb(17,17,233)" fill-rule="evenodd" d="M630.5 467.2 600 448 573 431.5 548.5 417 524 403 501.1 390.5 468.6 373.5 441.1 359.5 412 345.1 411.6 336 411.7 332.5 412 328.5 427.5 336.7 442.5 344.8 459.5 354.3 476 363.8 492 373.2 509.5 383.8 530.5 396.7 548 407.7 569 421.2 589.5 434.8 610 448.7 630 462.7 630.5 463.1 630.8 464.5 630.8 465.5 630.5 467.2Z"/><path fill="rgb(17,17,236)" fill-rule="evenodd" d="M630.5 467.1 602.5 449.5 573.9 432 549.5 417.5 526 404 512.4 396.5 499.5 389.5 468.9 373.5 441.5 359.5 412 344.9 411.6 336 411.7 332.5 412 328.6 426.5 336.3 443 345.2 460 354.7 475 363.3 491 372.7 508.5 383.3 529.5 396.2 548 407.8 569 421.3 590 435.2 610 448.8 630.5 463.1 630.8 465 630.8 466 630.5 467.1Z"/><path fill="rgb(17,17,238)" fill-rule="evenodd" d="M630.5 467.1 601 448.5 574 432 547.9 416.5 523.5 402.5 499.7 389.5 468.2 373 440.8 359 412 344.7 411.6 336 412 328.8 428 337.2 444.5 346.2 460 354.8 476.5 364.3 492.5 373.7 510 384.3 529.5 396.3 547 407.2 568 420.7 590 435.2 612 450.2 630.5 463.2 630.8 465 630.8 466 630.5 467.1Z"/><path fill="rgb(18,18,241)" fill-rule="evenodd" d="M630.5 467 603.5 450 575 432.5 548.9 417 524.5 403 511 395.5 499 389 468.5 373 441.1 359 412 344.6 411.6 336 412 328.9 427 336.8 443.5 345.7 460.5 355.2 475.5 363.8 491.5 373.2 509 383.8 528.5 395.7 547 407.3 569.5 421.7 590 435.3 610.5 449.2 630.5 463.2 630.8 465 630.8 466 630.5 467Z"/><path fill="rgb(18,18,244)" fill-rule="evenodd" d="M630.5 467 602 449 573.4 431.5 546.5 415.5 522 401.5 497.3 388 466.8 372 440.4 358.5 412 344.4 411.6 336 412 329 427.5 337.2 442.5 345.3 459.5 354.7 476 364.2 490.5 372.7 508 383.2 527.5 395.2 546 406.7 567 420.2 589 434.7 610.5 449.2 630.5 463.2 630.8 465 630.7 466 630.5 467Z"/><path fill="rgb(19,19,246)" fill-rule="evenodd" d="M630.5 467 602 449 576 433 547.5 416 524 402.5 498.5 388.5 469 373 441.7 359 412 344.3 411.6 336 412 329.1 427.5 337.3 444 346.2 461 355.7 476 364.3 492 373.7 509.5 384.2 527.5 395.3 546 406.8 567 420.2 589 434.7 609 448.3 630.5 463.3 630.8 465 630.7 466 630.5 467Z"/><path fill="rgb(19,19,249)" fill-rule="evenodd" d="M630.5 466.9 600.5 448 574.5 432 548.5 416.5 525 403 500.5 389.5 469.3 373 441 358.5 412 344.1 411.6 336 412 329.3 428 337.7 443 345.8 460 355.2 475 363.8 491 373.2 508.5 383.7 526.5 394.7 545 406.2 567 420.3 589 434.8 611 449.7 630.5 463.3 630.8 465 630.7 466 630.5 466.9Z"/><path fill="rgb(19,19,251)" fill-rule="evenodd" d="M630.5 466.9 603 449.5 574.6 432 546 415 522.5 401.5 497 387.5 469.5 373 441.2 358.5 412 344 411.6 336 412 329.4 428 337.8 444.5 346.7 461.5 356.2 476.5 364.7 491 373.3 508.5 383.8 528 395.7 546.5 407.2 567.5 420.7 589 434.8 611 449.7 630.5 463.3 630.8 465 630.7 466 630.5 466.9Z"/><path fill="rgb(20,20,254)" fill-rule="evenodd" d="M630.5 466.9 601.5 448.5 573 431 547 415.5 523.5 402 499 388.5 467.8 372 440.5 358 412 343.8 411.7 336 412 329.5 427 337.4 443.5 346.3 460.5 355.7 475.5 364.3 490 372.8 507.5 383.2 525.5 394.2 544 405.7 566 419.8 588 434.2 609.5 448.7 629 462.3 630.5 463.4 630.8 465 630.7 466 630.5 466.9Z"/><path fill="rgb(23,23,254)" fill-rule="evenodd" d="M630.5 466.9 601.5 448.5 571.4 430 544.5 414 521 400.5 495.5 386.5 468 372 440.8 358 412 343.7 411.7 336 412 329.6 427.5 337.7 442.5 345.8 459.5 355.2 474.5 363.8 489 372.2 506.5 382.7 527 395.2 544 405.8 567.5 420.8 588 434.2 609.5 448.8 629.5 462.7 630.5 463.4 630.7 464 630.8 465.5 630.5 466.9Z"/><path fill="rgb(29,29,253)" fill-rule="evenodd" d="M630.5 466.8 604 450 574.1 431.5 549 416.5 523 401.5 498.5 388 467.4 371.5 440.2 357.5 412 343.5 411.7 336 412 329.8 428 338.1 443 346.2 458.5 354.8 475 364.2 490.5 373.2 508 383.7 526 394.7 543 405.3 565 419.2 588 434.3 608 447.8 629.5 462.7 630.5 463.4 630.7 464 630.8 465.5 630.5 466.8Z"/><path fill="rgb(35,35,251)" fill-rule="evenodd" d="M630.5 466.8 602.5 449 575 432 550 417 524.1 402 501.5 389.5 469.6 372.5 441.5 358 412 343.3 411.7 336 412 329.9 427 337.8 442 345.8 459 355.2 474 363.7 489.5 372.8 507 383.2 523.5 393.3 542 404.7 562.5 417.7 585.5 432.7 607 447.2 628 461.7 630.5 463.5 630.8 465 630.5 466.8Z"/><path fill="rgb(41,41,250)" fill-rule="evenodd" d="M630.5 466.7 601 448 573.5 431 545 414 522.5 401 499 388 468 371.5 439.9 357 412 343.1 411.7 336 412 330.1 428.5 338.7 443.5 346.8 460.5 356.2 475.5 364.7 491 373.8 508.5 384.2 526.5 395.2 543.5 405.7 564 418.7 585.5 432.8 607 447.2 626.5 460.7 630.5 463.5 630.8 465 630.5 466.7Z"/><path fill="rgb(47,47,249)" fill-rule="evenodd" d="M630.5 466.7 603.5 449.5 574.4 431.5 546 414.5 523.5 401.5 511.1 394.5 496.5 386.5 467.3 371 440.2 357 412 342.9 411.7 336 412 330.2 427.5 338.3 444 347.2 459.5 355.8 474.5 364.3 489 372.7 505 382.2 524 393.7 541 404.3 561.5 417.2 583 431.2 604 445.2 625 459.7 630.5 463.6 630.8 465 630.5 466.7Z"/><path fill="rgb(53,53,247)" fill-rule="evenodd" d="M630.5 466.6 602 448.5 574.5 431.5 547 415 521.9 400.5 498.5 387.5 468.6 371.5 441.5 357.5 412 342.7 411.7 336 412 330.3 427 338.2 442 346.2 457.5 354.8 473.5 363.8 488 372.2 504 381.7 523 393.2 540 403.7 561.5 417.3 583 431.3 602.5 444.3 623.5 458.7 630.5 463.6 630.8 465 630.5 466.6Z"/><path fill="rgb(60,60,246)" fill-rule="evenodd" d="M630.5 466.6 604.5 450 575.5 432 548 415.5 523 401 496 386 466.9 370.5 439.9 356.5 412 342.6 411.7 336 412 330.5 427 338.3 443.5 347.2 459 355.7 474 364.2 489.5 373.2 505.5 382.7 524.5 394.2 540 403.8 560.5 416.7 582 430.7 601 443.3 622 457.7 630.5 463.6 630.8 465 630.5 466.6Z"/><path fill="rgb(66,66,244)" fill-rule="evenodd" d="M630.5 466.6 599 446.5 571.5 429.5 543 412.5 520.5 399.5 498 387 467.2 370.5 440.1 356.5 412 342.4 411.7 336 412 330.6 427.5 338.7 442.5 346.7 458 355.3 473 363.7 488.5 372.7 504.5 382.2 522 392.8 539 403.2 560.5 416.8 580.5 429.7 601.5 443.7 620.5 456.7 630.5 463.7 630.8 465 630.5 466.6Z"/><path fill="rgb(72,72,243)" fill-rule="evenodd" d="M630.5 466.5 601.5 448 574 431 546.6 414.5 521.5 400 495.4 385.5 466.5 370 439.4 356 412 342.2 411.7 336 412 330.7 427.5 338.8 444 347.7 459.5 356.2 474.5 364.7 491 374.3 507 383.8 523.5 393.8 540.5 404.2 562 417.8 582 430.8 601.5 443.7 620.5 456.7 630.5 463.7 630.8 465 630.5 466.5Z"/><path fill="rgb(78,78,241)" fill-rule="evenodd" d="M630.5 466.5 601.5 448 572.5 430 547.5 415 522.6 400.5 497.5 386.5 469.5 371.5 441.7 357 412 342.1 411.7 336 412 330.8 428 339.2 443 347.2 458.5 355.8 473.5 364.2 487.5 372.3 503.5 381.8 520 391.7 538 402.7 559.5 416.3 579.5 429.2 598.5 441.8 619 455.7 630.5 463.7 630.8 465 630.5 466.5Z"/><path fill="rgb(84,84,240)" fill-rule="evenodd" d="M630.5 466.5 604 449.5 575 431.5 548.5 415.5 520.9 399.5 494 384.5 466 369.5 439 355.5 412 341.9 411.7 336 412 331 427 338.8 442 346.8 457.5 355.3 473.5 364.3 489 373.3 505 382.7 522.5 393.3 539.5 403.7 558.5 415.7 579.5 429.2 599 442.2 619 455.8 630.5 463.8 630.8 465 630.5 466.5Z"/><path fill="rgb(90,90,238)" fill-rule="evenodd" d="M630.5 466.4 602.5 448.5 573.5 430.5 546.1 414 522 400 496 385.5 469 371 441.2 356.5 412 341.8 411.7 336 412 331.1 428.5 339.7 443.5 347.7 459 356.2 474 364.7 488 372.8 504 382.2 521.5 392.8 537 402.3 558.5 415.7 578 428.3 597.5 441.2 616 453.7 630.5 463.8 630.7 465 630.5 466.4Z"/><path fill="rgb(96,96,237)" fill-rule="evenodd" d="M630.5 466.4 602.6 448.5 576 432 547 414.5 523 400.5 497 386 467.3 370 439.5 355.5 412 341.7 411.7 336 412 331.2 427.5 339.2 442.5 347.3 458 355.8 474 364.8 489.5 373.7 504 382.3 520.5 392.2 538.5 403.2 558.5 415.8 577 427.7 596 440.2 616 453.8 630.5 463.8 630.7 465 630.5 466.4Z"/><path fill="rgb(102,102,236)" fill-rule="evenodd" d="M630.5 466.4 605 450 574.5 431 548 415 520.5 399 494.5 384.5 467.5 370 440.7 356 412 341.6 411.7 336 412 331.3 425.5 338.3 440.5 346.3 456 354.8 472 363.7 486 371.8 503 381.8 520.5 392.3 536 401.8 556 414.3 575.5 426.8 594.5 439.3 613 451.8 630.5 463.9 630.7 465 630.5 466.4Z"/><path fill="rgb(108,108,234)" fill-rule="evenodd" d="M630.5 466.3 603.5 449 577 432.5 548.1 415 521.4 399.5 495.5 385 466.8 369.5 438.9 355 412 341.4 411.7 336 412 331.4 428 339.7 443 347.7 458.5 356.2 474.5 365.2 488.5 373.3 504.5 382.7 522 393.2 537.5 402.7 557.5 415.3 574.5 426.2 593.5 438.7 613 451.8 630.5 463.9 630.7 465 630.5 466.3Z"/><path fill="rgb(114,114,233)" fill-rule="evenodd" d="M630.5 466.3 603.5 449 575.5 431.5 549 415.5 522.4 400 497.5 386 466 369 439.1 355 412 341.3 411.7 336 412 331.5 427 339.3 442 347.3 457.5 355.8 473.5 364.7 487.5 372.8 503.5 382.2 535 401.3 555 413.7 574.5 426.2 593.5 438.7 611.5 450.8 630.5 463.9 630.7 465 630.5 466.3Z"/><path fill="rgb(120,120,231)" fill-rule="evenodd" d="M630.5 466.3 602 448 575.6 431.5 549.1 415.5 522.6 400 498.5 386.5 469 370.5 440.3 355.5 412 341.2 411.7 336 412 331.6 426 338.8 441 346.8 456.5 355.3 472.5 364.3 486.5 372.3 503.5 382.3 521 392.8 536.5 402.2 556.5 414.7 576 427.3 595 439.7 613.5 452.2 630.5 464 630.7 465 630.5 466.3Z"/><path fill="rgb(126,126,230)" fill-rule="evenodd" d="M630.5 466.3 600.5 447 574 430.5 547.5 414.5 523.5 400.5 496 385 468.2 370 441.5 356 412 341.1 411.7 336 412 331.7 427.5 339.7 442.5 347.7 458 356.2 471.5 363.8 485.5 371.8 502.5 381.7 534 400.8 552.5 412.3 572 424.7 592 437.8 610.5 450.2 630.5 464 630.7 465 630.5 466.3Z"/><path fill="rgb(132,132,228)" fill-rule="evenodd" d="M630.5 466.2 604.5 449.5 576.5 432 548.4 415 521 399 497 385.5 466.5 369 439.7 355 412 341 411.7 336 412 331.8 426.5 339.3 441.5 347.3 457 355.7 473 364.7 487 372.7 502.5 381.8 520 392.3 535.5 401.7 554 413.3 573.5 425.7 592 437.8 610.5 450.2 630.5 464 630.7 465 630.5 466.2Z"/><path fill="rgb(139,139,227)" fill-rule="evenodd" d="M630.5 466.2 603 448.5 575 431 548.5 415 522 399.5 498 386 469.5 370.5 439.9 355 412 340.9 411.7 336 412 331.9 425.5 338.8 440.5 346.8 456 355.3 472 364.2 486 372.2 501.5 381.3 516.5 390.2 533 400.2 551.5 411.7 572 424.8 589.5 436.2 607.5 448.2 630.5 464 630.7 465 630.5 466.2Z"/><path fill="rgb(145,145,225)" fill-rule="evenodd" d="M630.5 466.2 601.5 447.5 575 431 549.4 415.5 523 400 494.5 384 466.8 369 440.1 355 412 340.8 411.8 336 412 331.9 427 339.7 442 347.7 457.5 356.2 472 364.3 486 372.3 503 382.2 519 391.8 534.5 401.2 553 412.7 571 424.2 589.5 436.3 609 449.3 630.5 464.1 630.7 465 630.5 466.2Z"/><path fill="rgb(151,151,224)" fill-rule="evenodd" d="M630.5 466.1 605.5 450 577.5 432.5 549.5 415.5 523.1 400 496.5 385 467 369 439.3 354.5 412 340.7 411.8 336 412 332 426 339.3 441 347.2 456.5 355.7 471 363.8 487.5 373.2 503 382.3 518 391.2 534.5 401.3 553 412.8 571 424.2 589.5 436.3 607.5 448.3 630.5 464.1 630.7 465 630.5 466.1Z"/><path fill="rgb(157,157,223)" fill-rule="evenodd" d="M630.5 466.1 605.5 450 576 431.5 547.9 414.5 520.5 398.5 497.5 385.5 469 370 439.5 354.5 412 340.6 411.8 336 412 332.1 426 339.4 441 347.3 456.5 355.8 472.5 364.7 487.5 373.3 502 381.7 518 391.3 533.5 400.7 552 412.2 571 424.3 588.5 435.7 606 447.3 630.5 464.1 630.7 465 630.5 466.1Z"/><path fill="rgb(163,163,221)" fill-rule="evenodd" d="M630.5 466.1 604 449 576 431.5 548 414.5 521.5 399 494 383.5 465.4 368 439.7 354.5 412 340.5 411.8 336 412 332.2 427.5 340.2 442.5 348.2 459 357.2 472.5 364.8 486.5 372.7 502 381.8 517 390.7 533.5 400.7 552 412.2 571 424.3 588.5 435.7 606.5 447.7 630.5 464.1 630.7 465 630.5 466.1Z"/><path fill="rgb(169,169,220)" fill-rule="evenodd" d="M630.5 466.1 602.5 448 574.5 430.5 548.1 414.5 522.5 399.5 495 384 466.5 368.5 438.9 354 412 340.4 411.8 336 412 332.3 426.5 339.8 441.5 347.7 457 356.2 471.5 364.3 485.5 372.2 501 381.3 531 399.3 549.5 410.7 568.5 422.8 585.5 433.8 603.5 445.7 630.5 464.2 630.7 465 630.5 466.1Z"/><path fill="rgb(178,178,218)" fill-rule="evenodd" d="M630.5 466 602.5 448 577 432 549 415 522.6 399.5 496 384.5 468.5 369.5 440 354.5 412 340.3 411.8 336 412 332.3 425.5 339.3 440.5 347.3 456 355.7 470.5 363.8 484.5 371.7 500 380.7 516 390.2 532.5 400.2 549.5 410.8 568.5 422.8 587 434.8 603.5 445.8 630.5 464.2 630.7 465 630.5 466Z"/><path fill="rgb(189,189,215)" fill-rule="evenodd" d="M630.5 466 605 449.5 575.5 431 547.4 414 521 398.5 493.5 383 465 367.5 438.3 353.5 412 340.1 411.8 336 412 332.5 427 340.3 442 348.2 456 355.8 472 364.7 487 373.3 501.5 381.7 531.5 399.7 551 411.8 567.5 422.2 584.5 433.2 602 444.8 630.5 464.2 630.7 465 630.5 466Z"/><path fill="rgb(200,200,212)" fill-rule="evenodd" d="M630.5 465.9 603.5 448.5 574 430 547.6 414 522 399 495.5 384 468 369 441.5 355 412 340 411.8 336 412 332.6 426 339.9 441 347.8 456.5 356.2 471 364.3 485 372.2 500.5 381.2 516.5 390.7 531.5 399.8 550 411.2 567.5 422.3 584.5 433.3 601 444.2 616 454.3 630.5 464.3 630.6 465 630.5 465.9Z"/><path fill="rgb(210,208,208)" fill-rule="evenodd" d="M630.5 465.9 602 447.5 576.5 431.5 548.5 414.5 523 399.5 509 391.5 493 382.5 465.5 367.5 437.9 353 412 339.8 411.8 336 412 332.8 427.5 340.8 442.5 348.7 459 357.7 472.5 365.2 500.5 381.3 516.5 390.8 530.5 399.2 547.5 409.7 565 420.8 582 431.7 599.5 443.3 614.5 453.4 630.5 464.3 630.6 465 630.5 465.9Z"/><path fill="rgb(213,197,197)" fill-rule="evenodd" d="M630.5 465.8 604.5 449 575 430.5 549.5 415 524 400 498.5 385.5 468.5 369 441.1 354.5 412 339.7 411.8 336 412 332.9 425.5 339.9 440.5 347.8 456 356.2 470.5 364.2 485.5 372.7 499.5 380.8 515.5 390.3 529.5 398.7 547.5 409.8 564 420.2 580.5 430.8 598 442.3 614.5 453.4 630.5 464.4 630.6 465 630.5 465.8Z"/><path fill="rgb(216,185,185)" fill-rule="evenodd" d="M630.5 465.8 603 448 573.5 429.5 547.9 414 521.6 398.5 492.4 382 465 367 437.5 352.5 412 339.5 411.8 336 412 333 427 340.8 442 348.7 456 356.3 470.5 364.3 485.5 372.8 501 381.8 529.5 398.8 546.5 409.3 564 420.3 579.5 430.2 596.5 441.4 613.5 452.8 630.5 464.4 630.6 465 630.5 465.8Z"/><path fill="rgb(219,174,174)" fill-rule="evenodd" d="M630.5 465.8 603 447.9 576 431 548.1 414 522.6 399 493.5 382.5 468 368.5 440.6 354 412 339.4 411.8 336 412 333.2 426 340.4 441 348.3 456.5 356.7 471 364.7 484.5 372.3 500 381.3 528.5 398.3 544 407.8 561.5 418.7 578 429.3 595.5 440.8 613.5 452.8 630.5 464.5 630.6 465 630.5 465.8Z"/><path fill="rgb(221,162,162)" fill-rule="evenodd" d="M630.5 465.7 603 447.9 574.5 430 546.5 413 521 398 494.6 383 465.4 367 438 352.5 412 339.3 411.8 336 412 333.3 426.5 340.8 441.5 348.7 455.5 356.2 470 364.2 485 372.7 499 380.8 527.5 397.7 545.5 408.8 561.5 418.8 577 428.7 592.5 438.9 612 451.9 630.5 464.5 630.6 465 630.5 465.7Z"/><path fill="rgb(224,151,151)" fill-rule="evenodd" d="M630.5 465.7 603 447.8 577 431.5 550 415 522 398.5 496.5 384 466.5 367.5 440.1 353.5 412 339.1 411.8 336 412 333.4 425.5 340.3 440.5 348.2 469 363.8 484 372.2 498 380.3 512.5 388.8 527.5 397.8 543 407.3 560.5 418.2 577 428.8 592.5 438.9 612 451.9 630.4 464.5 630.6 465 630.5 465.7Z"/><path fill="rgb(227,140,140)" fill-rule="evenodd" d="M630.5 465.6 605.5 449.4 577 431.4 550.1 415 522.9 399 494 382.5 468.6 368.5 440.3 353.5 412 339 411.9 336 412 333.5 439.5 347.8 468 363.3 483 371.7 497 379.8 511.5 388.3 526.5 397.3 542 406.7 559 417.4 575.5 427.9 590 437.3 610.5 451 630.3 464.5 630.5 464.6 630.6 465 630.5 465.6Z"/><path fill="rgb(229,128,128)" fill-rule="evenodd" d="M630.5 465.6 604 448.4 577 431.4 551 415.5 523.1 399 495 383 466 367 439.6 353 412 338.9 411.9 336 412 333.6 426 340.8 441 348.7 469.5 364.2 483 371.8 498.5 380.7 525.5 396.7 542 406.8 556.5 415.8 573 426.3 588.5 436.4 609 450 629.6 464 630.5 464.7 630.5 465.6Z"/><path fill="rgb(232,117,117)" fill-rule="evenodd" d="M630.5 465.5 604 448.3 575.5 430.4 548.6 414 521.5 398 496.1 383.5 468 368 439.8 353 412 338.7 411.9 336 412 333.8 440 348.3 468.5 363.8 483.5 372.2 497.5 380.2 525.5 396.8 539.5 405.3 555.5 415.3 571.5 425.4 587 435.5 608.2 449.5 629.5 464 630.5 464.7 630.5 465.5Z"/><path fill="rgb(235,105,105)" fill-rule="evenodd" d="M629 464.5 602.5 447.3 575.5 430.3 549.5 414.5 521.6 398 493.5 382 466.3 367 439 352.5 412 338.6 411.9 336 412 333.9 440 348.4 467.5 363.3 495 378.9 509.5 387.3 523 395.3 538.5 404.8 554 414.4 569 423.9 584.5 433.9 605.1 447.5 626.5 462 629.4 464 629 464.5Z M630.5 465.4 629 464.5 629.5 464.1 630 464.4 630.5 464.8 630.5 465.4Z"/><path fill="rgb(237,94,94)" fill-rule="evenodd" d="M623 460.5 598 444.4 570 426.9 544.5 411.4 516.5 395 491 380.5 464.5 365.9 438.3 352 412 338.5 411.9 336 412 334 439 348 466.5 362.9 494 378.4 508.5 386.8 522 394.8 538.5 404.8 553 413.8 569 423.9 583 433 603.5 446.5 623.5 460 623 460.5Z M624.5 461.4 623 460.5 623.5 460 624.9 461 624.5 461.4Z M626 462.4 624.6 461.5 625 461.1 626.4 462 626 462.4Z M627.5 463.4 626.1 462.5 626.5 462.1 627 462.4 627.8 463 627.5 463.4Z M629 464.3 627.6 463.5 628 463.2 628.5 463.4 629.3 464 629 464.3Z M630.5 465.3 629.2 464.5 629.5 464.2 630 464.5 630.5 464.9 630.5 465.3Z"/><path fill="rgb(240,83,83)" fill-rule="evenodd" d="M620 458.4 596.5 443.3 568.5 425.9 543 410.5 517.5 395.5 492 381 465.5 366.4 438.5 352 412 338.4 411.9 336 412 334.1 439.5 348.4 465.5 362.4 493 377.9 519.5 393.4 533.5 401.8 549 411.4 577.5 429.5 598.1 443 620.5 458 620 458.4Z M621.5 459.4 620.1 458.5 620.5 458 621.9 459 621.5 459.4Z M623 460.4 621.6 459.5 622 459.1 623.4 460 623 460.4Z M624.5 461.3 623.2 460.5 623.5 460.1 624 460.4 624.8 461 624.5 461.3Z M626 462.3 624.7 461.5 625 461.2 625.5 461.5 626.3 462 626 462.3Z M627.5 463.2 626.2 462.5 626.5 462.2 627 462.5 627.7 463 627.5 463.2Z M629 464.2 628.5 464 627.8 463.5 628 463.3 628.5 463.5 629.2 464 629 464.2Z M629.5 464.6 629.3 464.5 629.5 464.3 629.9 464.5 629.5 464.6Z M630.5 465.2 630 465 630 464.8 630.5 464.9 630.5 465.2Z"/><path fill="rgb(243,71,71)" fill-rule="evenodd" d="M615.5 455.4 591 439.8 564.5 423.4 540.5 408.9 515 394 488.5 378.9 463 364.9 437.5 351.3 412 338.2 411.9 336 412 334.2 438.5 347.9 464.5 361.9 492 377.4 518.5 392.8 546.5 409.9 562.5 419.9 577.4 429.5 596.6 442 615.9 455 615.5 455.4Z M617 456.4 615.6 455.5 616 455.1 617.4 456 617 456.4Z M618.5 457.3 617.1 456.5 617.5 456.1 618.9 457 618.5 457.3Z M620 458.3 618.7 457.5 619 457.1 619.5 457.4 620.3 458 620 458.3Z M621.5 459.3 620.2 458.5 620.5 458.2 621 458.5 621.8 459 621.5 459.3Z M623 460.2 622.5 460 621.8 459.5 622 459.2 622.5 459.5 623.2 460 623 460.2Z M624.5 461.2 624 461 623.3 460.5 623.5 460.3 624 460.5 624.7 461 624.5 461.2Z M625 461.6 624.8 461.5 625 461.3 625.4 461.5 625 461.6Z M626 462.1 625.6 462 626 461.9 626.1 462 626 462.1Z M626.5 462.6 626.4 462.5 626.5 462.4 626.8 462.5 626.5 462.6Z M627.5 463.1 627.2 463 627.5 462.9 627.6 463 627.5 463.1Z M628 463.6 627.9 463.5 628 463.4 628.2 463.5 628 463.6Z M629 464.1 628.8 464 629 464 629 464.1Z M629.5 464.5 629.4 464.5 629.5 464.4 629.7 464.5 629.5 464.5Z M630.5 465 630.4 465 630.5 465Z"/><path fill="rgb(246,60,60)" fill-rule="evenodd" d="M611 452.5 588 437.8 560.5 420.9 535.5 405.9 511.5 391.9 486 377.5 462 364.3 437.5 351.2 412 338.1 411.9 336 412 334.4 437.5 347.5 463.5 361.5 491 376.9 516 391.4 530 399.8 544 408.4 573.5 427 593.4 440 611.4 452 611 452.5Z M612.5 453.4 611 452.5 611.5 452.1 612.9 453 612.5 453.4Z M614 454.3 612.6 453.5 613 453.1 613.5 453.4 614.3 454 614 454.3Z M615.5 455.3 614.2 454.5 614.5 454.2 615 454.4 615.8 455 615.5 455.3Z M617 456.2 615.7 455.5 616 455.2 616.5 455.5 617.2 456 617 456.2Z M618.5 457.2 618 457 617.3 456.5 617.5 456.3 618 456.5 618.7 457 618.5 457.2Z M619.5 457.7 618.8 457.5 619 457.3 619.5 457.5 619.5 457.7Z M620 458.2 619.5 458 620 457.9 620.2 458 620 458.2Z M620.5 458.6 620.4 458.5 620.5 458.4 620.9 458.5 620.5 458.6Z M621.5 459.1 621.2 459 621.5 458.9 621.6 459 621.5 459.1Z M622 459.6 621.9 459.5 622 459.4 622.3 459.5 622 459.6Z M623 460.1 622.8 460 623 460 623.1 460 623 460.1Z M623.5 460.5 623.5 460.4 623.7 460.5 623.5 460.5Z M624.5 461 624.4 461 624.5 461Z M625 461.5 625.1 461.5 625 461.5Z"/><path fill="rgb(248,48,48)" fill-rule="evenodd" d="M608 450.5 584 435.3 558 419.3 534 404.9 509 390.4 482.5 375.4 460.5 363.3 436 350.3 412 338 412 334.5 437.3 347.5 462.4 361 490 376.4 515 390.9 541.5 406.9 569.5 424.5 588 436.5 607.6 449.5 608.3 450 608 450.5Z M609.5 451.4 608 450.5 608.5 450.2 609 450.5 609.8 451 609.5 451.4Z M611 452.3 609.6 451.5 610 451.2 610.5 451.5 611.2 452 611 452.3Z M612.5 453.2 612 453 611.2 452.5 611.5 452.3 612 452.5 612.7 453 612.5 453.2Z M613 453.6 612.8 453.5 613 453.3 613.5 453.5 613 453.6Z M614 454.2 613.5 454 613.5 453.5 614.2 454 614 454.2Z M614.5 454.6 614.3 454.5 614.5 454.3 614.9 454.5 614.5 454.6Z M615.5 455.1 615.1 455 615.5 454.9 615.6 455 615.5 455.1Z M616 455.6 615.9 455.5 616 455.4 616.3 455.5 616 455.6Z M617 456.1 616.7 456 617 456 617.1 456 617 456.1Z M617.5 456.5 617.5 456.4 617.7 456.5 617.5 456.5Z M618.5 457.1 618.4 457 618.5 457.1Z M619 457.5 619.1 457.5 619 457.5Z"/><path fill="rgb(251,37,37)" fill-rule="evenodd" d="M599.5 445 574.5 429.3 551.5 415.3 528 401.4 503 386.9 479 373.4 457 361.4 435 349.7 412 337.8 412 334.6 437 347.5 460.4 360 486.5 374.5 511.5 388.9 525 396.9 539 405.4 567 423 582.5 433 600 444.5 599.5 445Z M601 445.9 599.5 445 600 444.5 601.5 445.5 601 445.9Z M602.5 446.8 601.1 446 601.5 445.5 603 446.5 602.5 446.8Z M604 447.7 602.7 447 603 446.5 604.5 447.5 604 447.7Z M605 448.4 604.3 448 604.5 447.6 605.2 448 605 448.4Z M605.5 448.7 605.1 448.5 605.5 448.3 605.9 448.5 605.5 448.7Z M606.5 449.3 605.9 449 606 448.6 606.6 449 606.5 449.3Z M607 449.6 606.7 449.5 607 449.3 607.4 449.5 607 449.6Z M608 450.2 607.4 450 607.5 449.7 608.1 450 608 450.2Z M608.5 450.6 608.3 450.5 608.5 450.4 608.8 450.5 608.5 450.6Z M609.5 451.1 609 451 609 450.9 609.6 451 609.5 451.1Z M610 451.6 609.8 451.5 610 451.4 610.3 451.5 610 451.6Z M611 452.1 610.6 452 611 452 611 452.1Z M611.5 452.5 611.4 452.5 611.5 452.4 611.7 452.5 611.5 452.5Z M612.5 453 612.3 453 612.5 453Z M613 453.5 613.1 453.5 613 453.5Z"/><path fill="rgb(254,26,26)" fill-rule="evenodd" d="M596.5 443 573 428.3 550 414.3 525.5 399.8 500.5 385.4 479 373.3 457 361.2 434.5 349.3 412 337.7 412 334.7 435.9 347 461.1 360.5 485.5 374 509 387.5 534 402.4 563 420.5 578.6 430.5 596.1 442 596.8 442.5 596.5 443Z M598 443.9 596.5 443 597 442.7 597.5 442.9 598.3 443.5 598 443.9Z M599.5 444.8 598.1 444 598.5 443.7 599 444 599.8 444.5 599.5 444.8Z M601 445.7 600.5 445.5 599.7 445 600 444.7 600.5 445 601.3 445.5 601 445.7Z M602 446.3 601.3 446 601.5 445.8 602 446 602 446.3Z M602.5 446.7 602.1 446.5 602.5 446.4 602.7 446.5 602.5 446.7Z M603.5 447.1 602.9 447 603 446.8 603.5 447 603.5 447.1Z M604 447.6 603.7 447.5 604 447.4 604.2 447.5 604 447.6Z M605 448.1 604.5 448 604.5 447.9 605 448.1Z M605.5 448.6 605.3 448.5 605.7 448.5 605.5 448.6Z M607 449.5 606.9 449.5 607.1 449.5 607 449.5Z"/><path fill="rgb(251,19,19)" fill-rule="evenodd" d="M591 439.4 566.5 424.3 545 411.3 520.5 396.8 497 383.3 475.5 371.2 454.5 359.8 432 347.9 412 337.6 412 334.9 436.6 347.5 460 360 484.5 373.5 508 387 534 402.5 560.5 419 578.5 430.5 591.4 439 591 439.4Z M592.5 440.3 591.1 439.5 591.5 439.1 592.9 440 592.5 440.3Z M594 441.2 592.7 440.5 593 440.1 594.4 441 594 441.2Z M595 441.8 594.3 441.5 594.5 441.1 595.1 441.5 595 441.8Z M595.5 442.2 595.1 442 595.5 441.8 595.9 442 595.5 442.2Z M596.5 442.7 595.9 442.5 596 442.2 596.6 442.5 596.5 442.7Z M597 443.1 596.8 443 597 442.8 597.4 443 597 443.1Z M598 443.6 597.5 443.5 597.5 443.4 598.1 443.5 598 443.6Z M598.5 444.1 598.4 444 598.5 443.9 598.8 444 598.5 444.1Z M599.5 444.6 599.2 444.5 599.5 444.5 599.6 444.5 599.5 444.6Z M600 445 600 444.9 600.2 445 600 445Z M601 445.5 600.9 445.5 601 445.5Z"/><path fill="rgb(244,18,18)" fill-rule="evenodd" d="M584 435 561 420.8 541 408.8 518 395.3 493.5 381.3 473 369.8 452 358.3 432 347.7 412 337.4 412 335 433.5 346 458 359 482.5 372.5 504.5 385 528.9 399.5 556.5 416.5 567.5 423.5 584.5 434.5 584 435Z M588 437.4 584 435 584.5 434.5 588.2 437 588 437.4Z M589.5 438.3 588.1 437.5 588.5 437.3 589 437.5 589.7 438 589.5 438.3Z M591 439.2 590.5 439 589.7 438.5 590 438.3 590.5 438.5 591.2 439 591 439.2Z M592 439.6 591.3 439.5 591.5 439.3 592 439.5 592 439.6Z M592.5 440.1 592.2 440 592.5 439.9 592.7 440 592.5 440.1Z M593.5 440.5 592.9 440.5 593 440.4 593.5 440.5Z M594 441.1 593.8 441 594.1 441 594 441.1Z"/><path fill="rgb(236,17,17)" fill-rule="evenodd" d="M578.5 431.5 557 418.3 536 405.8 512 391.8 488.5 378.3 470.5 368.3 448.5 356.3 429.5 346.3 412 337.2 412 335.2 433.2 346 455 357.5 481.5 372 503.5 384.5 528 399 551.6 413.5 565 422 579 431 578.5 431.5Z M582.5 433.9 578.5 431.5 579 431 582.7 433.5 582.5 433.9Z M584 434.8 582.6 434 583 433.7 583.5 434 584.2 434.5 584 434.8Z M585 435.5 584.3 435 584.5 434.8 585 435 585 435.5Z M585.5 435.7 585 435.5 585.5 435.4 585.7 435.5 585.5 435.7Z M586.5 436.2 585.9 436 586 435.8 586.5 436 586.5 436.2Z M587 436.6 586.7 436.5 587 436.4 587.2 436.5 587 436.6Z M588 437.1 587.5 437 588 437 588 437.1Z M588.5 437.6 588.4 437.5 588.7 437.5 588.5 437.6Z"/><path fill="rgb(228,16,16)" fill-rule="evenodd" d="M574.5 428.9 552 415.2 531 402.8 507 388.8 485 376.3 468 366.8 449.5 356.7 428 345.3 412 337.1 412 335.4 432.9 346 458.5 359.5 484 373.5 502.5 384 524.6 397 547.5 411 561 419.5 575 428.5 574.5 428.9Z M577 430.4 574.6 429 575 428.5 577.2 430 577 430.4Z M578.5 431.3 577.1 430.5 577.5 430.2 578 430.5 578.7 431 578.5 431.3Z M579.5 431.9 578.8 431.5 579 431.3 579.6 431.5 579.5 431.9Z M580 432.2 579.5 432 580 431.9 580.2 432 580 432.2Z M581 432.7 580.4 432.5 580.5 432.3 581.1 432.5 581 432.7Z M581.5 433.1 581.3 433 581.5 432.9 581.7 433 581.5 433.1Z M582.5 433.6 582 433.5 582.5 433.5 582.5 433.6Z M583 434 582.9 434 583.2 434 583 434Z"/><path fill="rgb(221,15,15)" fill-rule="evenodd" d="M569 425.4 550.5 414.3 529.5 401.8 504.5 387.3 482.5 374.8 465.5 365.3 448 355.8 431 346.7 412.3 337 412 336.8 412 335.6 434.5 347 454.5 357.5 477.5 370 498 381.5 519.5 394 542.5 408 558.5 418 569.4 425 569 425.4Z M570.5 426.3 569.1 425.5 569.5 425.1 571 426 570.5 426.3Z M571.5 427 570.7 426.5 571 426.1 571.7 426.5 571.5 427Z M573 427.8 571.5 427 572 426.8 572.5 427 573.2 427.5 573 427.8Z M574.5 428.7 574 428.5 573.2 428 573.5 427.8 574 428 574.7 428.5 574.5 428.7Z M575.5 429.1 574.9 429 575 428.8 575.5 429 575.5 429.1Z M576 429.6 575.8 429.5 576 429.4 576.2 429.5 576 429.6Z M577 430.1 576.5 430 577 430.1Z M577.5 430.5 577.4 430.5 577.6 430.5 577.5 430.5Z"/><path fill="rgb(213,13,13)" fill-rule="evenodd" d="M565 422.8 527 400.3 505.5 387.8 484.5 375.8 467.5 366.2 446.5 354.8 424 342.8 413.5 337.2 412.9 337 412.5 336.7 412 336.5 412 335.9 430.2 345 450.5 355.5 475.5 369 497 381 518.5 393.5 537.5 405 552 414 564.6 422 565.3 422.5 565 422.8Z M566.5 423.7 565.2 423 565.5 422.7 566 422.9 566.9 423.5 566.5 423.7Z M567.5 424.3 566.8 424 567 423.7 567.6 424 567.5 424.3Z M568 424.6 567.7 424.5 568 424.3 568.4 424.5 568 424.6Z M569 425.2 568.5 425 568.5 424.7 569.2 425 569 425.2Z M569.5 425.6 569.3 425.5 569.5 425.4 569.9 425.5 569.5 425.6Z M570.5 426.1 570.2 426 570.6 426 570.5 426.1Z M571 426.5 571.4 426.5 571 426.5Z M572 427 571.9 427 572.1 427 572 427Z"/><path fill="rgb(205,12,12)" fill-rule="evenodd" d="M429 345 429.2 345 429 345Z M430 345.5 429.9 345.5 430.4 345.5 430 345.5Z M431.5 346 430.8 346 431 345.9 431.5 346Z M432.5 346.7 431.7 346.5 432 346.4 432.5 346.5 432.5 346.7Z M438 349.9 435.3 348.5 435 348.2 434.4 348 434 347.7 433.5 347.5 433 347.1 432.6 347 433 346.9 433.5 347 434 347.4 434.5 347.5 435 347.8 435.5 348 436 348.3 438.5 349.5 438 349.9Z M557 418 528 400.8 490 378.8 466 365.3 438.1 350 438.5 349.5 452 356.5 478 370.5 499.5 382.5 517.5 393 539 406 557.3 417.5 557 418Z M558.5 418.8 557 418 557.5 417.7 558 417.9 558.9 418.5 558.5 418.8Z M559.5 419.4 558.7 419 559 418.6 559.7 419 559.5 419.4Z M560 419.7 559.5 419.5 560 419.3 560.5 419.5 560 419.7Z M561 420.2 560.4 420 560.5 419.5 561.2 420 561 420.2Z M562 420.8 561.3 420.5 561.5 420.3 562 420.5 562 420.8Z M562.5 421.1 562.1 421 562.5 420.9 562.7 421 562.5 421.1Z M563.5 421.6 562.9 421.5 563 421.3 563.6 421.5 563.5 421.6Z M564 422.1 563.8 422 564 421.9 564.2 422 564 422.1Z M565 422.6 564.7 422.5 565 422.5 565 422.6Z M565.5 423 565.6 423 565.5 423Z"/><path fill="rgb(198,11,11)" fill-rule="evenodd" d="M449 355.5 448.9 355.5 449.3 355.5 449 355.5Z M450 356.1 449.8 356 450 355.9 450.3 356 450 356.1Z M451 356.6 450.7 356.5 451 356.4 451.3 356.5 451 356.6Z M452 357.1 451.5 357 451.5 356.9 452.3 357 452 357.1Z M453 357.7 452.4 357.5 452.5 357.2 453.3 357.5 453 357.7Z M454 358.3 453.3 358 453.5 357.7 454.3 358 454 358.3Z M455 358.9 454.2 358.5 454.5 358.2 455.2 358.5 455 358.9Z M550.5 414 529 401.3 498 383.3 473.5 369.3 455.1 359 455.5 358.7 456.2 359 468.5 365.5 489.5 377 504.5 385.5 522.4 396 540.5 407 550.8 413.5 550.5 414Z M552 414.8 550.5 414 551 413.7 552.4 414.5 552 414.8Z M553 415.4 552.3 415 552.5 414.6 553.2 415 553 415.4Z M554.5 416.2 553.1 415.5 553.5 415.3 554 415.5 554.7 416 554.5 416.2Z M555.5 416.7 554.8 416.5 555 416.3 555.5 416.5 555.5 416.7Z M556 417.1 555.7 417 556 416.9 556.3 417 556 417.1Z M557 417.6 556.5 417.5 556.5 417.4 557 417.5 557 417.6Z M557.5 418.1 557.4 418 557.5 417.9 557.8 418 557.5 418.1Z M558.5 418.6 558.3 418.5 558.6 418.5 558.5 418.6Z"/><path fill="rgb(190,10,10)" fill-rule="evenodd" d="M466 364.5 465.8 364.5 466 364.5Z M467 365 466.4 365 467 365Z M467.5 365.6 467.3 365.5 467.5 365.4 467.9 365.5 467.5 365.6Z M468.5 366.1 468.2 366 468.5 365.9 468.9 366 468.5 366.1Z M469.5 366.7 469 366.5 469 366.4 469.8 366.5 469.5 366.7Z M470.5 367.2 469.9 367 470 366.7 470.8 367 470.5 367.2Z M471.5 367.8 470.8 367.5 471 367.2 471.7 367.5 471.5 367.8Z M545.5 410.8 502.5 385.8 471.6 368 472 367.7 472.5 367.9 475.5 369.5 492 378.5 507 387 524 397 539.5 406.5 545.9 410.5 545.5 410.8Z M548 412.2 547.4 412 545.7 411 546 410.6 548.2 412 548 412.2Z M549 412.8 548.3 412.5 548.5 412.3 549 412.5 549 412.8Z M549.5 413.1 549.1 413 549.5 412.9 549.8 413 549.5 413.1Z M550.5 413.6 549.9 413.5 550 413.4 550.5 413.5 550.6 413.5 550.5 413.6Z M551 414.1 550.9 414 551 413.9 551.3 414 551 414.1Z M552 414.6 551.8 414.5 552.1 414.5 552 414.6Z"/><path fill="rgb(183,9,9)" fill-rule="evenodd" d="M478.5 371.5 478.4 371.5 478.5 371.5Z M479.5 372.1 479.2 372 479.6 372 479.5 372.1Z M480.5 372.6 479.9 372.5 480 372.4 480.5 372.5 480.6 372.5 480.5 372.6Z M481.5 373.3 480.8 373 481 372.8 481.5 373 481.5 373.3Z M483 374.2 481.6 373.5 482 373.3 483.5 374 483 374.2Z M484 374.8 483.3 374.5 483.5 374 484.4 374.5 484 374.8Z M539 407 484.1 375 484.5 374.6 489 377 498 382 512 390 525.5 398 538.5 406 539.3 406.5 539 407Z M540.5 407.7 539 407 539.5 406.7 540 406.9 540.9 407.5 540.5 407.7Z M541.5 408.3 540.8 408 541 407.6 541.7 408 541.5 408.3Z M543 409.2 542.5 409 541.7 408.5 542 408.3 542.5 408.5 543.2 409 543 409.2Z M544 409.6 543.4 409.5 543.5 409.3 544.1 409.5 544 409.6Z M544.5 410.1 544.3 410 544.5 409.9 544.8 410 544.5 410.1Z M545.5 410.6 545.2 410.5 545.6 410.5 545.5 410.6Z M546 411 546.1 411 546 411Z"/><path fill="rgb(175,7,7)" fill-rule="evenodd" d="M488.5 377 488 377 488.5 377Z M489.5 377.6 488.9 377.5 489 377.4 489.5 377.6Z M490 378.1 489.7 378 490 377.9 490.4 378 490 378.1Z M491 378.7 490.5 378.5 490.5 378.2 491.3 378.5 491 378.7Z M492 379.3 491.4 379 491.5 378.7 492.3 379 492 379.3Z M495.5 381.4 492.2 379.5 492.5 379.2 496 381 495.5 381.4Z M531.5 402.5 495.6 381.5 496 381 513.5 391 531 401.5 531.8 402 531.5 402.5Z M533 403.2 531.5 402.5 532 402.2 533.5 403 533 403.2Z M534 403.8 533.3 403.5 533.5 403 534.2 403.5 534 403.8Z M535.5 404.7 535 404.5 534.2 404 534.5 403.8 535 404 535.8 404.5 535.5 404.7Z M536.5 405.2 535.9 405 536 404.7 536.6 405 536.5 405.2Z M537 405.6 536.8 405.5 537 405.4 537.5 405.5 537 405.6Z M538 406.1 537.7 406 538 405.9 538.2 406 538 406.1Z M539 406.5 538.5 406.5 539 406.5Z M539.5 407 539.4 407 539.6 407 539.5 407Z"/><path fill="rgb(167,6,6)" fill-rule="evenodd" d="M497 382 496.9 382 497.2 382 497 382Z M498 382.6 497.8 382.5 498.2 382.5 498 382.6Z M499 383.1 498.5 383 499.1 383 499 383.1Z M500 383.7 499.4 383.5 499.5 383.4 500 383.5 500 383.7Z M501.5 384.7 501 384.5 500.2 384 500.5 383.9 501 384 501.9 384.5 501.5 384.7Z M502.5 385.3 501.9 385 502 384.7 502.7 385 502.5 385.3Z M503.5 386 502.7 385.5 503 385.2 503.6 385.5 503.5 386Z M505 386.8 503.5 386 504 385.8 505.4 386.5 505 386.8Z M506 387.4 505.3 387 505.5 386.6 506.3 387 506 387.4Z M508.5 388.9 506.1 387.5 506.5 387.2 509 388.5 508.5 388.9Z M512 391 508.6 389 509 388.5 512.4 390.5 512 391Z M518 394.5 512 391 512.5 390.6 515 392 518.4 394 518 394.5Z M520.5 395.9 518 394.5 518.5 394.1 519.2 394.5 520.9 395.5 520.5 395.9Z M523 397.3 520.6 396 521 395.6 521.7 396 523.4 397 523 397.3Z M524 397.9 523.2 397.5 523.5 397.1 524.2 397.5 524 397.9Z M525.5 398.7 524 398 524.5 397.8 525 398 525.8 398.5 525.5 398.7Z M526.5 399.3 525.8 399 526 398.7 526.7 399 526.5 399.3Z M528 400.2 527.5 400 526.7 399.5 527 399.3 527.5 399.5 528.3 400 528 400.2Z M529 400.7 528.4 400.5 528.5 400.3 529.1 400.5 529 400.7Z M529.5 401.1 529.3 401 529.5 400.9 529.9 401 529.5 401.1Z M530.5 401.6 530.2 401.5 530.7 401.5 530.5 401.6Z M531.5 402.1 531 402 531.5 402.1Z M532 402.5 531.9 402.5 532 402.4 532.2 402.5 532 402.5Z M533 403 532.9 403 533 403Z"/><path fill="rgb(160,5,5)" fill-rule="evenodd" d="M510 389.5 510.1 389.5 510 389.5Z M511 390 510.8 390 511.1 390 511 390Z M512 390.5 511.7 390.5 512 390.5Z M512.5 391 512.5 390.9 512.8 391 512.5 391Z M513.5 391.6 513.3 391.5 513.7 391.5 513.5 391.6Z M514.5 392.1 514.2 392 514.6 392 514.5 392.1Z M515.5 392.5 515 392.5 515.5 392.5Z M516 393.1 515.9 393 516.2 393 516 393.1Z M517 393.6 516.8 393.5 517.1 393.5 517 393.6Z M518 394.1 517.5 394 518 394.1Z M518.5 394.5 518.4 394.5 518.5 394.4 518.8 394.5 518.5 394.5Z M519.5 395.1 519.3 395 519.6 395 519.5 395.1Z M520.5 395.5 520.3 395.5 520.5 395.5Z M521 396 521.1 396 521 396Z M522 396.5 521.9 396.5 522.1 396.5 522 396.5Z"/>
</g>
<rect x="415.0" y="290.0" width="212.80" height="198.20" fill="none" stroke="#262626" stroke-width="0.6" stroke-opacity="0.8"/>
<rect x="652.6" y="290.0" width="14.10" height="198.20" fill="url(#cgd)" stroke="#262626" stroke-width="0.6" stroke-opacity="0.7"/>
<text transform="translate(671.5,494.3) scale(1,1.07)" text-anchor="start" font-size="15.2" fill="#333333">0 (%)</text>
<text transform="translate(671.5,454.7) scale(1,1.07)" text-anchor="start" font-size="15.2" fill="#333333">20</text>
<line x1="664.2" y1="448.6" x2="666.7" y2="448.6" stroke="#262626" stroke-width="0.6"/>
<text transform="translate(671.5,415.0) scale(1,1.07)" text-anchor="start" font-size="15.2" fill="#333333">40</text>
<line x1="664.2" y1="408.9" x2="666.7" y2="408.9" stroke="#262626" stroke-width="0.6"/>
<text transform="translate(671.5,375.4) scale(1,1.07)" text-anchor="start" font-size="15.2" fill="#333333">60</text>
<line x1="664.2" y1="369.3" x2="666.7" y2="369.3" stroke="#262626" stroke-width="0.6"/>
<text transform="translate(671.5,335.8) scale(1,1.07)" text-anchor="start" font-size="15.2" fill="#333333">80</text>
<line x1="664.2" y1="329.6" x2="666.7" y2="329.6" stroke="#262626" stroke-width="0.6"/>
<text transform="translate(671.5,296.1) scale(1,1.07)" text-anchor="start" font-size="15.2" fill="#333333">100</text>
<text transform="translate(47.9,57.0) scale(1,1.07)" text-anchor="end" font-size="16.0" fill="#333333">50</text>
<text transform="translate(47.9,99.7) scale(1,1.07)" text-anchor="end" font-size="16.0" fill="#333333">100</text>
<text transform="translate(47.9,142.7) scale(1,1.07)" text-anchor="end" font-size="16.0" fill="#333333">150</text>
<text transform="translate(47.9,185.7) scale(1,1.07)" text-anchor="end" font-size="16.0" fill="#333333">200</text>
<text transform="translate(47.9,228.4) scale(1,1.07)" text-anchor="end" font-size="16.0" fill="#333333">250</text>
<text transform="translate(54.0,244.6) scale(1,1.07)" text-anchor="middle" font-size="16.0" fill="#333333">0.2</text>
<text transform="translate(127.0,244.6) scale(1,1.07)" text-anchor="middle" font-size="16.0" fill="#333333">0.4</text>
<text transform="translate(200.0,244.6) scale(1,1.07)" text-anchor="middle" font-size="16.0" fill="#333333">0.6</text>
<text transform="translate(272.8,244.6) scale(1,1.07)" text-anchor="middle" font-size="16.0" fill="#333333">0.8</text>
<text x="160.5" y="265.2" text-anchor="middle" font-size="18.8" fill="#333333" >Duty cycle</text>
<text x="0.0" y="0.0" text-anchor="middle" font-size="18.8" fill="#333333" transform="translate(15.2,122.5) rotate(-90)">Grating thickness (nm)</text>
<text x="56.0" y="16.3" text-anchor="start" font-size="20.5" fill="#111" >(a)</text>
<text transform="translate(404.5,30.8) scale(1,1.07)" text-anchor="end" font-size="16.0" fill="#333333">0.2</text>
<text transform="translate(404.5,96.9) scale(1,1.07)" text-anchor="end" font-size="16.0" fill="#333333">0.4</text>
<text transform="translate(404.5,163.1) scale(1,1.07)" text-anchor="end" font-size="16.0" fill="#333333">0.6</text>
<text transform="translate(404.5,229.2) scale(1,1.07)" text-anchor="end" font-size="16.0" fill="#333333">0.8</text>
<text transform="translate(410.7,244.6) scale(1,1.07)" text-anchor="middle" font-size="16.0" fill="#333333">1500</text>
<text transform="translate(519.2,244.6) scale(1,1.07)" text-anchor="middle" font-size="16.0" fill="#333333">1550</text>
<text transform="translate(627.8,244.6) scale(1,1.07)" text-anchor="middle" font-size="16.0" fill="#333333">1600</text>
<text x="519.2" y="265.2" text-anchor="middle" font-size="18.8" fill="#333333" >Wavelength (nm)</text>
<text x="0.0" y="0.0" text-anchor="middle" font-size="18.8" fill="#333333" transform="translate(375.9,123.3) rotate(-90)">Duty cycle</text>
<text x="411.8" y="16.6" text-anchor="start" font-size="20.5" fill="#111" >(b)</text>
<text transform="translate(43.6,296.6) scale(1,1.07)" text-anchor="end" font-size="16.0" fill="#333333">20</text>
<text transform="translate(43.6,362.7) scale(1,1.07)" text-anchor="end" font-size="16.0" fill="#333333">40</text>
<text transform="translate(43.6,428.7) scale(1,1.07)" text-anchor="end" font-size="16.0" fill="#333333">60</text>
<text transform="translate(43.6,494.8) scale(1,1.07)" text-anchor="end" font-size="16.0" fill="#333333">80</text>
<text transform="translate(50.1,509.5) scale(1,1.07)" text-anchor="middle" font-size="16.0" fill="#333333">1500</text>
<text transform="translate(161.0,509.5) scale(1,1.07)" text-anchor="middle" font-size="16.0" fill="#333333">1550</text>
<text transform="translate(272.0,509.5) scale(1,1.07)" text-anchor="middle" font-size="16.0" fill="#333333">1600</text>
<text x="161.0" y="530.5" text-anchor="middle" font-size="18.8" fill="#333333" >Wavelength (nm)</text>
<text x="0.0" y="0.0" text-anchor="middle" font-size="18.8" fill="#333333" transform="translate(15.2,389.1) rotate(-90)">Oxide layer thickness (nm)</text>
<text x="56.0" y="280.6" text-anchor="start" font-size="20.5" fill="#111" >(c)</text>
<text transform="translate(409.0,330.5) scale(1,1.07)" text-anchor="end" font-size="16.0" fill="#333333">80</text>
<text transform="translate(409.0,397.4) scale(1,1.07)" text-anchor="end" font-size="16.0" fill="#333333">100</text>
<text transform="translate(409.0,463.3) scale(1,1.07)" text-anchor="end" font-size="16.0" fill="#333333">120</text>
<text transform="translate(415.0,509.5) scale(1,1.07)" text-anchor="middle" font-size="16.0" fill="#333333">1500</text>
<text transform="translate(521.4,509.5) scale(1,1.07)" text-anchor="middle" font-size="16.0" fill="#333333">1550</text>
<text transform="translate(627.8,509.5) scale(1,1.07)" text-anchor="middle" font-size="16.0" fill="#333333">1600</text>
<text x="521.4" y="530.5" text-anchor="middle" font-size="18.8" fill="#333333" >Wavelength (nm)</text>
<text x="0.0" y="0.0" text-anchor="middle" font-size="18.8" fill="#333333" transform="translate(376.0,388.0) rotate(-90)">Cap layer thickness (nm)</text>
<text x="412.1" y="280.6" text-anchor="start" font-size="20.5" fill="#111" >(d)</text>
<path d="M127.0 222.8v-2.4M127.0 24.0v2.4M200.0 222.8v-2.4M200.0 24.0v2.4M54.0 50.8h2.4M272.8 50.8h-2.4M54.0 93.5h2.4M272.8 93.5h-2.4M54.0 136.5h2.4M272.8 136.5h-2.4M54.0 179.5h2.4M272.8 179.5h-2.4" stroke="#262626" stroke-width="0.7" stroke-opacity="0.7" fill="none"/>
<path d="M519.2 222.6v-2.4M519.2 24.2v2.4M410.7 90.3h2.4M627.8 90.3h-2.4M410.7 156.5h2.4M627.8 156.5h-2.4" stroke="#262626" stroke-width="0.7" stroke-opacity="0.7" fill="none"/>
<path d="M161.0 488.2v-2.4M161.0 290.0v2.4M50.1 356.1h2.4M272.0 356.1h-2.4M50.1 422.1h2.4M272.0 422.1h-2.4" stroke="#262626" stroke-width="0.7" stroke-opacity="0.7" fill="none"/>
<path d="M521.4 488.2v-2.4M521.4 290.0v2.4M415.0 323.5h2.4M627.8 323.5h-2.4M415.0 390.0h2.4M627.8 390.0h-2.4M415.0 456.3h2.4M627.8 456.3h-2.4" stroke="#262626" stroke-width="0.7" stroke-opacity="0.7" fill="none"/>
<path d="M91.2 101.6H200.3" stroke="#fff" stroke-width="1.3" stroke-dasharray="4.4 1.6 2.0 2.0" fill="none" stroke-dashoffset="7.0"/><path d="M200.3 101.6V119.2" stroke="#fff" stroke-width="1.3" stroke-dasharray="4.4 1.6 2.0 2.0" fill="none" stroke-dashoffset="1.0"/><path d="M91.2 119.2H200.3" stroke="#fff" stroke-width="1.3" stroke-dasharray="4.4 1.6 2.0 2.0" fill="none" stroke-dashoffset="3.4"/><path d="M91.2 101.6V119.2" stroke="#fff" stroke-width="1.3" stroke-dasharray="4.4 1.6 2.0 2.0" fill="none" stroke-dashoffset="7.3"/>
<path d="M507.4 56.8H530.5" stroke="#fff" stroke-width="1.3" stroke-dasharray="4.4 1.6 2.0 2.0" fill="none" stroke-dashoffset="7.0"/><path d="M530.5 56.8V156.3" stroke="#fff" stroke-width="1.3" stroke-dasharray="4.4 1.6 2.0 2.0" fill="none" stroke-dashoffset="1.0"/><path d="M507.4 156.3H530.5" stroke="#fff" stroke-width="1.3" stroke-dasharray="4.4 1.6 2.0 2.0" fill="none" stroke-dashoffset="3.4"/><path d="M507.4 56.8V156.3" stroke="#fff" stroke-width="1.3" stroke-dasharray="4.4 1.6 2.0 2.0" fill="none" stroke-dashoffset="7.3"/>
</svg></body></html>
